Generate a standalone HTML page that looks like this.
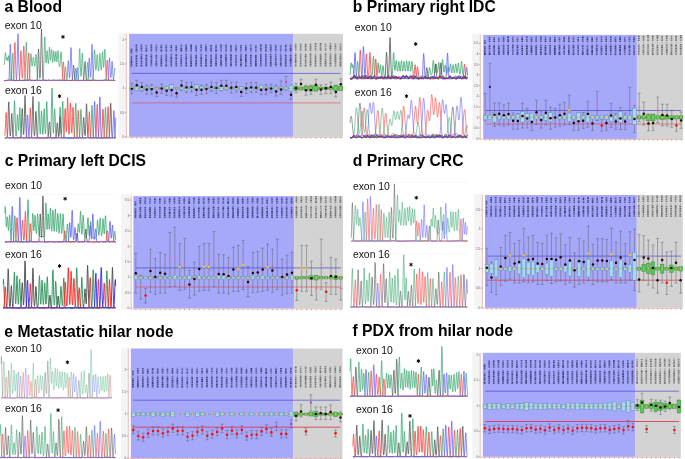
<!DOCTYPE html><html><head><meta charset="utf-8"><style>html,body{margin:0;padding:0;background:#fff;}body{width:685px;height:459px;overflow:hidden;}svg{display:block;font-family:"Liberation Sans", sans-serif;will-change:transform;}</style></head><body>
<svg width="685" height="459" viewBox="0 0 685 459">
<rect width="685" height="459" fill="#fff"/>
<rect x="118.5" y="33.3" width="8.5" height="105" fill="#f4f4f4"/>
<rect x="129.1" y="33.8" width="164" height="103" fill="#a6a8fa"/>
<rect x="293.1" y="33.8" width="49.9" height="103" fill="#d3d3d3"/>
<line x1="126.4" y1="33.8" x2="126.4" y2="137.6" stroke="#e6aaaa" stroke-width="0.7"/>
<line x1="126.4" y1="137.3" x2="343" y2="137.3" stroke="#e8a8a8" stroke-width="0.7"/>
<line x1="124.8" y1="136.7" x2="126.4" y2="136.7" stroke="#777" stroke-width="0.5"/>
<text x="124.4" y="137.8" font-size="3.2" fill="#666" text-anchor="end">0</text>
<line x1="124.8" y1="112.4" x2="126.4" y2="112.4" stroke="#777" stroke-width="0.5"/>
<text x="124.4" y="113.5" font-size="3.2" fill="#666" text-anchor="end">0.5</text>
<line x1="124.8" y1="88.1" x2="126.4" y2="88.1" stroke="#777" stroke-width="0.5"/>
<text x="124.4" y="89.2" font-size="3.2" fill="#666" text-anchor="end">1</text>
<line x1="124.8" y1="63.8" x2="126.4" y2="63.8" stroke="#777" stroke-width="0.5"/>
<text x="124.4" y="64.9" font-size="3.2" fill="#666" text-anchor="end">1.5</text>
<line x1="124.8" y1="39.5" x2="126.4" y2="39.5" stroke="#777" stroke-width="0.5"/>
<text x="124.4" y="40.6" font-size="3.2" fill="#666" text-anchor="end">2</text>
<line x1="131.8" y1="137.3" x2="131.8" y2="138.6" stroke="#666" stroke-width="0.5"/>
<line x1="136.78" y1="137.3" x2="136.78" y2="138.6" stroke="#666" stroke-width="0.5"/>
<line x1="141.75" y1="137.3" x2="141.75" y2="138.6" stroke="#666" stroke-width="0.5"/>
<line x1="146.73" y1="137.3" x2="146.73" y2="138.6" stroke="#666" stroke-width="0.5"/>
<line x1="151.7" y1="137.3" x2="151.7" y2="138.6" stroke="#666" stroke-width="0.5"/>
<line x1="156.68" y1="137.3" x2="156.68" y2="138.6" stroke="#666" stroke-width="0.5"/>
<line x1="161.66" y1="137.3" x2="161.66" y2="138.6" stroke="#666" stroke-width="0.5"/>
<line x1="166.63" y1="137.3" x2="166.63" y2="138.6" stroke="#666" stroke-width="0.5"/>
<line x1="171.61" y1="137.3" x2="171.61" y2="138.6" stroke="#666" stroke-width="0.5"/>
<line x1="176.58" y1="137.3" x2="176.58" y2="138.6" stroke="#666" stroke-width="0.5"/>
<line x1="181.56" y1="137.3" x2="181.56" y2="138.6" stroke="#666" stroke-width="0.5"/>
<line x1="186.54" y1="137.3" x2="186.54" y2="138.6" stroke="#666" stroke-width="0.5"/>
<line x1="191.51" y1="137.3" x2="191.51" y2="138.6" stroke="#666" stroke-width="0.5"/>
<line x1="196.49" y1="137.3" x2="196.49" y2="138.6" stroke="#666" stroke-width="0.5"/>
<line x1="201.46" y1="137.3" x2="201.46" y2="138.6" stroke="#666" stroke-width="0.5"/>
<line x1="206.44" y1="137.3" x2="206.44" y2="138.6" stroke="#666" stroke-width="0.5"/>
<line x1="211.42" y1="137.3" x2="211.42" y2="138.6" stroke="#666" stroke-width="0.5"/>
<line x1="216.39" y1="137.3" x2="216.39" y2="138.6" stroke="#666" stroke-width="0.5"/>
<line x1="221.37" y1="137.3" x2="221.37" y2="138.6" stroke="#666" stroke-width="0.5"/>
<line x1="226.34" y1="137.3" x2="226.34" y2="138.6" stroke="#666" stroke-width="0.5"/>
<line x1="231.32" y1="137.3" x2="231.32" y2="138.6" stroke="#666" stroke-width="0.5"/>
<line x1="236.3" y1="137.3" x2="236.3" y2="138.6" stroke="#666" stroke-width="0.5"/>
<line x1="241.27" y1="137.3" x2="241.27" y2="138.6" stroke="#666" stroke-width="0.5"/>
<line x1="246.25" y1="137.3" x2="246.25" y2="138.6" stroke="#666" stroke-width="0.5"/>
<line x1="251.22" y1="137.3" x2="251.22" y2="138.6" stroke="#666" stroke-width="0.5"/>
<line x1="256.2" y1="137.3" x2="256.2" y2="138.6" stroke="#666" stroke-width="0.5"/>
<line x1="261.18" y1="137.3" x2="261.18" y2="138.6" stroke="#666" stroke-width="0.5"/>
<line x1="266.15" y1="137.3" x2="266.15" y2="138.6" stroke="#666" stroke-width="0.5"/>
<line x1="271.13" y1="137.3" x2="271.13" y2="138.6" stroke="#666" stroke-width="0.5"/>
<line x1="276.1" y1="137.3" x2="276.1" y2="138.6" stroke="#666" stroke-width="0.5"/>
<line x1="281.08" y1="137.3" x2="281.08" y2="138.6" stroke="#666" stroke-width="0.5"/>
<line x1="286.06" y1="137.3" x2="286.06" y2="138.6" stroke="#666" stroke-width="0.5"/>
<line x1="291.03" y1="137.3" x2="291.03" y2="138.6" stroke="#666" stroke-width="0.5"/>
<line x1="296.01" y1="137.3" x2="296.01" y2="138.6" stroke="#666" stroke-width="0.5"/>
<line x1="300.98" y1="137.3" x2="300.98" y2="138.6" stroke="#666" stroke-width="0.5"/>
<line x1="305.96" y1="137.3" x2="305.96" y2="138.6" stroke="#666" stroke-width="0.5"/>
<line x1="310.94" y1="137.3" x2="310.94" y2="138.6" stroke="#666" stroke-width="0.5"/>
<line x1="315.91" y1="137.3" x2="315.91" y2="138.6" stroke="#666" stroke-width="0.5"/>
<line x1="320.89" y1="137.3" x2="320.89" y2="138.6" stroke="#666" stroke-width="0.5"/>
<line x1="325.86" y1="137.3" x2="325.86" y2="138.6" stroke="#666" stroke-width="0.5"/>
<line x1="330.84" y1="137.3" x2="330.84" y2="138.6" stroke="#666" stroke-width="0.5"/>
<line x1="335.82" y1="137.3" x2="335.82" y2="138.6" stroke="#666" stroke-width="0.5"/>
<line x1="340.79" y1="137.3" x2="340.79" y2="138.6" stroke="#666" stroke-width="0.5"/>
<path d="M130.6 65.4h1.7v1.2h-1.7zM130.6 61.6h1.7v1.6h-1.7zM130.6 60.2h1.7v1.1h-1.7zM130.6 50h1.7v1.4h-1.7zM135.6 62.9h1.7v1.7h-1.7zM135.6 60.9h1.7v1.4h-1.7zM135.6 57.4h1.7v1.3h-1.7zM135.6 50.2h1.7v1.4h-1.7zM135.6 48.6h1.7v1.2h-1.7zM140.6 65.1h1.7v1.5h-1.7zM140.6 57.3h1.7v1.7h-1.7zM140.6 54.3h1.7v0.8h-1.7zM145.5 63.6h1.7v1.1h-1.7zM145.5 54.7h1.7v1.6h-1.7zM145.5 49.9h1.7v1.6h-1.7zM150.5 55.4h1.7v1.9h-1.7zM150.5 50.6h1.7v1h-1.7zM155.5 61.3h1.7v1.3h-1.7zM155.9 54.3h0.8v0.3h-0.8zM155.9 44.6h0.8v0.4h-0.8zM160.5 62.9h1.7v1.6h-1.7zM160.5 61h1.7v1.4h-1.7zM160.5 59.1h1.7v1.5h-1.7zM160.5 50.1h1.7v1.5h-1.7zM160.5 46.4h1.7v1.5h-1.7zM165.4 65.2h1.7v1.4h-1.7zM165.4 59.5h1.7v1.6h-1.7zM165.4 50.2h1.7v1.3h-1.7zM165.4 45.4h1.7v1.1h-1.7zM165.9 44.6h0.8v0.4h-0.8zM170.4 57.3h1.7v1.8h-1.7zM170.4 46.9h1.7v1.2h-1.7zM175.4 48.9h1.7v1.1h-1.7zM175.4 46.9h1.7v1.6h-1.7zM180.4 60.9h1.7v1.7h-1.7zM180.4 58.7h1.7v1.7h-1.7zM180.4 49.8h1.7v1.8h-1.7zM180.4 47.9h1.7v1.4h-1.7zM185.3 63.3h1.7v1.2h-1.7zM185.3 57.5h1.7v1.8h-1.7zM185.3 54.3h1.7v0.7h-1.7zM185.3 48.3h1.7v1.5h-1.7zM190.3 64.9h1.7v1.7h-1.7zM190.3 62.9h1.7v1.7h-1.7zM190.3 60.7h1.7v1.8h-1.7zM190.3 55.4h1.7v1.1h-1.7zM190.3 45.7h1.7v1.7h-1.7zM190.3 44.6h1.7v0.8h-1.7zM195.3 62.5h1.7v1.9h-1.7zM195.3 56.4h1.7v1.5h-1.7zM195.3 48.3h1.7v1h-1.7zM200.3 59.5h1.7v1.2h-1.7zM200.3 57.2h1.7v1.9h-1.7zM205.2 64.9h1.7v1.7h-1.7zM205.2 63.2h1.7v1.3h-1.7zM205.2 61.3h1.7v1.5h-1.7zM205.2 58.9h1.7v1.9h-1.7zM205.2 48.2h1.7v1.6h-1.7zM210.2 64.8h1.7v1.8h-1.7zM210.2 60.7h1.7v1.7h-1.7zM210.2 59.1h1.7v1.2h-1.7zM210.2 46.4h1.7v1.2h-1.7zM210.2 45h1.7v1.1h-1.7zM215.2 63h1.7v1.7h-1.7zM215.2 61.2h1.7v1.4h-1.7zM215.2 57.5h1.7v1.6h-1.7zM215.2 54.3h1.7v0.9h-1.7zM215.2 49.8h1.7v1.7h-1.7zM220.2 63.5h1.7v1.4h-1.7zM220.2 61.5h1.7v1.7h-1.7zM220.2 56.6h1.7v1.6h-1.7zM220.2 55.1h1.7v1.1h-1.7zM225.1 58.6h1.7v1.6h-1.7zM225.1 56.4h1.7v1.8h-1.7zM230.1 63.7h1.7v1.3h-1.7zM230.1 58.4h1.7v1.6h-1.7zM230.1 56.7h1.7v1.4h-1.7zM230.1 54.4h1.7v1.9h-1.7zM230.1 46.1h1.7v1.5h-1.7zM235.1 56.4h1.7v1.2h-1.7zM235.1 48.2h1.7v1.6h-1.7zM240.1 65.4h1.7v1.2h-1.7zM240.1 63.4h1.7v1.5h-1.7zM240.1 59.1h1.7v1.9h-1.7zM245 64.8h1.7v1.8h-1.7zM245 60.6h1.7v1.6h-1.7zM245 58.5h1.7v1.7h-1.7zM245 54.4h1.7v1.5h-1.7zM245 48.5h1.7v1.5h-1.7zM250 54.8h1.7v1.4h-1.7zM255 65.2h1.7v1.4h-1.7zM255 63.1h1.7v1.9h-1.7zM255 61.1h1.7v1.5h-1.7zM255 56.7h1.7v1.6h-1.7zM255 55h1.7v1.4h-1.7zM260 59.9h1.7v1.3h-1.7zM260 57.7h1.7v1.8h-1.7zM260 54.3h1.7v1h-1.7zM260 44.6h1.7v1.2h-1.7zM265 59.2h1.7v1.4h-1.7zM265 54.3h1.7v0.9h-1.7zM269.9 63.6h1.7v1.2h-1.7zM269.9 61.9h1.7v1.4h-1.7zM269.9 50.6h1.7v1h-1.7zM269.9 48.4h1.7v1.7h-1.7zM274.9 63.4h1.7v1.6h-1.7zM274.9 45.6h1.7v1.1h-1.7zM284.9 63.2h1.7v1.4h-1.7zM284.9 59h1.7v1.6h-1.7zM289.8 61.2h1.7v1.2h-1.7zM289.8 59.1h1.7v1.8h-1.7zM289.8 47.9h1.7v1.8h-1.7z" fill="#2a2a62" fill-opacity="0.85"/>
<path d="M130.6 63.6h1.7v1.3h-1.7zM130.6 48.5h1.7v1.2h-1.7zM135.6 65.1h1.7v1.5h-1.7zM135.6 59.2h1.7v1.2h-1.7zM135.6 55h1.7v1.9h-1.7zM135.6 44.6h1.7v1.3h-1.7zM140.6 63.2h1.7v1.4h-1.7zM140.6 61.1h1.7v1.7h-1.7zM140.6 47.7h1.7v1.8h-1.7zM140.6 46.1h1.7v1.2h-1.7zM140.6 44.6h1.7v0.9h-1.7zM145.5 65.1h1.7v1.5h-1.7zM145.5 61.9h1.7v1.3h-1.7zM145.5 60.1h1.7v1.4h-1.7zM145.5 58.1h1.7v1.6h-1.7zM145.5 47.9h1.7v1.7h-1.7zM150.5 63.2h1.7v1.6h-1.7zM150.5 61.2h1.7v1.7h-1.7zM150.5 59.6h1.7v1.3h-1.7zM150.5 48.7h1.7v1.4h-1.7zM150.5 46.4h1.7v1.8h-1.7zM150.5 44.6h1.7v1.3h-1.7zM155.5 65.5h1.7v1.1h-1.7zM155.5 63.1h1.7v1.8h-1.7zM155.5 54.9h1.7v1.9h-1.7zM155.5 48.6h1.7v1.2h-1.7zM155.5 45.4h1.7v1.2h-1.7zM160.5 64.9h1.7v1.7h-1.7zM160.5 44.7h1.7v1.1h-1.7zM165.4 57.8h1.7v1.3h-1.7zM165.4 54.3h1.7v1.1h-1.7zM165.4 48.6h1.7v1.2h-1.7zM165.4 47h1.7v1.1h-1.7zM170.4 65.3h1.7v1.3h-1.7zM170.4 61.3h1.7v1.9h-1.7zM170.4 59.4h1.7v1.5h-1.7zM170.4 54.3h1.7v0.8h-1.7zM170.4 44.9h1.7v1.5h-1.7zM175.4 65.2h1.7v1.4h-1.7zM175.4 62.9h1.7v1.8h-1.7zM175.4 61h1.7v1.5h-1.7zM175.4 57.8h1.7v1.2h-1.7zM175.4 56.4h1.7v1.2h-1.7zM175.4 54.3h1.7v1.7h-1.7zM175.4 50.5h1.7v1.1h-1.7zM180.4 63.1h1.7v1.1h-1.7zM180.4 44.8h1.7v1h-1.7zM185.3 64.9h1.7v1.7h-1.7zM185.3 50.3h1.7v1.3h-1.7zM185.3 46.2h1.7v1.7h-1.7zM185.3 44.6h1.7v1.1h-1.7zM190.3 57h1.7v1.3h-1.7zM190.8 54.3h0.8v0.7h-0.8zM190.3 47.8h1.7v1.6h-1.7zM195.3 60.3h1.7v1.8h-1.7zM195.3 54.7h1.7v1.3h-1.7zM195.3 49.8h1.7v1.8h-1.7zM200.3 65.1h1.7v1.5h-1.7zM200.3 62.8h1.7v1.7h-1.7zM200.3 55.4h1.7v1.2h-1.7zM200.3 54.3h1.7v0.7h-1.7zM200.3 46.4h1.7v1.6h-1.7zM205.2 54.8h1.7v1.6h-1.7zM205.2 50.3h1.7v1.3h-1.7zM210.2 62.7h1.7v1.6h-1.7zM210.2 55.1h1.7v1.7h-1.7zM210.2 49.8h1.7v1.8h-1.7zM210.2 47.9h1.7v1.6h-1.7zM215.2 59.4h1.7v1.4h-1.7zM215.2 46.1h1.7v1.7h-1.7zM220.2 60h1.7v1.2h-1.7zM220.6 54.3h0.8v0.4h-0.8zM220.2 44.6h1.7v1.7h-1.7zM225.1 65.2h1.7v1.4h-1.7zM225.1 60.5h1.7v1.8h-1.7zM225.1 48.6h1.7v1.1h-1.7zM230.1 65.3h1.7v1.3h-1.7zM230.1 62h1.7v1.5h-1.7zM230.1 60.3h1.7v1.3h-1.7zM230.1 50.1h1.7v1.4h-1.7zM235.1 63.5h1.7v1.5h-1.7zM235.1 61.8h1.7v1.1h-1.7zM235.1 60.2h1.7v1.2h-1.7zM235.1 55h1.7v1.1h-1.7zM240.1 57.3h1.7v1.4h-1.7zM240.1 54.3h1.7v1.1h-1.7zM240.1 46.9h1.7v1.3h-1.7zM240.1 44.9h1.7v1.5h-1.7zM245 56.3h1.7v1.9h-1.7zM245 46.9h1.7v1.3h-1.7zM245 45.5h1.7v1.1h-1.7zM250 62.9h1.7v1.5h-1.7zM250 60.6h1.7v1.8h-1.7zM250 47.9h1.7v1.8h-1.7zM250 44.6h1.7v1h-1.7zM255 58.8h1.7v1.9h-1.7zM255 50.2h1.7v1.4h-1.7zM255 46.8h1.7v1.1h-1.7zM260 65.2h1.7v1.4h-1.7zM260 55.6h1.7v1.7h-1.7zM260 48h1.7v1.8h-1.7zM260 46.2h1.7v1.2h-1.7zM265 61.2h1.7v1.3h-1.7zM265 57.6h1.7v1.2h-1.7zM265 55.5h1.7v1.5h-1.7zM265 50.1h1.7v1.4h-1.7zM265 46.8h1.7v1.4h-1.7zM265 44.6h1.7v1.6h-1.7zM269.9 65.3h1.7v1.3h-1.7zM269.9 60h1.7v1.5h-1.7zM269.9 57.6h1.7v1.9h-1.7zM269.9 55.4h1.7v1.8h-1.7zM269.9 54.3h1.7v0.8h-1.7zM269.9 46.6h1.7v1.4h-1.7zM274.9 61.4h1.7v1.8h-1.7zM274.9 59.5h1.7v1.3h-1.7zM274.9 57.7h1.7v1.5h-1.7zM274.9 54.3h1.7v1.2h-1.7zM274.9 50.5h1.7v1.1h-1.7zM274.9 48.9h1.7v1.1h-1.7zM274.9 47.2h1.7v1.2h-1.7zM275.4 44.6h0.8v0.5h-0.8zM279.9 63.1h1.7v1.8h-1.7zM279.9 61.7h1.7v1.1h-1.7zM279.9 57.8h1.7v1.9h-1.7zM284.9 65h1.7v1.6h-1.7zM284.9 61.1h1.7v1.7h-1.7zM284.9 57h1.7v1.6h-1.7zM284.9 55h1.7v1.6h-1.7zM285.3 54.3h0.8v0.4h-0.8zM284.9 50.5h1.7v1h-1.7zM284.9 49.1h1.7v1.2h-1.7zM284.9 45.6h1.7v1.4h-1.7zM284.9 44.6h1.7v0.7h-1.7zM289.8 55.1h1.7v1.4h-1.7zM290.3 54.3h0.8v0.5h-0.8zM289.8 49.9h1.7v1.6h-1.7zM289.8 46.1h1.7v1.3h-1.7zM289.8 44.6h1.7v1h-1.7z" fill="#2a2a62" fill-opacity="0.71"/>
<path d="M130.6 58.1h1.7v1.7h-1.7zM130.6 56.1h1.7v1.6h-1.7zM131.1 54.6h0.8v0.6h-0.8zM130.6 51.7h1.7v1.7h-1.7zM136 52.8h0.8v0.6h-0.8zM135.6 46.5h1.7v1.8h-1.7zM140.6 59.2h1.7v1.5h-1.7zM140.6 55.5h1.7v1.4h-1.7zM141 52.8h0.8v0.6h-0.8zM140.6 49.9h1.7v1.7h-1.7zM145.5 56.6h1.7v1.1h-1.7zM146 52.8h0.8v0.6h-0.8zM145.5 46.6h1.7v1h-1.7zM145.5 44.9h1.7v1.2h-1.7zM150.5 65.4h1.7v1.2h-1.7zM150.5 57.8h1.7v1.3h-1.7zM150.5 54.3h1.7v0.8h-1.7zM151 52.8h0.8v0.6h-0.8zM155.5 59.4h1.7v1.4h-1.7zM155.5 57.3h1.7v1.8h-1.7zM155.9 52.8h0.8v0.6h-0.8zM155.5 50.2h1.7v1.4h-1.7zM155.5 47.1h1.7v1.2h-1.7zM160.5 57.1h1.7v1.7h-1.7zM160.5 54.9h1.7v1.8h-1.7zM160.9 52.8h0.8v0.6h-0.8zM160.5 48.4h1.7v1.3h-1.7zM165.4 63.7h1.7v1.2h-1.7zM165.4 61.4h1.7v1.8h-1.7zM165.4 55.7h1.7v1.8h-1.7zM165.9 52.8h0.8v0.6h-0.8zM170.4 63.4h1.7v1.6h-1.7zM170.4 55.5h1.7v1.2h-1.7zM170.9 52.8h0.8v0.6h-0.8zM170.4 50.1h1.7v1.5h-1.7zM170.4 48.4h1.7v1.2h-1.7zM175.4 59.3h1.7v1.3h-1.7zM175.8 52.8h0.8v0.6h-0.8zM175.4 45.1h1.7v1.3h-1.7zM180.4 64.8h1.7v1.8h-1.7zM180.4 56.9h1.7v1.4h-1.7zM180.4 54.8h1.7v1.6h-1.7zM180.8 52.8h0.8v0.6h-0.8zM180.4 46.2h1.7v1.3h-1.7zM185.3 61.4h1.7v1.6h-1.7zM185.3 59.7h1.7v1.5h-1.7zM185.3 55.4h1.7v1.6h-1.7zM185.8 52.8h0.8v0.6h-0.8zM190.3 58.6h1.7v1.6h-1.7zM190.8 52.8h0.8v0.6h-0.8zM190.3 50h1.7v1.6h-1.7zM195.3 64.8h1.7v1.8h-1.7zM195.3 58.3h1.7v1.5h-1.7zM195.7 52.8h0.8v0.6h-0.8zM195.3 46.8h1.7v1.2h-1.7zM195.3 45.3h1.7v1.2h-1.7zM200.3 61.1h1.7v1.3h-1.7zM200.7 52.8h0.8v0.6h-0.8zM200.3 50.2h1.7v1.4h-1.7zM200.3 48.4h1.7v1.4h-1.7zM200.3 44.6h1.7v1.4h-1.7zM205.2 56.9h1.7v1.6h-1.7zM205.7 52.8h0.8v0.6h-0.8zM205.2 46.1h1.7v1.8h-1.7zM205.2 44.6h1.7v0.9h-1.7zM210.2 57.2h1.7v1.5h-1.7zM210.7 54.3h0.8v0.5h-0.8zM210.7 52.8h0.8v0.6h-0.8zM215.2 65.1h1.7v1.5h-1.7zM215.2 55.6h1.7v1.6h-1.7zM215.6 52.8h0.8v0.6h-0.8zM215.2 48.3h1.7v1.2h-1.7zM215.2 44.6h1.7v1h-1.7zM220.2 65.4h1.7v1.2h-1.7zM220.2 58.4h1.7v1.2h-1.7zM220.6 52.8h0.8v0.6h-0.8zM220.2 49.9h1.7v1.7h-1.7zM220.2 48.3h1.7v1.1h-1.7zM220.2 46.6h1.7v1.3h-1.7zM225.1 62.8h1.7v1.9h-1.7zM225.1 54.3h1.7v1.8h-1.7zM225.6 52.8h0.8v0.6h-0.8zM225.1 50h1.7v1.5h-1.7zM225.1 46.3h1.7v1.7h-1.7zM225.1 44.6h1.7v1.4h-1.7zM230.6 52.8h0.8v0.6h-0.8zM230.1 48h1.7v1.7h-1.7zM230.1 44.7h1.7v1.1h-1.7zM235.1 65.5h1.7v1.1h-1.7zM235.1 58h1.7v1.8h-1.7zM235.5 52.8h0.8v0.6h-0.8zM235.1 50.3h1.7v1.3h-1.7zM235.1 46.5h1.7v1.3h-1.7zM235.1 44.8h1.7v1.3h-1.7zM240.1 61.5h1.7v1.5h-1.7zM240.1 55.8h1.7v1.2h-1.7zM240.5 52.8h0.8v0.6h-0.8zM240.1 50.3h1.7v1.3h-1.7zM240.1 48.4h1.7v1.4h-1.7zM245 62.6h1.7v1.7h-1.7zM245.5 52.8h0.8v0.6h-0.8zM245 50.4h1.7v1.1h-1.7zM245.5 44.6h0.8v0.6h-0.8zM250 64.9h1.7v1.7h-1.7zM250 58.8h1.7v1.3h-1.7zM250 56.6h1.7v1.8h-1.7zM250.5 52.8h0.8v0.6h-0.8zM250 50.2h1.7v1.4h-1.7zM250 46.2h1.7v1.4h-1.7zM255.5 52.8h0.8v0.6h-0.8zM255 48.4h1.7v1.4h-1.7zM255 45h1.7v1.2h-1.7zM260 63h1.7v1.7h-1.7zM260 61.6h1.7v1.2h-1.7zM260.4 52.8h0.8v0.6h-0.8zM260 50.3h1.7v1.3h-1.7zM265 64.9h1.7v1.7h-1.7zM265 62.8h1.7v1.9h-1.7zM265.4 52.8h0.8v0.6h-0.8zM265 48.6h1.7v1.1h-1.7zM270.4 52.8h0.8v0.6h-0.8zM269.9 44.6h1.7v1.5h-1.7zM274.9 65.4h1.7v1.2h-1.7zM274.9 56h1.7v1.3h-1.7zM275.4 52.8h0.8v0.6h-0.8zM279.9 65.3h1.7v1.3h-1.7zM279.9 60.1h1.7v1.2h-1.7zM279.9 55.8h1.7v1.5h-1.7zM279.9 54.3h1.7v1.2h-1.7zM280.3 52.8h0.8v0.6h-0.8zM279.9 50h1.7v1.5h-1.7zM279.9 48.2h1.7v1.6h-1.7zM279.9 46.6h1.7v1.2h-1.7zM279.9 45.2h1.7v1.1h-1.7zM285.3 52.8h0.8v0.6h-0.8zM284.9 47.4h1.7v1.2h-1.7zM289.8 65h1.7v1.6h-1.7zM289.8 63h1.7v1.6h-1.7zM289.8 57h1.7v1.8h-1.7zM290.3 52.8h0.8v0.6h-0.8z" fill="#2a2a62" fill-opacity="0.57"/>
<path d="M294.8 65.3h1.7v1.3h-1.7zM294.8 59.1h1.7v1.8h-1.7zM294.8 57h1.7v1.7h-1.7zM294.8 45.1h1.7v1.6h-1.7zM294.8 43.4h1.7v1.2h-1.7zM299.8 65h1.7v1.6h-1.7zM299.8 62.9h1.7v1.7h-1.7zM299.8 61.2h1.7v1.3h-1.7zM299.8 57.6h1.7v1.5h-1.7zM299.8 45.9h1.7v1.2h-1.7zM299.8 44.1h1.7v1.3h-1.7zM300.2 43.1h0.8v0.5h-0.8zM304.8 63.3h1.7v1.2h-1.7zM304.8 54.1h1.7v1.4h-1.7zM304.8 49h1.7v1.7h-1.7zM304.8 45.3h1.7v1.7h-1.7zM304.8 43.7h1.7v1.2h-1.7zM309.7 65.4h1.7v1.2h-1.7zM309.7 59.2h1.7v1.6h-1.7zM309.7 55.3h1.7v1.4h-1.7zM309.7 48.1h1.7v1.2h-1.7zM309.7 45.9h1.7v1.8h-1.7zM309.7 44.1h1.7v1.4h-1.7zM314.7 64.9h1.7v1.7h-1.7zM314.7 62.7h1.7v1.8h-1.7zM314.7 57.8h1.7v1.3h-1.7zM315.2 53.4h0.8v0.6h-0.8zM314.7 45.9h1.7v1.1h-1.7zM314.7 44.3h1.7v1.3h-1.7zM314.7 43.1h1.7v0.9h-1.7zM319.7 62.8h1.7v1.7h-1.7zM319.7 61.1h1.7v1.2h-1.7zM319.7 59.3h1.7v1.5h-1.7zM319.7 55.6h1.7v1.7h-1.7zM319.7 53.9h1.7v1.4h-1.7zM319.7 49.7h1.7v1h-1.7zM319.7 46.7h1.7v1.1h-1.7zM319.7 44.6h1.7v1.6h-1.7zM324.7 65h1.7v1.6h-1.7zM324.7 58.7h1.7v1.6h-1.7zM324.7 49.3h1.7v1.4h-1.7zM329.6 61.4h1.7v1.3h-1.7zM329.6 59.8h1.7v1.3h-1.7zM329.6 55.3h1.7v1.8h-1.7zM329.6 45.1h1.7v1.8h-1.7zM334.6 54.8h1.7v1.4h-1.7zM339.6 63.8h1.7v1.2h-1.7zM339.6 55.5h1.7v1.9h-1.7zM339.6 47.5h1.7v1.2h-1.7z" fill="#555555" fill-opacity="0.71"/>
<path d="M294.8 63.4h1.7v1.5h-1.7zM295.3 51.9h0.8v0.6h-0.8zM294.8 49.2h1.7v1.5h-1.7zM294.8 47h1.7v1.7h-1.7zM299.8 59.5h1.7v1.4h-1.7zM299.8 55.3h1.7v1.7h-1.7zM299.8 53.4h1.7v1.5h-1.7zM300.2 51.9h0.8v0.6h-0.8zM299.8 49h1.7v1.8h-1.7zM304.8 61.9h1.7v1.1h-1.7zM304.8 58.1h1.7v1.3h-1.7zM305.2 51.9h0.8v0.6h-0.8zM309.7 57.2h1.7v1.7h-1.7zM310.2 51.9h0.8v0.6h-0.8zM310.2 43.1h0.8v0.6h-0.8zM314.7 54.5h1.7v1.3h-1.7zM315.2 51.9h0.8v0.6h-0.8zM314.7 49.5h1.7v1.2h-1.7zM314.7 47.6h1.7v1.6h-1.7zM319.7 64.8h1.7v1.8h-1.7zM320.1 51.9h0.8v0.6h-0.8zM324.7 57.2h1.7v1.1h-1.7zM324.7 55.2h1.7v1.5h-1.7zM325.1 51.9h0.8v0.6h-0.8zM324.7 47.7h1.7v1.1h-1.7zM324.7 45.7h1.7v1.4h-1.7zM324.7 43.6h1.7v1.7h-1.7zM329.6 65h1.7v1.6h-1.7zM329.6 53.5h1.7v1.2h-1.7zM330.1 51.9h0.8v0.6h-0.8zM329.6 49.5h1.7v1.2h-1.7zM329.6 43.1h1.7v1.5h-1.7zM334.6 64.7h1.7v1.9h-1.7zM334.6 62.4h1.7v1.8h-1.7zM334.6 53.4h1.7v1.1h-1.7zM335.1 51.9h0.8v0.6h-0.8zM334.6 49.7h1.7v1.1h-1.7zM334.6 47.5h1.7v1.6h-1.7zM334.6 44.3h1.7v1.4h-1.7zM339.6 59.6h1.7v1.6h-1.7zM339.6 53.5h1.7v1.6h-1.7zM340 51.9h0.8v0.6h-0.8zM339.6 49h1.7v1.7h-1.7zM339.6 46h1.7v1.2h-1.7zM339.6 44h1.7v1.6h-1.7z" fill="#555555" fill-opacity="0.57"/>
<path d="M294.8 61.3h1.7v1.6h-1.7zM294.8 54.9h1.7v1.6h-1.7zM294.8 53.4h1.7v1.1h-1.7zM299.8 47.4h1.7v1.2h-1.7zM304.8 65h1.7v1.6h-1.7zM304.8 59.9h1.7v1.7h-1.7zM304.8 55.8h1.7v1.8h-1.7zM304.8 47.6h1.7v1h-1.7zM309.7 63.5h1.7v1.4h-1.7zM309.7 61.3h1.7v1.7h-1.7zM309.7 53.4h1.7v1.4h-1.7zM309.7 49.7h1.7v1h-1.7zM314.7 61.1h1.7v1.2h-1.7zM314.7 59.4h1.7v1.4h-1.7zM314.7 56.3h1.7v1.1h-1.7zM319.7 57.6h1.7v1.3h-1.7zM319.7 48.3h1.7v1.1h-1.7zM319.7 43.1h1.7v1.1h-1.7zM324.7 62.9h1.7v1.6h-1.7zM324.7 60.7h1.7v1.7h-1.7zM324.7 53.5h1.7v1.3h-1.7zM329.6 63.1h1.7v1.5h-1.7zM329.6 57.4h1.7v1.9h-1.7zM329.6 47.3h1.7v1.8h-1.7zM334.6 60.4h1.7v1.7h-1.7zM334.6 58.4h1.7v1.5h-1.7zM334.6 56.5h1.7v1.6h-1.7zM334.6 46h1.7v1.1h-1.7zM335.1 43.1h0.8v0.7h-0.8zM339.6 65.3h1.7v1.3h-1.7zM339.6 61.7h1.7v1.8h-1.7zM339.6 57.7h1.7v1.6h-1.7zM340 43.1h0.8v0.3h-0.8z" fill="#555555" fill-opacity="0.85"/>
<line x1="131.6" y1="73.4" x2="340.7" y2="73.4" stroke="#3c3cd0" stroke-opacity="0.62" stroke-width="1"/>
<line x1="131.6" y1="102.9" x2="340.7" y2="102.9" stroke="#e83c3c" stroke-opacity="0.55" stroke-width="1.0"/>
<line x1="131.8" y1="88.3" x2="340.79" y2="88.3" stroke="#4a5470" stroke-width="0.55" stroke-dasharray="1.1 1.3"/>
<path d="M131.8 83.4V93.6M130.3 83.4h3M130.3 93.6h3" stroke="#62626e" stroke-width="0.5" fill="none"/>
<rect x="129.8" y="86.2" width="4" height="4.1" fill="#a6d8f2" stroke="#6f8fb8" stroke-width="0.5"/>
<line x1="129.8" y1="88.3" x2="133.8" y2="88.3" stroke="#6f8fb8" stroke-width="0.45"/>
<path d="M131.1 87.75l1.4 1.1M132.5 87.75l-1.4 1.1" stroke="#e8e030" stroke-width="0.7"/>
<circle cx="131.8" cy="88.8" r="1.25" fill="#1e0000"/><circle cx="131.8" cy="88.8" r="0.45" fill="#7a1010"/>
<path d="M136.78 80.3V90.3M135.28 80.3h3M135.28 90.3h3" stroke="#62626e" stroke-width="0.5" fill="none"/>
<rect x="134.78" y="86.2" width="4" height="4.1" fill="#a6d8f2" stroke="#6f8fb8" stroke-width="0.5"/>
<line x1="134.78" y1="88.3" x2="138.78" y2="88.3" stroke="#6f8fb8" stroke-width="0.45"/>
<path d="M136.08 87.75l1.4 1.1M137.48 87.75l-1.4 1.1" stroke="#e8e030" stroke-width="0.7"/>
<circle cx="136.78" cy="85.2" r="1.25" fill="#1e0000"/><circle cx="136.78" cy="85.2" r="0.45" fill="#7a1010"/>
<path d="M141.75 82.4V91.3M140.25 82.4h3M140.25 91.3h3" stroke="#62626e" stroke-width="0.5" fill="none"/>
<rect x="139.75" y="86.5" width="4" height="3.5" fill="#a6d8f2" stroke="#6f8fb8" stroke-width="0.5"/>
<line x1="139.75" y1="88.3" x2="143.75" y2="88.3" stroke="#6f8fb8" stroke-width="0.45"/>
<path d="M141.05 87.75l1.4 1.1M142.45 87.75l-1.4 1.1" stroke="#e8e030" stroke-width="0.7"/>
<circle cx="141.75" cy="87.1" r="1.25" fill="#1e0000"/><circle cx="141.75" cy="87.1" r="0.45" fill="#7a1010"/>
<path d="M146.73 85.2V94.2M145.23 85.2h3M145.23 94.2h3" stroke="#62626e" stroke-width="0.5" fill="none"/>
<rect x="144.73" y="87.1" width="4" height="2.4" fill="#a6d8f2" stroke="#6f8fb8" stroke-width="0.5"/>
<line x1="144.73" y1="88.3" x2="148.73" y2="88.3" stroke="#6f8fb8" stroke-width="0.45"/>
<path d="M146.03 87.75l1.4 1.1M147.43 87.75l-1.4 1.1" stroke="#e8e030" stroke-width="0.7"/>
<circle cx="146.73" cy="89.5" r="1.25" fill="#1e0000"/><circle cx="146.73" cy="89.5" r="0.45" fill="#7a1010"/>
<path d="M151.7 84.4V94.4M150.2 84.4h3M150.2 94.4h3" stroke="#62626e" stroke-width="0.5" fill="none"/>
<rect x="149.7" y="86.2" width="4" height="4.1" fill="#a6d8f2" stroke="#6f8fb8" stroke-width="0.5"/>
<line x1="149.7" y1="88.3" x2="153.7" y2="88.3" stroke="#6f8fb8" stroke-width="0.45"/>
<path d="M151 87.75l1.4 1.1M152.4 87.75l-1.4 1.1" stroke="#e8e030" stroke-width="0.7"/>
<circle cx="151.7" cy="89.1" r="1.25" fill="#1e0000"/><circle cx="151.7" cy="89.1" r="0.45" fill="#7a1010"/>
<path d="M156.68 87.3V96.7M155.18 87.3h3M155.18 96.7h3" stroke="#62626e" stroke-width="0.5" fill="none"/>
<path d="M155.98 87.75l1.4 1.1M157.38 87.75l-1.4 1.1" stroke="#e8e030" stroke-width="0.7"/>
<circle cx="156.68" cy="92.4" r="1.25" fill="#1e0000"/><circle cx="156.68" cy="92.4" r="0.45" fill="#7a1010"/>
<path d="M161.66 84V93.4M160.16 84h3M160.16 93.4h3" stroke="#62626e" stroke-width="0.5" fill="none"/>
<rect x="159.66" y="87.1" width="4" height="2.4" fill="#a6d8f2" stroke="#6f8fb8" stroke-width="0.5"/>
<line x1="159.66" y1="88.3" x2="163.66" y2="88.3" stroke="#6f8fb8" stroke-width="0.45"/>
<path d="M160.96 87.75l1.4 1.1M162.36 87.75l-1.4 1.1" stroke="#e8e030" stroke-width="0.7"/>
<circle cx="161.66" cy="88.6" r="1.25" fill="#1e0000"/><circle cx="161.66" cy="88.6" r="0.45" fill="#7a1010"/>
<path d="M166.63 86.8V95.4M165.13 86.8h3M165.13 95.4h3" stroke="#62626e" stroke-width="0.5" fill="none"/>
<rect x="164.63" y="86.4" width="4" height="3.4" fill="#a6d8f2" stroke="#6f8fb8" stroke-width="0.5"/>
<line x1="164.63" y1="88.3" x2="168.63" y2="88.3" stroke="#6f8fb8" stroke-width="0.45"/>
<path d="M165.93 87.75l1.4 1.1M167.33 87.75l-1.4 1.1" stroke="#e8e030" stroke-width="0.7"/>
<circle cx="166.63" cy="90.8" r="1.25" fill="#1e0000"/><circle cx="166.63" cy="90.8" r="0.45" fill="#7a1010"/>
<path d="M171.61 84.4V95.9M170.11 84.4h3M170.11 95.9h3" stroke="#62626e" stroke-width="0.5" fill="none"/>
<rect x="169.61" y="84.7" width="4" height="5.1" fill="#a6d8f2" stroke="#6f8fb8" stroke-width="0.5"/>
<line x1="169.61" y1="88.3" x2="173.61" y2="88.3" stroke="#6f8fb8" stroke-width="0.45"/>
<path d="M170.91 87.75l1.4 1.1M172.31 87.75l-1.4 1.1" stroke="#e8e030" stroke-width="0.7"/>
<circle cx="171.61" cy="90.1" r="1.25" fill="#1e0000"/><circle cx="171.61" cy="90.1" r="0.45" fill="#7a1010"/>
<path d="M176.58 87.8V97.3M175.08 87.8h3M175.08 97.3h3" stroke="#62626e" stroke-width="0.5" fill="none"/>
<path d="M175.88 87.75l1.4 1.1M177.28 87.75l-1.4 1.1" stroke="#e8e030" stroke-width="0.7"/>
<circle cx="176.58" cy="93.2" r="1.25" fill="#1e0000"/><circle cx="176.58" cy="93.2" r="0.45" fill="#7a1010"/>
<path d="M181.56 80.6V90.3M180.06 80.6h3M180.06 90.3h3" stroke="#62626e" stroke-width="0.5" fill="none"/>
<rect x="179.56" y="87.1" width="4" height="2.4" fill="#a6d8f2" stroke="#6f8fb8" stroke-width="0.5"/>
<line x1="179.56" y1="88.3" x2="183.56" y2="88.3" stroke="#6f8fb8" stroke-width="0.45"/>
<path d="M180.86 87.75l1.4 1.1M182.26 87.75l-1.4 1.1" stroke="#e8e030" stroke-width="0.7"/>
<circle cx="181.56" cy="85.4" r="1.25" fill="#1e0000"/><circle cx="181.56" cy="85.4" r="0.45" fill="#7a1010"/>
<path d="M186.54 82.4V92.6M185.04 82.4h3M185.04 92.6h3" stroke="#62626e" stroke-width="0.5" fill="none"/>
<rect x="184.54" y="86.2" width="4" height="4.1" fill="#a6d8f2" stroke="#6f8fb8" stroke-width="0.5"/>
<line x1="184.54" y1="88.3" x2="188.54" y2="88.3" stroke="#6f8fb8" stroke-width="0.45"/>
<path d="M185.84 87.75l1.4 1.1M187.24 87.75l-1.4 1.1" stroke="#e8e030" stroke-width="0.7"/>
<circle cx="186.54" cy="87.5" r="1.25" fill="#1e0000"/><circle cx="186.54" cy="87.5" r="0.45" fill="#7a1010"/>
<path d="M191.51 82V91.9M190.01 82h3M190.01 91.9h3" stroke="#62626e" stroke-width="0.5" fill="none"/>
<rect x="189.51" y="87.1" width="4" height="2.4" fill="#a6d8f2" stroke="#6f8fb8" stroke-width="0.5"/>
<line x1="189.51" y1="88.3" x2="193.51" y2="88.3" stroke="#6f8fb8" stroke-width="0.45"/>
<path d="M190.81 87.75l1.4 1.1M192.21 87.75l-1.4 1.1" stroke="#e8e030" stroke-width="0.7"/>
<circle cx="191.51" cy="87.1" r="1.25" fill="#1e0000"/><circle cx="191.51" cy="87.1" r="0.45" fill="#7a1010"/>
<path d="M196.49 84.7V95.4M194.99 84.7h3M194.99 95.4h3" stroke="#62626e" stroke-width="0.5" fill="none"/>
<rect x="194.49" y="84.7" width="4" height="5.1" fill="#a6d8f2" stroke="#6f8fb8" stroke-width="0.5"/>
<line x1="194.49" y1="88.3" x2="198.49" y2="88.3" stroke="#6f8fb8" stroke-width="0.45"/>
<path d="M195.79 87.75l1.4 1.1M197.19 87.75l-1.4 1.1" stroke="#e8e030" stroke-width="0.7"/>
<circle cx="196.49" cy="89.8" r="1.25" fill="#1e0000"/><circle cx="196.49" cy="89.8" r="0.45" fill="#7a1010"/>
<path d="M201.46 85.2V94.4M199.96 85.2h3M199.96 94.4h3" stroke="#62626e" stroke-width="0.5" fill="none"/>
<rect x="199.46" y="86.2" width="4" height="4.1" fill="#a6d8f2" stroke="#6f8fb8" stroke-width="0.5"/>
<line x1="199.46" y1="88.3" x2="203.46" y2="88.3" stroke="#6f8fb8" stroke-width="0.45"/>
<path d="M200.76 87.75l1.4 1.1M202.16 87.75l-1.4 1.1" stroke="#e8e030" stroke-width="0.7"/>
<circle cx="201.46" cy="89.8" r="1.25" fill="#1e0000"/><circle cx="201.46" cy="89.8" r="0.45" fill="#7a1010"/>
<path d="M206.44 84.4V93.6M204.94 84.4h3M204.94 93.6h3" stroke="#62626e" stroke-width="0.5" fill="none"/>
<rect x="204.44" y="87.1" width="4" height="2.4" fill="#a6d8f2" stroke="#6f8fb8" stroke-width="0.5"/>
<line x1="204.44" y1="88.3" x2="208.44" y2="88.3" stroke="#6f8fb8" stroke-width="0.45"/>
<path d="M205.74 87.75l1.4 1.1M207.14 87.75l-1.4 1.1" stroke="#e8e030" stroke-width="0.7"/>
<circle cx="206.44" cy="89.1" r="1.25" fill="#1e0000"/><circle cx="206.44" cy="89.1" r="0.45" fill="#7a1010"/>
<path d="M211.42 82.2V91.3M209.92 82.2h3M209.92 91.3h3" stroke="#62626e" stroke-width="0.5" fill="none"/>
<rect x="209.42" y="87.1" width="4" height="2.4" fill="#a6d8f2" stroke="#6f8fb8" stroke-width="0.5"/>
<line x1="209.42" y1="88.3" x2="213.42" y2="88.3" stroke="#6f8fb8" stroke-width="0.45"/>
<path d="M210.72 87.75l1.4 1.1M212.12 87.75l-1.4 1.1" stroke="#e8e030" stroke-width="0.7"/>
<circle cx="211.42" cy="87.1" r="1.25" fill="#1e0000"/><circle cx="211.42" cy="87.1" r="0.45" fill="#7a1010"/>
<path d="M216.39 82.7V93.4M214.89 82.7h3M214.89 93.4h3" stroke="#62626e" stroke-width="0.5" fill="none"/>
<rect x="214.39" y="86.2" width="4" height="4.1" fill="#a6d8f2" stroke="#6f8fb8" stroke-width="0.5"/>
<line x1="214.39" y1="88.3" x2="218.39" y2="88.3" stroke="#6f8fb8" stroke-width="0.45"/>
<path d="M215.69 87.75l1.4 1.1M217.09 87.75l-1.4 1.1" stroke="#e8e030" stroke-width="0.7"/>
<circle cx="216.39" cy="88.1" r="1.25" fill="#1e0000"/><circle cx="216.39" cy="88.1" r="0.45" fill="#7a1010"/>
<path d="M221.37 80.3V90.8M219.87 80.3h3M219.87 90.8h3" stroke="#62626e" stroke-width="0.5" fill="none"/>
<rect x="219.37" y="86.2" width="4" height="4.1" fill="#a6d8f2" stroke="#6f8fb8" stroke-width="0.5"/>
<line x1="219.37" y1="88.3" x2="223.37" y2="88.3" stroke="#6f8fb8" stroke-width="0.45"/>
<path d="M220.67 87.75l1.4 1.1M222.07 87.75l-1.4 1.1" stroke="#e8e030" stroke-width="0.7"/>
<circle cx="221.37" cy="85.7" r="1.25" fill="#1e0000"/><circle cx="221.37" cy="85.7" r="0.45" fill="#7a1010"/>
<path d="M226.34 80.3V89.8M224.84 80.3h3M224.84 89.8h3" stroke="#62626e" stroke-width="0.5" fill="none"/>
<rect x="224.34" y="87.1" width="4" height="2.4" fill="#a6d8f2" stroke="#6f8fb8" stroke-width="0.5"/>
<line x1="224.34" y1="88.3" x2="228.34" y2="88.3" stroke="#6f8fb8" stroke-width="0.45"/>
<path d="M225.64 87.75l1.4 1.1M227.04 87.75l-1.4 1.1" stroke="#e8e030" stroke-width="0.7"/>
<circle cx="226.34" cy="85.7" r="1.25" fill="#1e0000"/><circle cx="226.34" cy="85.7" r="0.45" fill="#7a1010"/>
<path d="M231.32 82.4V93.2M229.82 82.4h3M229.82 93.2h3" stroke="#62626e" stroke-width="0.5" fill="none"/>
<rect x="229.32" y="87.1" width="4" height="2.4" fill="#a6d8f2" stroke="#6f8fb8" stroke-width="0.5"/>
<line x1="229.32" y1="88.3" x2="233.32" y2="88.3" stroke="#6f8fb8" stroke-width="0.45"/>
<path d="M230.62 87.75l1.4 1.1M232.02 87.75l-1.4 1.1" stroke="#e8e030" stroke-width="0.7"/>
<circle cx="231.32" cy="87.8" r="1.25" fill="#1e0000"/><circle cx="231.32" cy="87.8" r="0.45" fill="#7a1010"/>
<path d="M236.3 82V91.9M234.8 82h3M234.8 91.9h3" stroke="#62626e" stroke-width="0.5" fill="none"/>
<rect x="234.3" y="87.1" width="4" height="2.4" fill="#a6d8f2" stroke="#6f8fb8" stroke-width="0.5"/>
<line x1="234.3" y1="88.3" x2="238.3" y2="88.3" stroke="#6f8fb8" stroke-width="0.45"/>
<path d="M235.6 87.75l1.4 1.1M237 87.75l-1.4 1.1" stroke="#e8e030" stroke-width="0.7"/>
<circle cx="236.3" cy="87.1" r="1.25" fill="#1e0000"/><circle cx="236.3" cy="87.1" r="0.45" fill="#7a1010"/>
<path d="M241.27 86.8V96.5M239.77 86.8h3M239.77 96.5h3" stroke="#62626e" stroke-width="0.5" fill="none"/>
<rect x="239.27" y="86.8" width="4" height="3" fill="#a6d8f2" stroke="#6f8fb8" stroke-width="0.5"/>
<line x1="239.27" y1="88.3" x2="243.27" y2="88.3" stroke="#6f8fb8" stroke-width="0.45"/>
<path d="M240.57 87.75l1.4 1.1M241.97 87.75l-1.4 1.1" stroke="#e8e030" stroke-width="0.7"/>
<circle cx="241.27" cy="91.9" r="1.25" fill="#1e0000"/><circle cx="241.27" cy="91.9" r="0.45" fill="#7a1010"/>
<path d="M246.25 83.4V93.4M244.75 83.4h3M244.75 93.4h3" stroke="#62626e" stroke-width="0.5" fill="none"/>
<rect x="244.25" y="87.1" width="4" height="2.4" fill="#a6d8f2" stroke="#6f8fb8" stroke-width="0.5"/>
<line x1="244.25" y1="88.3" x2="248.25" y2="88.3" stroke="#6f8fb8" stroke-width="0.45"/>
<path d="M245.55 87.75l1.4 1.1M246.95 87.75l-1.4 1.1" stroke="#e8e030" stroke-width="0.7"/>
<circle cx="246.25" cy="88.3" r="1.25" fill="#1e0000"/><circle cx="246.25" cy="88.3" r="0.45" fill="#7a1010"/>
<path d="M251.22 82.4V92.6M249.72 82.4h3M249.72 92.6h3" stroke="#62626e" stroke-width="0.5" fill="none"/>
<rect x="249.22" y="86.2" width="4" height="4.1" fill="#a6d8f2" stroke="#6f8fb8" stroke-width="0.5"/>
<line x1="249.22" y1="88.3" x2="253.22" y2="88.3" stroke="#6f8fb8" stroke-width="0.45"/>
<path d="M250.52 87.75l1.4 1.1M251.92 87.75l-1.4 1.1" stroke="#e8e030" stroke-width="0.7"/>
<circle cx="251.22" cy="87.5" r="1.25" fill="#1e0000"/><circle cx="251.22" cy="87.5" r="0.45" fill="#7a1010"/>
<path d="M256.2 82.4V92.4M254.7 82.4h3M254.7 92.4h3" stroke="#62626e" stroke-width="0.5" fill="none"/>
<rect x="254.2" y="87.1" width="4" height="2.4" fill="#a6d8f2" stroke="#6f8fb8" stroke-width="0.5"/>
<line x1="254.2" y1="88.3" x2="258.2" y2="88.3" stroke="#6f8fb8" stroke-width="0.45"/>
<path d="M255.5 87.75l1.4 1.1M256.9 87.75l-1.4 1.1" stroke="#e8e030" stroke-width="0.7"/>
<circle cx="256.2" cy="87.8" r="1.25" fill="#1e0000"/><circle cx="256.2" cy="87.8" r="0.45" fill="#7a1010"/>
<path d="M261.18 85.2V94.6M259.68 85.2h3M259.68 94.6h3" stroke="#62626e" stroke-width="0.5" fill="none"/>
<rect x="259.18" y="85.2" width="4" height="5.1" fill="#a6d8f2" stroke="#6f8fb8" stroke-width="0.5"/>
<line x1="259.18" y1="88.3" x2="263.18" y2="88.3" stroke="#6f8fb8" stroke-width="0.45"/>
<path d="M260.48 87.75l1.4 1.1M261.88 87.75l-1.4 1.1" stroke="#e8e030" stroke-width="0.7"/>
<circle cx="261.18" cy="89.8" r="1.25" fill="#1e0000"/><circle cx="261.18" cy="89.8" r="0.45" fill="#7a1010"/>
<path d="M266.15 84.3V94.4M264.65 84.3h3M264.65 94.4h3" stroke="#62626e" stroke-width="0.5" fill="none"/>
<rect x="264.15" y="87.1" width="4" height="2.4" fill="#a6d8f2" stroke="#6f8fb8" stroke-width="0.5"/>
<line x1="264.15" y1="88.3" x2="268.15" y2="88.3" stroke="#6f8fb8" stroke-width="0.45"/>
<path d="M265.45 87.75l1.4 1.1M266.85 87.75l-1.4 1.1" stroke="#e8e030" stroke-width="0.7"/>
<circle cx="266.15" cy="89.4" r="1.25" fill="#1e0000"/><circle cx="266.15" cy="89.4" r="0.45" fill="#7a1010"/>
<path d="M271.13 84.3V92.7M269.63 84.3h3M269.63 92.7h3" stroke="#62626e" stroke-width="0.5" fill="none"/>
<rect x="269.13" y="86.2" width="4" height="4.1" fill="#a6d8f2" stroke="#6f8fb8" stroke-width="0.5"/>
<line x1="269.13" y1="88.3" x2="273.13" y2="88.3" stroke="#6f8fb8" stroke-width="0.45"/>
<path d="M270.43 87.75l1.4 1.1M271.83 87.75l-1.4 1.1" stroke="#e8e030" stroke-width="0.7"/>
<circle cx="271.13" cy="88.5" r="1.25" fill="#1e0000"/><circle cx="271.13" cy="88.5" r="0.45" fill="#7a1010"/>
<path d="M276.1 85.2V96.1M274.6 85.2h3M274.6 96.1h3" stroke="#62626e" stroke-width="0.5" fill="none"/>
<rect x="274.1" y="87.1" width="4" height="2.4" fill="#a6d8f2" stroke="#6f8fb8" stroke-width="0.5"/>
<line x1="274.1" y1="88.3" x2="278.1" y2="88.3" stroke="#6f8fb8" stroke-width="0.45"/>
<path d="M275.4 87.75l1.4 1.1M276.8 87.75l-1.4 1.1" stroke="#e8e030" stroke-width="0.7"/>
<circle cx="276.1" cy="91.6" r="1.25" fill="#1e0000"/><circle cx="276.1" cy="91.6" r="0.45" fill="#7a1010"/>
<path d="M281.08 81V94.4M279.58 81h3M279.58 94.4h3" stroke="#62626e" stroke-width="0.5" fill="none"/>
<rect x="279.08" y="87.1" width="4" height="2.4" fill="#a6d8f2" stroke="#6f8fb8" stroke-width="0.5"/>
<line x1="279.08" y1="88.3" x2="283.08" y2="88.3" stroke="#6f8fb8" stroke-width="0.45"/>
<path d="M280.38 87.75l1.4 1.1M281.78 87.75l-1.4 1.1" stroke="#e8e030" stroke-width="0.7"/>
<circle cx="281.08" cy="89.4" r="1.25" fill="#1e0000"/><circle cx="281.08" cy="89.4" r="0.45" fill="#7a1010"/>
<path d="M286.06 76.5V90.2M284.56 76.5h3M284.56 90.2h3" stroke="#62626e" stroke-width="0.5" fill="none"/>
<rect x="284.06" y="87.1" width="4" height="2.4" fill="#a6d8f2" stroke="#6f8fb8" stroke-width="0.5"/>
<line x1="284.06" y1="88.3" x2="288.06" y2="88.3" stroke="#6f8fb8" stroke-width="0.45"/>
<path d="M285.36 87.75l1.4 1.1M286.76 87.75l-1.4 1.1" stroke="#e8e030" stroke-width="0.7"/>
<circle cx="286.06" cy="81.8" r="1.1" fill="#e83a9a"/>
<path d="M291.03 85.2V99.5M289.53 85.2h3M289.53 99.5h3" stroke="#62626e" stroke-width="0.5" fill="none"/>
<rect x="289.03" y="85.2" width="4" height="5.9" fill="#a6d8f2" stroke="#6f8fb8" stroke-width="0.5"/>
<line x1="289.03" y1="88.3" x2="293.03" y2="88.3" stroke="#6f8fb8" stroke-width="0.45"/>
<path d="M290.33 87.75l1.4 1.1M291.73 87.75l-1.4 1.1" stroke="#e8e030" stroke-width="0.7"/>
<circle cx="291.03" cy="94.7" r="1.25" fill="#1e0000"/><circle cx="291.03" cy="94.7" r="0.45" fill="#7a1010"/>
<path d="M296.01 83.5V92.7M294.51 83.5h3M294.51 92.7h3" stroke="#62626e" stroke-width="0.5" fill="none"/>
<rect x="294.01" y="86.2" width="4" height="4.1" fill="#5cc65c" stroke="#3a8e3a" stroke-width="0.5"/>
<line x1="294.01" y1="88.3" x2="298.01" y2="88.3" stroke="#3a8e3a" stroke-width="0.45"/>
<path d="M295.31 87.75l1.4 1.1M296.71 87.75l-1.4 1.1" stroke="#e8e030" stroke-width="0.7"/>
<circle cx="296.01" cy="88.2" r="1.25" fill="#1e0000"/><circle cx="296.01" cy="88.2" r="0.45" fill="#7a1010"/>
<path d="M300.98 79.3V90.2M299.48 79.3h3M299.48 90.2h3" stroke="#62626e" stroke-width="0.5" fill="none"/>
<rect x="298.98" y="87.1" width="4" height="2.4" fill="#5cc65c" stroke="#3a8e3a" stroke-width="0.5"/>
<line x1="298.98" y1="88.3" x2="302.98" y2="88.3" stroke="#3a8e3a" stroke-width="0.45"/>
<path d="M300.28 87.75l1.4 1.1M301.68 87.75l-1.4 1.1" stroke="#e8e030" stroke-width="0.7"/>
<circle cx="300.98" cy="84" r="1.25" fill="#1e0000"/><circle cx="300.98" cy="84" r="0.45" fill="#7a1010"/>
<path d="M305.96 85.2V95.3M304.46 85.2h3M304.46 95.3h3" stroke="#62626e" stroke-width="0.5" fill="none"/>
<rect x="303.96" y="86.2" width="4" height="4.1" fill="#5cc65c" stroke="#3a8e3a" stroke-width="0.5"/>
<line x1="303.96" y1="88.3" x2="307.96" y2="88.3" stroke="#3a8e3a" stroke-width="0.45"/>
<path d="M305.26 87.75l1.4 1.1M306.66 87.75l-1.4 1.1" stroke="#e8e030" stroke-width="0.7"/>
<circle cx="305.96" cy="90.2" r="1.25" fill="#1e0000"/><circle cx="305.96" cy="90.2" r="0.45" fill="#7a1010"/>
<path d="M310.94 85.2V94.4M309.44 85.2h3M309.44 94.4h3" stroke="#62626e" stroke-width="0.5" fill="none"/>
<rect x="308.94" y="86" width="4" height="5" fill="#5cc65c" stroke="#3a8e3a" stroke-width="0.5"/>
<line x1="308.94" y1="88.3" x2="312.94" y2="88.3" stroke="#3a8e3a" stroke-width="0.45"/>
<path d="M310.24 87.75l1.4 1.1M311.64 87.75l-1.4 1.1" stroke="#e8e030" stroke-width="0.7"/>
<circle cx="310.94" cy="89.9" r="1.25" fill="#1e0000"/><circle cx="310.94" cy="89.9" r="0.45" fill="#7a1010"/>
<path d="M315.91 79.3V91M314.41 79.3h3M314.41 91h3" stroke="#62626e" stroke-width="0.5" fill="none"/>
<rect x="313.91" y="85.2" width="4" height="5.8" fill="#5cc65c" stroke="#3a8e3a" stroke-width="0.5"/>
<line x1="313.91" y1="88.3" x2="317.91" y2="88.3" stroke="#3a8e3a" stroke-width="0.45"/>
<path d="M315.21 87.75l1.4 1.1M316.61 87.75l-1.4 1.1" stroke="#e8e030" stroke-width="0.7"/>
<circle cx="315.91" cy="84.8" r="1.25" fill="#1e0000"/><circle cx="315.91" cy="84.8" r="0.45" fill="#7a1010"/>
<path d="M320.89 84.8V94.4M319.39 84.8h3M319.39 94.4h3" stroke="#62626e" stroke-width="0.5" fill="none"/>
<rect x="318.89" y="87.1" width="4" height="2.4" fill="#5cc65c" stroke="#3a8e3a" stroke-width="0.5"/>
<line x1="318.89" y1="88.3" x2="322.89" y2="88.3" stroke="#3a8e3a" stroke-width="0.45"/>
<path d="M320.19 87.75l1.4 1.1M321.59 87.75l-1.4 1.1" stroke="#e8e030" stroke-width="0.7"/>
<circle cx="320.89" cy="89.4" r="1.25" fill="#1e0000"/><circle cx="320.89" cy="89.4" r="0.45" fill="#7a1010"/>
<path d="M325.86 84.3V93.6M324.36 84.3h3M324.36 93.6h3" stroke="#62626e" stroke-width="0.5" fill="none"/>
<rect x="323.86" y="87.1" width="4" height="2.4" fill="#5cc65c" stroke="#3a8e3a" stroke-width="0.5"/>
<line x1="323.86" y1="88.3" x2="327.86" y2="88.3" stroke="#3a8e3a" stroke-width="0.45"/>
<path d="M325.16 87.75l1.4 1.1M326.56 87.75l-1.4 1.1" stroke="#e8e030" stroke-width="0.7"/>
<circle cx="325.86" cy="88.2" r="1.25" fill="#1e0000"/><circle cx="325.86" cy="88.2" r="0.45" fill="#7a1010"/>
<path d="M330.84 82.2V93.6M329.34 82.2h3M329.34 93.6h3" stroke="#62626e" stroke-width="0.5" fill="none"/>
<rect x="328.84" y="87.1" width="4" height="2.4" fill="#5cc65c" stroke="#3a8e3a" stroke-width="0.5"/>
<line x1="328.84" y1="88.3" x2="332.84" y2="88.3" stroke="#3a8e3a" stroke-width="0.45"/>
<path d="M330.14 87.75l1.4 1.1M331.54 87.75l-1.4 1.1" stroke="#e8e030" stroke-width="0.7"/>
<circle cx="330.84" cy="86.9" r="1.25" fill="#1e0000"/><circle cx="330.84" cy="86.9" r="0.45" fill="#7a1010"/>
<path d="M335.82 85.2V96.9M334.32 85.2h3M334.32 96.9h3" stroke="#62626e" stroke-width="0.5" fill="none"/>
<rect x="333.82" y="85.2" width="4" height="5.8" fill="#5cc65c" stroke="#3a8e3a" stroke-width="0.5"/>
<line x1="333.82" y1="88.3" x2="337.82" y2="88.3" stroke="#3a8e3a" stroke-width="0.45"/>
<path d="M335.12 87.75l1.4 1.1M336.52 87.75l-1.4 1.1" stroke="#e8e030" stroke-width="0.7"/>
<circle cx="335.82" cy="91.9" r="1.25" fill="#1e0000"/><circle cx="335.82" cy="91.9" r="0.45" fill="#7a1010"/>
<path d="M340.79 78.8V90.2M339.29 78.8h3M339.29 90.2h3" stroke="#62626e" stroke-width="0.5" fill="none"/>
<rect x="338.79" y="86.2" width="4" height="4.1" fill="#5cc65c" stroke="#3a8e3a" stroke-width="0.5"/>
<line x1="338.79" y1="88.3" x2="342.79" y2="88.3" stroke="#3a8e3a" stroke-width="0.45"/>
<path d="M340.09 87.75l1.4 1.1M341.49 87.75l-1.4 1.1" stroke="#e8e030" stroke-width="0.7"/>
<circle cx="340.79" cy="84.3" r="1.25" fill="#1e0000"/><circle cx="340.79" cy="84.3" r="0.45" fill="#7a1010"/>
<rect x="472.2" y="33.8" width="8.7" height="106.6" fill="#f4f4f4"/>
<rect x="483.2" y="34.9" width="153.7" height="104" fill="#a6a8fa"/>
<rect x="636.9" y="34.9" width="46.1" height="104" fill="#d3d3d3"/>
<line x1="480.3" y1="34.9" x2="480.3" y2="139.7" stroke="#e6aaaa" stroke-width="0.7"/>
<line x1="480.3" y1="139.4" x2="683" y2="139.4" stroke="#e8a8a8" stroke-width="0.7"/>
<line x1="478.7" y1="138.6" x2="480.3" y2="138.6" stroke="#777" stroke-width="0.5"/>
<text x="478.3" y="139.7" font-size="3.2" fill="#666" text-anchor="end">0</text>
<line x1="478.7" y1="128" x2="480.3" y2="128" stroke="#777" stroke-width="0.5"/>
<text x="478.3" y="129.1" font-size="3.2" fill="#666" text-anchor="end">0.5</text>
<line x1="478.7" y1="117.4" x2="480.3" y2="117.4" stroke="#777" stroke-width="0.5"/>
<text x="478.3" y="118.5" font-size="3.2" fill="#666" text-anchor="end">1</text>
<line x1="478.7" y1="106.8" x2="480.3" y2="106.8" stroke="#777" stroke-width="0.5"/>
<text x="478.3" y="107.9" font-size="3.2" fill="#666" text-anchor="end">1.5</text>
<line x1="478.7" y1="96.2" x2="480.3" y2="96.2" stroke="#777" stroke-width="0.5"/>
<text x="478.3" y="97.3" font-size="3.2" fill="#666" text-anchor="end">2</text>
<line x1="478.7" y1="85.6" x2="480.3" y2="85.6" stroke="#777" stroke-width="0.5"/>
<text x="478.3" y="86.7" font-size="3.2" fill="#666" text-anchor="end">2.5</text>
<line x1="478.7" y1="75" x2="480.3" y2="75" stroke="#777" stroke-width="0.5"/>
<text x="478.3" y="76.1" font-size="3.2" fill="#666" text-anchor="end">3</text>
<line x1="478.7" y1="64.4" x2="480.3" y2="64.4" stroke="#777" stroke-width="0.5"/>
<text x="478.3" y="65.5" font-size="3.2" fill="#666" text-anchor="end">3.5</text>
<line x1="478.7" y1="53.8" x2="480.3" y2="53.8" stroke="#777" stroke-width="0.5"/>
<text x="478.3" y="54.9" font-size="3.2" fill="#666" text-anchor="end">4</text>
<line x1="478.7" y1="43.2" x2="480.3" y2="43.2" stroke="#777" stroke-width="0.5"/>
<text x="478.3" y="44.3" font-size="3.2" fill="#666" text-anchor="end">4.5</text>
<line x1="485.2" y1="139.4" x2="485.2" y2="140.7" stroke="#666" stroke-width="0.5"/>
<line x1="489.86" y1="139.4" x2="489.86" y2="140.7" stroke="#666" stroke-width="0.5"/>
<line x1="494.53" y1="139.4" x2="494.53" y2="140.7" stroke="#666" stroke-width="0.5"/>
<line x1="499.19" y1="139.4" x2="499.19" y2="140.7" stroke="#666" stroke-width="0.5"/>
<line x1="503.86" y1="139.4" x2="503.86" y2="140.7" stroke="#666" stroke-width="0.5"/>
<line x1="508.52" y1="139.4" x2="508.52" y2="140.7" stroke="#666" stroke-width="0.5"/>
<line x1="513.18" y1="139.4" x2="513.18" y2="140.7" stroke="#666" stroke-width="0.5"/>
<line x1="517.85" y1="139.4" x2="517.85" y2="140.7" stroke="#666" stroke-width="0.5"/>
<line x1="522.51" y1="139.4" x2="522.51" y2="140.7" stroke="#666" stroke-width="0.5"/>
<line x1="527.18" y1="139.4" x2="527.18" y2="140.7" stroke="#666" stroke-width="0.5"/>
<line x1="531.84" y1="139.4" x2="531.84" y2="140.7" stroke="#666" stroke-width="0.5"/>
<line x1="536.5" y1="139.4" x2="536.5" y2="140.7" stroke="#666" stroke-width="0.5"/>
<line x1="541.17" y1="139.4" x2="541.17" y2="140.7" stroke="#666" stroke-width="0.5"/>
<line x1="545.83" y1="139.4" x2="545.83" y2="140.7" stroke="#666" stroke-width="0.5"/>
<line x1="550.5" y1="139.4" x2="550.5" y2="140.7" stroke="#666" stroke-width="0.5"/>
<line x1="555.16" y1="139.4" x2="555.16" y2="140.7" stroke="#666" stroke-width="0.5"/>
<line x1="559.82" y1="139.4" x2="559.82" y2="140.7" stroke="#666" stroke-width="0.5"/>
<line x1="564.49" y1="139.4" x2="564.49" y2="140.7" stroke="#666" stroke-width="0.5"/>
<line x1="569.15" y1="139.4" x2="569.15" y2="140.7" stroke="#666" stroke-width="0.5"/>
<line x1="573.82" y1="139.4" x2="573.82" y2="140.7" stroke="#666" stroke-width="0.5"/>
<line x1="578.48" y1="139.4" x2="578.48" y2="140.7" stroke="#666" stroke-width="0.5"/>
<line x1="583.14" y1="139.4" x2="583.14" y2="140.7" stroke="#666" stroke-width="0.5"/>
<line x1="587.81" y1="139.4" x2="587.81" y2="140.7" stroke="#666" stroke-width="0.5"/>
<line x1="592.47" y1="139.4" x2="592.47" y2="140.7" stroke="#666" stroke-width="0.5"/>
<line x1="597.14" y1="139.4" x2="597.14" y2="140.7" stroke="#666" stroke-width="0.5"/>
<line x1="601.8" y1="139.4" x2="601.8" y2="140.7" stroke="#666" stroke-width="0.5"/>
<line x1="606.46" y1="139.4" x2="606.46" y2="140.7" stroke="#666" stroke-width="0.5"/>
<line x1="611.13" y1="139.4" x2="611.13" y2="140.7" stroke="#666" stroke-width="0.5"/>
<line x1="615.79" y1="139.4" x2="615.79" y2="140.7" stroke="#666" stroke-width="0.5"/>
<line x1="620.46" y1="139.4" x2="620.46" y2="140.7" stroke="#666" stroke-width="0.5"/>
<line x1="625.12" y1="139.4" x2="625.12" y2="140.7" stroke="#666" stroke-width="0.5"/>
<line x1="629.78" y1="139.4" x2="629.78" y2="140.7" stroke="#666" stroke-width="0.5"/>
<line x1="634.45" y1="139.4" x2="634.45" y2="140.7" stroke="#666" stroke-width="0.5"/>
<line x1="639.11" y1="139.4" x2="639.11" y2="140.7" stroke="#666" stroke-width="0.5"/>
<line x1="643.78" y1="139.4" x2="643.78" y2="140.7" stroke="#666" stroke-width="0.5"/>
<line x1="648.44" y1="139.4" x2="648.44" y2="140.7" stroke="#666" stroke-width="0.5"/>
<line x1="653.1" y1="139.4" x2="653.1" y2="140.7" stroke="#666" stroke-width="0.5"/>
<line x1="657.77" y1="139.4" x2="657.77" y2="140.7" stroke="#666" stroke-width="0.5"/>
<line x1="662.43" y1="139.4" x2="662.43" y2="140.7" stroke="#666" stroke-width="0.5"/>
<line x1="667.1" y1="139.4" x2="667.1" y2="140.7" stroke="#666" stroke-width="0.5"/>
<line x1="671.76" y1="139.4" x2="671.76" y2="140.7" stroke="#666" stroke-width="0.5"/>
<line x1="676.42" y1="139.4" x2="676.42" y2="140.7" stroke="#666" stroke-width="0.5"/>
<line x1="681.09" y1="139.4" x2="681.09" y2="140.7" stroke="#666" stroke-width="0.5"/>
<path d="M484 53h1.7v1.9h-1.7zM484 51.6h1.7v1.2h-1.7zM484 41.7h1.7v1.8h-1.7zM488.7 53.1h1.7v1.8h-1.7zM488.7 45.5h1.7v1.5h-1.7zM493.3 51.2h1.7v1.4h-1.7zM493.3 45.3h1.7v1.4h-1.7zM493.3 40.7h1.7v1.2h-1.7zM498 51.2h1.7v1.8h-1.7zM498 47.3h1.7v1.6h-1.7zM502.7 44.7h1.7v0.8h-1.7zM507.3 51.7h1.7v1.2h-1.7zM507.3 40.2h1.7v1.7h-1.7zM507.3 36.6h1.7v1.5h-1.7zM512 44.8h1.7v1.3h-1.7zM516.6 53.8h1.7v1.1h-1.7zM516.6 52.1h1.7v1.4h-1.7zM516.6 50.2h1.7v1.3h-1.7zM516.6 46.4h1.7v1.8h-1.7zM521.3 49.6h1.7v1.6h-1.7zM521.3 48h1.7v1.1h-1.7zM521.3 44.7h1.7v0.8h-1.7zM521.3 38.3h1.7v1.6h-1.7zM526 53.2h1.7v1.7h-1.7zM526 47.5h1.7v1.8h-1.7zM526 45.3h1.7v1.6h-1.7zM530.6 51.8h1.7v1.3h-1.7zM530.6 49.8h1.7v1.7h-1.7zM530.6 47.7h1.7v1.7h-1.7zM530.6 37.2h1.7v1.1h-1.7zM540 51.9h1.7v1.3h-1.7zM540 48.4h1.7v1.6h-1.7zM540 36.6h1.7v1.1h-1.7zM544.6 53h1.7v1.9h-1.7zM544.6 50h1.7v1.1h-1.7zM544.6 48.3h1.7v1.3h-1.7zM544.6 46.7h1.7v1.2h-1.7zM544.6 40.7h1.7v1.3h-1.7zM549.3 50.2h1.7v1.2h-1.7zM549.3 44.9h1.7v1.3h-1.7zM554 53.6h1.7v1.3h-1.7zM554 51.8h1.7v1.4h-1.7zM554 49.6h1.7v1.8h-1.7zM554 47.5h1.7v1.7h-1.7zM554 45.4h1.7v1.7h-1.7zM554 40.3h1.7v1.6h-1.7zM558.6 53.7h1.7v1.2h-1.7zM558.6 52h1.7v1.4h-1.7zM558.6 46.7h1.7v1.4h-1.7zM568 52h1.7v1.2h-1.7zM568 49.9h1.7v1.8h-1.7zM568 40.9h1.7v1.1h-1.7zM568 39.4h1.7v1h-1.7zM572.6 53.3h1.7v1.6h-1.7zM572.6 46.2h1.7v1.8h-1.7zM572.6 44.7h1.7v1.1h-1.7zM572.6 40.9h1.7v1.1h-1.7zM573.1 36.6h0.8v0.5h-0.8zM581.9 53.3h1.7v1.6h-1.7zM581.9 51.6h1.7v1.4h-1.7zM581.9 36.6h1.7v1.5h-1.7zM586.6 53.1h1.7v1.8h-1.7zM586.6 49.3h1.7v1.5h-1.7zM586.6 38.4h1.7v1.7h-1.7zM591.3 51.6h1.7v1.6h-1.7zM591.3 49.9h1.7v1.5h-1.7zM591.3 46h1.7v1.7h-1.7zM591.3 38.8h1.7v1.5h-1.7zM595.9 49.5h1.7v1.7h-1.7zM595.9 44.7h1.7v1h-1.7zM600.6 47.8h1.7v1.6h-1.7zM605.3 49.8h1.7v1.1h-1.7zM605.3 47.6h1.7v1.7h-1.7zM605.3 44.7h1.7v0.8h-1.7zM609.9 49.8h1.7v1.2h-1.7zM609.9 45.9h1.7v1.5h-1.7zM609.9 44.7h1.7v0.7h-1.7zM614.6 53.4h1.7v1.5h-1.7zM614.6 46.1h1.7v1.4h-1.7zM614.6 38.7h1.7v1h-1.7zM619.3 48.9h1.7v1.9h-1.7zM619.3 47h1.7v1.5h-1.7zM619.3 44.9h1.7v1.6h-1.7zM619.3 38.3h1.7v1.8h-1.7zM623.9 48.1h1.7v1.4h-1.7zM623.9 46.1h1.7v1.7h-1.7zM628.6 46.1h1.7v1.8h-1.7z" fill="#2a2a62" fill-opacity="0.85"/>
<path d="M484 49.5h1.7v1.6h-1.7zM484 47.5h1.7v1.6h-1.7zM484 46.2h1.7v1h-1.7zM488.7 47.5h1.7v1.5h-1.7zM489.1 44.7h0.8v0.5h-0.8zM488.7 40.7h1.7v1.3h-1.7zM488.7 38.6h1.7v1.7h-1.7zM488.7 36.7h1.7v1.3h-1.7zM493.3 53.1h1.7v1.8h-1.7zM493.3 49.2h1.7v1.5h-1.7zM493.3 47h1.7v1.7h-1.7zM493.8 44.7h0.8v0.4h-0.8zM493.3 38.8h1.7v1.4h-1.7zM498 53.2h1.7v1.7h-1.7zM498 45.6h1.7v1.2h-1.7zM502.7 51.2h1.7v1.7h-1.7zM502.7 47.4h1.7v1.4h-1.7zM502.7 45.7h1.7v1.2h-1.7zM502.7 40.2h1.7v1.7h-1.7zM502.7 38.1h1.7v1.6h-1.7zM507.3 53.3h1.7v1.6h-1.7zM507.3 49.8h1.7v1.6h-1.7zM507.3 44.7h1.7v1.6h-1.7zM512 46.5h1.7v1.5h-1.7zM512 40.4h1.7v1.6h-1.7zM516.6 44.7h1.7v1.5h-1.7zM516.6 39h1.7v1.2h-1.7zM521.3 53.2h1.7v1.7h-1.7zM521.3 45.9h1.7v1.7h-1.7zM521.3 40.5h1.7v1.4h-1.7zM526 51.3h1.7v1.7h-1.7zM526 49.8h1.7v1.2h-1.7zM526.4 44.7h0.8v0.4h-0.8zM526 36.6h1.7v1.5h-1.7zM530.6 45.7h1.7v1.7h-1.7zM530.6 40.6h1.7v1.3h-1.7zM530.6 38.8h1.7v1.4h-1.7zM535.3 53.1h1.7v1.8h-1.7zM535.3 50.8h1.7v1.8h-1.7zM535.3 48.6h1.7v1.8h-1.7zM535.3 47.1h1.7v1.2h-1.7zM535.3 45.2h1.7v1.6h-1.7zM535.3 36.6h1.7v0.9h-1.7zM540 53.6h1.7v1.3h-1.7zM540 50.6h1.7v1.1h-1.7zM540 46.4h1.7v1.6h-1.7zM540 38.2h1.7v1.6h-1.7zM544.6 51.4h1.7v1.3h-1.7zM544.6 44.9h1.7v1.3h-1.7zM544.6 38.8h1.7v1.5h-1.7zM549.3 51.9h1.7v1.3h-1.7zM549.3 48.4h1.7v1.4h-1.7zM549.3 40.6h1.7v1.4h-1.7zM549.3 37.3h1.7v1.2h-1.7zM554 38.5h1.7v1.5h-1.7zM558.6 48.3h1.7v1.7h-1.7zM558.6 44.7h1.7v1.5h-1.7zM558.6 38.5h1.7v1.8h-1.7zM563.3 51.1h1.7v1.6h-1.7zM563.3 47.6h1.7v1.3h-1.7zM563.3 46h1.7v1.2h-1.7zM563.3 40.3h1.7v1.6h-1.7zM563.3 38.3h1.7v1.4h-1.7zM563.3 36.7h1.7v1.4h-1.7zM568 53.5h1.7v1.4h-1.7zM568 48.2h1.7v1.2h-1.7zM568 37.6h1.7v1.4h-1.7zM572.6 48.5h1.7v1.3h-1.7zM572.6 37.5h1.7v1.3h-1.7zM577.3 53.4h1.7v1.5h-1.7zM577.3 50h1.7v1.2h-1.7zM577.3 48.3h1.7v1.3h-1.7zM577.3 44.8h1.7v1.7h-1.7zM577.3 38.7h1.7v1.3h-1.7zM577.3 37h1.7v1.1h-1.7zM581.9 45.3h1.7v1.8h-1.7zM581.9 38.6h1.7v1.2h-1.7zM586.6 51.1h1.7v1.6h-1.7zM586.6 45.4h1.7v1.6h-1.7zM586.6 40.4h1.7v1.5h-1.7zM591.3 53.8h1.7v1.1h-1.7zM591.3 44.7h1.7v0.9h-1.7zM591.3 40.6h1.7v1.4h-1.7zM591.3 37.1h1.7v1.2h-1.7zM595.9 53.5h1.7v1.4h-1.7zM595.9 47.8h1.7v1.5h-1.7zM600.6 49.8h1.7v1.4h-1.7zM600.6 40.4h1.7v1.5h-1.7zM605.3 53.1h1.7v1.8h-1.7zM605.3 51.4h1.7v1.1h-1.7zM605.3 45.8h1.7v1.5h-1.7zM605.3 40.9h1.7v1h-1.7zM605.3 38.7h1.7v1.7h-1.7zM609.9 53.7h1.7v1.2h-1.7zM609.9 47.7h1.7v1.8h-1.7zM609.9 40.8h1.7v1.1h-1.7zM609.9 36.6h1.7v1.7h-1.7zM614.6 50.2h1.7v1.2h-1.7zM614.6 47.8h1.7v1.9h-1.7zM614.6 40.3h1.7v1.7h-1.7zM619.3 53.1h1.7v1.8h-1.7zM619.3 51.1h1.7v1.5h-1.7zM619.3 40.5h1.7v1.5h-1.7zM619.3 36.6h1.7v1.3h-1.7zM623.9 51.9h1.7v1.2h-1.7zM623.9 37.2h1.7v1.3h-1.7zM628.6 53.3h1.7v1.6h-1.7zM628.6 50h1.7v1.1h-1.7zM628.6 48.4h1.7v1.1h-1.7zM628.6 44.7h1.7v1h-1.7zM628.6 38.4h1.7v1.7h-1.7zM633.2 53.5h1.7v1.4h-1.7zM633.2 51.2h1.7v1.8h-1.7zM633.2 47.4h1.7v1.4h-1.7zM633.2 40.4h1.7v1.6h-1.7zM633.2 38.3h1.7v1.6h-1.7z" fill="#2a2a62" fill-opacity="0.71"/>
<path d="M484.4 44.7h0.8v0.6h-0.8zM484 39.9h1.7v1.4h-1.7zM488.7 50.9h1.7v1.8h-1.7zM488.7 49.3h1.7v1.3h-1.7zM489.1 43.2h0.8v0.6h-0.8zM493.8 43.2h0.8v0.6h-0.8zM493.3 36.9h1.7v1.5h-1.7zM498 49.3h1.7v1.6h-1.7zM498.4 44.7h0.8v0.4h-0.8zM498.4 43.2h0.8v0.6h-0.8zM498 40.3h1.7v1.6h-1.7zM498 38.8h1.7v1.2h-1.7zM498 37.4h1.7v1.1h-1.7zM502.7 53.1h1.7v1.8h-1.7zM502.7 49h1.7v1.9h-1.7zM503.1 43.2h0.8v0.6h-0.8zM502.7 36.6h1.7v1.2h-1.7zM507.3 48h1.7v1.5h-1.7zM507.3 46.6h1.7v1.1h-1.7zM507.8 43.2h0.8v0.6h-0.8zM507.3 38.5h1.7v1.4h-1.7zM512 53.4h1.7v1.5h-1.7zM512 51.7h1.7v1.4h-1.7zM512 49.9h1.7v1.3h-1.7zM512 48.3h1.7v1.3h-1.7zM512.4 43.2h0.8v0.6h-0.8zM512 38.5h1.7v1.5h-1.7zM512 36.7h1.7v1.4h-1.7zM516.6 48.7h1.7v1.2h-1.7zM517.1 43.2h0.8v0.6h-0.8zM516.6 40.5h1.7v1.5h-1.7zM516.6 37.2h1.7v1.4h-1.7zM521.3 51.7h1.7v1.2h-1.7zM521.8 43.2h0.8v0.6h-0.8zM521.3 36.6h1.7v1.2h-1.7zM526.4 43.2h0.8v0.6h-0.8zM526 40.2h1.7v1.7h-1.7zM526 38.7h1.7v1.2h-1.7zM530.6 53.7h1.7v1.2h-1.7zM530.6 44.7h1.7v0.7h-1.7zM531.1 43.2h0.8v0.6h-0.8zM535.8 43.2h0.8v0.6h-0.8zM535.3 40.2h1.7v1.8h-1.7zM535.3 38.1h1.7v1.6h-1.7zM540 44.7h1.7v1.4h-1.7zM540.4 43.2h0.8v0.6h-0.8zM540 40.3h1.7v1.6h-1.7zM545.1 43.2h0.8v0.6h-0.8zM544.6 36.8h1.7v1.4h-1.7zM549.3 53.6h1.7v1.3h-1.7zM549.3 46.7h1.7v1.5h-1.7zM549.7 43.2h0.8v0.6h-0.8zM549.3 38.8h1.7v1.3h-1.7zM554.4 43.2h0.8v0.6h-0.8zM554 36.8h1.7v1.3h-1.7zM558.6 50.5h1.7v1.2h-1.7zM559.1 43.2h0.8v0.6h-0.8zM558.6 40.7h1.7v1.3h-1.7zM558.6 37h1.7v1.1h-1.7zM563.3 53.2h1.7v1.7h-1.7zM563.3 49.3h1.7v1.2h-1.7zM563.3 44.7h1.7v0.9h-1.7zM563.7 43.2h0.8v0.6h-0.8zM568 46.6h1.7v1.1h-1.7zM568 45h1.7v1.2h-1.7zM568.4 43.2h0.8v0.6h-0.8zM568 36.6h1.7v0.7h-1.7zM572.6 51.5h1.7v1.5h-1.7zM572.6 50h1.7v1.2h-1.7zM573.1 43.2h0.8v0.6h-0.8zM572.6 39.2h1.7v1.2h-1.7zM577.3 51.6h1.7v1.4h-1.7zM577.3 46.8h1.7v1.2h-1.7zM577.7 43.2h0.8v0.6h-0.8zM577.3 40.3h1.7v1.7h-1.7zM581.9 49.6h1.7v1.5h-1.7zM581.9 47.5h1.7v1.6h-1.7zM582.4 43.2h0.8v0.6h-0.8zM581.9 40.2h1.7v1.8h-1.7zM586.6 47.4h1.7v1.4h-1.7zM587.1 43.2h0.8v0.6h-0.8zM586.6 36.6h1.7v1.3h-1.7zM591.3 48h1.7v1.6h-1.7zM591.7 43.2h0.8v0.6h-0.8zM595.9 51.7h1.7v1.3h-1.7zM595.9 45.9h1.7v1.3h-1.7zM596.4 43.2h0.8v0.6h-0.8zM595.9 40.5h1.7v1.4h-1.7zM595.9 38.8h1.7v1.3h-1.7zM595.9 37.2h1.7v1.3h-1.7zM600.6 53.2h1.7v1.7h-1.7zM600.6 51.5h1.7v1.5h-1.7zM600.6 45.9h1.7v1.5h-1.7zM600.6 44.7h1.7v0.8h-1.7zM601 43.2h0.8v0.6h-0.8zM600.6 38.6h1.7v1.3h-1.7zM600.6 36.6h1.7v1.4h-1.7zM605.7 43.2h0.8v0.6h-0.8zM605.3 36.6h1.7v1.7h-1.7zM609.9 51.4h1.7v1.8h-1.7zM610.4 43.2h0.8v0.6h-0.8zM609.9 38.8h1.7v1.8h-1.7zM614.6 51.7h1.7v1.2h-1.7zM614.6 44.7h1.7v1.1h-1.7zM615 43.2h0.8v0.6h-0.8zM614.6 37.1h1.7v1.2h-1.7zM619.7 43.2h0.8v0.6h-0.8zM623.9 53.7h1.7v1.2h-1.7zM623.9 49.8h1.7v1.7h-1.7zM623.9 44.7h1.7v1.1h-1.7zM624.4 43.2h0.8v0.6h-0.8zM623.9 40.8h1.7v1.2h-1.7zM623.9 38.9h1.7v1.7h-1.7zM628.6 51.3h1.7v1.5h-1.7zM629 43.2h0.8v0.6h-0.8zM628.6 40.5h1.7v1.5h-1.7zM628.6 36.6h1.7v1.3h-1.7zM633.2 49.2h1.7v1.6h-1.7zM633.2 45.2h1.7v1.8h-1.7zM633.7 43.2h0.8v0.6h-0.8zM633.2 36.6h1.7v1.4h-1.7z" fill="#2a2a62" fill-opacity="0.57"/>
<path d="M637.9 53h1.7v1.9h-1.7zM637.9 47.7h1.7v1.4h-1.7zM637.9 44.3h1.7v1.5h-1.7zM638.4 42.3h0.8v0.6h-0.8zM642.6 53.6h1.7v1.3h-1.7zM642.6 46.8h1.7v1.2h-1.7zM643 43.8h0.8v0.5h-0.8zM643 42.3h0.8v0.6h-0.8zM642.6 40.1h1.7v1h-1.7zM647.2 50h1.7v1.4h-1.7zM647.2 48.2h1.7v1.5h-1.7zM647.7 42.3h0.8v0.6h-0.8zM647.2 38.7h1.7v1.1h-1.7zM651.9 51.7h1.7v1.4h-1.7zM652.4 42.3h0.8v0.6h-0.8zM651.9 39.6h1.7v1.5h-1.7zM651.9 37.6h1.7v1.6h-1.7zM656.6 50.1h1.7v1.2h-1.7zM656.6 44.9h1.7v1.3h-1.7zM657 42.3h0.8v0.6h-0.8zM656.6 40h1.7v1.1h-1.7zM656.6 38.3h1.7v1.3h-1.7zM661.2 53.1h1.7v1.8h-1.7zM661.7 42.3h0.8v0.6h-0.8zM661.2 37.9h1.7v1.5h-1.7zM665.9 53.7h1.7v1.2h-1.7zM665.9 47h1.7v1.8h-1.7zM665.9 45h1.7v1.8h-1.7zM666.3 42.3h0.8v0.6h-0.8zM665.9 39.5h1.7v1.6h-1.7zM670.6 48h1.7v1.8h-1.7zM671 42.3h0.8v0.6h-0.8zM670.6 40h1.7v1.1h-1.7zM670.6 35.6h1.7v1.7h-1.7zM675.2 53.3h1.7v1.6h-1.7zM675.2 46.2h1.7v1.5h-1.7zM675.7 42.3h0.8v0.6h-0.8zM675.2 37.5h1.7v1.7h-1.7zM679.9 53.8h1.7v1.1h-1.7zM679.9 50h1.7v1.8h-1.7zM680.3 42.3h0.8v0.6h-0.8zM679.9 39.9h1.7v1.2h-1.7z" fill="#555555" fill-opacity="0.57"/>
<path d="M637.9 51.1h1.7v1.5h-1.7zM637.9 49.3h1.7v1.3h-1.7zM637.9 46h1.7v1.4h-1.7zM642.6 51.8h1.7v1.3h-1.7zM642.6 49.9h1.7v1.6h-1.7zM642.6 48.5h1.7v1.1h-1.7zM642.6 38.2h1.7v1.6h-1.7zM647.2 53.7h1.7v1.2h-1.7zM647.2 46.2h1.7v1.5h-1.7zM647.2 44.2h1.7v1.6h-1.7zM647.2 40h1.7v1.1h-1.7zM651.9 49.9h1.7v1.4h-1.7zM651.9 47.7h1.7v1.8h-1.7zM651.9 45.5h1.7v1.6h-1.7zM651.9 43.8h1.7v1.4h-1.7zM652.4 35.1h0.8v0.4h-0.8zM656.6 53.4h1.7v1.5h-1.7zM656.6 51.7h1.7v1.3h-1.7zM656.6 48.4h1.7v1.4h-1.7zM656.6 46.6h1.7v1.3h-1.7zM656.6 35.1h1.7v0.9h-1.7zM661.2 50.9h1.7v1.7h-1.7zM661.2 48.5h1.7v1.9h-1.7zM661.2 44.9h1.7v1.3h-1.7zM661.2 39.8h1.7v1.3h-1.7zM661.2 36h1.7v1.5h-1.7zM661.7 35.1h0.8v0.4h-0.8zM665.9 37.3h1.7v1.7h-1.7zM665.9 35.2h1.7v1.8h-1.7zM670.6 51.6h1.7v1.3h-1.7zM670.6 50.2h1.7v1.1h-1.7zM670.6 46.2h1.7v1.3h-1.7zM670.6 44h1.7v1.9h-1.7zM670.6 37.8h1.7v1.8h-1.7zM675.2 51.3h1.7v1.5h-1.7zM675.7 43.8h0.8v0.4h-0.8zM675.2 39.5h1.7v1.6h-1.7zM679.9 52.3h1.7v1.1h-1.7zM679.9 44h1.7v1.7h-1.7zM679.9 38.4h1.7v1.2h-1.7zM679.9 35.1h1.7v1.4h-1.7z" fill="#555555" fill-opacity="0.71"/>
<path d="M637.9 39.5h1.7v1.6h-1.7zM637.9 37.8h1.7v1.2h-1.7zM637.9 35.6h1.7v1.7h-1.7zM642.6 44.7h1.7v1.6h-1.7zM642.6 35.8h1.7v1.8h-1.7zM647.2 51.9h1.7v1.3h-1.7zM647.2 36.5h1.7v1.6h-1.7zM647.2 35.1h1.7v0.9h-1.7zM651.9 53.3h1.7v1.6h-1.7zM651.9 35.8h1.7v1.4h-1.7zM657 43.8h0.8v0.6h-0.8zM656.6 36.3h1.7v1.6h-1.7zM661.2 46.6h1.7v1.5h-1.7zM661.7 43.8h0.8v0.6h-0.8zM665.9 51.5h1.7v1.7h-1.7zM665.9 49.2h1.7v1.9h-1.7zM665.9 43.8h1.7v0.8h-1.7zM670.6 53.3h1.7v1.6h-1.7zM675.2 49.6h1.7v1.2h-1.7zM675.2 48h1.7v1.1h-1.7zM675.2 44.7h1.7v1.3h-1.7zM675.2 35.8h1.7v1.4h-1.7zM679.9 47.9h1.7v1.6h-1.7zM679.9 46.2h1.7v1.3h-1.7zM679.9 36.8h1.7v1.1h-1.7z" fill="#555555" fill-opacity="0.85"/>
<line x1="485.7" y1="110.5" x2="681" y2="110.5" stroke="#3c3cd0" stroke-opacity="0.62" stroke-width="1"/>
<line x1="485.7" y1="124" x2="681" y2="124" stroke="#e83c3c" stroke-opacity="0.55" stroke-width="1.0"/>
<line x1="485.2" y1="117.4" x2="681.09" y2="117.4" stroke="#4a5470" stroke-width="0.55" stroke-dasharray="1.1 1.3"/>
<path d="M485.2 93.4V121M483.7 93.4h3M483.7 121h3" stroke="#62626e" stroke-width="0.5" fill="none"/>
<rect x="483.35" y="115.3" width="3.7" height="4.4" fill="#a6d8f2" stroke="#6f8fb8" stroke-width="0.5"/>
<line x1="483.35" y1="117.4" x2="487.05" y2="117.4" stroke="#6f8fb8" stroke-width="0.45"/>
<path d="M484.5 116.85l1.4 1.1M485.9 116.85l-1.4 1.1" stroke="#e8e030" stroke-width="0.7"/>
<circle cx="485.2" cy="107.5" r="1.05" fill="none" stroke="#e07ad0" stroke-width="0.6"/>
<path d="M489.86 63.3V119M488.36 63.3h3M488.36 119h3" stroke="#62626e" stroke-width="0.5" fill="none"/>
<rect x="488.01" y="115.3" width="3.7" height="4.4" fill="#a6d8f2" stroke="#6f8fb8" stroke-width="0.5"/>
<line x1="488.01" y1="117.4" x2="491.71" y2="117.4" stroke="#6f8fb8" stroke-width="0.45"/>
<path d="M489.16 116.85l1.4 1.1M490.56 116.85l-1.4 1.1" stroke="#e8e030" stroke-width="0.7"/>
<rect x="488.86" y="85.9" width="2" height="2" fill="#1a1aa8"/>
<path d="M494.53 103V126.3M493.03 103h3M493.03 126.3h3" stroke="#62626e" stroke-width="0.5" fill="none"/>
<rect x="492.68" y="112.3" width="3.7" height="9.8" fill="#a6d8f2" stroke="#6f8fb8" stroke-width="0.5"/>
<line x1="492.68" y1="117.4" x2="496.38" y2="117.4" stroke="#6f8fb8" stroke-width="0.45"/>
<path d="M493.83 116.85l1.4 1.1M495.23 116.85l-1.4 1.1" stroke="#e8e030" stroke-width="0.7"/>
<circle cx="494.53" cy="114.7" r="1.25" fill="#1e0000"/><circle cx="494.53" cy="114.7" r="0.45" fill="#7a1010"/>
<path d="M499.19 103V125.1M497.69 103h3M497.69 125.1h3" stroke="#62626e" stroke-width="0.5" fill="none"/>
<rect x="497.34" y="115.8" width="3.7" height="3.2" fill="#a6d8f2" stroke="#6f8fb8" stroke-width="0.5"/>
<line x1="497.34" y1="117.4" x2="501.04" y2="117.4" stroke="#6f8fb8" stroke-width="0.45"/>
<path d="M498.49 116.85l1.4 1.1M499.89 116.85l-1.4 1.1" stroke="#e8e030" stroke-width="0.7"/>
<circle cx="499.19" cy="113.7" r="1.25" fill="#1e0000"/><circle cx="499.19" cy="113.7" r="0.45" fill="#7a1010"/>
<path d="M503.86 104.8V126.3M502.36 104.8h3M502.36 126.3h3" stroke="#62626e" stroke-width="0.5" fill="none"/>
<rect x="502.01" y="115.8" width="3.7" height="3.2" fill="#a6d8f2" stroke="#6f8fb8" stroke-width="0.5"/>
<line x1="502.01" y1="117.4" x2="505.71" y2="117.4" stroke="#6f8fb8" stroke-width="0.45"/>
<path d="M503.16 116.85l1.4 1.1M504.56 116.85l-1.4 1.1" stroke="#e8e030" stroke-width="0.7"/>
<circle cx="503.86" cy="115.3" r="1.25" fill="#1e0000"/><circle cx="503.86" cy="115.3" r="0.45" fill="#7a1010"/>
<path d="M508.52 103.2V125.1M507.02 103.2h3M507.02 125.1h3" stroke="#62626e" stroke-width="0.5" fill="none"/>
<rect x="506.67" y="115.8" width="3.7" height="3.2" fill="#a6d8f2" stroke="#6f8fb8" stroke-width="0.5"/>
<line x1="506.67" y1="117.4" x2="510.37" y2="117.4" stroke="#6f8fb8" stroke-width="0.45"/>
<path d="M507.82 116.85l1.4 1.1M509.22 116.85l-1.4 1.1" stroke="#e8e030" stroke-width="0.7"/>
<circle cx="508.52" cy="114.1" r="1.25" fill="#1e0000"/><circle cx="508.52" cy="114.1" r="0.45" fill="#7a1010"/>
<path d="M513.18 113.1V129.3M511.68 113.1h3M511.68 129.3h3" stroke="#62626e" stroke-width="0.5" fill="none"/>
<rect x="511.33" y="115.8" width="3.7" height="3.2" fill="#a6d8f2" stroke="#6f8fb8" stroke-width="0.5"/>
<line x1="511.33" y1="117.4" x2="515.03" y2="117.4" stroke="#6f8fb8" stroke-width="0.45"/>
<path d="M512.48 116.85l1.4 1.1M513.88 116.85l-1.4 1.1" stroke="#e8e030" stroke-width="0.7"/>
<circle cx="513.18" cy="120.7" r="1.25" fill="#1e0000"/><circle cx="513.18" cy="120.7" r="0.45" fill="#7a1010"/>
<path d="M517.85 113.7V129.3M516.35 113.7h3M516.35 129.3h3" stroke="#62626e" stroke-width="0.5" fill="none"/>
<rect x="516" y="114.3" width="3.7" height="5.4" fill="#a6d8f2" stroke="#6f8fb8" stroke-width="0.5"/>
<line x1="516" y1="117.4" x2="519.7" y2="117.4" stroke="#6f8fb8" stroke-width="0.45"/>
<path d="M517.15 116.85l1.4 1.1M518.55 116.85l-1.4 1.1" stroke="#e8e030" stroke-width="0.7"/>
<circle cx="517.85" cy="120.9" r="1.25" fill="#1e0000"/><circle cx="517.85" cy="120.9" r="0.45" fill="#7a1010"/>
<path d="M522.51 103.2V128.1M521.01 103.2h3M521.01 128.1h3" stroke="#62626e" stroke-width="0.5" fill="none"/>
<rect x="520.66" y="111.6" width="3.7" height="10.5" fill="#a6d8f2" stroke="#6f8fb8" stroke-width="0.5"/>
<line x1="520.66" y1="117.4" x2="524.36" y2="117.4" stroke="#6f8fb8" stroke-width="0.45"/>
<path d="M521.81 116.85l1.4 1.1M523.21 116.85l-1.4 1.1" stroke="#e8e030" stroke-width="0.7"/>
<circle cx="522.51" cy="115.9" r="1.25" fill="#1e0000"/><circle cx="522.51" cy="115.9" r="0.45" fill="#7a1010"/>
<path d="M527.18 108.4V128.1M525.68 108.4h3M525.68 128.1h3" stroke="#62626e" stroke-width="0.5" fill="none"/>
<rect x="525.33" y="113.7" width="3.7" height="7.2" fill="#a6d8f2" stroke="#6f8fb8" stroke-width="0.5"/>
<line x1="525.33" y1="117.4" x2="529.03" y2="117.4" stroke="#6f8fb8" stroke-width="0.45"/>
<path d="M526.48 116.85l1.4 1.1M527.88 116.85l-1.4 1.1" stroke="#e8e030" stroke-width="0.7"/>
<circle cx="527.18" cy="118.5" r="1.25" fill="#1e0000"/><circle cx="527.18" cy="118.5" r="0.45" fill="#7a1010"/>
<path d="M531.84 113.7V130.5M530.34 113.7h3M530.34 130.5h3" stroke="#62626e" stroke-width="0.5" fill="none"/>
<rect x="529.99" y="113.1" width="3.7" height="7.8" fill="#a6d8f2" stroke="#6f8fb8" stroke-width="0.5"/>
<line x1="529.99" y1="117.4" x2="533.69" y2="117.4" stroke="#6f8fb8" stroke-width="0.45"/>
<path d="M531.14 116.85l1.4 1.1M532.54 116.85l-1.4 1.1" stroke="#e8e030" stroke-width="0.7"/>
<circle cx="531.84" cy="121.9" r="1.25" fill="#1e0000"/><circle cx="531.84" cy="121.9" r="0.45" fill="#7a1010"/>
<path d="M536.5 100.3V124.5M535 100.3h3M535 124.5h3" stroke="#62626e" stroke-width="0.5" fill="none"/>
<rect x="534.65" y="115.8" width="3.7" height="3.2" fill="#a6d8f2" stroke="#6f8fb8" stroke-width="0.5"/>
<line x1="534.65" y1="117.4" x2="538.35" y2="117.4" stroke="#6f8fb8" stroke-width="0.45"/>
<path d="M535.8 116.85l1.4 1.1M537.2 116.85l-1.4 1.1" stroke="#e8e030" stroke-width="0.7"/>
<circle cx="536.5" cy="112.3" r="1.25" fill="#1e0000"/><circle cx="536.5" cy="112.3" r="0.45" fill="#7a1010"/>
<path d="M541.17 110.7V128.1M539.67 110.7h3M539.67 128.1h3" stroke="#62626e" stroke-width="0.5" fill="none"/>
<rect x="539.32" y="115.8" width="3.7" height="3.2" fill="#a6d8f2" stroke="#6f8fb8" stroke-width="0.5"/>
<line x1="539.32" y1="117.4" x2="543.02" y2="117.4" stroke="#6f8fb8" stroke-width="0.45"/>
<path d="M540.47 116.85l1.4 1.1M541.87 116.85l-1.4 1.1" stroke="#e8e030" stroke-width="0.7"/>
<circle cx="541.17" cy="120" r="1.25" fill="#1e0000"/><circle cx="541.17" cy="120" r="0.45" fill="#7a1010"/>
<path d="M545.83 100.3V125.1M544.33 100.3h3M544.33 125.1h3" stroke="#62626e" stroke-width="0.5" fill="none"/>
<rect x="543.98" y="114.3" width="3.7" height="6" fill="#a6d8f2" stroke="#6f8fb8" stroke-width="0.5"/>
<line x1="543.98" y1="117.4" x2="547.68" y2="117.4" stroke="#6f8fb8" stroke-width="0.45"/>
<path d="M545.13 116.85l1.4 1.1M546.53 116.85l-1.4 1.1" stroke="#e8e030" stroke-width="0.7"/>
<circle cx="545.83" cy="112.8" r="1.25" fill="#1e0000"/><circle cx="545.83" cy="112.8" r="0.45" fill="#7a1010"/>
<path d="M550.5 107.2V129.3M549 107.2h3M549 129.3h3" stroke="#62626e" stroke-width="0.5" fill="none"/>
<rect x="548.65" y="112.5" width="3.7" height="9" fill="#a6d8f2" stroke="#6f8fb8" stroke-width="0.5"/>
<line x1="548.65" y1="117.4" x2="552.35" y2="117.4" stroke="#6f8fb8" stroke-width="0.45"/>
<path d="M549.8 116.85l1.4 1.1M551.2 116.85l-1.4 1.1" stroke="#e8e030" stroke-width="0.7"/>
<circle cx="550.5" cy="118.3" r="1.25" fill="#1e0000"/><circle cx="550.5" cy="118.3" r="0.45" fill="#7a1010"/>
<path d="M555.16 108.4V127.2M553.66 108.4h3M553.66 127.2h3" stroke="#62626e" stroke-width="0.5" fill="none"/>
<path d="M554.46 116.85l1.4 1.1M555.86 116.85l-1.4 1.1" stroke="#e8e030" stroke-width="0.7"/>
<circle cx="555.16" cy="117.6" r="1.25" fill="#1e0000"/><circle cx="555.16" cy="117.6" r="0.45" fill="#7a1010"/>
<path d="M559.82 104.2V126.3M558.32 104.2h3M558.32 126.3h3" stroke="#62626e" stroke-width="0.5" fill="none"/>
<rect x="557.97" y="115.8" width="3.7" height="3.2" fill="#a6d8f2" stroke="#6f8fb8" stroke-width="0.5"/>
<line x1="557.97" y1="117.4" x2="561.67" y2="117.4" stroke="#6f8fb8" stroke-width="0.45"/>
<path d="M559.12 116.85l1.4 1.1M560.52 116.85l-1.4 1.1" stroke="#e8e030" stroke-width="0.7"/>
<circle cx="559.82" cy="115.2" r="1.25" fill="#1e0000"/><circle cx="559.82" cy="115.2" r="0.45" fill="#7a1010"/>
<path d="M564.49 102.4V125.1M562.99 102.4h3M562.99 125.1h3" stroke="#62626e" stroke-width="0.5" fill="none"/>
<rect x="562.64" y="115.8" width="3.7" height="3.2" fill="#a6d8f2" stroke="#6f8fb8" stroke-width="0.5"/>
<line x1="562.64" y1="117.4" x2="566.34" y2="117.4" stroke="#6f8fb8" stroke-width="0.45"/>
<path d="M563.79 116.85l1.4 1.1M565.19 116.85l-1.4 1.1" stroke="#e8e030" stroke-width="0.7"/>
<circle cx="564.49" cy="113.7" r="1.25" fill="#1e0000"/><circle cx="564.49" cy="113.7" r="0.45" fill="#7a1010"/>
<path d="M569.15 95.2V124.5M567.65 95.2h3M567.65 124.5h3" stroke="#62626e" stroke-width="0.5" fill="none"/>
<rect x="567.3" y="113.1" width="3.7" height="8.4" fill="#a6d8f2" stroke="#6f8fb8" stroke-width="0.5"/>
<line x1="567.3" y1="117.4" x2="571" y2="117.4" stroke="#6f8fb8" stroke-width="0.45"/>
<path d="M568.45 116.85l1.4 1.1M569.85 116.85l-1.4 1.1" stroke="#e8e030" stroke-width="0.7"/>
<circle cx="569.15" cy="109.9" r="1.2" fill="#f8c414"/>
<path d="M573.82 117.3V130.3M572.32 117.3h3M572.32 130.3h3" stroke="#62626e" stroke-width="0.5" fill="none"/>
<rect x="571.97" y="115.8" width="3.7" height="3.2" fill="#a6d8f2" stroke="#6f8fb8" stroke-width="0.5"/>
<line x1="571.97" y1="117.4" x2="575.67" y2="117.4" stroke="#6f8fb8" stroke-width="0.45"/>
<path d="M573.12 116.85l1.4 1.1M574.52 116.85l-1.4 1.1" stroke="#e8e030" stroke-width="0.7"/>
<circle cx="573.82" cy="123.1" r="1.25" fill="#1e0000"/><circle cx="573.82" cy="123.1" r="0.45" fill="#7a1010"/>
<path d="M578.48 112.5V130.3M576.98 112.5h3M576.98 130.3h3" stroke="#62626e" stroke-width="0.5" fill="none"/>
<rect x="576.63" y="112.5" width="3.7" height="9" fill="#a6d8f2" stroke="#6f8fb8" stroke-width="0.5"/>
<line x1="576.63" y1="117.4" x2="580.33" y2="117.4" stroke="#6f8fb8" stroke-width="0.45"/>
<path d="M577.78 116.85l1.4 1.1M579.18 116.85l-1.4 1.1" stroke="#e8e030" stroke-width="0.7"/>
<circle cx="578.48" cy="121.2" r="1.25" fill="#1e0000"/><circle cx="578.48" cy="121.2" r="0.45" fill="#7a1010"/>
<path d="M583.14 112.5V128.4M581.64 112.5h3M581.64 128.4h3" stroke="#62626e" stroke-width="0.5" fill="none"/>
<rect x="581.29" y="115.8" width="3.7" height="3.2" fill="#a6d8f2" stroke="#6f8fb8" stroke-width="0.5"/>
<line x1="581.29" y1="117.4" x2="584.99" y2="117.4" stroke="#6f8fb8" stroke-width="0.45"/>
<path d="M582.44 116.85l1.4 1.1M583.84 116.85l-1.4 1.1" stroke="#e8e030" stroke-width="0.7"/>
<circle cx="583.14" cy="120.7" r="1.25" fill="#1e0000"/><circle cx="583.14" cy="120.7" r="0.45" fill="#7a1010"/>
<path d="M587.81 101.2V127.2M586.31 101.2h3M586.31 127.2h3" stroke="#62626e" stroke-width="0.5" fill="none"/>
<rect x="585.96" y="112.5" width="3.7" height="9.6" fill="#a6d8f2" stroke="#6f8fb8" stroke-width="0.5"/>
<line x1="585.96" y1="117.4" x2="589.66" y2="117.4" stroke="#6f8fb8" stroke-width="0.45"/>
<path d="M587.11 116.85l1.4 1.1M588.51 116.85l-1.4 1.1" stroke="#e8e030" stroke-width="0.7"/>
<circle cx="587.81" cy="114" r="1.25" fill="#1e0000"/><circle cx="587.81" cy="114" r="0.45" fill="#7a1010"/>
<path d="M592.47 117.3V130.3M590.97 117.3h3M590.97 130.3h3" stroke="#62626e" stroke-width="0.5" fill="none"/>
<rect x="590.62" y="115.8" width="3.7" height="3.2" fill="#a6d8f2" stroke="#6f8fb8" stroke-width="0.5"/>
<line x1="590.62" y1="117.4" x2="594.32" y2="117.4" stroke="#6f8fb8" stroke-width="0.45"/>
<path d="M591.77 116.85l1.4 1.1M593.17 116.85l-1.4 1.1" stroke="#e8e030" stroke-width="0.7"/>
<circle cx="592.47" cy="123.6" r="1.25" fill="#1e0000"/><circle cx="592.47" cy="123.6" r="0.45" fill="#7a1010"/>
<path d="M597.14 91.5V120.5M595.64 91.5h3M595.64 120.5h3" stroke="#62626e" stroke-width="0.5" fill="none"/>
<rect x="595.29" y="115.8" width="3.7" height="3.2" fill="#a6d8f2" stroke="#6f8fb8" stroke-width="0.5"/>
<line x1="595.29" y1="117.4" x2="598.99" y2="117.4" stroke="#6f8fb8" stroke-width="0.45"/>
<path d="M596.44 116.85l1.4 1.1M597.84 116.85l-1.4 1.1" stroke="#e8e030" stroke-width="0.7"/>
<circle cx="597.14" cy="105.8" r="1.05" fill="none" stroke="#e07ad0" stroke-width="0.6"/>
<path d="M601.8 119.2V131.2M600.3 119.2h3M600.3 131.2h3" stroke="#62626e" stroke-width="0.5" fill="none"/>
<rect x="599.95" y="115.8" width="3.7" height="3.2" fill="#a6d8f2" stroke="#6f8fb8" stroke-width="0.5"/>
<line x1="599.95" y1="117.4" x2="603.65" y2="117.4" stroke="#6f8fb8" stroke-width="0.45"/>
<path d="M601.1 116.85l1.4 1.1M602.5 116.85l-1.4 1.1" stroke="#e8e030" stroke-width="0.7"/>
<circle cx="601.8" cy="125.5" r="1.3" fill="#ff0c0c"/>
<path d="M606.46 115.3V130.3M604.96 115.3h3M604.96 130.3h3" stroke="#62626e" stroke-width="0.5" fill="none"/>
<rect x="604.61" y="115.3" width="3.7" height="3.9" fill="#a6d8f2" stroke="#6f8fb8" stroke-width="0.5"/>
<line x1="604.61" y1="117.4" x2="608.31" y2="117.4" stroke="#6f8fb8" stroke-width="0.45"/>
<path d="M605.76 116.85l1.4 1.1M607.16 116.85l-1.4 1.1" stroke="#e8e030" stroke-width="0.7"/>
<circle cx="606.46" cy="122.9" r="1.25" fill="#1e0000"/><circle cx="606.46" cy="122.9" r="0.45" fill="#7a1010"/>
<path d="M611.13 103.3V127.3M609.63 103.3h3M609.63 127.3h3" stroke="#62626e" stroke-width="0.5" fill="none"/>
<rect x="609.28" y="113.3" width="3.7" height="8.3" fill="#a6d8f2" stroke="#6f8fb8" stroke-width="0.5"/>
<line x1="609.28" y1="117.4" x2="612.98" y2="117.4" stroke="#6f8fb8" stroke-width="0.45"/>
<path d="M610.43 116.85l1.4 1.1M611.83 116.85l-1.4 1.1" stroke="#e8e030" stroke-width="0.7"/>
<circle cx="611.13" cy="115.6" r="1.25" fill="#1e0000"/><circle cx="611.13" cy="115.6" r="0.45" fill="#7a1010"/>
<path d="M615.79 113.3V129.4M614.29 113.3h3M614.29 129.4h3" stroke="#62626e" stroke-width="0.5" fill="none"/>
<rect x="613.94" y="115.8" width="3.7" height="3.2" fill="#a6d8f2" stroke="#6f8fb8" stroke-width="0.5"/>
<line x1="613.94" y1="117.4" x2="617.64" y2="117.4" stroke="#6f8fb8" stroke-width="0.45"/>
<path d="M615.09 116.85l1.4 1.1M616.49 116.85l-1.4 1.1" stroke="#e8e030" stroke-width="0.7"/>
<circle cx="615.79" cy="121.6" r="1.25" fill="#1e0000"/><circle cx="615.79" cy="121.6" r="0.45" fill="#7a1010"/>
<path d="M620.46 107.5V129.4M618.96 107.5h3M618.96 129.4h3" stroke="#62626e" stroke-width="0.5" fill="none"/>
<rect x="618.61" y="111.4" width="3.7" height="11.1" fill="#a6d8f2" stroke="#6f8fb8" stroke-width="0.5"/>
<line x1="618.61" y1="117.4" x2="622.31" y2="117.4" stroke="#6f8fb8" stroke-width="0.45"/>
<path d="M619.76 116.85l1.4 1.1M621.16 116.85l-1.4 1.1" stroke="#e8e030" stroke-width="0.7"/>
<circle cx="620.46" cy="118.6" r="1.25" fill="#1e0000"/><circle cx="620.46" cy="118.6" r="0.45" fill="#7a1010"/>
<path d="M625.12 113.3V129.4M623.62 113.3h3M623.62 129.4h3" stroke="#62626e" stroke-width="0.5" fill="none"/>
<rect x="623.27" y="115.8" width="3.7" height="3.2" fill="#a6d8f2" stroke="#6f8fb8" stroke-width="0.5"/>
<line x1="623.27" y1="117.4" x2="626.97" y2="117.4" stroke="#6f8fb8" stroke-width="0.45"/>
<path d="M624.42 116.85l1.4 1.1M625.82 116.85l-1.4 1.1" stroke="#e8e030" stroke-width="0.7"/>
<circle cx="625.12" cy="121.6" r="1.25" fill="#1e0000"/><circle cx="625.12" cy="121.6" r="0.45" fill="#7a1010"/>
<path d="M629.78 87.2V119.2M628.28 87.2h3M628.28 119.2h3" stroke="#62626e" stroke-width="0.5" fill="none"/>
<rect x="627.93" y="115.3" width="3.7" height="4.6" fill="#a6d8f2" stroke="#6f8fb8" stroke-width="0.5"/>
<line x1="627.93" y1="117.4" x2="631.63" y2="117.4" stroke="#6f8fb8" stroke-width="0.45"/>
<path d="M629.08 116.85l1.4 1.1M630.48 116.85l-1.4 1.1" stroke="#e8e030" stroke-width="0.7"/>
<circle cx="629.78" cy="103.5" r="1.05" fill="none" stroke="#e07ad0" stroke-width="0.6"/>
<path d="M634.45 105.5V132.5M632.95 105.5h3M632.95 132.5h3" stroke="#62626e" stroke-width="0.5" fill="none"/>
<rect x="632.6" y="108.1" width="3.7" height="16.3" fill="#a6d8f2" stroke="#6f8fb8" stroke-width="0.5"/>
<line x1="632.6" y1="117.4" x2="636.3" y2="117.4" stroke="#6f8fb8" stroke-width="0.45"/>
<path d="M633.75 116.85l1.4 1.1M635.15 116.85l-1.4 1.1" stroke="#e8e030" stroke-width="0.7"/>
<circle cx="634.45" cy="119" r="1.25" fill="#1e0000"/><circle cx="634.45" cy="119" r="0.45" fill="#7a1010"/>
<path d="M639.11 93.1V121.5M637.61 93.1h3M637.61 121.5h3" stroke="#62626e" stroke-width="0.5" fill="none"/>
<rect x="637.26" y="115.8" width="3.7" height="3.2" fill="#5cc65c" stroke="#3a8e3a" stroke-width="0.5"/>
<line x1="637.26" y1="117.4" x2="640.96" y2="117.4" stroke="#3a8e3a" stroke-width="0.45"/>
<path d="M638.41 116.85l1.4 1.1M639.81 116.85l-1.4 1.1" stroke="#e8e030" stroke-width="0.7"/>
<circle cx="639.11" cy="107.4" r="1.05" fill="none" stroke="#e07ad0" stroke-width="0.6"/>
<path d="M643.78 102.2V125.1M642.28 102.2h3M642.28 125.1h3" stroke="#62626e" stroke-width="0.5" fill="none"/>
<rect x="641.93" y="115.8" width="3.7" height="3.2" fill="#5cc65c" stroke="#3a8e3a" stroke-width="0.5"/>
<line x1="641.93" y1="117.4" x2="645.63" y2="117.4" stroke="#3a8e3a" stroke-width="0.45"/>
<path d="M643.08 116.85l1.4 1.1M644.48 116.85l-1.4 1.1" stroke="#e8e030" stroke-width="0.7"/>
<circle cx="643.78" cy="113.7" r="1.25" fill="#1e0000"/><circle cx="643.78" cy="113.7" r="0.45" fill="#7a1010"/>
<path d="M648.44 114.2V130.7M646.94 114.2h3M646.94 130.7h3" stroke="#62626e" stroke-width="0.5" fill="none"/>
<rect x="646.59" y="114.2" width="3.7" height="6.6" fill="#5cc65c" stroke="#3a8e3a" stroke-width="0.5"/>
<line x1="646.59" y1="117.4" x2="650.29" y2="117.4" stroke="#3a8e3a" stroke-width="0.45"/>
<path d="M647.74 116.85l1.4 1.1M649.14 116.85l-1.4 1.1" stroke="#e8e030" stroke-width="0.7"/>
<circle cx="648.44" cy="123.4" r="1.25" fill="#1e0000"/><circle cx="648.44" cy="123.4" r="0.45" fill="#7a1010"/>
<path d="M653.1 114.2V130.7M651.6 114.2h3M651.6 130.7h3" stroke="#62626e" stroke-width="0.5" fill="none"/>
<rect x="651.25" y="114.2" width="3.7" height="6.6" fill="#5cc65c" stroke="#3a8e3a" stroke-width="0.5"/>
<line x1="651.25" y1="117.4" x2="654.95" y2="117.4" stroke="#3a8e3a" stroke-width="0.45"/>
<path d="M652.4 116.85l1.4 1.1M653.8 116.85l-1.4 1.1" stroke="#e8e030" stroke-width="0.7"/>
<circle cx="653.1" cy="123.1" r="1.25" fill="#1e0000"/><circle cx="653.1" cy="123.1" r="0.45" fill="#7a1010"/>
<path d="M657.77 97.2V122.5M656.27 97.2h3M656.27 122.5h3" stroke="#62626e" stroke-width="0.5" fill="none"/>
<rect x="655.92" y="115.8" width="3.7" height="3.2" fill="#5cc65c" stroke="#3a8e3a" stroke-width="0.5"/>
<line x1="655.92" y1="117.4" x2="659.62" y2="117.4" stroke="#3a8e3a" stroke-width="0.45"/>
<path d="M657.07 116.85l1.4 1.1M658.47 116.85l-1.4 1.1" stroke="#e8e030" stroke-width="0.7"/>
<circle cx="657.77" cy="110" r="1.05" fill="none" stroke="#e07ad0" stroke-width="0.6"/>
<path d="M662.43 104.2V126M660.93 104.2h3M660.93 126h3" stroke="#62626e" stroke-width="0.5" fill="none"/>
<rect x="660.58" y="115" width="3.7" height="4.8" fill="#5cc65c" stroke="#3a8e3a" stroke-width="0.5"/>
<line x1="660.58" y1="117.4" x2="664.28" y2="117.4" stroke="#3a8e3a" stroke-width="0.45"/>
<path d="M661.73 116.85l1.4 1.1M663.13 116.85l-1.4 1.1" stroke="#e8e030" stroke-width="0.7"/>
<circle cx="662.43" cy="115" r="1.25" fill="#1e0000"/><circle cx="662.43" cy="115" r="0.45" fill="#7a1010"/>
<path d="M667.1 104.2V126M665.6 104.2h3M665.6 126h3" stroke="#62626e" stroke-width="0.5" fill="none"/>
<rect x="665.25" y="115.8" width="3.7" height="3.2" fill="#5cc65c" stroke="#3a8e3a" stroke-width="0.5"/>
<line x1="665.25" y1="117.4" x2="668.95" y2="117.4" stroke="#3a8e3a" stroke-width="0.45"/>
<path d="M666.4 116.85l1.4 1.1M667.8 116.85l-1.4 1.1" stroke="#e8e030" stroke-width="0.7"/>
<circle cx="667.1" cy="115.5" r="1.25" fill="#1e0000"/><circle cx="667.1" cy="115.5" r="0.45" fill="#7a1010"/>
<path d="M671.76 110.3V127.3M670.26 110.3h3M670.26 127.3h3" stroke="#62626e" stroke-width="0.5" fill="none"/>
<rect x="669.91" y="115.8" width="3.7" height="3.2" fill="#5cc65c" stroke="#3a8e3a" stroke-width="0.5"/>
<line x1="669.91" y1="117.4" x2="673.61" y2="117.4" stroke="#3a8e3a" stroke-width="0.45"/>
<path d="M671.06 116.85l1.4 1.1M672.46 116.85l-1.4 1.1" stroke="#e8e030" stroke-width="0.7"/>
<circle cx="671.76" cy="118.9" r="1.25" fill="#1e0000"/><circle cx="671.76" cy="118.9" r="0.45" fill="#7a1010"/>
<path d="M676.42 116.6V131.2M674.92 116.6h3M674.92 131.2h3" stroke="#62626e" stroke-width="0.5" fill="none"/>
<rect x="674.57" y="115.8" width="3.7" height="3.2" fill="#5cc65c" stroke="#3a8e3a" stroke-width="0.5"/>
<line x1="674.57" y1="117.4" x2="678.27" y2="117.4" stroke="#3a8e3a" stroke-width="0.45"/>
<path d="M675.72 116.85l1.4 1.1M677.12 116.85l-1.4 1.1" stroke="#e8e030" stroke-width="0.7"/>
<circle cx="676.42" cy="125.5" r="1.3" fill="#ff0c0c"/>
<path d="M681.09 112V128.3M679.59 112h3M679.59 128.3h3" stroke="#62626e" stroke-width="0.5" fill="none"/>
<rect x="679.24" y="115.8" width="3.7" height="3.2" fill="#5cc65c" stroke="#3a8e3a" stroke-width="0.5"/>
<line x1="679.24" y1="117.4" x2="682.94" y2="117.4" stroke="#3a8e3a" stroke-width="0.45"/>
<path d="M680.39 116.85l1.4 1.1M681.79 116.85l-1.4 1.1" stroke="#e8e030" stroke-width="0.7"/>
<circle cx="681.09" cy="120.5" r="1.25" fill="#1e0000"/><circle cx="681.09" cy="120.5" r="0.45" fill="#7a1010"/>
<rect x="121.3" y="194.1" width="10.5" height="115.8" fill="#f4f4f4"/>
<rect x="133.4" y="196.1" width="160.8" height="112.3" fill="#a6a8fa"/>
<rect x="294.2" y="196.1" width="48.8" height="112.3" fill="#d3d3d3"/>
<line x1="131.2" y1="196.1" x2="131.2" y2="309.2" stroke="#e6aaaa" stroke-width="0.7"/>
<line x1="131.2" y1="308.9" x2="343" y2="308.9" stroke="#e8a8a8" stroke-width="0.7"/>
<line x1="129.6" y1="308.2" x2="131.2" y2="308.2" stroke="#777" stroke-width="0.5"/>
<text x="129.2" y="309.3" font-size="3.2" fill="#666" text-anchor="end">0</text>
<line x1="129.6" y1="292.75" x2="131.2" y2="292.75" stroke="#777" stroke-width="0.5"/>
<text x="129.2" y="293.85" font-size="3.2" fill="#666" text-anchor="end">0.5</text>
<line x1="129.6" y1="277.3" x2="131.2" y2="277.3" stroke="#777" stroke-width="0.5"/>
<text x="129.2" y="278.4" font-size="3.2" fill="#666" text-anchor="end">1</text>
<line x1="129.6" y1="261.85" x2="131.2" y2="261.85" stroke="#777" stroke-width="0.5"/>
<text x="129.2" y="262.95" font-size="3.2" fill="#666" text-anchor="end">1.5</text>
<line x1="129.6" y1="246.4" x2="131.2" y2="246.4" stroke="#777" stroke-width="0.5"/>
<text x="129.2" y="247.5" font-size="3.2" fill="#666" text-anchor="end">2</text>
<line x1="129.6" y1="230.95" x2="131.2" y2="230.95" stroke="#777" stroke-width="0.5"/>
<text x="129.2" y="232.05" font-size="3.2" fill="#666" text-anchor="end">2.5</text>
<line x1="129.6" y1="215.5" x2="131.2" y2="215.5" stroke="#777" stroke-width="0.5"/>
<text x="129.2" y="216.6" font-size="3.2" fill="#666" text-anchor="end">3</text>
<line x1="129.6" y1="200.05" x2="131.2" y2="200.05" stroke="#777" stroke-width="0.5"/>
<text x="129.2" y="201.15" font-size="3.2" fill="#666" text-anchor="end">3.5</text>
<line x1="135.8" y1="308.9" x2="135.8" y2="310.2" stroke="#666" stroke-width="0.5"/>
<line x1="140.68" y1="308.9" x2="140.68" y2="310.2" stroke="#666" stroke-width="0.5"/>
<line x1="145.56" y1="308.9" x2="145.56" y2="310.2" stroke="#666" stroke-width="0.5"/>
<line x1="150.44" y1="308.9" x2="150.44" y2="310.2" stroke="#666" stroke-width="0.5"/>
<line x1="155.32" y1="308.9" x2="155.32" y2="310.2" stroke="#666" stroke-width="0.5"/>
<line x1="160.19" y1="308.9" x2="160.19" y2="310.2" stroke="#666" stroke-width="0.5"/>
<line x1="165.07" y1="308.9" x2="165.07" y2="310.2" stroke="#666" stroke-width="0.5"/>
<line x1="169.95" y1="308.9" x2="169.95" y2="310.2" stroke="#666" stroke-width="0.5"/>
<line x1="174.83" y1="308.9" x2="174.83" y2="310.2" stroke="#666" stroke-width="0.5"/>
<line x1="179.71" y1="308.9" x2="179.71" y2="310.2" stroke="#666" stroke-width="0.5"/>
<line x1="184.59" y1="308.9" x2="184.59" y2="310.2" stroke="#666" stroke-width="0.5"/>
<line x1="189.47" y1="308.9" x2="189.47" y2="310.2" stroke="#666" stroke-width="0.5"/>
<line x1="194.35" y1="308.9" x2="194.35" y2="310.2" stroke="#666" stroke-width="0.5"/>
<line x1="199.23" y1="308.9" x2="199.23" y2="310.2" stroke="#666" stroke-width="0.5"/>
<line x1="204.11" y1="308.9" x2="204.11" y2="310.2" stroke="#666" stroke-width="0.5"/>
<line x1="208.99" y1="308.9" x2="208.99" y2="310.2" stroke="#666" stroke-width="0.5"/>
<line x1="213.86" y1="308.9" x2="213.86" y2="310.2" stroke="#666" stroke-width="0.5"/>
<line x1="218.74" y1="308.9" x2="218.74" y2="310.2" stroke="#666" stroke-width="0.5"/>
<line x1="223.62" y1="308.9" x2="223.62" y2="310.2" stroke="#666" stroke-width="0.5"/>
<line x1="228.5" y1="308.9" x2="228.5" y2="310.2" stroke="#666" stroke-width="0.5"/>
<line x1="233.38" y1="308.9" x2="233.38" y2="310.2" stroke="#666" stroke-width="0.5"/>
<line x1="238.26" y1="308.9" x2="238.26" y2="310.2" stroke="#666" stroke-width="0.5"/>
<line x1="243.14" y1="308.9" x2="243.14" y2="310.2" stroke="#666" stroke-width="0.5"/>
<line x1="248.02" y1="308.9" x2="248.02" y2="310.2" stroke="#666" stroke-width="0.5"/>
<line x1="252.9" y1="308.9" x2="252.9" y2="310.2" stroke="#666" stroke-width="0.5"/>
<line x1="257.77" y1="308.9" x2="257.77" y2="310.2" stroke="#666" stroke-width="0.5"/>
<line x1="262.65" y1="308.9" x2="262.65" y2="310.2" stroke="#666" stroke-width="0.5"/>
<line x1="267.53" y1="308.9" x2="267.53" y2="310.2" stroke="#666" stroke-width="0.5"/>
<line x1="272.41" y1="308.9" x2="272.41" y2="310.2" stroke="#666" stroke-width="0.5"/>
<line x1="277.29" y1="308.9" x2="277.29" y2="310.2" stroke="#666" stroke-width="0.5"/>
<line x1="282.17" y1="308.9" x2="282.17" y2="310.2" stroke="#666" stroke-width="0.5"/>
<line x1="287.05" y1="308.9" x2="287.05" y2="310.2" stroke="#666" stroke-width="0.5"/>
<line x1="291.93" y1="308.9" x2="291.93" y2="310.2" stroke="#666" stroke-width="0.5"/>
<line x1="296.81" y1="308.9" x2="296.81" y2="310.2" stroke="#666" stroke-width="0.5"/>
<line x1="301.69" y1="308.9" x2="301.69" y2="310.2" stroke="#666" stroke-width="0.5"/>
<line x1="306.56" y1="308.9" x2="306.56" y2="310.2" stroke="#666" stroke-width="0.5"/>
<line x1="311.44" y1="308.9" x2="311.44" y2="310.2" stroke="#666" stroke-width="0.5"/>
<line x1="316.32" y1="308.9" x2="316.32" y2="310.2" stroke="#666" stroke-width="0.5"/>
<line x1="321.2" y1="308.9" x2="321.2" y2="310.2" stroke="#666" stroke-width="0.5"/>
<line x1="326.08" y1="308.9" x2="326.08" y2="310.2" stroke="#666" stroke-width="0.5"/>
<line x1="330.96" y1="308.9" x2="330.96" y2="310.2" stroke="#666" stroke-width="0.5"/>
<line x1="335.84" y1="308.9" x2="335.84" y2="310.2" stroke="#666" stroke-width="0.5"/>
<line x1="340.72" y1="308.9" x2="340.72" y2="310.2" stroke="#666" stroke-width="0.5"/>
<path d="M134.6 216.7h1.7v1.3h-1.7zM134.6 214.8h1.7v1.6h-1.7zM134.6 209.6h1.7v1.8h-1.7zM134.6 208.2h1.7v0.9h-1.7zM134.6 204.1h1.7v1.4h-1.7zM134.6 202.6h1.7v1.1h-1.7zM139.5 210.9h1.7v1.4h-1.7zM139.5 209h1.7v1.5h-1.7zM139.5 207.1h1.7v1.6h-1.7zM139.5 199.9h1.7v1.8h-1.7zM144.4 214.9h1.7v1.2h-1.7zM144.4 212.9h1.7v1.5h-1.7zM144.4 206.9h1.7v1.7h-1.7zM144.4 199.5h1.7v1.1h-1.7zM149.2 214.7h1.7v1.4h-1.7zM149.2 212.7h1.7v1.6h-1.7zM149.7 197.5h0.8v0.6h-0.8zM154.1 212.6h1.7v1.6h-1.7zM154.1 210.9h1.7v1.4h-1.7zM154.1 209.1h1.7v1.3h-1.7zM154.1 207.5h1.7v1.1h-1.7zM159 210.4h1.7v1.7h-1.7zM159 206.5h1.7v1.7h-1.7zM159 202.5h1.7v1.3h-1.7zM163.9 216.9h1.7v1.1h-1.7zM163.9 202.8h1.7v1h-1.7zM168.8 210.5h1.7v1.1h-1.7zM168.8 208.9h1.7v1.1h-1.7zM168.8 207h1.7v1.5h-1.7zM173.6 216.4h1.7v1.6h-1.7zM173.6 212.7h1.7v1.7h-1.7zM173.6 211.2h1.7v1.2h-1.7zM173.6 209h1.7v1.7h-1.7zM173.6 206.9h1.7v1.6h-1.7zM173.6 202.4h1.7v1.4h-1.7zM173.6 200.5h1.7v1.6h-1.7zM173.6 198.7h1.7v1.4h-1.7zM173.6 197.5h1.7v0.9h-1.7zM178.5 216.3h1.7v1.7h-1.7zM178.5 210.3h1.7v1.7h-1.7zM178.5 199.4h1.7v1.7h-1.7zM178.5 197.5h1.7v1.4h-1.7zM183.4 208.4h1.7v1.7h-1.7zM183.4 206.6h1.7v1.4h-1.7zM183.4 202.8h1.7v1.1h-1.7zM183.4 200.8h1.7v1.3h-1.7zM183.4 199h1.7v1.6h-1.7zM183.4 197.5h1.7v1h-1.7zM188.3 216.5h1.7v1.5h-1.7zM188.3 214.2h1.7v1.9h-1.7zM188.3 206.5h1.7v1.7h-1.7zM188.3 197.5h1.7v0.8h-1.7zM193.1 199.2h1.7v1.1h-1.7zM198 216.9h1.7v1.1h-1.7zM198 215.4h1.7v1.2h-1.7zM198 209.4h1.7v1.5h-1.7zM198.5 206.5h0.8v0.6h-0.8zM198 198.8h1.7v1.5h-1.7zM202.9 211.5h1.7v1.5h-1.7zM202.9 206.5h1.7v0.9h-1.7zM202.9 197.5h1.7v1.2h-1.7zM207.8 200.6h1.7v1.4h-1.7zM207.8 197.5h1.7v1h-1.7zM212.7 212.5h1.7v1.5h-1.7zM212.7 208.7h1.7v1.6h-1.7zM212.7 202.2h1.7v1.6h-1.7zM212.7 197.5h1.7v1.1h-1.7zM217.5 216.3h1.7v1.7h-1.7zM217.5 211.9h1.7v1.7h-1.7zM217.5 208.9h1.7v1.2h-1.7zM217.5 206.9h1.7v1.5h-1.7zM217.5 202.6h1.7v1.2h-1.7zM217.5 197.5h1.7v0.7h-1.7zM222.4 206.5h1.7v1.3h-1.7zM227.3 216.7h1.7v1.3h-1.7zM227.3 214.6h1.7v1.6h-1.7zM227.3 206.5h1.7v0.9h-1.7zM227.3 200.6h1.7v1.2h-1.7zM232.2 214h1.7v1.9h-1.7zM232.2 212h1.7v1.7h-1.7zM232.2 209.9h1.7v1.7h-1.7zM232.2 202.7h1.7v1.1h-1.7zM232.2 201.1h1.7v1.1h-1.7zM232.2 199.3h1.7v1.3h-1.7zM232.2 197.8h1.7v1h-1.7zM237.1 214.6h1.7v1.8h-1.7zM237.5 206.5h0.8v0.4h-0.8zM237.1 200.7h1.7v1.4h-1.7zM237.1 198.8h1.7v1.6h-1.7zM241.9 212.8h1.7v1.4h-1.7zM242.4 206.5h0.8v0.4h-0.8zM241.9 202.4h1.7v1.4h-1.7zM241.9 200.5h1.7v1.5h-1.7zM246.8 213.9h1.7v1.8h-1.7zM246.8 198.6h1.7v1.2h-1.7zM247.3 197.5h0.8v0.7h-0.8zM251.7 216.2h1.7v1.8h-1.7zM251.7 210.3h1.7v1.9h-1.7zM251.7 206.5h1.7v1.5h-1.7zM251.7 198.9h1.7v1h-1.7zM256.6 212.7h1.7v1.4h-1.7zM256.6 200.3h1.7v1.6h-1.7zM256.6 198.2h1.7v1.7h-1.7zM261.5 214.1h1.7v1.9h-1.7zM261.5 212.1h1.7v1.6h-1.7zM261.5 208.6h1.7v1.7h-1.7zM261.5 207h1.7v1.3h-1.7zM266.3 212.8h1.7v1.5h-1.7zM266.3 207.7h1.7v1.4h-1.7zM266.3 206.5h1.7v0.8h-1.7zM266.3 202.1h1.7v1.7h-1.7zM266.3 199.9h1.7v1.6h-1.7zM271.2 214.8h1.7v1.3h-1.7zM271.2 207.7h1.7v1.2h-1.7zM271.2 200.5h1.7v1.6h-1.7zM276.1 216.9h1.7v1.1h-1.7zM276.1 208.7h1.7v1.8h-1.7zM276.1 206.8h1.7v1.5h-1.7zM276.1 200.7h1.7v1.2h-1.7zM281 212.8h1.7v1.6h-1.7zM281 211.1h1.7v1.3h-1.7zM281 209.3h1.7v1.4h-1.7zM281 207.5h1.7v1.5h-1.7zM281 199h1.7v1.1h-1.7zM281 197.5h1.7v1.1h-1.7zM285.8 216.8h1.7v1.2h-1.7zM285.8 215.1h1.7v1.2h-1.7zM285.8 210.9h1.7v1.5h-1.7zM285.8 209.2h1.7v1.3h-1.7zM285.8 207.8h1.7v1.2h-1.7zM285.8 202.5h1.7v1.3h-1.7zM285.8 198.8h1.7v1.7h-1.7zM290.7 212.7h1.7v1.4h-1.7zM290.7 209h1.7v1.4h-1.7zM290.7 202.6h1.7v1.2h-1.7zM290.7 197.5h1.7v1.2h-1.7z" fill="#2a2a62" fill-opacity="0.71"/>
<path d="M134.6 213.4h1.7v1.1h-1.7zM134.6 211.8h1.7v1.3h-1.7zM139.5 216.6h1.7v1.4h-1.7zM139.5 214.4h1.7v1.8h-1.7zM139.5 202.3h1.7v1.5h-1.7zM139.5 197.9h1.7v1.7h-1.7zM144.4 216.4h1.7v1.6h-1.7zM144.4 202.4h1.7v1.4h-1.7zM149.2 216.6h1.7v1.4h-1.7zM149.2 210.7h1.7v1.6h-1.7zM149.2 208.8h1.7v1.4h-1.7zM149.2 207.2h1.7v1.3h-1.7zM154.1 199h1.7v1.3h-1.7zM159 198.4h1.7v1.8h-1.7zM163.9 214.7h1.7v1.7h-1.7zM163.9 212.5h1.7v1.8h-1.7zM163.9 208.6h1.7v1.1h-1.7zM163.9 207h1.7v1.3h-1.7zM168.8 212.1h1.7v1.8h-1.7zM168.8 198.8h1.7v1.8h-1.7zM178.5 214.7h1.7v1.2h-1.7zM178.5 212.4h1.7v1.8h-1.7zM178.5 202.7h1.7v1.1h-1.7zM178.5 201.4h1.7v1h-1.7zM183.4 212.1h1.7v1.6h-1.7zM188.3 212.5h1.7v1.2h-1.7zM188.3 210.7h1.7v1.5h-1.7zM188.3 208.6h1.7v1.5h-1.7zM188.3 202h1.7v1.8h-1.7zM188.3 200.5h1.7v1.2h-1.7zM193.1 216.4h1.7v1.6h-1.7zM193.1 214.9h1.7v1.1h-1.7zM193.1 212.7h1.7v1.9h-1.7zM193.1 211.1h1.7v1.1h-1.7zM193.1 209h1.7v1.6h-1.7zM193.1 197.7h1.7v1.2h-1.7zM198 207.6h1.7v1.5h-1.7zM198 202.3h1.7v1.5h-1.7zM198 200.7h1.7v1.1h-1.7zM202.9 216.8h1.7v1.2h-1.7zM202.9 215.1h1.7v1.2h-1.7zM202.9 213.5h1.7v1.4h-1.7zM202.9 207.8h1.7v1.7h-1.7zM202.9 202.5h1.7v1.3h-1.7zM207.8 216.4h1.7v1.6h-1.7zM207.8 212.2h1.7v1.6h-1.7zM207.8 207.7h1.7v1.8h-1.7zM207.8 198.8h1.7v1.3h-1.7zM212.7 216.4h1.7v1.6h-1.7zM212.7 214.5h1.7v1.7h-1.7zM212.7 206.5h1.7v1.7h-1.7zM212.7 198.9h1.7v1.4h-1.7zM217.5 214h1.7v1.8h-1.7zM222.4 208.1h1.7v1.4h-1.7zM227.3 212.7h1.7v1.6h-1.7zM227.3 207.7h1.7v1.6h-1.7zM227.3 202.1h1.7v1.7h-1.7zM232.2 216.2h1.7v1.8h-1.7zM232.2 207.9h1.7v1.5h-1.7zM232.2 206.5h1.7v0.9h-1.7zM237.1 212.8h1.7v1.5h-1.7zM237.1 210.8h1.7v1.7h-1.7zM237.1 209.1h1.7v1.2h-1.7zM237.1 202.6h1.7v1.3h-1.7zM237.1 197.5h1.7v0.7h-1.7zM241.9 216.7h1.7v1.3h-1.7zM241.9 214.7h1.7v1.6h-1.7zM241.9 211.2h1.7v1.2h-1.7zM241.9 207.1h1.7v1.5h-1.7zM241.9 198.9h1.7v1.3h-1.7zM246.8 216.2h1.7v1.8h-1.7zM246.8 211.7h1.7v1.9h-1.7zM246.8 209.7h1.7v1.5h-1.7zM246.8 207.4h1.7v1.9h-1.7zM251.7 214.4h1.7v1.5h-1.7zM251.7 212.6h1.7v1.4h-1.7zM251.7 208.3h1.7v1.5h-1.7zM251.7 200.4h1.7v1.6h-1.7zM251.7 197.6h1.7v1h-1.7zM256.6 216.1h1.7v1.9h-1.7zM256.6 209.3h1.7v1.3h-1.7zM256.6 206.5h1.7v0.7h-1.7zM261.5 216.5h1.7v1.5h-1.7zM261.5 210.6h1.7v1.2h-1.7zM266.3 214.8h1.7v1.5h-1.7zM266.3 210.9h1.7v1.6h-1.7zM271.2 216.6h1.7v1.4h-1.7zM271.2 211.1h1.7v1.7h-1.7zM276.1 210.9h1.7v1.5h-1.7zM276.1 199h1.7v1.2h-1.7zM276.1 197.5h1.7v0.9h-1.7zM281.4 206.5h0.8v0.5h-0.8zM281 200.5h1.7v1.3h-1.7zM290.7 210.7h1.7v1.7h-1.7zM290.7 201.1h1.7v1.1h-1.7z" fill="#2a2a62" fill-opacity="0.85"/>
<path d="M135.1 206.7h0.8v0.6h-0.8zM134.6 200.9h1.7v1.2h-1.7zM139.5 212.9h1.7v1.2h-1.7zM139.9 205h0.8v0.6h-0.8zM144.4 210.8h1.7v1.8h-1.7zM144.4 209h1.7v1.4h-1.7zM144.8 205h0.8v0.6h-0.8zM144.4 200.8h1.7v1.2h-1.7zM144.4 197.5h1.7v1.4h-1.7zM149.7 205h0.8v0.6h-0.8zM149.2 202.4h1.7v1.4h-1.7zM149.2 200.5h1.7v1.5h-1.7zM149.2 198.6h1.7v1.5h-1.7zM154.1 216.9h1.7v1.1h-1.7zM154.1 214.6h1.7v1.9h-1.7zM154.6 206.5h0.8v0.5h-0.8zM154.6 205h0.8v0.6h-0.8zM154.1 202.6h1.7v1.2h-1.7zM154.1 200.7h1.7v1.6h-1.7zM154.1 197.5h1.7v1.1h-1.7zM159 216.5h1.7v1.5h-1.7zM159 214.7h1.7v1.5h-1.7zM159 212.5h1.7v1.8h-1.7zM159 208.5h1.7v1.4h-1.7zM159.4 205h0.8v0.6h-0.8zM159 200.4h1.7v1.7h-1.7zM163.9 210.1h1.7v1.9h-1.7zM164.3 205h0.8v0.6h-0.8zM163.9 201.1h1.7v1.4h-1.7zM163.9 199.4h1.7v1.4h-1.7zM163.9 197.7h1.7v1.1h-1.7zM168.8 216.6h1.7v1.4h-1.7zM168.8 214.5h1.7v1.8h-1.7zM169.2 205h0.8v0.6h-0.8zM168.8 202.2h1.7v1.6h-1.7zM168.8 200.8h1.7v1.1h-1.7zM168.8 197.5h1.7v1h-1.7zM173.6 214.8h1.7v1.4h-1.7zM174.1 205h0.8v0.6h-0.8zM178.5 208.4h1.7v1.6h-1.7zM178.5 206.5h1.7v1.6h-1.7zM179 205h0.8v0.6h-0.8zM183.4 216.3h1.7v1.7h-1.7zM183.4 214h1.7v1.8h-1.7zM183.4 210.5h1.7v1.2h-1.7zM183.8 205h0.8v0.6h-0.8zM188.7 205h0.8v0.6h-0.8zM188.3 198.7h1.7v1.5h-1.7zM193.1 207.4h1.7v1.3h-1.7zM193.6 206.5h0.8v0.4h-0.8zM193.6 205h0.8v0.6h-0.8zM193.1 202.3h1.7v1.5h-1.7zM193.1 200.6h1.7v1.1h-1.7zM198 213.4h1.7v1.5h-1.7zM198 211.2h1.7v1.8h-1.7zM198.5 205h0.8v0.6h-0.8zM198 197.5h1.7v0.9h-1.7zM202.9 209.7h1.7v1.3h-1.7zM203.4 205h0.8v0.6h-0.8zM202.9 200.8h1.7v1.4h-1.7zM202.9 199h1.7v1.3h-1.7zM207.8 214.2h1.7v1.8h-1.7zM207.8 209.9h1.7v1.9h-1.7zM207.8 206.5h1.7v0.8h-1.7zM208.2 205h0.8v0.6h-0.8zM207.8 202.5h1.7v1.3h-1.7zM212.7 210.7h1.7v1.5h-1.7zM213.1 205h0.8v0.6h-0.8zM212.7 200.6h1.7v1.3h-1.7zM217.5 210.5h1.7v1.1h-1.7zM218 205h0.8v0.6h-0.8zM217.5 200.7h1.7v1.3h-1.7zM217.5 198.6h1.7v1.6h-1.7zM222.4 216.3h1.7v1.7h-1.7zM222.4 214.6h1.7v1.3h-1.7zM222.4 212.9h1.7v1.4h-1.7zM222.4 211.5h1.7v1.2h-1.7zM222.4 209.9h1.7v1.1h-1.7zM222.9 205h0.8v0.6h-0.8zM222.4 202h1.7v1.8h-1.7zM222.4 200.4h1.7v1.4h-1.7zM222.4 198.6h1.7v1.3h-1.7zM222.4 197.5h1.7v0.9h-1.7zM227.3 211.1h1.7v1.1h-1.7zM227.3 209.6h1.7v1.2h-1.7zM227.8 205h0.8v0.6h-0.8zM227.3 198.9h1.7v1.1h-1.7zM227.3 197.5h1.7v0.9h-1.7zM232.6 205h0.8v0.6h-0.8zM237.1 216.9h1.7v1.1h-1.7zM237.1 207.5h1.7v1.3h-1.7zM237.5 205h0.8v0.6h-0.8zM241.9 209h1.7v1.8h-1.7zM242.4 205h0.8v0.6h-0.8zM241.9 197.5h1.7v1h-1.7zM247.3 206.5h0.8v0.5h-0.8zM247.3 205h0.8v0.6h-0.8zM246.8 202.2h1.7v1.6h-1.7zM246.8 200.3h1.7v1.5h-1.7zM252.1 205h0.8v0.6h-0.8zM251.7 202.5h1.7v1.3h-1.7zM256.6 214.4h1.7v1.1h-1.7zM256.6 210.9h1.7v1.5h-1.7zM256.6 207.6h1.7v1.3h-1.7zM257 205h0.8v0.6h-0.8zM256.6 202.2h1.7v1.6h-1.7zM257 197.5h0.8v0.3h-0.8zM261.9 205h0.8v0.6h-0.8zM261.5 202.4h1.7v1.5h-1.7zM261.5 200.7h1.7v1.4h-1.7zM261.5 198.8h1.7v1.5h-1.7zM261.5 197.5h1.7v1h-1.7zM266.3 216.6h1.7v1.4h-1.7zM266.3 209.4h1.7v1.1h-1.7zM266.8 205h0.8v0.6h-0.8zM266.3 198.1h1.7v1.5h-1.7zM271.2 213h1.7v1.5h-1.7zM271.2 209.3h1.7v1.4h-1.7zM271.2 206.5h1.7v0.8h-1.7zM271.7 205h0.8v0.6h-0.8zM271.2 202.4h1.7v1.4h-1.7zM271.2 199.1h1.7v1h-1.7zM271.2 197.6h1.7v1.2h-1.7zM276.1 215.1h1.7v1.5h-1.7zM276.1 212.9h1.7v1.8h-1.7zM276.5 205h0.8v0.6h-0.8zM276.1 202.5h1.7v1.4h-1.7zM281 216.4h1.7v1.6h-1.7zM281 214.8h1.7v1.2h-1.7zM281.4 205h0.8v0.6h-0.8zM281 202.2h1.7v1.6h-1.7zM285.8 212.8h1.7v1.9h-1.7zM285.8 206.5h1.7v1h-1.7zM286.3 205h0.8v0.6h-0.8zM285.8 201h1.7v1.3h-1.7zM285.8 197.5h1.7v1h-1.7zM290.7 216.2h1.7v1.8h-1.7zM290.7 214.6h1.7v1.3h-1.7zM290.7 206.8h1.7v1.8h-1.7zM291.2 205h0.8v0.6h-0.8zM290.7 199.1h1.7v1.6h-1.7z" fill="#2a2a62" fill-opacity="0.57"/>
<path d="M295.6 216.5h1.7v1.5h-1.7zM295.6 214.4h1.7v1.6h-1.7zM295.6 205.7h1.7v0.8h-1.7zM295.6 199.8h1.7v1.1h-1.7zM295.6 197.8h1.7v1.7h-1.7zM300.5 216.6h1.7v1.4h-1.7zM300.5 212.5h1.7v1.4h-1.7zM300.5 210.7h1.7v1.4h-1.7zM300.5 208.6h1.7v1.8h-1.7zM300.5 206.6h1.7v1.5h-1.7zM300.9 205.7h0.8v0.4h-0.8zM305.4 216.7h1.7v1.3h-1.7zM305.4 215.1h1.7v1.3h-1.7zM305.4 205.7h1.7v1.5h-1.7zM305.4 200.4h1.7v1.1h-1.7zM305.4 197.2h1.7v1.3h-1.7zM305.4 196h1.7v0.8h-1.7zM310.2 206.6h1.7v1.6h-1.7zM310.7 205.7h0.8v0.4h-0.8zM310.2 197.5h1.7v1.7h-1.7zM310.2 196h1.7v1.1h-1.7zM315.1 196h1.7v1.6h-1.7zM320 212.8h1.7v1.3h-1.7zM320 199.3h1.7v1.4h-1.7zM324.9 201.5h1.7v1.4h-1.7zM324.9 196.5h1.7v1.1h-1.7zM329.8 212.9h1.7v1.6h-1.7zM329.8 208h1.7v1.1h-1.7zM329.8 205.8h1.7v1.7h-1.7zM334.6 211h1.7v1.4h-1.7zM334.6 209h1.7v1.7h-1.7zM334.6 206.9h1.7v1.8h-1.7zM334.6 200.1h1.7v1.1h-1.7zM334.6 197.1h1.7v1h-1.7zM339.5 216.6h1.7v1.4h-1.7zM339.5 212.8h1.7v1.3h-1.7zM339.5 201.3h1.7v1.7h-1.7zM339.5 199.6h1.7v1.3h-1.7z" fill="#555555" fill-opacity="0.71"/>
<path d="M295.6 212.3h1.7v1.9h-1.7zM295.6 210.5h1.7v1.5h-1.7zM295.6 207h1.7v1.4h-1.7zM300.5 199.6h1.7v1.4h-1.7zM305.4 212.9h1.7v1.9h-1.7zM310.2 199.7h1.7v1.3h-1.7zM315.1 216.7h1.7v1.3h-1.7zM315.1 213.1h1.7v1.4h-1.7zM315.1 201.2h1.7v1.7h-1.7zM315.1 197.9h1.7v1.3h-1.7zM320 216.6h1.7v1.4h-1.7zM320 214.6h1.7v1.7h-1.7zM320 197.4h1.7v1.5h-1.7zM324.9 215.2h1.7v1.3h-1.7zM324.9 212.9h1.7v1.9h-1.7zM324.9 208.9h1.7v1.7h-1.7zM324.9 207.4h1.7v1.2h-1.7zM324.9 205.7h1.7v1.2h-1.7zM329.8 216.5h1.7v1.5h-1.7zM329.8 214.8h1.7v1.2h-1.7zM329.8 211.3h1.7v1.4h-1.7zM334.6 214.9h1.7v1.3h-1.7zM334.6 212.8h1.7v1.6h-1.7zM334.6 198.5h1.7v1.2h-1.7zM334.6 196h1.7v0.9h-1.7zM339.5 214.6h1.7v1.5h-1.7zM339.5 207h1.7v1.7h-1.7zM339.5 205.7h1.7v1h-1.7z" fill="#555555" fill-opacity="0.85"/>
<path d="M295.6 208.8h1.7v1.2h-1.7zM296.1 204.2h0.8v0.6h-0.8zM295.6 201.3h1.7v1.7h-1.7zM295.6 196.3h1.7v1.1h-1.7zM300.5 214.3h1.7v1.9h-1.7zM300.9 204.2h0.8v0.6h-0.8zM300.5 201.3h1.7v1.7h-1.7zM300.5 197.5h1.7v1.7h-1.7zM300.5 196h1.7v1h-1.7zM305.4 211.3h1.7v1.3h-1.7zM305.4 209.5h1.7v1.5h-1.7zM305.4 207.6h1.7v1.4h-1.7zM305.8 204.2h0.8v0.6h-0.8zM305.4 201.8h1.7v1.1h-1.7zM305.4 199h1.7v1h-1.7zM310.2 216.3h1.7v1.7h-1.7zM310.2 214.1h1.7v1.8h-1.7zM310.2 212.4h1.7v1.4h-1.7zM310.2 210.5h1.7v1.6h-1.7zM310.2 208.5h1.7v1.4h-1.7zM310.7 204.2h0.8v0.6h-0.8zM310.2 201.4h1.7v1.5h-1.7zM315.1 214.9h1.7v1.4h-1.7zM315.1 211.4h1.7v1.4h-1.7zM315.1 209.5h1.7v1.6h-1.7zM315.1 207.7h1.7v1.5h-1.7zM315.1 206.1h1.7v1.2h-1.7zM315.6 204.2h0.8v0.6h-0.8zM315.1 199.5h1.7v1.3h-1.7zM320 211.1h1.7v1.4h-1.7zM320 209.4h1.7v1.2h-1.7zM320 207.4h1.7v1.4h-1.7zM320 205.7h1.7v1.2h-1.7zM320.5 204.2h0.8v0.6h-0.8zM320 201.2h1.7v1.8h-1.7zM320 196h1.7v1h-1.7zM324.9 216.9h1.7v1.1h-1.7zM324.9 211h1.7v1.4h-1.7zM325.3 204.2h0.8v0.6h-0.8zM324.9 200h1.7v1.1h-1.7zM324.9 197.8h1.7v1.7h-1.7zM329.8 209.4h1.7v1.4h-1.7zM330.2 204.2h0.8v0.6h-0.8zM329.8 201.8h1.7v1.2h-1.7zM329.8 200.3h1.7v1.1h-1.7zM329.8 198.2h1.7v1.8h-1.7zM329.8 196.5h1.7v1.2h-1.7zM334.6 216.6h1.7v1.4h-1.7zM334.6 205.7h1.7v0.7h-1.7zM335.1 204.2h0.8v0.6h-0.8zM334.6 201.8h1.7v1.1h-1.7zM339.5 210.8h1.7v1.6h-1.7zM339.5 209.1h1.7v1.3h-1.7zM340 204.2h0.8v0.6h-0.8zM339.5 197.8h1.7v1.5h-1.7zM339.5 196h1.7v1.2h-1.7z" fill="#555555" fill-opacity="0.57"/>
<line x1="135.9" y1="267.9" x2="341" y2="267.9" stroke="#3c3cd0" stroke-opacity="0.62" stroke-width="1"/>
<line x1="135.9" y1="287" x2="341" y2="287" stroke="#e83c3c" stroke-opacity="0.55" stroke-width="1.0"/>
<line x1="135.8" y1="277.8" x2="340.72" y2="277.8" stroke="#4a5470" stroke-width="0.55" stroke-dasharray="1.1 1.3"/>
<path d="M135.8 253.3V293.1M134.3 253.3h3M134.3 293.1h3" stroke="#62626e" stroke-width="0.5" fill="none"/>
<rect x="134.05" y="275.5" width="3.5" height="4.1" fill="#a6d8f2" stroke="#6f8fb8" stroke-width="0.5"/>
<line x1="134.05" y1="277.8" x2="137.55" y2="277.8" stroke="#6f8fb8" stroke-width="0.45"/>
<path d="M135.1 277.25l1.4 1.1M136.5 277.25l-1.4 1.1" stroke="#e8e030" stroke-width="0.7"/>
<circle cx="135.8" cy="273.3" r="1.25" fill="#1e0000"/><circle cx="135.8" cy="273.3" r="0.45" fill="#7a1010"/>
<path d="M140.68 275.2V299.3M139.18 275.2h3M139.18 299.3h3" stroke="#62626e" stroke-width="0.5" fill="none"/>
<rect x="138.93" y="276.7" width="3.5" height="2.2" fill="#a6d8f2" stroke="#6f8fb8" stroke-width="0.5"/>
<line x1="138.93" y1="277.8" x2="142.43" y2="277.8" stroke="#6f8fb8" stroke-width="0.45"/>
<path d="M139.98 277.25l1.4 1.1M141.38 277.25l-1.4 1.1" stroke="#e8e030" stroke-width="0.7"/>
<circle cx="140.68" cy="287.6" r="1.15" fill="#f07070"/>
<path d="M145.56 288.5V303M144.06 288.5h3M144.06 303h3" stroke="#62626e" stroke-width="0.5" fill="none"/>
<rect x="143.81" y="276.7" width="3.5" height="2.2" fill="#a6d8f2" stroke="#6f8fb8" stroke-width="0.5"/>
<line x1="143.81" y1="277.8" x2="147.31" y2="277.8" stroke="#6f8fb8" stroke-width="0.45"/>
<path d="M144.86 277.25l1.4 1.1M146.26 277.25l-1.4 1.1" stroke="#e8e030" stroke-width="0.7"/>
<circle cx="145.56" cy="295.6" r="1.3" fill="#ff0c0c"/>
<path d="M150.44 249.3V292.2M148.94 249.3h3M148.94 292.2h3" stroke="#62626e" stroke-width="0.5" fill="none"/>
<rect x="148.69" y="276.7" width="3.5" height="2.2" fill="#a6d8f2" stroke="#6f8fb8" stroke-width="0.5"/>
<line x1="148.69" y1="277.8" x2="152.19" y2="277.8" stroke="#6f8fb8" stroke-width="0.45"/>
<path d="M149.74 277.25l1.4 1.1M151.14 277.25l-1.4 1.1" stroke="#e8e030" stroke-width="0.7"/>
<circle cx="150.44" cy="270.9" r="1.25" fill="#1e0000"/><circle cx="150.44" cy="270.9" r="0.45" fill="#7a1010"/>
<path d="M155.32 258.5V294.4M153.82 258.5h3M153.82 294.4h3" stroke="#62626e" stroke-width="0.5" fill="none"/>
<rect x="153.57" y="276.7" width="3.5" height="2.2" fill="#a6d8f2" stroke="#6f8fb8" stroke-width="0.5"/>
<line x1="153.57" y1="277.8" x2="157.07" y2="277.8" stroke="#6f8fb8" stroke-width="0.45"/>
<path d="M154.62 277.25l1.4 1.1M156.02 277.25l-1.4 1.1" stroke="#e8e030" stroke-width="0.7"/>
<circle cx="155.32" cy="277" r="1.25" fill="#1e0000"/><circle cx="155.32" cy="277" r="0.45" fill="#7a1010"/>
<path d="M160.19 252.4V293.1M158.69 252.4h3M158.69 293.1h3" stroke="#62626e" stroke-width="0.5" fill="none"/>
<rect x="158.44" y="276.7" width="3.5" height="2.2" fill="#a6d8f2" stroke="#6f8fb8" stroke-width="0.5"/>
<line x1="158.44" y1="277.8" x2="161.94" y2="277.8" stroke="#6f8fb8" stroke-width="0.45"/>
<path d="M159.5 277.25l1.4 1.1M160.89 277.25l-1.4 1.1" stroke="#e8e030" stroke-width="0.7"/>
<circle cx="160.19" cy="272.8" r="1.25" fill="#1e0000"/><circle cx="160.19" cy="272.8" r="0.45" fill="#7a1010"/>
<path d="M165.07 254.3V293.1M163.57 254.3h3M163.57 293.1h3" stroke="#62626e" stroke-width="0.5" fill="none"/>
<rect x="163.32" y="276.7" width="3.5" height="2.2" fill="#a6d8f2" stroke="#6f8fb8" stroke-width="0.5"/>
<line x1="163.32" y1="277.8" x2="166.82" y2="277.8" stroke="#6f8fb8" stroke-width="0.45"/>
<path d="M164.37 277.25l1.4 1.1M165.77 277.25l-1.4 1.1" stroke="#e8e030" stroke-width="0.7"/>
<circle cx="165.07" cy="273.7" r="1.25" fill="#1e0000"/><circle cx="165.07" cy="273.7" r="0.45" fill="#7a1010"/>
<path d="M169.95 232.6V287M168.45 232.6h3M168.45 287h3" stroke="#62626e" stroke-width="0.5" fill="none"/>
<rect x="168.2" y="276.7" width="3.5" height="2.2" fill="#a6d8f2" stroke="#6f8fb8" stroke-width="0.5"/>
<line x1="168.2" y1="277.8" x2="171.7" y2="277.8" stroke="#6f8fb8" stroke-width="0.45"/>
<path d="M169.25 277.25l1.4 1.1M170.65 277.25l-1.4 1.1" stroke="#e8e030" stroke-width="0.7"/>
<circle cx="169.95" cy="259.8" r="1.05" fill="none" stroke="#e07ad0" stroke-width="0.6"/>
<path d="M174.83 227.4V286.3M173.33 227.4h3M173.33 286.3h3" stroke="#62626e" stroke-width="0.5" fill="none"/>
<rect x="173.08" y="275.2" width="3.5" height="4.4" fill="#a6d8f2" stroke="#6f8fb8" stroke-width="0.5"/>
<line x1="173.08" y1="277.8" x2="176.58" y2="277.8" stroke="#6f8fb8" stroke-width="0.45"/>
<path d="M174.13 277.25l1.4 1.1M175.53 277.25l-1.4 1.1" stroke="#e8e030" stroke-width="0.7"/>
<circle cx="174.83" cy="256.7" r="1.05" fill="none" stroke="#e07ad0" stroke-width="0.6"/>
<path d="M179.71 243.7V290.4M178.21 243.7h3M178.21 290.4h3" stroke="#62626e" stroke-width="0.5" fill="none"/>
<rect x="177.96" y="276.7" width="3.5" height="2.2" fill="#a6d8f2" stroke="#6f8fb8" stroke-width="0.5"/>
<line x1="177.96" y1="277.8" x2="181.46" y2="277.8" stroke="#6f8fb8" stroke-width="0.45"/>
<path d="M179.01 277.25l1.4 1.1M180.41 277.25l-1.4 1.1" stroke="#e8e030" stroke-width="0.7"/>
<circle cx="179.71" cy="267.2" r="1.2" fill="#f8c414"/>
<path d="M184.59 238.5V289.4M183.09 238.5h3M183.09 289.4h3" stroke="#62626e" stroke-width="0.5" fill="none"/>
<rect x="182.84" y="276.7" width="3.5" height="2.2" fill="#a6d8f2" stroke="#6f8fb8" stroke-width="0.5"/>
<line x1="182.84" y1="277.8" x2="186.34" y2="277.8" stroke="#6f8fb8" stroke-width="0.45"/>
<path d="M183.89 277.25l1.4 1.1M185.29 277.25l-1.4 1.1" stroke="#e8e030" stroke-width="0.7"/>
<circle cx="184.59" cy="263.9" r="1.05" fill="none" stroke="#e07ad0" stroke-width="0.6"/>
<path d="M189.47 270.4V298.1M187.97 270.4h3M187.97 298.1h3" stroke="#62626e" stroke-width="0.5" fill="none"/>
<rect x="187.72" y="275.8" width="3.5" height="3.6" fill="#a6d8f2" stroke="#6f8fb8" stroke-width="0.5"/>
<line x1="187.72" y1="277.8" x2="191.22" y2="277.8" stroke="#6f8fb8" stroke-width="0.45"/>
<path d="M188.77 277.25l1.4 1.1M190.17 277.25l-1.4 1.1" stroke="#e8e030" stroke-width="0.7"/>
<circle cx="189.47" cy="284.4" r="1.25" fill="#1e0000"/><circle cx="189.47" cy="284.4" r="0.45" fill="#7a1010"/>
<path d="M194.35 262.2V295M192.85 262.2h3M192.85 295h3" stroke="#62626e" stroke-width="0.5" fill="none"/>
<rect x="192.6" y="276.7" width="3.5" height="2.2" fill="#a6d8f2" stroke="#6f8fb8" stroke-width="0.5"/>
<line x1="192.6" y1="277.8" x2="196.1" y2="277.8" stroke="#6f8fb8" stroke-width="0.45"/>
<path d="M193.65 277.25l1.4 1.1M195.05 277.25l-1.4 1.1" stroke="#e8e030" stroke-width="0.7"/>
<circle cx="194.35" cy="278.9" r="1.25" fill="#1e0000"/><circle cx="194.35" cy="278.9" r="0.45" fill="#7a1010"/>
<path d="M199.23 246.3V291.3M197.73 246.3h3M197.73 291.3h3" stroke="#62626e" stroke-width="0.5" fill="none"/>
<rect x="197.48" y="275.8" width="3.5" height="3.6" fill="#a6d8f2" stroke="#6f8fb8" stroke-width="0.5"/>
<line x1="197.48" y1="277.8" x2="200.98" y2="277.8" stroke="#6f8fb8" stroke-width="0.45"/>
<path d="M198.53 277.25l1.4 1.1M199.93 277.25l-1.4 1.1" stroke="#e8e030" stroke-width="0.7"/>
<circle cx="199.23" cy="269.1" r="1.25" fill="#1e0000"/><circle cx="199.23" cy="269.1" r="0.45" fill="#7a1010"/>
<path d="M204.11 243.5V290.4M202.61 243.5h3M202.61 290.4h3" stroke="#62626e" stroke-width="0.5" fill="none"/>
<rect x="202.36" y="276.7" width="3.5" height="2.2" fill="#a6d8f2" stroke="#6f8fb8" stroke-width="0.5"/>
<line x1="202.36" y1="277.8" x2="205.86" y2="277.8" stroke="#6f8fb8" stroke-width="0.45"/>
<path d="M203.41 277.25l1.4 1.1M204.81 277.25l-1.4 1.1" stroke="#e8e030" stroke-width="0.7"/>
<circle cx="204.11" cy="266.9" r="1.2" fill="#f8c414"/>
<path d="M208.99 243.5V290.4M207.49 243.5h3M207.49 290.4h3" stroke="#62626e" stroke-width="0.5" fill="none"/>
<rect x="207.24" y="276.7" width="3.5" height="2.2" fill="#a6d8f2" stroke="#6f8fb8" stroke-width="0.5"/>
<line x1="207.24" y1="277.8" x2="210.74" y2="277.8" stroke="#6f8fb8" stroke-width="0.45"/>
<path d="M208.29 277.25l1.4 1.1M209.69 277.25l-1.4 1.1" stroke="#e8e030" stroke-width="0.7"/>
<circle cx="208.99" cy="266.9" r="1.2" fill="#f8c414"/>
<path d="M213.86 231.5V286.7M212.36 231.5h3M212.36 286.7h3" stroke="#62626e" stroke-width="0.5" fill="none"/>
<rect x="212.11" y="276.7" width="3.5" height="2.2" fill="#a6d8f2" stroke="#6f8fb8" stroke-width="0.5"/>
<line x1="212.11" y1="277.8" x2="215.61" y2="277.8" stroke="#6f8fb8" stroke-width="0.45"/>
<path d="M213.16 277.25l1.4 1.1M214.56 277.25l-1.4 1.1" stroke="#e8e030" stroke-width="0.7"/>
<circle cx="213.86" cy="259.3" r="1.05" fill="none" stroke="#e07ad0" stroke-width="0.6"/>
<path d="M218.74 254.3V293.1M217.24 254.3h3M217.24 293.1h3" stroke="#62626e" stroke-width="0.5" fill="none"/>
<rect x="216.99" y="275.8" width="3.5" height="3.6" fill="#a6d8f2" stroke="#6f8fb8" stroke-width="0.5"/>
<line x1="216.99" y1="277.8" x2="220.49" y2="277.8" stroke="#6f8fb8" stroke-width="0.45"/>
<path d="M218.04 277.25l1.4 1.1M219.44 277.25l-1.4 1.1" stroke="#e8e030" stroke-width="0.7"/>
<circle cx="218.74" cy="274.1" r="1.25" fill="#1e0000"/><circle cx="218.74" cy="274.1" r="0.45" fill="#7a1010"/>
<path d="M223.62 254.8V293.1M222.12 254.8h3M222.12 293.1h3" stroke="#62626e" stroke-width="0.5" fill="none"/>
<rect x="221.87" y="275.8" width="3.5" height="3.6" fill="#a6d8f2" stroke="#6f8fb8" stroke-width="0.5"/>
<line x1="221.87" y1="277.8" x2="225.37" y2="277.8" stroke="#6f8fb8" stroke-width="0.45"/>
<path d="M222.92 277.25l1.4 1.1M224.32 277.25l-1.4 1.1" stroke="#e8e030" stroke-width="0.7"/>
<circle cx="223.62" cy="274.3" r="1.25" fill="#1e0000"/><circle cx="223.62" cy="274.3" r="0.45" fill="#7a1010"/>
<path d="M228.5 257.6V294.1M227 257.6h3M227 294.1h3" stroke="#62626e" stroke-width="0.5" fill="none"/>
<rect x="226.75" y="276.7" width="3.5" height="2.2" fill="#a6d8f2" stroke="#6f8fb8" stroke-width="0.5"/>
<line x1="226.75" y1="277.8" x2="230.25" y2="277.8" stroke="#6f8fb8" stroke-width="0.45"/>
<path d="M227.8 277.25l1.4 1.1M229.2 277.25l-1.4 1.1" stroke="#e8e030" stroke-width="0.7"/>
<circle cx="228.5" cy="275.9" r="1.25" fill="#1e0000"/><circle cx="228.5" cy="275.9" r="0.45" fill="#7a1010"/>
<path d="M233.38 247.2V291.3M231.88 247.2h3M231.88 291.3h3" stroke="#62626e" stroke-width="0.5" fill="none"/>
<rect x="231.63" y="276.7" width="3.5" height="2.2" fill="#a6d8f2" stroke="#6f8fb8" stroke-width="0.5"/>
<line x1="231.63" y1="277.8" x2="235.13" y2="277.8" stroke="#6f8fb8" stroke-width="0.45"/>
<path d="M232.68 277.25l1.4 1.1M234.08 277.25l-1.4 1.1" stroke="#e8e030" stroke-width="0.7"/>
<circle cx="233.38" cy="269.4" r="1.25" fill="#1e0000"/><circle cx="233.38" cy="269.4" r="0.45" fill="#7a1010"/>
<path d="M238.26 245.4V291.3M236.76 245.4h3M236.76 291.3h3" stroke="#62626e" stroke-width="0.5" fill="none"/>
<rect x="236.51" y="276.7" width="3.5" height="2.2" fill="#a6d8f2" stroke="#6f8fb8" stroke-width="0.5"/>
<line x1="236.51" y1="277.8" x2="240.01" y2="277.8" stroke="#6f8fb8" stroke-width="0.45"/>
<path d="M237.56 277.25l1.4 1.1M238.96 277.25l-1.4 1.1" stroke="#e8e030" stroke-width="0.7"/>
<circle cx="238.26" cy="268.5" r="1.2" fill="#f8c414"/>
<path d="M243.14 240.4V289.4M241.64 240.4h3M241.64 289.4h3" stroke="#62626e" stroke-width="0.5" fill="none"/>
<rect x="241.39" y="276.7" width="3.5" height="2.2" fill="#a6d8f2" stroke="#6f8fb8" stroke-width="0.5"/>
<line x1="241.39" y1="277.8" x2="244.89" y2="277.8" stroke="#6f8fb8" stroke-width="0.45"/>
<path d="M242.44 277.25l1.4 1.1M243.84 277.25l-1.4 1.1" stroke="#e8e030" stroke-width="0.7"/>
<circle cx="243.14" cy="264.8" r="1.2" fill="#f8c414"/>
<path d="M248.02 266.7V296.9M246.52 266.7h3M246.52 296.9h3" stroke="#62626e" stroke-width="0.5" fill="none"/>
<rect x="246.27" y="276.7" width="3.5" height="2.2" fill="#a6d8f2" stroke="#6f8fb8" stroke-width="0.5"/>
<line x1="246.27" y1="277.8" x2="249.77" y2="277.8" stroke="#6f8fb8" stroke-width="0.45"/>
<path d="M247.32 277.25l1.4 1.1M248.72 277.25l-1.4 1.1" stroke="#e8e030" stroke-width="0.7"/>
<circle cx="248.02" cy="282" r="1.25" fill="#1e0000"/><circle cx="248.02" cy="282" r="0.45" fill="#7a1010"/>
<path d="M252.9 252.4V292.6M251.4 252.4h3M251.4 292.6h3" stroke="#62626e" stroke-width="0.5" fill="none"/>
<rect x="251.15" y="275.8" width="3.5" height="3.6" fill="#a6d8f2" stroke="#6f8fb8" stroke-width="0.5"/>
<line x1="251.15" y1="277.8" x2="254.65" y2="277.8" stroke="#6f8fb8" stroke-width="0.45"/>
<path d="M252.2 277.25l1.4 1.1M253.6 277.25l-1.4 1.1" stroke="#e8e030" stroke-width="0.7"/>
<circle cx="252.9" cy="273.1" r="1.25" fill="#1e0000"/><circle cx="252.9" cy="273.1" r="0.45" fill="#7a1010"/>
<path d="M257.77 251.5V292.2M256.27 251.5h3M256.27 292.2h3" stroke="#62626e" stroke-width="0.5" fill="none"/>
<rect x="256.02" y="276.7" width="3.5" height="2.2" fill="#a6d8f2" stroke="#6f8fb8" stroke-width="0.5"/>
<line x1="256.02" y1="277.8" x2="259.52" y2="277.8" stroke="#6f8fb8" stroke-width="0.45"/>
<path d="M257.07 277.25l1.4 1.1M258.47 277.25l-1.4 1.1" stroke="#e8e030" stroke-width="0.7"/>
<circle cx="257.77" cy="272.4" r="1.25" fill="#1e0000"/><circle cx="257.77" cy="272.4" r="0.45" fill="#7a1010"/>
<path d="M262.65 248.1V291.3M261.15 248.1h3M261.15 291.3h3" stroke="#62626e" stroke-width="0.5" fill="none"/>
<rect x="260.9" y="275.8" width="3.5" height="3.6" fill="#a6d8f2" stroke="#6f8fb8" stroke-width="0.5"/>
<line x1="260.9" y1="277.8" x2="264.4" y2="277.8" stroke="#6f8fb8" stroke-width="0.45"/>
<path d="M261.95 277.25l1.4 1.1M263.35 277.25l-1.4 1.1" stroke="#e8e030" stroke-width="0.7"/>
<circle cx="262.65" cy="269.6" r="1.25" fill="#1e0000"/><circle cx="262.65" cy="269.6" r="0.45" fill="#7a1010"/>
<path d="M267.53 244.1V290.3M266.03 244.1h3M266.03 290.3h3" stroke="#62626e" stroke-width="0.5" fill="none"/>
<rect x="265.78" y="276.7" width="3.5" height="2.2" fill="#a6d8f2" stroke="#6f8fb8" stroke-width="0.5"/>
<line x1="265.78" y1="277.8" x2="269.28" y2="277.8" stroke="#6f8fb8" stroke-width="0.45"/>
<path d="M266.83 277.25l1.4 1.1M268.23 277.25l-1.4 1.1" stroke="#e8e030" stroke-width="0.7"/>
<circle cx="267.53" cy="267.2" r="1.2" fill="#f8c414"/>
<path d="M272.41 249.2V292.2M270.91 249.2h3M270.91 292.2h3" stroke="#62626e" stroke-width="0.5" fill="none"/>
<rect x="270.66" y="276.7" width="3.5" height="2.2" fill="#a6d8f2" stroke="#6f8fb8" stroke-width="0.5"/>
<line x1="270.66" y1="277.8" x2="274.16" y2="277.8" stroke="#6f8fb8" stroke-width="0.45"/>
<path d="M271.71 277.25l1.4 1.1M273.11 277.25l-1.4 1.1" stroke="#e8e030" stroke-width="0.7"/>
<circle cx="272.41" cy="270.4" r="1.25" fill="#1e0000"/><circle cx="272.41" cy="270.4" r="0.45" fill="#7a1010"/>
<path d="M277.29 239.1V289.4M275.79 239.1h3M275.79 289.4h3" stroke="#62626e" stroke-width="0.5" fill="none"/>
<rect x="275.54" y="276.7" width="3.5" height="2.2" fill="#a6d8f2" stroke="#6f8fb8" stroke-width="0.5"/>
<line x1="275.54" y1="277.8" x2="279.04" y2="277.8" stroke="#6f8fb8" stroke-width="0.45"/>
<path d="M276.59 277.25l1.4 1.1M277.99 277.25l-1.4 1.1" stroke="#e8e030" stroke-width="0.7"/>
<circle cx="277.29" cy="264.4" r="1.05" fill="none" stroke="#e07ad0" stroke-width="0.6"/>
<path d="M282.17 259.2V295M280.67 259.2h3M280.67 295h3" stroke="#62626e" stroke-width="0.5" fill="none"/>
<rect x="280.42" y="276.7" width="3.5" height="2.2" fill="#a6d8f2" stroke="#6f8fb8" stroke-width="0.5"/>
<line x1="280.42" y1="277.8" x2="283.92" y2="277.8" stroke="#6f8fb8" stroke-width="0.45"/>
<path d="M281.47 277.25l1.4 1.1M282.87 277.25l-1.4 1.1" stroke="#e8e030" stroke-width="0.7"/>
<circle cx="282.17" cy="277" r="1.25" fill="#1e0000"/><circle cx="282.17" cy="277" r="0.45" fill="#7a1010"/>
<path d="M287.05 255.2V293.7M285.55 255.2h3M285.55 293.7h3" stroke="#62626e" stroke-width="0.5" fill="none"/>
<rect x="285.3" y="276.7" width="3.5" height="2.2" fill="#a6d8f2" stroke="#6f8fb8" stroke-width="0.5"/>
<line x1="285.3" y1="277.8" x2="288.8" y2="277.8" stroke="#6f8fb8" stroke-width="0.45"/>
<path d="M286.35 277.25l1.4 1.1M287.75 277.25l-1.4 1.1" stroke="#e8e030" stroke-width="0.7"/>
<circle cx="287.05" cy="274.6" r="1.25" fill="#1e0000"/><circle cx="287.05" cy="274.6" r="0.45" fill="#7a1010"/>
<path d="M291.93 252.4V293.1M290.43 252.4h3M290.43 293.1h3" stroke="#62626e" stroke-width="0.5" fill="none"/>
<rect x="290.18" y="275.5" width="3.5" height="4.5" fill="#a6d8f2" stroke="#6f8fb8" stroke-width="0.5"/>
<line x1="290.18" y1="277.8" x2="293.68" y2="277.8" stroke="#6f8fb8" stroke-width="0.45"/>
<path d="M291.23 277.25l1.4 1.1M292.63 277.25l-1.4 1.1" stroke="#e8e030" stroke-width="0.7"/>
<circle cx="291.93" cy="272.8" r="1.25" fill="#1e0000"/><circle cx="291.93" cy="272.8" r="0.45" fill="#7a1010"/>
<path d="M296.81 279.6V300.5M295.31 279.6h3M295.31 300.5h3" stroke="#62626e" stroke-width="0.5" fill="none"/>
<rect x="295.06" y="276.7" width="3.5" height="2.2" fill="#5cc65c" stroke="#3a8e3a" stroke-width="0.5"/>
<line x1="295.06" y1="277.8" x2="298.56" y2="277.8" stroke="#3a8e3a" stroke-width="0.45"/>
<path d="M296.11 277.25l1.4 1.1M297.51 277.25l-1.4 1.1" stroke="#e8e030" stroke-width="0.7"/>
<circle cx="296.81" cy="290.3" r="1.3" fill="#ff0c0c"/>
<path d="M301.69 245.4V291.3M300.19 245.4h3M300.19 291.3h3" stroke="#62626e" stroke-width="0.5" fill="none"/>
<rect x="299.94" y="276.7" width="3.5" height="2.2" fill="#5cc65c" stroke="#3a8e3a" stroke-width="0.5"/>
<line x1="299.94" y1="277.8" x2="303.44" y2="277.8" stroke="#3a8e3a" stroke-width="0.45"/>
<path d="M300.99 277.25l1.4 1.1M302.39 277.25l-1.4 1.1" stroke="#e8e030" stroke-width="0.7"/>
<circle cx="301.69" cy="267.8" r="1.2" fill="#f8c414"/>
<path d="M306.56 245.4V291.3M305.06 245.4h3M305.06 291.3h3" stroke="#62626e" stroke-width="0.5" fill="none"/>
<rect x="304.81" y="276.7" width="3.5" height="2.2" fill="#5cc65c" stroke="#3a8e3a" stroke-width="0.5"/>
<line x1="304.81" y1="277.8" x2="308.31" y2="277.8" stroke="#3a8e3a" stroke-width="0.45"/>
<path d="M305.87 277.25l1.4 1.1M307.26 277.25l-1.4 1.1" stroke="#e8e030" stroke-width="0.7"/>
<circle cx="306.56" cy="268.5" r="1.2" fill="#f8c414"/>
<path d="M311.44 261.1V295.5M309.94 261.1h3M309.94 295.5h3" stroke="#62626e" stroke-width="0.5" fill="none"/>
<rect x="309.69" y="275.8" width="3.5" height="3.8" fill="#5cc65c" stroke="#3a8e3a" stroke-width="0.5"/>
<line x1="309.69" y1="277.8" x2="313.19" y2="277.8" stroke="#3a8e3a" stroke-width="0.45"/>
<path d="M310.74 277.25l1.4 1.1M312.14 277.25l-1.4 1.1" stroke="#e8e030" stroke-width="0.7"/>
<circle cx="311.44" cy="278.3" r="1.25" fill="#1e0000"/><circle cx="311.44" cy="278.3" r="0.45" fill="#7a1010"/>
<path d="M316.32 279.2V300M314.82 279.2h3M314.82 300h3" stroke="#62626e" stroke-width="0.5" fill="none"/>
<rect x="314.57" y="275.3" width="3.5" height="4.7" fill="#5cc65c" stroke="#3a8e3a" stroke-width="0.5"/>
<line x1="314.57" y1="277.8" x2="318.07" y2="277.8" stroke="#3a8e3a" stroke-width="0.45"/>
<path d="M315.62 277.25l1.4 1.1M317.02 277.25l-1.4 1.1" stroke="#e8e030" stroke-width="0.7"/>
<circle cx="316.32" cy="288.1" r="1.15" fill="#f07070"/>
<path d="M321.2 239.1V289.4M319.7 239.1h3M319.7 289.4h3" stroke="#62626e" stroke-width="0.5" fill="none"/>
<rect x="319.45" y="276.7" width="3.5" height="2.2" fill="#5cc65c" stroke="#3a8e3a" stroke-width="0.5"/>
<line x1="319.45" y1="277.8" x2="322.95" y2="277.8" stroke="#3a8e3a" stroke-width="0.45"/>
<path d="M320.5 277.25l1.4 1.1M321.9 277.25l-1.4 1.1" stroke="#e8e030" stroke-width="0.7"/>
<circle cx="321.2" cy="264.4" r="1.05" fill="none" stroke="#e07ad0" stroke-width="0.6"/>
<path d="M326.08 282.6V301.5M324.58 282.6h3M324.58 301.5h3" stroke="#62626e" stroke-width="0.5" fill="none"/>
<rect x="324.33" y="276.7" width="3.5" height="2.2" fill="#5cc65c" stroke="#3a8e3a" stroke-width="0.5"/>
<line x1="324.33" y1="277.8" x2="327.83" y2="277.8" stroke="#3a8e3a" stroke-width="0.45"/>
<path d="M325.38 277.25l1.4 1.1M326.78 277.25l-1.4 1.1" stroke="#e8e030" stroke-width="0.7"/>
<circle cx="326.08" cy="291.8" r="1.3" fill="#ff0c0c"/>
<path d="M330.96 257.4V294.4M329.46 257.4h3M329.46 294.4h3" stroke="#62626e" stroke-width="0.5" fill="none"/>
<rect x="329.21" y="276.7" width="3.5" height="2.2" fill="#5cc65c" stroke="#3a8e3a" stroke-width="0.5"/>
<line x1="329.21" y1="277.8" x2="332.71" y2="277.8" stroke="#3a8e3a" stroke-width="0.45"/>
<path d="M330.26 277.25l1.4 1.1M331.66 277.25l-1.4 1.1" stroke="#e8e030" stroke-width="0.7"/>
<circle cx="330.96" cy="275.9" r="1.25" fill="#1e0000"/><circle cx="330.96" cy="275.9" r="0.45" fill="#7a1010"/>
<path d="M335.84 259.2V294.4M334.34 259.2h3M334.34 294.4h3" stroke="#62626e" stroke-width="0.5" fill="none"/>
<rect x="334.09" y="275.5" width="3.5" height="4.3" fill="#5cc65c" stroke="#3a8e3a" stroke-width="0.5"/>
<line x1="334.09" y1="277.8" x2="337.59" y2="277.8" stroke="#3a8e3a" stroke-width="0.45"/>
<path d="M335.14 277.25l1.4 1.1M336.54 277.25l-1.4 1.1" stroke="#e8e030" stroke-width="0.7"/>
<circle cx="335.84" cy="277" r="1.25" fill="#1e0000"/><circle cx="335.84" cy="277" r="0.45" fill="#7a1010"/>
<path d="M340.72 279.2V300M339.22 279.2h3M339.22 300h3" stroke="#62626e" stroke-width="0.5" fill="none"/>
<rect x="338.97" y="276.7" width="3.5" height="2.2" fill="#5cc65c" stroke="#3a8e3a" stroke-width="0.5"/>
<line x1="338.97" y1="277.8" x2="342.47" y2="277.8" stroke="#3a8e3a" stroke-width="0.45"/>
<path d="M340.02 277.25l1.4 1.1M341.42 277.25l-1.4 1.1" stroke="#e8e030" stroke-width="0.7"/>
<circle cx="340.72" cy="288.5" r="1.15" fill="#f07070"/>
<rect x="474.1" y="194" width="8.9" height="115.3" fill="#f4f4f4"/>
<rect x="485" y="195" width="151.8" height="112.8" fill="#a6a8fa"/>
<rect x="636.8" y="195" width="46" height="112.8" fill="#d3d3d3"/>
<line x1="482.4" y1="195" x2="482.4" y2="308.6" stroke="#e6aaaa" stroke-width="0.7"/>
<line x1="482.4" y1="308.3" x2="682.8" y2="308.3" stroke="#e8a8a8" stroke-width="0.7"/>
<line x1="480.8" y1="307.6" x2="482.4" y2="307.6" stroke="#777" stroke-width="0.5"/>
<text x="480.4" y="308.7" font-size="3.2" fill="#666" text-anchor="end">0</text>
<line x1="480.8" y1="288" x2="482.4" y2="288" stroke="#777" stroke-width="0.5"/>
<text x="480.4" y="289.1" font-size="3.2" fill="#666" text-anchor="end">0.5</text>
<line x1="480.8" y1="268.4" x2="482.4" y2="268.4" stroke="#777" stroke-width="0.5"/>
<text x="480.4" y="269.5" font-size="3.2" fill="#666" text-anchor="end">1</text>
<line x1="480.8" y1="248.8" x2="482.4" y2="248.8" stroke="#777" stroke-width="0.5"/>
<text x="480.4" y="249.9" font-size="3.2" fill="#666" text-anchor="end">1.5</text>
<line x1="480.8" y1="229.2" x2="482.4" y2="229.2" stroke="#777" stroke-width="0.5"/>
<text x="480.4" y="230.3" font-size="3.2" fill="#666" text-anchor="end">2</text>
<line x1="480.8" y1="209.6" x2="482.4" y2="209.6" stroke="#777" stroke-width="0.5"/>
<text x="480.4" y="210.7" font-size="3.2" fill="#666" text-anchor="end">2.5</text>
<line x1="486.9" y1="308.3" x2="486.9" y2="309.6" stroke="#666" stroke-width="0.5"/>
<line x1="491.51" y1="308.3" x2="491.51" y2="309.6" stroke="#666" stroke-width="0.5"/>
<line x1="496.12" y1="308.3" x2="496.12" y2="309.6" stroke="#666" stroke-width="0.5"/>
<line x1="500.74" y1="308.3" x2="500.74" y2="309.6" stroke="#666" stroke-width="0.5"/>
<line x1="505.35" y1="308.3" x2="505.35" y2="309.6" stroke="#666" stroke-width="0.5"/>
<line x1="509.96" y1="308.3" x2="509.96" y2="309.6" stroke="#666" stroke-width="0.5"/>
<line x1="514.57" y1="308.3" x2="514.57" y2="309.6" stroke="#666" stroke-width="0.5"/>
<line x1="519.18" y1="308.3" x2="519.18" y2="309.6" stroke="#666" stroke-width="0.5"/>
<line x1="523.8" y1="308.3" x2="523.8" y2="309.6" stroke="#666" stroke-width="0.5"/>
<line x1="528.41" y1="308.3" x2="528.41" y2="309.6" stroke="#666" stroke-width="0.5"/>
<line x1="533.02" y1="308.3" x2="533.02" y2="309.6" stroke="#666" stroke-width="0.5"/>
<line x1="537.63" y1="308.3" x2="537.63" y2="309.6" stroke="#666" stroke-width="0.5"/>
<line x1="542.24" y1="308.3" x2="542.24" y2="309.6" stroke="#666" stroke-width="0.5"/>
<line x1="546.86" y1="308.3" x2="546.86" y2="309.6" stroke="#666" stroke-width="0.5"/>
<line x1="551.47" y1="308.3" x2="551.47" y2="309.6" stroke="#666" stroke-width="0.5"/>
<line x1="556.08" y1="308.3" x2="556.08" y2="309.6" stroke="#666" stroke-width="0.5"/>
<line x1="560.69" y1="308.3" x2="560.69" y2="309.6" stroke="#666" stroke-width="0.5"/>
<line x1="565.3" y1="308.3" x2="565.3" y2="309.6" stroke="#666" stroke-width="0.5"/>
<line x1="569.92" y1="308.3" x2="569.92" y2="309.6" stroke="#666" stroke-width="0.5"/>
<line x1="574.53" y1="308.3" x2="574.53" y2="309.6" stroke="#666" stroke-width="0.5"/>
<line x1="579.14" y1="308.3" x2="579.14" y2="309.6" stroke="#666" stroke-width="0.5"/>
<line x1="583.75" y1="308.3" x2="583.75" y2="309.6" stroke="#666" stroke-width="0.5"/>
<line x1="588.36" y1="308.3" x2="588.36" y2="309.6" stroke="#666" stroke-width="0.5"/>
<line x1="592.98" y1="308.3" x2="592.98" y2="309.6" stroke="#666" stroke-width="0.5"/>
<line x1="597.59" y1="308.3" x2="597.59" y2="309.6" stroke="#666" stroke-width="0.5"/>
<line x1="602.2" y1="308.3" x2="602.2" y2="309.6" stroke="#666" stroke-width="0.5"/>
<line x1="606.81" y1="308.3" x2="606.81" y2="309.6" stroke="#666" stroke-width="0.5"/>
<line x1="611.42" y1="308.3" x2="611.42" y2="309.6" stroke="#666" stroke-width="0.5"/>
<line x1="616.04" y1="308.3" x2="616.04" y2="309.6" stroke="#666" stroke-width="0.5"/>
<line x1="620.65" y1="308.3" x2="620.65" y2="309.6" stroke="#666" stroke-width="0.5"/>
<line x1="625.26" y1="308.3" x2="625.26" y2="309.6" stroke="#666" stroke-width="0.5"/>
<line x1="629.87" y1="308.3" x2="629.87" y2="309.6" stroke="#666" stroke-width="0.5"/>
<line x1="634.48" y1="308.3" x2="634.48" y2="309.6" stroke="#666" stroke-width="0.5"/>
<line x1="639.1" y1="308.3" x2="639.1" y2="309.6" stroke="#666" stroke-width="0.5"/>
<line x1="643.71" y1="308.3" x2="643.71" y2="309.6" stroke="#666" stroke-width="0.5"/>
<line x1="648.32" y1="308.3" x2="648.32" y2="309.6" stroke="#666" stroke-width="0.5"/>
<line x1="652.93" y1="308.3" x2="652.93" y2="309.6" stroke="#666" stroke-width="0.5"/>
<line x1="657.54" y1="308.3" x2="657.54" y2="309.6" stroke="#666" stroke-width="0.5"/>
<line x1="662.16" y1="308.3" x2="662.16" y2="309.6" stroke="#666" stroke-width="0.5"/>
<line x1="666.77" y1="308.3" x2="666.77" y2="309.6" stroke="#666" stroke-width="0.5"/>
<line x1="671.38" y1="308.3" x2="671.38" y2="309.6" stroke="#666" stroke-width="0.5"/>
<line x1="675.99" y1="308.3" x2="675.99" y2="309.6" stroke="#666" stroke-width="0.5"/>
<line x1="680.6" y1="308.3" x2="680.6" y2="309.6" stroke="#666" stroke-width="0.5"/>
<path d="M485.7 215.5h1.7v1.3h-1.7zM485.7 213.9h1.7v1.2h-1.7zM485.7 208.4h1.7v1.2h-1.7zM486.1 205.8h0.8v0.6h-0.8zM485.7 203h1.7v1.6h-1.7zM486.1 199.9h0.8v0.7h-0.8zM490.3 215.5h1.7v1.3h-1.7zM490.3 211h1.7v1.8h-1.7zM490.3 205.7h1.7v1.3h-1.7zM490.8 204.2h0.8v0.6h-0.8zM490.3 201.3h1.7v1.6h-1.7zM490.3 197.1h1.7v1.6h-1.7zM494.9 207.4h1.7v1.8h-1.7zM494.9 205.7h1.7v1.2h-1.7zM495.4 204.2h0.8v0.6h-0.8zM494.9 200h1.7v1.5h-1.7zM494.9 198.4h1.7v1.3h-1.7zM499.5 213.1h1.7v1.6h-1.7zM499.5 207.3h1.7v1.5h-1.7zM499.5 205.7h1.7v1.1h-1.7zM500 204.2h0.8v0.6h-0.8zM504.1 215.4h1.7v1.4h-1.7zM504.1 211.7h1.7v1.5h-1.7zM504.1 210.1h1.7v1.3h-1.7zM504.1 208h1.7v1.8h-1.7zM504.6 204.2h0.8v0.6h-0.8zM504.1 198h1.7v1.1h-1.7zM508.8 210.6h1.7v1.9h-1.7zM508.8 206.1h1.7v1.8h-1.7zM509.2 204.2h0.8v0.6h-0.8zM508.8 201.4h1.7v1.5h-1.7zM508.8 197.4h1.7v1.7h-1.7zM513.4 207.5h1.7v1.5h-1.7zM513.8 204.2h0.8v0.6h-0.8zM513.4 201.5h1.7v1.5h-1.7zM513.8 196.9h0.8v0.4h-0.8zM518 205.7h1.7v1.2h-1.7zM518.4 204.2h0.8v0.6h-0.8zM518 201.7h1.7v1.3h-1.7zM518 197.8h1.7v1.8h-1.7zM518.4 196.9h0.8v0.6h-0.8zM522.6 215.6h1.7v1.2h-1.7zM523 204.2h0.8v0.6h-0.8zM522.6 199.9h1.7v1.5h-1.7zM522.6 196.9h1.7v1.3h-1.7zM527.2 212h1.7v1.1h-1.7zM527.2 207.3h1.7v1.9h-1.7zM527.7 204.2h0.8v0.6h-0.8zM532.3 204.2h0.8v0.6h-0.8zM536.4 207.8h1.7v1.5h-1.7zM536.9 204.2h0.8v0.6h-0.8zM541 215.3h1.7v1.5h-1.7zM541 213.3h1.7v1.5h-1.7zM541 211.2h1.7v1.8h-1.7zM541 205.7h1.7v1.5h-1.7zM541.5 204.2h0.8v0.6h-0.8zM541 201.8h1.7v1.1h-1.7zM541 199.6h1.7v1.7h-1.7zM545.7 209.4h1.7v1.6h-1.7zM546.1 204.2h0.8v0.6h-0.8zM550.3 213.1h1.7v1.6h-1.7zM550.3 209.5h1.7v1.7h-1.7zM550.7 204.2h0.8v0.6h-0.8zM550.3 200.3h1.7v1.4h-1.7zM550.3 196.9h1.7v0.8h-1.7zM554.9 215.3h1.7v1.5h-1.7zM555.3 204.2h0.8v0.6h-0.8zM554.9 201.4h1.7v1.6h-1.7zM559.5 215h1.7v1.8h-1.7zM559.5 205.9h1.7v1.6h-1.7zM559.9 204.2h0.8v0.6h-0.8zM559.5 197.2h1.7v1.5h-1.7zM564.1 214.9h1.7v1.9h-1.7zM564.1 213.3h1.7v1.1h-1.7zM564.6 204.2h0.8v0.6h-0.8zM564.1 198.7h1.7v1.3h-1.7zM568.7 212h1.7v1.1h-1.7zM568.7 206.4h1.7v1.4h-1.7zM569.2 204.2h0.8v0.6h-0.8zM568.7 201.8h1.7v1.1h-1.7zM573.3 215.4h1.7v1.4h-1.7zM573.3 213.6h1.7v1.4h-1.7zM573.3 211.6h1.7v1.6h-1.7zM573.8 204.2h0.8v0.6h-0.8zM573.3 200.1h1.7v1h-1.7zM578.4 204.2h0.8v0.6h-0.8zM577.9 199.5h1.7v1.3h-1.7zM582.6 215.1h1.7v1.7h-1.7zM582.6 213.1h1.7v1.6h-1.7zM583 204.2h0.8v0.6h-0.8zM582.6 200.5h1.7v1h-1.7zM587.2 215.2h1.7v1.6h-1.7zM587.6 204.2h0.8v0.6h-0.8zM591.8 210.8h1.7v1.8h-1.7zM592.2 204.2h0.8v0.6h-0.8zM591.8 197.7h1.7v1.5h-1.7zM596.4 210.2h1.7v1.8h-1.7zM596.4 205.7h1.7v0.9h-1.7zM596.8 204.2h0.8v0.6h-0.8zM596.4 200.2h1.7v1.1h-1.7zM596.4 196.9h1.7v1.2h-1.7zM601 205.7h1.7v0.7h-1.7zM601.4 204.2h0.8v0.6h-0.8zM606.1 204.2h0.8v0.6h-0.8zM605.6 201.4h1.7v1.5h-1.7zM605.6 196.9h1.7v1h-1.7zM610.2 212.2h1.7v1.1h-1.7zM610.2 208.5h1.7v1.5h-1.7zM610.7 204.2h0.8v0.6h-0.8zM614.8 215.5h1.7v1.3h-1.7zM614.8 213.7h1.7v1.4h-1.7zM614.8 205.8h1.7v1.2h-1.7zM615.3 204.2h0.8v0.6h-0.8zM614.8 199.5h1.7v1.7h-1.7zM615.3 196.9h0.8v0.6h-0.8zM619.4 206.3h1.7v1.5h-1.7zM619.9 204.2h0.8v0.6h-0.8zM624.1 212.8h1.7v1.9h-1.7zM624.1 210.5h1.7v1.8h-1.7zM624.5 204.2h0.8v0.6h-0.8zM624.1 201.4h1.7v1.6h-1.7zM624.1 197.3h1.7v1.4h-1.7zM628.7 209.4h1.7v1.6h-1.7zM629.1 204.2h0.8v0.6h-0.8zM628.7 200.1h1.7v1.2h-1.7zM628.7 198.1h1.7v1.6h-1.7zM633.3 215.3h1.7v1.5h-1.7zM633.3 213.1h1.7v1.7h-1.7zM633.3 207.6h1.7v1.4h-1.7zM633.7 204.2h0.8v0.6h-0.8zM633.3 199.2h1.7v1.6h-1.7z" fill="#2a2a62" fill-opacity="0.57"/>
<path d="M485.7 211.7h1.7v1.8h-1.7zM485.7 207.3h1.7v0.7h-1.7zM490.3 213.3h1.7v1.9h-1.7zM494.9 201.9h1.7v1.1h-1.7zM494.9 196.9h1.7v1h-1.7zM499.5 209.2h1.7v1.7h-1.7zM499.5 201.5h1.7v1.5h-1.7zM499.5 198.2h1.7v1h-1.7zM504.1 213.7h1.7v1.3h-1.7zM504.1 201.6h1.7v1.3h-1.7zM504.6 196.9h0.8v0.6h-0.8zM508.8 208.2h1.7v1.9h-1.7zM513.4 215.6h1.7v1.2h-1.7zM513.4 211.5h1.7v1.3h-1.7zM513.4 209.4h1.7v1.8h-1.7zM513.4 197.6h1.7v1.7h-1.7zM518 215.1h1.7v1.7h-1.7zM518 213.6h1.7v1.2h-1.7zM518 211.7h1.7v1.4h-1.7zM518 199.9h1.7v1.3h-1.7zM522.6 213.7h1.7v1.4h-1.7zM522.6 211.6h1.7v1.6h-1.7zM522.6 209.8h1.7v1.4h-1.7zM522.6 198.5h1.7v1.1h-1.7zM527.2 215.4h1.7v1.4h-1.7zM527.2 209.7h1.7v1.8h-1.7zM527.2 201.3h1.7v1.6h-1.7zM527.2 197.5h1.7v1.5h-1.7zM531.8 213.8h1.7v1.4h-1.7zM531.8 209.9h1.7v1.5h-1.7zM532.3 196.9h0.8v0.4h-0.8zM536.4 215h1.7v1.8h-1.7zM536.4 211.6h1.7v1.2h-1.7zM536.4 209.6h1.7v1.5h-1.7zM536.9 205.7h0.8v0.4h-0.8zM536.4 199.2h1.7v1.5h-1.7zM541 209.2h1.7v1.6h-1.7zM541.5 196.9h0.8v0.6h-0.8zM545.7 215h1.7v1.8h-1.7zM545.7 207.7h1.7v1.3h-1.7zM545.7 205.9h1.7v1.3h-1.7zM545.7 201.7h1.7v1.3h-1.7zM545.7 199.4h1.7v1.7h-1.7zM550.3 211.7h1.7v1.2h-1.7zM554.9 211.8h1.7v1.3h-1.7zM554.9 205.7h1.7v1.7h-1.7zM555.3 196.9h0.8v0.6h-0.8zM559.5 213h1.7v1.6h-1.7zM559.5 201.4h1.7v1.5h-1.7zM564.1 211.1h1.7v1.9h-1.7zM564.1 209.4h1.7v1.3h-1.7zM564.1 207.4h1.7v1.5h-1.7zM564.1 200.3h1.7v1h-1.7zM564.1 196.9h1.7v1.4h-1.7zM568.7 215.1h1.7v1.7h-1.7zM568.7 213.4h1.7v1.4h-1.7zM568.7 209.8h1.7v1.7h-1.7zM568.7 196.9h1.7v0.7h-1.7zM573.3 209.8h1.7v1.3h-1.7zM573.3 208h1.7v1.4h-1.7zM573.3 205.7h1.7v1.8h-1.7zM577.9 213.1h1.7v1.8h-1.7zM577.9 211h1.7v1.9h-1.7zM577.9 207.3h1.7v1.5h-1.7zM577.9 201.2h1.7v1.8h-1.7zM577.9 197.4h1.7v1.7h-1.7zM582.6 211.1h1.7v1.7h-1.7zM582.6 209.7h1.7v1.2h-1.7zM582.6 198.2h1.7v1.7h-1.7zM587.2 213.4h1.7v1.2h-1.7zM591.8 214.9h1.7v1.9h-1.7zM591.8 209.3h1.7v1.3h-1.7zM591.8 201.2h1.7v1.8h-1.7zM591.8 199.6h1.7v1.1h-1.7zM596.4 214h1.7v1.2h-1.7zM596.4 198.5h1.7v1.3h-1.7zM601 215h1.7v1.8h-1.7zM601 206.8h1.7v1.1h-1.7zM601 201.6h1.7v1.4h-1.7zM601 198.2h1.7v1.1h-1.7zM605.6 211.3h1.7v1.9h-1.7zM605.6 208.9h1.7v1.9h-1.7zM605.6 205.7h1.7v0.9h-1.7zM605.6 198.5h1.7v1h-1.7zM610.2 213.8h1.7v1.3h-1.7zM610.2 199.8h1.7v1.6h-1.7zM610.7 196.9h0.8v0.6h-0.8zM614.8 211.6h1.7v1.6h-1.7zM614.8 209.4h1.7v1.7h-1.7zM614.8 207.5h1.7v1.4h-1.7zM614.8 201.6h1.7v1.4h-1.7zM619.4 215.6h1.7v1.2h-1.7zM619.4 213.2h1.7v1.9h-1.7zM619.4 209.6h1.7v1.3h-1.7zM619.4 201.7h1.7v1.2h-1.7zM619.4 200.1h1.7v1.2h-1.7zM619.4 198.4h1.7v1.2h-1.7zM628.7 215h1.7v1.8h-1.7zM628.7 213.1h1.7v1.5h-1.7zM628.7 196.9h1.7v0.8h-1.7zM633.3 205.7h1.7v1.5h-1.7z" fill="#2a2a62" fill-opacity="0.85"/>
<path d="M485.7 210h1.7v1.3h-1.7zM485.7 201.1h1.7v1.5h-1.7zM490.3 209h1.7v1.7h-1.7zM490.3 207.3h1.7v1.3h-1.7zM490.3 199.1h1.7v1.8h-1.7zM494.9 215.2h1.7v1.6h-1.7zM494.9 213.4h1.7v1.4h-1.7zM494.9 211.7h1.7v1.3h-1.7zM494.9 209.6h1.7v1.7h-1.7zM499.5 215h1.7v1.8h-1.7zM499.5 211.3h1.7v1.4h-1.7zM499.5 199.6h1.7v1.4h-1.7zM499.5 196.9h1.7v0.9h-1.7zM504.1 205.9h1.7v1.8h-1.7zM504.1 199.5h1.7v1.6h-1.7zM508.8 215h1.7v1.8h-1.7zM508.8 213h1.7v1.6h-1.7zM508.8 199.6h1.7v1.5h-1.7zM513.4 213.3h1.7v1.8h-1.7zM513.4 205.7h1.7v1.6h-1.7zM513.4 199.5h1.7v1.6h-1.7zM518 209.6h1.7v1.7h-1.7zM518 207.3h1.7v1.9h-1.7zM522.6 207.6h1.7v1.8h-1.7zM522.6 205.7h1.7v1.4h-1.7zM522.6 201.8h1.7v1.1h-1.7zM527.2 213.5h1.7v1.6h-1.7zM527.2 205.7h1.7v1.3h-1.7zM527.2 199.5h1.7v1.5h-1.7zM531.8 215.5h1.7v1.3h-1.7zM531.8 211.9h1.7v1.5h-1.7zM531.8 208.1h1.7v1.5h-1.7zM531.8 205.9h1.7v1.8h-1.7zM531.8 201.3h1.7v1.7h-1.7zM531.8 199.9h1.7v1h-1.7zM531.8 197.7h1.7v1.8h-1.7zM536.4 213.4h1.7v1.3h-1.7zM536.4 206.4h1.7v1.1h-1.7zM536.4 201.2h1.7v1.7h-1.7zM536.4 197.1h1.7v1.6h-1.7zM541 207.4h1.7v1.4h-1.7zM541 197.8h1.7v1.4h-1.7zM545.7 213.4h1.7v1.2h-1.7zM545.7 211.5h1.7v1.3h-1.7zM545.7 197.4h1.7v1.6h-1.7zM550.3 215.1h1.7v1.7h-1.7zM550.3 207.2h1.7v1.8h-1.7zM550.3 205.7h1.7v1.3h-1.7zM550.3 201.9h1.7v1h-1.7zM550.3 198.2h1.7v1.7h-1.7zM554.9 213.4h1.7v1.5h-1.7zM554.9 210.2h1.7v1.3h-1.7zM554.9 207.9h1.7v1.9h-1.7zM554.9 199.9h1.7v1.1h-1.7zM554.9 197.9h1.7v1.5h-1.7zM559.5 211.5h1.7v1.1h-1.7zM559.5 210h1.7v1.2h-1.7zM559.5 208h1.7v1.7h-1.7zM559.5 199.3h1.7v1.6h-1.7zM564.1 205.7h1.7v1.3h-1.7zM564.1 201.7h1.7v1.3h-1.7zM568.7 208.3h1.7v1.1h-1.7zM569.2 205.7h0.8v0.4h-0.8zM568.7 199.7h1.7v1.6h-1.7zM568.7 198.2h1.7v1.2h-1.7zM573.3 201.7h1.7v1.3h-1.7zM573.3 197.9h1.7v1.7h-1.7zM573.8 196.9h0.8v0.5h-0.8zM577.9 215.1h1.7v1.7h-1.7zM577.9 209h1.7v1.5h-1.7zM577.9 205.7h1.7v1.3h-1.7zM582.6 207.6h1.7v1.5h-1.7zM582.6 205.9h1.7v1.5h-1.7zM582.6 201.8h1.7v1.2h-1.7zM582.6 196.9h1.7v0.8h-1.7zM587.2 211.6h1.7v1.4h-1.7zM587.2 209.5h1.7v1.7h-1.7zM587.2 207.8h1.7v1.3h-1.7zM587.2 206h1.7v1.5h-1.7zM587.2 201.5h1.7v1.5h-1.7zM587.2 199.4h1.7v1.8h-1.7zM587.2 197.1h1.7v1.8h-1.7zM591.8 212.9h1.7v1.5h-1.7zM591.8 207.6h1.7v1.3h-1.7zM591.8 205.7h1.7v1.3h-1.7zM592.2 196.9h0.8v0.3h-0.8zM596.4 215.6h1.7v1.2h-1.7zM596.4 212.4h1.7v1.3h-1.7zM596.4 208.7h1.7v1.2h-1.7zM596.4 207h1.7v1.4h-1.7zM596.4 201.5h1.7v1.4h-1.7zM601 212.8h1.7v1.7h-1.7zM601 210.6h1.7v1.8h-1.7zM601 208.3h1.7v1.8h-1.7zM601 199.9h1.7v1.3h-1.7zM601 196.9h1.7v1.1h-1.7zM605.6 215.6h1.7v1.2h-1.7zM605.6 213.6h1.7v1.7h-1.7zM605.6 207h1.7v1.4h-1.7zM605.6 199.8h1.7v1.1h-1.7zM610.2 215.4h1.7v1.4h-1.7zM610.2 210.4h1.7v1.3h-1.7zM610.2 206.4h1.7v1.8h-1.7zM610.7 205.7h0.8v0.4h-0.8zM610.2 201.7h1.7v1.2h-1.7zM610.2 197.8h1.7v1.6h-1.7zM614.8 197.8h1.7v1.2h-1.7zM619.4 211.3h1.7v1.5h-1.7zM619.4 208h1.7v1.2h-1.7zM619.4 196.9h1.7v1.2h-1.7zM624.1 215h1.7v1.8h-1.7zM624.1 208.3h1.7v1.9h-1.7zM624.1 206.1h1.7v1.8h-1.7zM624.1 199h1.7v1.8h-1.7zM628.7 211.4h1.7v1.4h-1.7zM628.7 207.7h1.7v1.2h-1.7zM628.7 206.1h1.7v1.4h-1.7zM628.7 201.8h1.7v1.1h-1.7zM633.3 211.2h1.7v1.7h-1.7zM633.3 209.4h1.7v1.4h-1.7zM633.3 201.2h1.7v1.7h-1.7zM633.3 197.6h1.7v1.1h-1.7z" fill="#2a2a62" fill-opacity="0.71"/>
<path d="M637.9 215.6h1.7v1.2h-1.7zM637.9 214h1.7v1.1h-1.7zM637.9 212h1.7v1.7h-1.7zM637.9 206.2h1.7v1.4h-1.7zM637.9 204.8h1.7v0.9h-1.7zM642.5 211.7h1.7v1.3h-1.7zM642.5 210h1.7v1.4h-1.7zM642.5 208.1h1.7v1.5h-1.7zM647.1 215.7h1.7v1.1h-1.7zM647.1 213.7h1.7v1.5h-1.7zM647.1 210.6h1.7v1.3h-1.7zM647.1 197.2h1.7v1.1h-1.7zM651.7 206.6h1.7v1.4h-1.7zM656.3 211.5h1.7v1.7h-1.7zM656.3 209.8h1.7v1.4h-1.7zM656.3 197.1h1.7v1h-1.7zM661 215.3h1.7v1.5h-1.7zM661 211.6h1.7v1.1h-1.7zM661 209.4h1.7v1.7h-1.7zM661 205.6h1.7v1.5h-1.7zM661 195.4h1.7v1h-1.7zM665.6 215.5h1.7v1.3h-1.7zM665.6 208h1.7v1.2h-1.7zM670.2 215.4h1.7v1.4h-1.7zM670.2 213.3h1.7v1.5h-1.7zM670.2 207.7h1.7v1.3h-1.7zM670.2 205.8h1.7v1.3h-1.7zM670.6 204.8h0.8v0.7h-0.8zM670.2 199.5h1.7v1.2h-1.7zM674.8 210.8h1.7v1.8h-1.7zM674.8 207.3h1.7v1.5h-1.7zM674.8 205.3h1.7v1.7h-1.7zM674.8 196.8h1.7v1.3h-1.7zM679.4 215.5h1.7v1.3h-1.7zM679.4 207.9h1.7v1.5h-1.7zM679.9 204.8h0.8v0.4h-0.8zM679.4 200.8h1.7v1.3h-1.7zM679.4 195.4h1.7v1.4h-1.7z" fill="#555555" fill-opacity="0.85"/>
<path d="M637.9 210.3h1.7v1.4h-1.7zM637.9 200.4h1.7v1.7h-1.7zM637.9 198.5h1.7v1.6h-1.7zM642.5 215.4h1.7v1.4h-1.7zM642.5 206h1.7v1.8h-1.7zM642.5 204.8h1.7v0.9h-1.7zM642.5 200.8h1.7v1.4h-1.7zM642.5 198.6h1.7v1.7h-1.7zM642.5 196.7h1.7v1.5h-1.7zM642.5 195.4h1.7v0.7h-1.7zM647.1 212.1h1.7v1.3h-1.7zM647.1 208.7h1.7v1.3h-1.7zM647.1 205.1h1.7v1.3h-1.7zM647.1 200.4h1.7v1.7h-1.7zM647.1 198.7h1.7v1.4h-1.7zM651.7 215.6h1.7v1.2h-1.7zM651.7 214h1.7v1.2h-1.7zM651.7 212.3h1.7v1.4h-1.7zM651.7 210.4h1.7v1.5h-1.7zM651.7 204.8h1.7v1.5h-1.7zM651.7 200.5h1.7v1.7h-1.7zM651.7 196.3h1.7v1.4h-1.7zM656.3 215.2h1.7v1.6h-1.7zM656.3 213.5h1.7v1.3h-1.7zM656.3 208.3h1.7v1.2h-1.7zM656.3 206.2h1.7v1.6h-1.7zM656.3 204.8h1.7v1h-1.7zM656.3 200.4h1.7v1.7h-1.7zM656.3 195.5h1.7v1.2h-1.7zM661 213h1.7v1.9h-1.7zM661 207.4h1.7v1.7h-1.7zM661 200.7h1.7v1.4h-1.7zM661 198.8h1.7v1.4h-1.7zM661 196.8h1.7v1.5h-1.7zM665.6 213.7h1.7v1.4h-1.7zM665.6 211.5h1.7v1.7h-1.7zM665.6 209.5h1.7v1.7h-1.7zM666 204.8h0.8v0.6h-0.8zM665.6 200.9h1.7v1.2h-1.7zM665.6 195.4h1.7v1.3h-1.7zM670.2 211.5h1.7v1.3h-1.7zM670.2 209.4h1.7v1.7h-1.7zM670.2 197.6h1.7v1.4h-1.7zM674.8 215.2h1.7v1.6h-1.7zM674.8 213.1h1.7v1.7h-1.7zM679.4 214h1.7v1.2h-1.7zM679.4 210h1.7v1.8h-1.7zM679.4 205.6h1.7v1.8h-1.7zM679.4 198.9h1.7v1.5h-1.7zM679.4 197.3h1.7v1.3h-1.7z" fill="#555555" fill-opacity="0.71"/>
<path d="M637.9 207.9h1.7v1.8h-1.7zM638.3 203.3h0.8v0.6h-0.8zM637.9 196.8h1.7v1.1h-1.7zM637.9 195.4h1.7v1h-1.7zM642.5 213.5h1.7v1.6h-1.7zM643 203.3h0.8v0.6h-0.8zM647.1 206.8h1.7v1.7h-1.7zM647.6 203.3h0.8v0.6h-0.8zM647.1 195.7h1.7v1.3h-1.7zM651.7 208.5h1.7v1.5h-1.7zM652.2 203.3h0.8v0.6h-0.8zM651.7 198.3h1.7v1.7h-1.7zM652.2 195.4h0.8v0.6h-0.8zM656.8 203.3h0.8v0.6h-0.8zM656.3 198.7h1.7v1.1h-1.7zM661.4 204.8h0.8v0.4h-0.8zM661.4 203.3h0.8v0.6h-0.8zM665.6 205.8h1.7v1.7h-1.7zM666 203.3h0.8v0.6h-0.8zM665.6 199h1.7v1.6h-1.7zM665.6 197h1.7v1.6h-1.7zM670.6 203.3h0.8v0.6h-0.8zM670.2 201h1.7v1.1h-1.7zM670.2 195.5h1.7v1.8h-1.7zM674.8 209.1h1.7v1.4h-1.7zM675.2 203.3h0.8v0.6h-0.8zM674.8 200.5h1.7v1.6h-1.7zM674.8 198.6h1.7v1.5h-1.7zM674.8 195.4h1.7v0.8h-1.7zM679.4 212.2h1.7v1.3h-1.7zM679.9 203.3h0.8v0.6h-0.8z" fill="#555555" fill-opacity="0.57"/>
<line x1="487.5" y1="256.1" x2="681" y2="256.1" stroke="#3c3cd0" stroke-opacity="0.62" stroke-width="1"/>
<line x1="487.5" y1="280.2" x2="681" y2="280.2" stroke="#e42020" stroke-opacity="0.85" stroke-width="0.7"/>
<line x1="486.9" y1="268.7" x2="680.6" y2="268.7" stroke="#4a5470" stroke-width="0.55" stroke-dasharray="1.1 1.3"/>
<path d="M486.9 248.3V285.7M485.4 248.3h3M485.4 285.7h3" stroke="#62626e" stroke-width="0.5" fill="none"/>
<rect x="485.1" y="264.6" width="3.6" height="7.8" fill="#a6d8f2" stroke="#6f8fb8" stroke-width="0.5"/>
<line x1="485.1" y1="268.7" x2="488.7" y2="268.7" stroke="#6f8fb8" stroke-width="0.45"/>
<path d="M486.2 268.15l1.4 1.1M487.6 268.15l-1.4 1.1" stroke="#e8e030" stroke-width="0.7"/>
<circle cx="486.9" cy="267.8" r="1.25" fill="#1e0000"/><circle cx="486.9" cy="267.8" r="0.45" fill="#7a1010"/>
<path d="M491.51 262V292.4M490.01 262h3M490.01 292.4h3" stroke="#62626e" stroke-width="0.5" fill="none"/>
<rect x="489.71" y="264.1" width="3.6" height="9.2" fill="#a6d8f2" stroke="#6f8fb8" stroke-width="0.5"/>
<line x1="489.71" y1="268.7" x2="493.31" y2="268.7" stroke="#6f8fb8" stroke-width="0.45"/>
<path d="M490.81 268.15l1.4 1.1M492.21 268.15l-1.4 1.1" stroke="#e8e030" stroke-width="0.7"/>
<circle cx="491.51" cy="277.6" r="1.25" fill="#1e0000"/><circle cx="491.51" cy="277.6" r="0.45" fill="#7a1010"/>
<path d="M496.12 259.4V294.6M494.62 259.4h3M494.62 294.6h3" stroke="#62626e" stroke-width="0.5" fill="none"/>
<rect x="494.32" y="259.4" width="3.6" height="17.6" fill="#a6d8f2" stroke="#6f8fb8" stroke-width="0.5"/>
<line x1="494.32" y1="268.7" x2="497.92" y2="268.7" stroke="#6f8fb8" stroke-width="0.45"/>
<path d="M495.42 268.15l1.4 1.1M496.82 268.15l-1.4 1.1" stroke="#e8e030" stroke-width="0.7"/>
<circle cx="496.12" cy="280.7" r="1.15" fill="#f07070"/>
<path d="M500.74 247.4V285.4M499.24 247.4h3M499.24 285.4h3" stroke="#62626e" stroke-width="0.5" fill="none"/>
<rect x="498.94" y="267.3" width="3.6" height="2.8" fill="#a6d8f2" stroke="#6f8fb8" stroke-width="0.5"/>
<line x1="498.94" y1="268.7" x2="502.54" y2="268.7" stroke="#6f8fb8" stroke-width="0.45"/>
<path d="M500.04 268.15l1.4 1.1M501.44 268.15l-1.4 1.1" stroke="#e8e030" stroke-width="0.7"/>
<circle cx="500.74" cy="266.5" r="1.25" fill="#1e0000"/><circle cx="500.74" cy="266.5" r="0.45" fill="#7a1010"/>
<path d="M505.35 235.4V281.3M503.85 235.4h3M503.85 281.3h3" stroke="#62626e" stroke-width="0.5" fill="none"/>
<rect x="503.55" y="267.3" width="3.6" height="2.8" fill="#a6d8f2" stroke="#6f8fb8" stroke-width="0.5"/>
<line x1="503.55" y1="268.7" x2="507.15" y2="268.7" stroke="#6f8fb8" stroke-width="0.45"/>
<path d="M504.65 268.15l1.4 1.1M506.05 268.15l-1.4 1.1" stroke="#e8e030" stroke-width="0.7"/>
<circle cx="505.35" cy="258" r="1.25" fill="#1e0000"/><circle cx="505.35" cy="258" r="0.45" fill="#7a1010"/>
<path d="M509.96 232.6V278.9M508.46 232.6h3M508.46 278.9h3" stroke="#62626e" stroke-width="0.5" fill="none"/>
<rect x="508.16" y="266.5" width="3.6" height="5" fill="#a6d8f2" stroke="#6f8fb8" stroke-width="0.5"/>
<line x1="508.16" y1="268.7" x2="511.76" y2="268.7" stroke="#6f8fb8" stroke-width="0.45"/>
<path d="M509.26 268.15l1.4 1.1M510.66 268.15l-1.4 1.1" stroke="#e8e030" stroke-width="0.7"/>
<circle cx="509.96" cy="255.7" r="1.2" fill="#f8c414"/>
<path d="M514.57 243.3V283.1M513.07 243.3h3M513.07 283.1h3" stroke="#62626e" stroke-width="0.5" fill="none"/>
<rect x="512.77" y="267.3" width="3.6" height="2.8" fill="#a6d8f2" stroke="#6f8fb8" stroke-width="0.5"/>
<line x1="512.77" y1="268.7" x2="516.37" y2="268.7" stroke="#6f8fb8" stroke-width="0.45"/>
<path d="M513.87 268.15l1.4 1.1M515.27 268.15l-1.4 1.1" stroke="#e8e030" stroke-width="0.7"/>
<circle cx="514.57" cy="263.5" r="1.25" fill="#1e0000"/><circle cx="514.57" cy="263.5" r="0.45" fill="#7a1010"/>
<path d="M519.18 240.4V283.1M517.68 240.4h3M517.68 283.1h3" stroke="#62626e" stroke-width="0.5" fill="none"/>
<rect x="517.38" y="263.5" width="3.6" height="10.4" fill="#a6d8f2" stroke="#6f8fb8" stroke-width="0.5"/>
<line x1="517.38" y1="268.7" x2="520.98" y2="268.7" stroke="#6f8fb8" stroke-width="0.45"/>
<path d="M518.48 268.15l1.4 1.1M519.88 268.15l-1.4 1.1" stroke="#e8e030" stroke-width="0.7"/>
<circle cx="519.18" cy="261.9" r="1.25" fill="#1e0000"/><circle cx="519.18" cy="261.9" r="0.45" fill="#7a1010"/>
<path d="M523.8 228.3V282M522.3 228.3h3M522.3 282h3" stroke="#62626e" stroke-width="0.5" fill="none"/>
<rect x="522" y="258.5" width="3.6" height="19.1" fill="#a6d8f2" stroke="#6f8fb8" stroke-width="0.5"/>
<line x1="522" y1="268.7" x2="525.6" y2="268.7" stroke="#6f8fb8" stroke-width="0.45"/>
<path d="M523.1 268.15l1.4 1.1M524.5 268.15l-1.4 1.1" stroke="#e8e030" stroke-width="0.7"/>
<circle cx="523.8" cy="255.4" r="1.2" fill="#f8c414"/>
<path d="M528.41 237.2V282.6M526.91 237.2h3M526.91 282.6h3" stroke="#62626e" stroke-width="0.5" fill="none"/>
<rect x="526.61" y="262.2" width="3.6" height="12.4" fill="#a6d8f2" stroke="#6f8fb8" stroke-width="0.5"/>
<line x1="526.61" y1="268.7" x2="530.21" y2="268.7" stroke="#6f8fb8" stroke-width="0.45"/>
<path d="M527.71 268.15l1.4 1.1M529.11 268.15l-1.4 1.1" stroke="#e8e030" stroke-width="0.7"/>
<circle cx="528.41" cy="259.8" r="1.25" fill="#1e0000"/><circle cx="528.41" cy="259.8" r="0.45" fill="#7a1010"/>
<path d="M533.02 235.4V282M531.52 235.4h3M531.52 282h3" stroke="#62626e" stroke-width="0.5" fill="none"/>
<rect x="531.22" y="261.3" width="3.6" height="14.4" fill="#a6d8f2" stroke="#6f8fb8" stroke-width="0.5"/>
<line x1="531.22" y1="268.7" x2="534.82" y2="268.7" stroke="#6f8fb8" stroke-width="0.45"/>
<path d="M532.32 268.15l1.4 1.1M533.72 268.15l-1.4 1.1" stroke="#e8e030" stroke-width="0.7"/>
<circle cx="533.02" cy="258.9" r="1.25" fill="#1e0000"/><circle cx="533.02" cy="258.9" r="0.45" fill="#7a1010"/>
<path d="M537.63 242.4V284.4M536.13 242.4h3M536.13 284.4h3" stroke="#62626e" stroke-width="0.5" fill="none"/>
<rect x="535.83" y="264.6" width="3.6" height="8.2" fill="#a6d8f2" stroke="#6f8fb8" stroke-width="0.5"/>
<line x1="535.83" y1="268.7" x2="539.43" y2="268.7" stroke="#6f8fb8" stroke-width="0.45"/>
<path d="M536.93 268.15l1.4 1.1M538.33 268.15l-1.4 1.1" stroke="#e8e030" stroke-width="0.7"/>
<circle cx="537.63" cy="263.5" r="1.25" fill="#1e0000"/><circle cx="537.63" cy="263.5" r="0.45" fill="#7a1010"/>
<path d="M542.24 243.3V284.4M540.74 243.3h3M540.74 284.4h3" stroke="#62626e" stroke-width="0.5" fill="none"/>
<rect x="540.44" y="267.3" width="3.6" height="2.8" fill="#a6d8f2" stroke="#6f8fb8" stroke-width="0.5"/>
<line x1="540.44" y1="268.7" x2="544.04" y2="268.7" stroke="#6f8fb8" stroke-width="0.45"/>
<path d="M541.54 268.15l1.4 1.1M542.94 268.15l-1.4 1.1" stroke="#e8e030" stroke-width="0.7"/>
<circle cx="542.24" cy="264.1" r="1.25" fill="#1e0000"/><circle cx="542.24" cy="264.1" r="0.45" fill="#7a1010"/>
<path d="M546.86 235.4V280.7M545.36 235.4h3M545.36 280.7h3" stroke="#62626e" stroke-width="0.5" fill="none"/>
<rect x="545.06" y="263.1" width="3.6" height="11.2" fill="#a6d8f2" stroke="#6f8fb8" stroke-width="0.5"/>
<line x1="545.06" y1="268.7" x2="548.66" y2="268.7" stroke="#6f8fb8" stroke-width="0.45"/>
<path d="M546.16 268.15l1.4 1.1M547.56 268.15l-1.4 1.1" stroke="#e8e030" stroke-width="0.7"/>
<circle cx="546.86" cy="258.9" r="1.25" fill="#1e0000"/><circle cx="546.86" cy="258.9" r="0.45" fill="#7a1010"/>
<path d="M551.47 233.3V283.5M549.97 233.3h3M549.97 283.5h3" stroke="#62626e" stroke-width="0.5" fill="none"/>
<rect x="549.67" y="259.8" width="3.6" height="16.5" fill="#a6d8f2" stroke="#6f8fb8" stroke-width="0.5"/>
<line x1="549.67" y1="268.7" x2="553.27" y2="268.7" stroke="#6f8fb8" stroke-width="0.45"/>
<path d="M550.77 268.15l1.4 1.1M552.17 268.15l-1.4 1.1" stroke="#e8e030" stroke-width="0.7"/>
<circle cx="551.47" cy="258.9" r="1.25" fill="#1e0000"/><circle cx="551.47" cy="258.9" r="0.45" fill="#7a1010"/>
<path d="M556.08 237.6V282M554.58 237.6h3M554.58 282h3" stroke="#62626e" stroke-width="0.5" fill="none"/>
<rect x="554.28" y="267.3" width="3.6" height="2.8" fill="#a6d8f2" stroke="#6f8fb8" stroke-width="0.5"/>
<line x1="554.28" y1="268.7" x2="557.88" y2="268.7" stroke="#6f8fb8" stroke-width="0.45"/>
<path d="M555.38 268.15l1.4 1.1M556.78 268.15l-1.4 1.1" stroke="#e8e030" stroke-width="0.7"/>
<circle cx="556.08" cy="259.8" r="1.25" fill="#1e0000"/><circle cx="556.08" cy="259.8" r="0.45" fill="#7a1010"/>
<path d="M560.69 233.9V281M559.19 233.9h3M559.19 281h3" stroke="#62626e" stroke-width="0.5" fill="none"/>
<rect x="558.89" y="267.3" width="3.6" height="2.8" fill="#a6d8f2" stroke="#6f8fb8" stroke-width="0.5"/>
<line x1="558.89" y1="268.7" x2="562.49" y2="268.7" stroke="#6f8fb8" stroke-width="0.45"/>
<path d="M559.99 268.15l1.4 1.1M561.39 268.15l-1.4 1.1" stroke="#e8e030" stroke-width="0.7"/>
<circle cx="560.69" cy="257.2" r="1.25" fill="#1e0000"/><circle cx="560.69" cy="257.2" r="0.45" fill="#7a1010"/>
<path d="M565.3 245V284.4M563.8 245h3M563.8 284.4h3" stroke="#62626e" stroke-width="0.5" fill="none"/>
<rect x="563.5" y="265.9" width="3.6" height="6.1" fill="#a6d8f2" stroke="#6f8fb8" stroke-width="0.5"/>
<line x1="563.5" y1="268.7" x2="567.1" y2="268.7" stroke="#6f8fb8" stroke-width="0.45"/>
<path d="M564.6 268.15l1.4 1.1M566 268.15l-1.4 1.1" stroke="#e8e030" stroke-width="0.7"/>
<circle cx="565.3" cy="264.6" r="1.25" fill="#1e0000"/><circle cx="565.3" cy="264.6" r="0.45" fill="#7a1010"/>
<path d="M569.92 237.6V282.6M568.42 237.6h3M568.42 282.6h3" stroke="#62626e" stroke-width="0.5" fill="none"/>
<rect x="568.12" y="261.3" width="3.6" height="14.8" fill="#a6d8f2" stroke="#6f8fb8" stroke-width="0.5"/>
<line x1="568.12" y1="268.7" x2="571.72" y2="268.7" stroke="#6f8fb8" stroke-width="0.45"/>
<path d="M569.22 268.15l1.4 1.1M570.62 268.15l-1.4 1.1" stroke="#e8e030" stroke-width="0.7"/>
<circle cx="569.92" cy="260.4" r="1.25" fill="#1e0000"/><circle cx="569.92" cy="260.4" r="0.45" fill="#7a1010"/>
<path d="M574.53 253V287.2M573.03 253h3M573.03 287.2h3" stroke="#62626e" stroke-width="0.5" fill="none"/>
<rect x="572.73" y="267.3" width="3.6" height="2.8" fill="#a6d8f2" stroke="#6f8fb8" stroke-width="0.5"/>
<line x1="572.73" y1="268.7" x2="576.33" y2="268.7" stroke="#6f8fb8" stroke-width="0.45"/>
<path d="M573.83 268.15l1.4 1.1M575.23 268.15l-1.4 1.1" stroke="#e8e030" stroke-width="0.7"/>
<circle cx="574.53" cy="270.2" r="1.25" fill="#1e0000"/><circle cx="574.53" cy="270.2" r="0.45" fill="#7a1010"/>
<path d="M579.14 238.5V284.4M577.64 238.5h3M577.64 284.4h3" stroke="#62626e" stroke-width="0.5" fill="none"/>
<rect x="577.34" y="260.4" width="3.6" height="16.1" fill="#a6d8f2" stroke="#6f8fb8" stroke-width="0.5"/>
<line x1="577.34" y1="268.7" x2="580.94" y2="268.7" stroke="#6f8fb8" stroke-width="0.45"/>
<path d="M578.44 268.15l1.4 1.1M579.84 268.15l-1.4 1.1" stroke="#e8e030" stroke-width="0.7"/>
<circle cx="579.14" cy="261.3" r="1.25" fill="#1e0000"/><circle cx="579.14" cy="261.3" r="0.45" fill="#7a1010"/>
<path d="M583.75 240.9V283.1M582.25 240.9h3M582.25 283.1h3" stroke="#62626e" stroke-width="0.5" fill="none"/>
<rect x="581.95" y="267.3" width="3.6" height="2.8" fill="#a6d8f2" stroke="#6f8fb8" stroke-width="0.5"/>
<line x1="581.95" y1="268.7" x2="585.55" y2="268.7" stroke="#6f8fb8" stroke-width="0.45"/>
<path d="M583.05 268.15l1.4 1.1M584.45 268.15l-1.4 1.1" stroke="#e8e030" stroke-width="0.7"/>
<circle cx="583.75" cy="261.9" r="1.25" fill="#1e0000"/><circle cx="583.75" cy="261.9" r="0.45" fill="#7a1010"/>
<path d="M588.36 226.1V280.7M586.86 226.1h3M586.86 280.7h3" stroke="#62626e" stroke-width="0.5" fill="none"/>
<rect x="586.56" y="259.1" width="3.6" height="17.9" fill="#a6d8f2" stroke="#6f8fb8" stroke-width="0.5"/>
<line x1="586.56" y1="268.7" x2="590.16" y2="268.7" stroke="#6f8fb8" stroke-width="0.45"/>
<path d="M587.66 268.15l1.4 1.1M589.06 268.15l-1.4 1.1" stroke="#e8e030" stroke-width="0.7"/>
<circle cx="588.36" cy="253.5" r="1.2" fill="#f8c414"/>
<path d="M592.98 244.3V284.4M591.48 244.3h3M591.48 284.4h3" stroke="#62626e" stroke-width="0.5" fill="none"/>
<rect x="591.18" y="267.3" width="3.6" height="2.8" fill="#a6d8f2" stroke="#6f8fb8" stroke-width="0.5"/>
<line x1="591.18" y1="268.7" x2="594.78" y2="268.7" stroke="#6f8fb8" stroke-width="0.45"/>
<path d="M592.28 268.15l1.4 1.1M593.68 268.15l-1.4 1.1" stroke="#e8e030" stroke-width="0.7"/>
<circle cx="592.98" cy="264.6" r="1.25" fill="#1e0000"/><circle cx="592.98" cy="264.6" r="0.45" fill="#7a1010"/>
<path d="M597.59 238.7V282M596.09 238.7h3M596.09 282h3" stroke="#62626e" stroke-width="0.5" fill="none"/>
<rect x="595.79" y="267.3" width="3.6" height="2.8" fill="#a6d8f2" stroke="#6f8fb8" stroke-width="0.5"/>
<line x1="595.79" y1="268.7" x2="599.39" y2="268.7" stroke="#6f8fb8" stroke-width="0.45"/>
<path d="M596.89 268.15l1.4 1.1M598.29 268.15l-1.4 1.1" stroke="#e8e030" stroke-width="0.7"/>
<circle cx="597.59" cy="260.4" r="1.25" fill="#1e0000"/><circle cx="597.59" cy="260.4" r="0.45" fill="#7a1010"/>
<path d="M602.2 238.7V282M600.7 238.7h3M600.7 282h3" stroke="#62626e" stroke-width="0.5" fill="none"/>
<rect x="600.4" y="267.3" width="3.6" height="2.8" fill="#a6d8f2" stroke="#6f8fb8" stroke-width="0.5"/>
<line x1="600.4" y1="268.7" x2="604" y2="268.7" stroke="#6f8fb8" stroke-width="0.45"/>
<path d="M601.5 268.15l1.4 1.1M602.9 268.15l-1.4 1.1" stroke="#e8e030" stroke-width="0.7"/>
<circle cx="602.2" cy="260.4" r="1.25" fill="#1e0000"/><circle cx="602.2" cy="260.4" r="0.45" fill="#7a1010"/>
<path d="M606.81 239.4V282M605.31 239.4h3M605.31 282h3" stroke="#62626e" stroke-width="0.5" fill="none"/>
<rect x="605.01" y="267.3" width="3.6" height="2.8" fill="#a6d8f2" stroke="#6f8fb8" stroke-width="0.5"/>
<line x1="605.01" y1="268.7" x2="608.61" y2="268.7" stroke="#6f8fb8" stroke-width="0.45"/>
<path d="M606.11 268.15l1.4 1.1M607.51 268.15l-1.4 1.1" stroke="#e8e030" stroke-width="0.7"/>
<circle cx="606.81" cy="260.9" r="1.25" fill="#1e0000"/><circle cx="606.81" cy="260.9" r="0.45" fill="#7a1010"/>
<path d="M611.42 228.3V279.8M609.92 228.3h3M609.92 279.8h3" stroke="#62626e" stroke-width="0.5" fill="none"/>
<rect x="609.62" y="260.4" width="3.6" height="16.1" fill="#a6d8f2" stroke="#6f8fb8" stroke-width="0.5"/>
<line x1="609.62" y1="268.7" x2="613.22" y2="268.7" stroke="#6f8fb8" stroke-width="0.45"/>
<path d="M610.72 268.15l1.4 1.1M612.12 268.15l-1.4 1.1" stroke="#e8e030" stroke-width="0.7"/>
<circle cx="611.42" cy="254.3" r="1.2" fill="#f8c414"/>
<path d="M616.04 242.4V283.1M614.54 242.4h3M614.54 283.1h3" stroke="#62626e" stroke-width="0.5" fill="none"/>
<rect x="614.24" y="267.3" width="3.6" height="2.8" fill="#a6d8f2" stroke="#6f8fb8" stroke-width="0.5"/>
<line x1="614.24" y1="268.7" x2="617.84" y2="268.7" stroke="#6f8fb8" stroke-width="0.45"/>
<path d="M615.34 268.15l1.4 1.1M616.74 268.15l-1.4 1.1" stroke="#e8e030" stroke-width="0.7"/>
<circle cx="616.04" cy="262.8" r="1.25" fill="#1e0000"/><circle cx="616.04" cy="262.8" r="0.45" fill="#7a1010"/>
<path d="M620.65 231.3V282.8M619.15 231.3h3M619.15 282.8h3" stroke="#62626e" stroke-width="0.5" fill="none"/>
<rect x="618.85" y="260" width="3.6" height="17.6" fill="#a6d8f2" stroke="#6f8fb8" stroke-width="0.5"/>
<line x1="618.85" y1="268.7" x2="622.45" y2="268.7" stroke="#6f8fb8" stroke-width="0.45"/>
<path d="M619.95 268.15l1.4 1.1M621.35 268.15l-1.4 1.1" stroke="#e8e030" stroke-width="0.7"/>
<circle cx="620.65" cy="257.4" r="1.25" fill="#1e0000"/><circle cx="620.65" cy="257.4" r="0.45" fill="#7a1010"/>
<path d="M625.26 243.6V282.8M623.76 243.6h3M623.76 282.8h3" stroke="#62626e" stroke-width="0.5" fill="none"/>
<rect x="623.46" y="267.3" width="3.6" height="2.8" fill="#a6d8f2" stroke="#6f8fb8" stroke-width="0.5"/>
<line x1="623.46" y1="268.7" x2="627.06" y2="268.7" stroke="#6f8fb8" stroke-width="0.45"/>
<path d="M624.56 268.15l1.4 1.1M625.96 268.15l-1.4 1.1" stroke="#e8e030" stroke-width="0.7"/>
<circle cx="625.26" cy="263.7" r="1.25" fill="#1e0000"/><circle cx="625.26" cy="263.7" r="0.45" fill="#7a1010"/>
<path d="M629.87 231.8V280.2M628.37 231.8h3M628.37 280.2h3" stroke="#62626e" stroke-width="0.5" fill="none"/>
<rect x="628.07" y="264.5" width="3.6" height="7.8" fill="#a6d8f2" stroke="#6f8fb8" stroke-width="0.5"/>
<line x1="628.07" y1="268.7" x2="631.67" y2="268.7" stroke="#6f8fb8" stroke-width="0.45"/>
<path d="M629.17 268.15l1.4 1.1M630.57 268.15l-1.4 1.1" stroke="#e8e030" stroke-width="0.7"/>
<circle cx="629.87" cy="255.3" r="1.2" fill="#f8c414"/>
<path d="M634.48 229.2V290.6M632.98 229.2h3M632.98 290.6h3" stroke="#62626e" stroke-width="0.5" fill="none"/>
<rect x="632.68" y="252.2" width="3.6" height="28" fill="#a6d8f2" stroke="#6f8fb8" stroke-width="0.5"/>
<line x1="632.68" y1="268.7" x2="636.28" y2="268.7" stroke="#6f8fb8" stroke-width="0.45"/>
<path d="M633.78 268.15l1.4 1.1M635.18 268.15l-1.4 1.1" stroke="#e8e030" stroke-width="0.7"/>
<circle cx="634.48" cy="260" r="1.25" fill="#1e0000"/><circle cx="634.48" cy="260" r="0.45" fill="#7a1010"/>
<path d="M639.1 234.4V291.9M637.6 234.4h3M637.6 291.9h3" stroke="#62626e" stroke-width="0.5" fill="none"/>
<rect x="637.3" y="267.3" width="3.6" height="2.8" fill="#5cc65c" stroke="#3a8e3a" stroke-width="0.5"/>
<line x1="637.3" y1="268.7" x2="640.9" y2="268.7" stroke="#3a8e3a" stroke-width="0.45"/>
<path d="M638.4 268.15l1.4 1.1M639.8 268.15l-1.4 1.1" stroke="#e8e030" stroke-width="0.7"/>
<circle cx="639.1" cy="279.6" r="1.25" fill="#1e0000"/><circle cx="639.1" cy="279.6" r="0.45" fill="#7a1010"/>
<path d="M643.71 235.7V280.2M642.21 235.7h3M642.21 280.2h3" stroke="#62626e" stroke-width="0.5" fill="none"/>
<rect x="641.91" y="264.5" width="3.6" height="7" fill="#5cc65c" stroke="#3a8e3a" stroke-width="0.5"/>
<line x1="641.91" y1="268.7" x2="645.51" y2="268.7" stroke="#3a8e3a" stroke-width="0.45"/>
<path d="M643.01 268.15l1.4 1.1M644.41 268.15l-1.4 1.1" stroke="#e8e030" stroke-width="0.7"/>
<circle cx="643.71" cy="257.4" r="1.25" fill="#1e0000"/><circle cx="643.71" cy="257.4" r="0.45" fill="#7a1010"/>
<path d="M648.32 240V285M646.82 240h3M646.82 285h3" stroke="#62626e" stroke-width="0.5" fill="none"/>
<rect x="646.52" y="263.2" width="3.6" height="10.4" fill="#5cc65c" stroke="#3a8e3a" stroke-width="0.5"/>
<line x1="646.52" y1="268.7" x2="650.12" y2="268.7" stroke="#3a8e3a" stroke-width="0.45"/>
<path d="M647.62 268.15l1.4 1.1M649.02 268.15l-1.4 1.1" stroke="#e8e030" stroke-width="0.7"/>
<circle cx="648.32" cy="258.5" r="1.25" fill="#1e0000"/><circle cx="648.32" cy="258.5" r="0.45" fill="#7a1010"/>
<path d="M652.93 245V288M651.43 245h3M651.43 288h3" stroke="#62626e" stroke-width="0.5" fill="none"/>
<rect x="651.13" y="261.9" width="3.6" height="13" fill="#5cc65c" stroke="#3a8e3a" stroke-width="0.5"/>
<line x1="651.13" y1="268.7" x2="654.73" y2="268.7" stroke="#3a8e3a" stroke-width="0.45"/>
<path d="M652.23 268.15l1.4 1.1M653.63 268.15l-1.4 1.1" stroke="#e8e030" stroke-width="0.7"/>
<circle cx="652.93" cy="268" r="1.25" fill="#1e0000"/><circle cx="652.93" cy="268" r="0.45" fill="#7a1010"/>
<path d="M657.54 238.4V293.2M656.04 238.4h3M656.04 293.2h3" stroke="#62626e" stroke-width="0.5" fill="none"/>
<rect x="655.74" y="267.3" width="3.6" height="2.8" fill="#5cc65c" stroke="#3a8e3a" stroke-width="0.5"/>
<line x1="655.74" y1="268.7" x2="659.34" y2="268.7" stroke="#3a8e3a" stroke-width="0.45"/>
<path d="M656.84 268.15l1.4 1.1M658.24 268.15l-1.4 1.1" stroke="#e8e030" stroke-width="0.7"/>
<circle cx="657.54" cy="280.2" r="1.25" fill="#1e0000"/><circle cx="657.54" cy="280.2" r="0.45" fill="#7a1010"/>
<path d="M662.16 242.3V282.8M660.66 242.3h3M660.66 282.8h3" stroke="#62626e" stroke-width="0.5" fill="none"/>
<rect x="660.36" y="264.5" width="3.6" height="8.6" fill="#5cc65c" stroke="#3a8e3a" stroke-width="0.5"/>
<line x1="660.36" y1="268.7" x2="663.96" y2="268.7" stroke="#3a8e3a" stroke-width="0.45"/>
<path d="M661.46 268.15l1.4 1.1M662.86 268.15l-1.4 1.1" stroke="#e8e030" stroke-width="0.7"/>
<circle cx="662.16" cy="260" r="1.25" fill="#1e0000"/><circle cx="662.16" cy="260" r="0.45" fill="#7a1010"/>
<path d="M666.77 252V294.5M665.27 252h3M665.27 294.5h3" stroke="#62626e" stroke-width="0.5" fill="none"/>
<rect x="664.97" y="267.3" width="3.6" height="2.8" fill="#5cc65c" stroke="#3a8e3a" stroke-width="0.5"/>
<line x1="664.97" y1="268.7" x2="668.57" y2="268.7" stroke="#3a8e3a" stroke-width="0.45"/>
<path d="M666.07 268.15l1.4 1.1M667.47 268.15l-1.4 1.1" stroke="#e8e030" stroke-width="0.7"/>
<circle cx="666.77" cy="282.8" r="1.3" fill="#ff0c0c"/>
<path d="M671.38 251.4V286.2M669.88 251.4h3M669.88 286.2h3" stroke="#62626e" stroke-width="0.5" fill="none"/>
<rect x="669.58" y="265" width="3.6" height="7.5" fill="#5cc65c" stroke="#3a8e3a" stroke-width="0.5"/>
<line x1="669.58" y1="268.7" x2="673.18" y2="268.7" stroke="#3a8e3a" stroke-width="0.45"/>
<path d="M670.68 268.15l1.4 1.1M672.08 268.15l-1.4 1.1" stroke="#e8e030" stroke-width="0.7"/>
<circle cx="671.38" cy="267.9" r="1.25" fill="#1e0000"/><circle cx="671.38" cy="267.9" r="0.45" fill="#7a1010"/>
<path d="M675.99 242.3V282.8M674.49 242.3h3M674.49 282.8h3" stroke="#62626e" stroke-width="0.5" fill="none"/>
<rect x="674.19" y="267.3" width="3.6" height="2.8" fill="#5cc65c" stroke="#3a8e3a" stroke-width="0.5"/>
<line x1="674.19" y1="268.7" x2="677.79" y2="268.7" stroke="#3a8e3a" stroke-width="0.45"/>
<path d="M675.29 268.15l1.4 1.1M676.69 268.15l-1.4 1.1" stroke="#e8e030" stroke-width="0.7"/>
<circle cx="675.99" cy="262.7" r="1.25" fill="#1e0000"/><circle cx="675.99" cy="262.7" r="0.45" fill="#7a1010"/>
<path d="M680.6 267.9V293.2M679.1 267.9h3M679.1 293.2h3" stroke="#62626e" stroke-width="0.5" fill="none"/>
<rect x="678.8" y="266.5" width="3.6" height="4.5" fill="#5cc65c" stroke="#3a8e3a" stroke-width="0.5"/>
<line x1="678.8" y1="268.7" x2="682.4" y2="268.7" stroke="#3a8e3a" stroke-width="0.45"/>
<path d="M679.9 268.15l1.4 1.1M681.3 268.15l-1.4 1.1" stroke="#e8e030" stroke-width="0.7"/>
<circle cx="680.6" cy="280.2" r="1.25" fill="#1e0000"/><circle cx="680.6" cy="280.2" r="0.45" fill="#7a1010"/>
<rect x="121.1" y="348.1" width="7.8" height="111.4" fill="#f4f4f4"/>
<rect x="130.8" y="348.5" width="162.6" height="109.5" fill="#a6a8fa"/>
<rect x="293.4" y="348.5" width="49.1" height="109.5" fill="#d3d3d3"/>
<line x1="128.3" y1="348.5" x2="128.3" y2="458.8" stroke="#e6aaaa" stroke-width="0.7"/>
<line x1="128.3" y1="458.5" x2="342.5" y2="458.5" stroke="#e8a8a8" stroke-width="0.7"/>
<line x1="126.7" y1="458" x2="128.3" y2="458" stroke="#777" stroke-width="0.5"/>
<text x="126.3" y="459.1" font-size="3.2" fill="#666" text-anchor="end">0</text>
<line x1="126.7" y1="435.9" x2="128.3" y2="435.9" stroke="#777" stroke-width="0.5"/>
<text x="126.3" y="437" font-size="3.2" fill="#666" text-anchor="end">0.5</text>
<line x1="126.7" y1="413.8" x2="128.3" y2="413.8" stroke="#777" stroke-width="0.5"/>
<text x="126.3" y="414.9" font-size="3.2" fill="#666" text-anchor="end">1</text>
<line x1="126.7" y1="391.7" x2="128.3" y2="391.7" stroke="#777" stroke-width="0.5"/>
<text x="126.3" y="392.8" font-size="3.2" fill="#666" text-anchor="end">1.5</text>
<line x1="126.7" y1="369.6" x2="128.3" y2="369.6" stroke="#777" stroke-width="0.5"/>
<text x="126.3" y="370.7" font-size="3.2" fill="#666" text-anchor="end">2</text>
<line x1="133.3" y1="458.5" x2="133.3" y2="459.8" stroke="#666" stroke-width="0.5"/>
<line x1="138.23" y1="458.5" x2="138.23" y2="459.8" stroke="#666" stroke-width="0.5"/>
<line x1="143.17" y1="458.5" x2="143.17" y2="459.8" stroke="#666" stroke-width="0.5"/>
<line x1="148.1" y1="458.5" x2="148.1" y2="459.8" stroke="#666" stroke-width="0.5"/>
<line x1="153.03" y1="458.5" x2="153.03" y2="459.8" stroke="#666" stroke-width="0.5"/>
<line x1="157.97" y1="458.5" x2="157.97" y2="459.8" stroke="#666" stroke-width="0.5"/>
<line x1="162.9" y1="458.5" x2="162.9" y2="459.8" stroke="#666" stroke-width="0.5"/>
<line x1="167.83" y1="458.5" x2="167.83" y2="459.8" stroke="#666" stroke-width="0.5"/>
<line x1="172.76" y1="458.5" x2="172.76" y2="459.8" stroke="#666" stroke-width="0.5"/>
<line x1="177.7" y1="458.5" x2="177.7" y2="459.8" stroke="#666" stroke-width="0.5"/>
<line x1="182.63" y1="458.5" x2="182.63" y2="459.8" stroke="#666" stroke-width="0.5"/>
<line x1="187.56" y1="458.5" x2="187.56" y2="459.8" stroke="#666" stroke-width="0.5"/>
<line x1="192.5" y1="458.5" x2="192.5" y2="459.8" stroke="#666" stroke-width="0.5"/>
<line x1="197.43" y1="458.5" x2="197.43" y2="459.8" stroke="#666" stroke-width="0.5"/>
<line x1="202.36" y1="458.5" x2="202.36" y2="459.8" stroke="#666" stroke-width="0.5"/>
<line x1="207.3" y1="458.5" x2="207.3" y2="459.8" stroke="#666" stroke-width="0.5"/>
<line x1="212.23" y1="458.5" x2="212.23" y2="459.8" stroke="#666" stroke-width="0.5"/>
<line x1="217.16" y1="458.5" x2="217.16" y2="459.8" stroke="#666" stroke-width="0.5"/>
<line x1="222.09" y1="458.5" x2="222.09" y2="459.8" stroke="#666" stroke-width="0.5"/>
<line x1="227.03" y1="458.5" x2="227.03" y2="459.8" stroke="#666" stroke-width="0.5"/>
<line x1="231.96" y1="458.5" x2="231.96" y2="459.8" stroke="#666" stroke-width="0.5"/>
<line x1="236.89" y1="458.5" x2="236.89" y2="459.8" stroke="#666" stroke-width="0.5"/>
<line x1="241.83" y1="458.5" x2="241.83" y2="459.8" stroke="#666" stroke-width="0.5"/>
<line x1="246.76" y1="458.5" x2="246.76" y2="459.8" stroke="#666" stroke-width="0.5"/>
<line x1="251.69" y1="458.5" x2="251.69" y2="459.8" stroke="#666" stroke-width="0.5"/>
<line x1="256.62" y1="458.5" x2="256.62" y2="459.8" stroke="#666" stroke-width="0.5"/>
<line x1="261.56" y1="458.5" x2="261.56" y2="459.8" stroke="#666" stroke-width="0.5"/>
<line x1="266.49" y1="458.5" x2="266.49" y2="459.8" stroke="#666" stroke-width="0.5"/>
<line x1="271.42" y1="458.5" x2="271.42" y2="459.8" stroke="#666" stroke-width="0.5"/>
<line x1="276.36" y1="458.5" x2="276.36" y2="459.8" stroke="#666" stroke-width="0.5"/>
<line x1="281.29" y1="458.5" x2="281.29" y2="459.8" stroke="#666" stroke-width="0.5"/>
<line x1="286.22" y1="458.5" x2="286.22" y2="459.8" stroke="#666" stroke-width="0.5"/>
<line x1="291.16" y1="458.5" x2="291.16" y2="459.8" stroke="#666" stroke-width="0.5"/>
<line x1="296.09" y1="458.5" x2="296.09" y2="459.8" stroke="#666" stroke-width="0.5"/>
<line x1="301.02" y1="458.5" x2="301.02" y2="459.8" stroke="#666" stroke-width="0.5"/>
<line x1="305.96" y1="458.5" x2="305.96" y2="459.8" stroke="#666" stroke-width="0.5"/>
<line x1="310.89" y1="458.5" x2="310.89" y2="459.8" stroke="#666" stroke-width="0.5"/>
<line x1="315.82" y1="458.5" x2="315.82" y2="459.8" stroke="#666" stroke-width="0.5"/>
<line x1="320.75" y1="458.5" x2="320.75" y2="459.8" stroke="#666" stroke-width="0.5"/>
<line x1="325.69" y1="458.5" x2="325.69" y2="459.8" stroke="#666" stroke-width="0.5"/>
<line x1="330.62" y1="458.5" x2="330.62" y2="459.8" stroke="#666" stroke-width="0.5"/>
<line x1="335.55" y1="458.5" x2="335.55" y2="459.8" stroke="#666" stroke-width="0.5"/>
<line x1="340.49" y1="458.5" x2="340.49" y2="459.8" stroke="#666" stroke-width="0.5"/>
<path d="M132.1 385.9h1.7v1.6h-1.7zM132.1 383.6h1.7v1.9h-1.7zM132.1 379.8h1.7v1.6h-1.7zM132.1 372.4h1.7v1.2h-1.7zM137 386.3h1.7v1.2h-1.7zM137 384.3h1.7v1.7h-1.7zM142 384.6h1.7v1.3h-1.7zM142 378.9h1.7v1.5h-1.7zM146.9 383.7h1.7v1.6h-1.7zM146.9 378.3h1.7v1.2h-1.7zM146.9 370.5h1.7v1.5h-1.7zM151.8 382h1.7v1.9h-1.7zM151.8 368.3h1.7v1.6h-1.7zM156.8 385.9h1.7v1.6h-1.7zM156.8 381.7h1.7v1.7h-1.7zM156.8 368.5h1.7v1.3h-1.7zM161.7 384h1.7v1.2h-1.7zM161.7 382h1.7v1.5h-1.7zM161.7 377.8h1.7v1.6h-1.7zM161.7 376.5h1.7v0.9h-1.7zM166.6 378h1.7v1.8h-1.7zM166.6 376.5h1.7v1.1h-1.7zM171.6 379.7h1.7v1.6h-1.7zM171.6 368.3h1.7v1.3h-1.7zM176.5 386.4h1.7v1.1h-1.7zM176.5 379.4h1.7v1.5h-1.7zM176.9 376.5h0.8v0.6h-0.8zM176.9 367.8h0.8v0.3h-0.8zM181.4 386h1.7v1.5h-1.7zM181.4 372.7h1.7v1.1h-1.7zM191.3 377.8h1.7v1.5h-1.7zM196.2 382.3h1.7v1.1h-1.7zM196.2 380.8h1.7v1.2h-1.7zM196.2 376.9h1.7v1.6h-1.7zM196.7 367.8h0.8v0.6h-0.8zM201.2 380.5h1.7v1.5h-1.7zM201.2 378.8h1.7v1.5h-1.7zM201.2 371h1.7v1.3h-1.7zM206.1 384.4h1.7v1.5h-1.7zM206.1 380.7h1.7v1.3h-1.7zM206.1 376.7h1.7v1.6h-1.7zM206.1 370.8h1.7v1.1h-1.7zM211 386.4h1.7v1.1h-1.7zM211 381.3h1.7v1.2h-1.7zM216 384.1h1.7v1.4h-1.7zM216 380.4h1.7v1.7h-1.7zM220.9 384h1.7v1.5h-1.7zM220.9 377.5h1.7v1.7h-1.7zM225.8 382.6h1.7v1.2h-1.7zM230.8 386.2h1.7v1.3h-1.7zM230.8 378.1h1.7v1.8h-1.7zM230.8 369.5h1.7v1.2h-1.7zM235.7 378.8h1.7v1.4h-1.7zM235.7 376.5h1.7v1.8h-1.7zM240.6 379.6h1.7v1.7h-1.7zM240.6 372.4h1.7v1.3h-1.7zM240.6 367.8h1.7v0.9h-1.7zM245.6 378.3h1.7v1.8h-1.7zM245.6 370.2h1.7v1.5h-1.7zM250.5 383.7h1.7v1.8h-1.7zM250.5 379.7h1.7v1.3h-1.7zM250.5 370.2h1.7v1.6h-1.7zM250.5 368.1h1.7v1.6h-1.7zM255.4 376.7h1.7v1.5h-1.7zM260.4 380.7h1.7v1.2h-1.7zM260.4 371h1.7v1.1h-1.7zM260.4 369.3h1.7v1.4h-1.7zM260.4 367.8h1.7v1h-1.7zM265.3 383.8h1.7v1.9h-1.7zM265.3 376.8h1.7v1.1h-1.7zM265.3 372.1h1.7v1.7h-1.7zM265.3 370.2h1.7v1.3h-1.7zM270.2 376.9h1.7v1.8h-1.7zM275.2 384.5h1.7v1.3h-1.7zM275.2 382.6h1.7v1.5h-1.7zM275.2 376.5h1.7v0.8h-1.7zM275.2 372.5h1.7v1.2h-1.7zM275.2 370.6h1.7v1.6h-1.7zM275.6 367.8h0.8v0.6h-0.8zM280.1 371.2h1.7v1.1h-1.7zM280.1 368h1.7v1.2h-1.7zM285 383.5h1.7v1.8h-1.7zM285 381.5h1.7v1.6h-1.7zM285 377.9h1.7v1.6h-1.7zM290 386.3h1.7v1.2h-1.7zM290 382.6h1.7v1.5h-1.7zM290 367.8h1.7v0.9h-1.7z" fill="#2a2a62" fill-opacity="0.85"/>
<path d="M132.1 381.9h1.7v1.1h-1.7zM132.1 370.8h1.7v1.1h-1.7zM137 382.8h1.7v1.2h-1.7zM137 380.7h1.7v1.8h-1.7zM137 370h1.7v1.7h-1.7zM142 386.3h1.7v1.2h-1.7zM142 382.7h1.7v1.4h-1.7zM142 380.9h1.7v1.4h-1.7zM142 372.1h1.7v1.7h-1.7zM142 368.1h1.7v1.5h-1.7zM146.9 381.5h1.7v1.8h-1.7zM146.9 372.3h1.7v1.4h-1.7zM147.3 367.8h0.8v0.4h-0.8zM151.8 386.3h1.7v1.2h-1.7zM151.8 384.2h1.7v1.8h-1.7zM151.8 380h1.7v1.5h-1.7zM151.8 378h1.7v1.5h-1.7zM151.8 376.5h1.7v1.2h-1.7zM151.8 372h1.7v1.8h-1.7zM156.8 383.8h1.7v1.7h-1.7zM156.8 379.5h1.7v1.9h-1.7zM156.8 378h1.7v1.1h-1.7zM156.8 376.5h1.7v1.2h-1.7zM156.8 372.3h1.7v1.5h-1.7zM156.8 370.4h1.7v1.5h-1.7zM161.7 385.6h1.7v1.9h-1.7zM161.7 370.5h1.7v1.4h-1.7zM161.7 368.7h1.7v1.5h-1.7zM166.6 385.6h1.7v1.9h-1.7zM166.6 383.8h1.7v1.4h-1.7zM166.6 380.3h1.7v1.4h-1.7zM166.6 368.9h1.7v1.1h-1.7zM167.1 367.8h0.8v0.6h-0.8zM171.6 385.6h1.7v1.9h-1.7zM171.6 381.6h1.7v1.6h-1.7zM171.6 376.5h1.7v1.1h-1.7zM171.6 372h1.7v1.7h-1.7zM171.6 369.9h1.7v1.8h-1.7zM176.5 382.8h1.7v1.4h-1.7zM176.5 381.1h1.7v1.3h-1.7zM176.5 377.6h1.7v1.3h-1.7zM176.5 370.5h1.7v1.2h-1.7zM181.4 382.1h1.7v1.4h-1.7zM181.4 380h1.7v1.6h-1.7zM181.4 378.1h1.7v1.4h-1.7zM181.4 376.5h1.7v1.1h-1.7zM181.9 367.8h0.8v0.4h-0.8zM186.4 382.1h1.7v1.9h-1.7zM186.4 380.5h1.7v1.2h-1.7zM186.4 372h1.7v1.8h-1.7zM186.8 367.8h0.8v0.6h-0.8zM191.3 384h1.7v1.4h-1.7zM191.3 381.7h1.7v1.9h-1.7zM191.3 376.5h1.7v1h-1.7zM191.3 372.6h1.7v1.2h-1.7zM196.2 383.9h1.7v1.5h-1.7zM196.2 370.7h1.7v1.3h-1.7zM201.2 385.9h1.7v1.6h-1.7zM201.2 376.9h1.7v1.4h-1.7zM206.1 382.4h1.7v1.7h-1.7zM206.1 378.8h1.7v1.7h-1.7zM206.5 367.8h0.8v0.6h-0.8zM211 384.8h1.7v1.1h-1.7zM211 382.8h1.7v1.5h-1.7zM211 377.6h1.7v1.1h-1.7zM211 376.5h1.7v0.9h-1.7zM211 371h1.7v1.1h-1.7zM211 367.8h1.7v1h-1.7zM216 385.9h1.7v1.6h-1.7zM216 376.5h1.7v1.4h-1.7zM216 372.7h1.7v1.1h-1.7zM216 370.7h1.7v1.6h-1.7zM216.4 367.8h0.8v0.3h-0.8zM220.9 386.1h1.7v1.4h-1.7zM220.9 381.9h1.7v1.7h-1.7zM220.9 379.8h1.7v1.8h-1.7zM220.9 376.5h1.7v0.7h-1.7zM220.9 368.9h1.7v1.6h-1.7zM225.8 380.7h1.7v1.6h-1.7zM225.8 378.7h1.7v1.7h-1.7zM225.8 376.9h1.7v1.4h-1.7zM226.3 367.8h0.8v0.6h-0.8zM230.8 382.5h1.7v1.3h-1.7zM230.8 380.3h1.7v1.7h-1.7zM230.8 376.5h1.7v1.1h-1.7zM230.8 367.8h1.7v1.1h-1.7zM235.7 380.7h1.7v1.4h-1.7zM235.7 372.3h1.7v1.4h-1.7zM235.7 370.5h1.7v1.5h-1.7zM235.7 367.8h1.7v0.7h-1.7zM240.6 381.7h1.7v1.9h-1.7zM240.6 377.6h1.7v1.5h-1.7zM240.6 376.5h1.7v0.8h-1.7zM240.6 370.6h1.7v1.3h-1.7zM240.6 369h1.7v1.2h-1.7zM245.6 384h1.7v1.3h-1.7zM245.6 382.3h1.7v1.2h-1.7zM245.6 376.5h1.7v1.4h-1.7zM250.5 381.5h1.7v1.8h-1.7zM255.4 384.6h1.7v1.4h-1.7zM255.4 380.6h1.7v1.5h-1.7zM255.4 378.7h1.7v1.6h-1.7zM255.4 372.7h1.7v1.1h-1.7zM255.4 369.3h1.7v1.3h-1.7zM260.4 386.3h1.7v1.2h-1.7zM260.4 384.6h1.7v1.2h-1.7zM260.4 382.4h1.7v1.9h-1.7zM265.3 382.3h1.7v1.1h-1.7zM265.3 380.3h1.7v1.4h-1.7zM265.3 378.2h1.7v1.6h-1.7zM270.2 386.2h1.7v1.3h-1.7zM270.2 384.4h1.7v1.5h-1.7zM270.2 381.2h1.7v1.2h-1.7zM270.7 367.8h0.8v0.4h-0.8zM275.2 368.7h1.7v1.4h-1.7zM280.1 384.5h1.7v1.2h-1.7zM280.1 382.5h1.7v1.5h-1.7zM280.1 380.6h1.7v1.3h-1.7zM280.1 378.9h1.7v1.2h-1.7zM280.1 369.7h1.7v1.2h-1.7zM285 385.8h1.7v1.7h-1.7zM285 380h1.7v1.2h-1.7zM285 376.5h1.7v1h-1.7zM285 372.3h1.7v1.4h-1.7zM285 370.5h1.7v1.4h-1.7zM285 368.4h1.7v1.6h-1.7zM290.4 376.5h0.8v0.3h-0.8zM290 372.7h1.7v1.1h-1.7zM290 370.8h1.7v1.4h-1.7z" fill="#2a2a62" fill-opacity="0.71"/>
<path d="M132.1 378.1h1.7v1.4h-1.7zM132.6 376.6h0.8v0.6h-0.8zM132.1 374h1.7v1.5h-1.7zM137 378.5h1.7v1.9h-1.7zM137 376.6h1.7v1.4h-1.7zM137.5 375h0.8v0.6h-0.8zM137 372h1.7v1.7h-1.7zM137 368h1.7v1.6h-1.7zM142 376.6h1.7v1.9h-1.7zM142.4 375h0.8v0.6h-0.8zM142 370h1.7v1.7h-1.7zM146.9 385.6h1.7v1.9h-1.7zM146.9 379.8h1.7v1.4h-1.7zM146.9 376.5h1.7v1.2h-1.7zM147.3 375h0.8v0.6h-0.8zM146.9 368.8h1.7v1.3h-1.7zM152.3 375h0.8v0.6h-0.8zM151.8 370.3h1.7v1.3h-1.7zM157.2 375h0.8v0.6h-0.8zM161.7 379.8h1.7v1.7h-1.7zM162.1 375h0.8v0.6h-0.8zM161.7 372.2h1.7v1.6h-1.7zM162.1 367.8h0.8v0.6h-0.8zM166.6 382.2h1.7v1.2h-1.7zM167.1 375h0.8v0.6h-0.8zM166.6 372.5h1.7v1.2h-1.7zM166.6 370.3h1.7v1.8h-1.7zM171.6 383.5h1.7v1.8h-1.7zM171.6 377.9h1.7v1.4h-1.7zM172 375h0.8v0.6h-0.8zM176.5 384.5h1.7v1.3h-1.7zM176.9 375h0.8v0.6h-0.8zM176.5 372.1h1.7v1.7h-1.7zM176.5 368.5h1.7v1.6h-1.7zM181.4 384h1.7v1.5h-1.7zM181.9 375h0.8v0.6h-0.8zM181.4 370.9h1.7v1.3h-1.7zM181.4 368.6h1.7v1.7h-1.7zM186.4 386h1.7v1.5h-1.7zM186.4 384.2h1.7v1.3h-1.7zM186.4 378.9h1.7v1.2h-1.7zM186.4 376.7h1.7v1.8h-1.7zM186.8 375h0.8v0.6h-0.8zM186.4 370.4h1.7v1.1h-1.7zM186.4 368.8h1.7v1.1h-1.7zM191.3 385.7h1.7v1.8h-1.7zM191.3 379.8h1.7v1.7h-1.7zM191.7 375h0.8v0.6h-0.8zM191.3 371h1.7v1.1h-1.7zM191.3 369.1h1.7v1.6h-1.7zM191.3 367.8h1.7v0.8h-1.7zM196.2 385.9h1.7v1.6h-1.7zM196.2 379.1h1.7v1.3h-1.7zM196.7 375h0.8v0.6h-0.8zM196.2 372.3h1.7v1.5h-1.7zM196.2 369h1.7v1.3h-1.7zM201.2 384h1.7v1.4h-1.7zM201.2 382.5h1.7v1.3h-1.7zM201.6 375h0.8v0.6h-0.8zM201.2 372.6h1.7v1.1h-1.7zM201.2 369.4h1.7v1.2h-1.7zM201.2 367.9h1.7v1.2h-1.7zM206.1 386.1h1.7v1.4h-1.7zM206.5 375h0.8v0.6h-0.8zM206.1 372.2h1.7v1.5h-1.7zM206.1 368.8h1.7v1.6h-1.7zM211 379.1h1.7v1.8h-1.7zM211.5 375h0.8v0.6h-0.8zM211 372.7h1.7v1h-1.7zM211 369.2h1.7v1.4h-1.7zM216 382.5h1.7v1.2h-1.7zM216 378.3h1.7v1.5h-1.7zM216.4 375h0.8v0.6h-0.8zM216 368.6h1.7v1.5h-1.7zM221.3 375h0.8v0.6h-0.8zM220.9 372.7h1.7v1.1h-1.7zM220.9 370.8h1.7v1.5h-1.7zM220.9 367.8h1.7v0.9h-1.7zM225.8 386h1.7v1.5h-1.7zM225.8 384.3h1.7v1.4h-1.7zM226.3 375h0.8v0.6h-0.8zM225.8 372.3h1.7v1.5h-1.7zM225.8 370.5h1.7v1.5h-1.7zM225.8 368.7h1.7v1.4h-1.7zM230.8 384.4h1.7v1.5h-1.7zM231.2 375h0.8v0.6h-0.8zM230.8 372.7h1.7v1.1h-1.7zM230.8 371.2h1.7v1.1h-1.7zM235.7 386.1h1.7v1.4h-1.7zM235.7 384.1h1.7v1.6h-1.7zM235.7 382.4h1.7v1.4h-1.7zM236.1 375h0.8v0.6h-0.8zM235.7 368.8h1.7v1.2h-1.7zM240.6 385.6h1.7v1.9h-1.7zM240.6 383.8h1.7v1.3h-1.7zM241.1 375h0.8v0.6h-0.8zM245.6 385.7h1.7v1.8h-1.7zM245.6 380.5h1.7v1.3h-1.7zM246 375h0.8v0.6h-0.8zM245.6 372h1.7v1.7h-1.7zM245.6 368.9h1.7v1h-1.7zM246 367.8h0.8v0.6h-0.8zM250.5 385.8h1.7v1.7h-1.7zM250.5 377.7h1.7v1.5h-1.7zM250.5 376.5h1.7v1h-1.7zM250.9 375h0.8v0.6h-0.8zM250.5 372.3h1.7v1.5h-1.7zM255.4 386.3h1.7v1.2h-1.7zM255.4 382.5h1.7v1.7h-1.7zM255.9 375h0.8v0.6h-0.8zM255.4 371h1.7v1.2h-1.7zM255.4 367.8h1.7v0.9h-1.7zM260.4 378.9h1.7v1.4h-1.7zM260.4 376.6h1.7v1.8h-1.7zM260.8 375h0.8v0.6h-0.8zM260.4 372.7h1.7v1.1h-1.7zM265.3 386h1.7v1.5h-1.7zM265.7 375h0.8v0.6h-0.8zM265.3 368h1.7v1.7h-1.7zM270.2 382.8h1.7v1.2h-1.7zM270.2 378.9h1.7v1.8h-1.7zM270.7 375h0.8v0.6h-0.8zM270.2 372.7h1.7v1.1h-1.7zM270.2 370.3h1.7v1.8h-1.7zM270.2 368.7h1.7v1.3h-1.7zM275.2 386.2h1.7v1.3h-1.7zM275.2 380.8h1.7v1.2h-1.7zM275.2 379.2h1.7v1.4h-1.7zM275.2 377.6h1.7v1.1h-1.7zM275.6 375h0.8v0.6h-0.8zM280.1 386.2h1.7v1.3h-1.7zM280.1 376.9h1.7v1.6h-1.7zM280.5 375h0.8v0.6h-0.8zM280.1 372.7h1.7v1h-1.7zM285.5 375h0.8v0.6h-0.8zM285.5 367.8h0.8v0.3h-0.8zM290 384.6h1.7v1.3h-1.7zM290 381h1.7v1.2h-1.7zM290 378.8h1.7v1.9h-1.7zM290 377.2h1.7v1.4h-1.7zM290.4 375h0.8v0.6h-0.8zM290 369.1h1.7v1.1h-1.7z" fill="#2a2a62" fill-opacity="0.57"/>
<path d="M294.9 386.1h1.7v1.4h-1.7zM294.9 382.5h1.7v1.4h-1.7zM294.9 378.9h1.7v1.2h-1.7zM294.9 366.6h1.7v1.3h-1.7zM299.8 384.4h1.7v1.7h-1.7zM304.8 377.6h1.7v1.3h-1.7zM304.8 375.8h1.7v1.5h-1.7zM309.7 378h1.7v1.8h-1.7zM309.7 368.5h1.7v1.2h-1.7zM314.6 381.8h1.7v1.5h-1.7zM314.6 378.1h1.7v1.1h-1.7zM314.6 369.4h1.7v1.8h-1.7zM319.6 380.5h1.7v1.5h-1.7zM319.6 378.3h1.7v1.7h-1.7zM319.6 371.2h1.7v1.7h-1.7zM324.5 386.4h1.7v1.1h-1.7zM324.5 379.8h1.7v1.3h-1.7zM324.5 378.2h1.7v1.2h-1.7zM324.5 366.3h1.7v0.9h-1.7zM329.4 385.7h1.7v1.8h-1.7zM329.4 383.6h1.7v1.8h-1.7zM329.4 369.4h1.7v1.6h-1.7zM334.4 384.4h1.7v1.6h-1.7zM339.3 385.8h1.7v1.7h-1.7zM339.3 378.4h1.7v1.5h-1.7zM339.3 369.8h1.7v1.3h-1.7z" fill="#555555" fill-opacity="0.85"/>
<path d="M294.9 384.2h1.7v1.3h-1.7zM294.9 375.6h1.7v1.2h-1.7zM295.3 374.1h0.8v0.6h-0.8zM294.9 368.5h1.7v1.1h-1.7zM299.8 386.3h1.7v1.2h-1.7zM299.8 382.5h1.7v1.5h-1.7zM300.3 374.1h0.8v0.6h-0.8zM299.8 369.9h1.7v1.1h-1.7zM299.8 367.9h1.7v1.7h-1.7zM299.8 366.3h1.7v1h-1.7zM304.8 383.6h1.7v1.5h-1.7zM305.2 374.1h0.8v0.6h-0.8zM304.8 371.8h1.7v1.1h-1.7zM304.8 369.7h1.7v1.6h-1.7zM304.8 368h1.7v1.1h-1.7zM310.1 374.1h0.8v0.6h-0.8zM309.7 366.9h1.7v1.4h-1.7zM314.6 379.6h1.7v1.7h-1.7zM314.6 375.8h1.7v1.8h-1.7zM315.1 374.1h0.8v0.6h-0.8zM314.6 371.5h1.7v1.4h-1.7zM314.6 366.3h1.7v0.8h-1.7zM319.6 386.2h1.7v1.3h-1.7zM319.6 382.4h1.7v1.3h-1.7zM319.6 375.6h1.7v0.8h-1.7zM320 374.1h0.8v0.6h-0.8zM319.6 369.6h1.7v1.2h-1.7zM324.5 384.6h1.7v1.3h-1.7zM324.5 381.5h1.7v1.3h-1.7zM324.5 376h1.7v1.7h-1.7zM324.9 374.1h0.8v0.6h-0.8zM329.4 379.6h1.7v1.8h-1.7zM329.4 377.2h1.7v1.9h-1.7zM329.9 374.1h0.8v0.6h-0.8zM329.4 371.4h1.7v1.5h-1.7zM334.4 386.3h1.7v1.2h-1.7zM334.8 374.1h0.8v0.6h-0.8zM334.4 366.3h1.7v0.8h-1.7zM339.3 376.3h1.7v1.6h-1.7zM339.7 374.1h0.8v0.6h-0.8zM339.3 371.6h1.7v1.3h-1.7zM339.3 367.9h1.7v1.3h-1.7z" fill="#555555" fill-opacity="0.57"/>
<path d="M294.9 380.6h1.7v1.6h-1.7zM294.9 377.3h1.7v1.2h-1.7zM294.9 371.6h1.7v1.3h-1.7zM294.9 369.9h1.7v1.2h-1.7zM299.8 380.3h1.7v1.9h-1.7zM299.8 378.2h1.7v1.6h-1.7zM299.8 376.7h1.7v1.2h-1.7zM299.8 375.6h1.7v0.8h-1.7zM299.8 371.4h1.7v1.5h-1.7zM304.8 385.7h1.7v1.8h-1.7zM304.8 381.5h1.7v1.9h-1.7zM304.8 379.3h1.7v1.8h-1.7zM304.8 366.4h1.7v1.4h-1.7zM309.7 385.8h1.7v1.7h-1.7zM309.7 383.6h1.7v1.8h-1.7zM309.7 381.6h1.7v1.5h-1.7zM309.7 380.2h1.7v1.1h-1.7zM309.7 376h1.7v1.6h-1.7zM309.7 371.7h1.7v1.2h-1.7zM309.7 370h1.7v1.3h-1.7zM314.6 385.9h1.7v1.6h-1.7zM314.6 383.7h1.7v1.6h-1.7zM314.6 367.4h1.7v1.7h-1.7zM319.6 384.1h1.7v1.8h-1.7zM319.6 376.8h1.7v1.1h-1.7zM319.6 367.5h1.7v1.6h-1.7zM319.6 366.3h1.7v0.8h-1.7zM324.5 383h1.7v1.2h-1.7zM324.5 371.6h1.7v1.4h-1.7zM324.5 369.9h1.7v1.4h-1.7zM324.5 367.8h1.7v1.7h-1.7zM329.4 381.8h1.7v1.3h-1.7zM329.4 375.6h1.7v1.1h-1.7zM329.4 367.4h1.7v1.6h-1.7zM329.9 366.3h0.8v0.5h-0.8zM334.4 382.3h1.7v1.7h-1.7zM334.4 380.2h1.7v1.6h-1.7zM334.4 378.4h1.7v1.4h-1.7zM334.4 376.7h1.7v1.3h-1.7zM334.8 375.6h0.8v0.5h-0.8zM334.4 371.4h1.7v1.5h-1.7zM334.4 369.5h1.7v1.6h-1.7zM334.4 367.5h1.7v1.7h-1.7zM339.3 384.2h1.7v1.2h-1.7zM339.3 382.4h1.7v1.3h-1.7zM339.3 380.4h1.7v1.6h-1.7zM339.3 366.3h1.7v1.3h-1.7z" fill="#555555" fill-opacity="0.71"/>
<line x1="133.3" y1="400.2" x2="340.5" y2="400.2" stroke="#3c3cd0" stroke-opacity="0.62" stroke-width="1"/>
<line x1="133.3" y1="427.2" x2="340.5" y2="427.2" stroke="#e02a40" stroke-opacity="0.78" stroke-width="1.0"/>
<line x1="133.3" y1="414.1" x2="340.49" y2="414.1" stroke="#4a5470" stroke-width="0.55" stroke-dasharray="1.1 1.3"/>
<path d="M133.3 425.7V433.9M131.8 425.7h3M131.8 433.9h3" stroke="#62626e" stroke-width="0.5" fill="none"/>
<rect x="131.3" y="412.1" width="4" height="4.2" fill="#a6d8f2" stroke="#6f8fb8" stroke-width="0.5"/>
<line x1="131.3" y1="414.1" x2="135.3" y2="414.1" stroke="#6f8fb8" stroke-width="0.45"/>
<path d="M132.6 413.55l1.4 1.1M134 413.55l-1.4 1.1" stroke="#e8e030" stroke-width="0.7"/>
<circle cx="133.3" cy="429.9" r="1.3" fill="#ff0c0c"/>
<path d="M138.23 431.8V440M136.73 431.8h3M136.73 440h3" stroke="#62626e" stroke-width="0.5" fill="none"/>
<rect x="136.23" y="413.1" width="4" height="2" fill="#a6d8f2" stroke="#6f8fb8" stroke-width="0.5"/>
<line x1="136.23" y1="414.1" x2="140.23" y2="414.1" stroke="#6f8fb8" stroke-width="0.45"/>
<path d="M137.53 413.55l1.4 1.1M138.93 413.55l-1.4 1.1" stroke="#e8e030" stroke-width="0.7"/>
<circle cx="138.23" cy="436" r="1.3" fill="#ff0c0c"/>
<path d="M143.17 433.1V441.3M141.67 433.1h3M141.67 441.3h3" stroke="#62626e" stroke-width="0.5" fill="none"/>
<rect x="141.17" y="412.6" width="4" height="3.2" fill="#a6d8f2" stroke="#6f8fb8" stroke-width="0.5"/>
<line x1="141.17" y1="414.1" x2="145.17" y2="414.1" stroke="#6f8fb8" stroke-width="0.45"/>
<path d="M142.47 413.55l1.4 1.1M143.87 413.55l-1.4 1.1" stroke="#e8e030" stroke-width="0.7"/>
<circle cx="143.17" cy="437.3" r="1.3" fill="#ff0c0c"/>
<path d="M148.1 429.3V437.5M146.6 429.3h3M146.6 437.5h3" stroke="#62626e" stroke-width="0.5" fill="none"/>
<rect x="146.1" y="413.1" width="4" height="2" fill="#a6d8f2" stroke="#6f8fb8" stroke-width="0.5"/>
<line x1="146.1" y1="414.1" x2="150.1" y2="414.1" stroke="#6f8fb8" stroke-width="0.45"/>
<path d="M147.4 413.55l1.4 1.1M148.8 413.55l-1.4 1.1" stroke="#e8e030" stroke-width="0.7"/>
<circle cx="148.1" cy="433.5" r="1.3" fill="#ff0c0c"/>
<path d="M153.03 426.8V435M151.53 426.8h3M151.53 435h3" stroke="#62626e" stroke-width="0.5" fill="none"/>
<rect x="151.03" y="412.1" width="4" height="4.2" fill="#a6d8f2" stroke="#6f8fb8" stroke-width="0.5"/>
<line x1="151.03" y1="414.1" x2="155.03" y2="414.1" stroke="#6f8fb8" stroke-width="0.45"/>
<path d="M152.33 413.55l1.4 1.1M153.73 413.55l-1.4 1.1" stroke="#e8e030" stroke-width="0.7"/>
<circle cx="153.03" cy="431" r="1.3" fill="#ff0c0c"/>
<path d="M157.97 426.8V435M156.47 426.8h3M156.47 435h3" stroke="#62626e" stroke-width="0.5" fill="none"/>
<rect x="155.97" y="413.1" width="4" height="2" fill="#a6d8f2" stroke="#6f8fb8" stroke-width="0.5"/>
<line x1="155.97" y1="414.1" x2="159.97" y2="414.1" stroke="#6f8fb8" stroke-width="0.45"/>
<path d="M157.27 413.55l1.4 1.1M158.66 413.55l-1.4 1.1" stroke="#e8e030" stroke-width="0.7"/>
<circle cx="157.97" cy="431" r="1.3" fill="#ff0c0c"/>
<path d="M162.9 429V437.2M161.4 429h3M161.4 437.2h3" stroke="#62626e" stroke-width="0.5" fill="none"/>
<rect x="160.9" y="412.1" width="4" height="4.2" fill="#a6d8f2" stroke="#6f8fb8" stroke-width="0.5"/>
<line x1="160.9" y1="414.1" x2="164.9" y2="414.1" stroke="#6f8fb8" stroke-width="0.45"/>
<path d="M162.2 413.55l1.4 1.1M163.6 413.55l-1.4 1.1" stroke="#e8e030" stroke-width="0.7"/>
<circle cx="162.9" cy="433.2" r="1.3" fill="#ff0c0c"/>
<path d="M167.83 427.5V435.7M166.33 427.5h3M166.33 435.7h3" stroke="#62626e" stroke-width="0.5" fill="none"/>
<rect x="165.83" y="412.6" width="4" height="3.2" fill="#a6d8f2" stroke="#6f8fb8" stroke-width="0.5"/>
<line x1="165.83" y1="414.1" x2="169.83" y2="414.1" stroke="#6f8fb8" stroke-width="0.45"/>
<path d="M167.13 413.55l1.4 1.1M168.53 413.55l-1.4 1.1" stroke="#e8e030" stroke-width="0.7"/>
<circle cx="167.83" cy="431.7" r="1.3" fill="#ff0c0c"/>
<path d="M172.76 424.2V432.4M171.26 424.2h3M171.26 432.4h3" stroke="#62626e" stroke-width="0.5" fill="none"/>
<rect x="170.76" y="411.2" width="4" height="5.7" fill="#a6d8f2" stroke="#6f8fb8" stroke-width="0.5"/>
<line x1="170.76" y1="414.1" x2="174.76" y2="414.1" stroke="#6f8fb8" stroke-width="0.45"/>
<path d="M172.06 413.55l1.4 1.1M173.46 413.55l-1.4 1.1" stroke="#e8e030" stroke-width="0.7"/>
<circle cx="172.76" cy="428.4" r="1.3" fill="#ff0c0c"/>
<path d="M177.7 426.8V435M176.2 426.8h3M176.2 435h3" stroke="#62626e" stroke-width="0.5" fill="none"/>
<path d="M177 413.55l1.4 1.1M178.4 413.55l-1.4 1.1" stroke="#e8e030" stroke-width="0.7"/>
<circle cx="177.7" cy="431" r="1.3" fill="#ff0c0c"/>
<path d="M182.63 426.5V434.7M181.13 426.5h3M181.13 434.7h3" stroke="#62626e" stroke-width="0.5" fill="none"/>
<path d="M181.93 413.55l1.4 1.1M183.33 413.55l-1.4 1.1" stroke="#e8e030" stroke-width="0.7"/>
<circle cx="182.63" cy="430.7" r="1.3" fill="#ff0c0c"/>
<path d="M187.56 432.6V440.8M186.06 432.6h3M186.06 440.8h3" stroke="#62626e" stroke-width="0.5" fill="none"/>
<rect x="185.56" y="412.1" width="4" height="4.2" fill="#a6d8f2" stroke="#6f8fb8" stroke-width="0.5"/>
<line x1="185.56" y1="414.1" x2="189.56" y2="414.1" stroke="#6f8fb8" stroke-width="0.45"/>
<path d="M186.86 413.55l1.4 1.1M188.26 413.55l-1.4 1.1" stroke="#e8e030" stroke-width="0.7"/>
<circle cx="187.56" cy="436.8" r="1.3" fill="#ff0c0c"/>
<path d="M192.5 431.6V439.8M191 431.6h3M191 439.8h3" stroke="#62626e" stroke-width="0.5" fill="none"/>
<path d="M191.8 413.55l1.4 1.1M193.2 413.55l-1.4 1.1" stroke="#e8e030" stroke-width="0.7"/>
<circle cx="192.5" cy="435.8" r="1.3" fill="#ff0c0c"/>
<path d="M197.43 427.7V435.9M195.93 427.7h3M195.93 435.9h3" stroke="#62626e" stroke-width="0.5" fill="none"/>
<rect x="195.43" y="412.1" width="4" height="4.2" fill="#a6d8f2" stroke="#6f8fb8" stroke-width="0.5"/>
<line x1="195.43" y1="414.1" x2="199.43" y2="414.1" stroke="#6f8fb8" stroke-width="0.45"/>
<path d="M196.73 413.55l1.4 1.1M198.13 413.55l-1.4 1.1" stroke="#e8e030" stroke-width="0.7"/>
<circle cx="197.43" cy="431.9" r="1.3" fill="#ff0c0c"/>
<path d="M202.36 425.9V434.1M200.86 425.9h3M200.86 434.1h3" stroke="#62626e" stroke-width="0.5" fill="none"/>
<rect x="200.36" y="412.6" width="4" height="3.2" fill="#a6d8f2" stroke="#6f8fb8" stroke-width="0.5"/>
<line x1="200.36" y1="414.1" x2="204.36" y2="414.1" stroke="#6f8fb8" stroke-width="0.45"/>
<path d="M201.66 413.55l1.4 1.1M203.06 413.55l-1.4 1.1" stroke="#e8e030" stroke-width="0.7"/>
<circle cx="202.36" cy="430.1" r="1.3" fill="#ff0c0c"/>
<path d="M207.3 431.6V439.8M205.8 431.6h3M205.8 439.8h3" stroke="#62626e" stroke-width="0.5" fill="none"/>
<path d="M206.6 413.55l1.4 1.1M208 413.55l-1.4 1.1" stroke="#e8e030" stroke-width="0.7"/>
<circle cx="207.3" cy="435.8" r="1.3" fill="#ff0c0c"/>
<path d="M212.23 430V438.2M210.73 430h3M210.73 438.2h3" stroke="#62626e" stroke-width="0.5" fill="none"/>
<path d="M211.53 413.55l1.4 1.1M212.93 413.55l-1.4 1.1" stroke="#e8e030" stroke-width="0.7"/>
<circle cx="212.23" cy="434.2" r="1.3" fill="#ff0c0c"/>
<path d="M217.16 427.7V435.9M215.66 427.7h3M215.66 435.9h3" stroke="#62626e" stroke-width="0.5" fill="none"/>
<rect x="215.16" y="412.1" width="4" height="4.2" fill="#a6d8f2" stroke="#6f8fb8" stroke-width="0.5"/>
<line x1="215.16" y1="414.1" x2="219.16" y2="414.1" stroke="#6f8fb8" stroke-width="0.45"/>
<path d="M216.46 413.55l1.4 1.1M217.86 413.55l-1.4 1.1" stroke="#e8e030" stroke-width="0.7"/>
<circle cx="217.16" cy="431.9" r="1.3" fill="#ff0c0c"/>
<path d="M222.09 424.2V432.4M220.59 424.2h3M220.59 432.4h3" stroke="#62626e" stroke-width="0.5" fill="none"/>
<rect x="220.09" y="412.6" width="4" height="3.2" fill="#a6d8f2" stroke="#6f8fb8" stroke-width="0.5"/>
<line x1="220.09" y1="414.1" x2="224.09" y2="414.1" stroke="#6f8fb8" stroke-width="0.45"/>
<path d="M221.39 413.55l1.4 1.1M222.79 413.55l-1.4 1.1" stroke="#e8e030" stroke-width="0.7"/>
<circle cx="222.09" cy="428.4" r="1.3" fill="#ff0c0c"/>
<path d="M227.03 430.5V438.7M225.53 430.5h3M225.53 438.7h3" stroke="#62626e" stroke-width="0.5" fill="none"/>
<path d="M226.33 413.55l1.4 1.1M227.73 413.55l-1.4 1.1" stroke="#e8e030" stroke-width="0.7"/>
<circle cx="227.03" cy="434.7" r="1.3" fill="#ff0c0c"/>
<path d="M231.96 426.4V434.6M230.46 426.4h3M230.46 434.6h3" stroke="#62626e" stroke-width="0.5" fill="none"/>
<rect x="229.96" y="412.6" width="4" height="3.2" fill="#a6d8f2" stroke="#6f8fb8" stroke-width="0.5"/>
<line x1="229.96" y1="414.1" x2="233.96" y2="414.1" stroke="#6f8fb8" stroke-width="0.45"/>
<path d="M231.26 413.55l1.4 1.1M232.66 413.55l-1.4 1.1" stroke="#e8e030" stroke-width="0.7"/>
<circle cx="231.96" cy="430.6" r="1.3" fill="#ff0c0c"/>
<path d="M236.89 429.7V437.9M235.39 429.7h3M235.39 437.9h3" stroke="#62626e" stroke-width="0.5" fill="none"/>
<path d="M236.19 413.55l1.4 1.1M237.59 413.55l-1.4 1.1" stroke="#e8e030" stroke-width="0.7"/>
<circle cx="236.89" cy="433.9" r="1.3" fill="#ff0c0c"/>
<path d="M241.83 425.7V433.9M240.33 425.7h3M240.33 433.9h3" stroke="#62626e" stroke-width="0.5" fill="none"/>
<rect x="239.83" y="412.6" width="4" height="3.2" fill="#a6d8f2" stroke="#6f8fb8" stroke-width="0.5"/>
<line x1="239.83" y1="414.1" x2="243.83" y2="414.1" stroke="#6f8fb8" stroke-width="0.45"/>
<path d="M241.13 413.55l1.4 1.1M242.53 413.55l-1.4 1.1" stroke="#e8e030" stroke-width="0.7"/>
<circle cx="241.83" cy="429.9" r="1.3" fill="#ff0c0c"/>
<path d="M246.76 432V440.2M245.26 432h3M245.26 440.2h3" stroke="#62626e" stroke-width="0.5" fill="none"/>
<path d="M246.06 413.55l1.4 1.1M247.46 413.55l-1.4 1.1" stroke="#e8e030" stroke-width="0.7"/>
<circle cx="246.76" cy="436.2" r="1.3" fill="#ff0c0c"/>
<path d="M251.69 430.6V438.8M250.19 430.6h3M250.19 438.8h3" stroke="#62626e" stroke-width="0.5" fill="none"/>
<rect x="249.69" y="412.6" width="4" height="3.2" fill="#a6d8f2" stroke="#6f8fb8" stroke-width="0.5"/>
<line x1="249.69" y1="414.1" x2="253.69" y2="414.1" stroke="#6f8fb8" stroke-width="0.45"/>
<path d="M250.99 413.55l1.4 1.1M252.39 413.55l-1.4 1.1" stroke="#e8e030" stroke-width="0.7"/>
<circle cx="251.69" cy="434.8" r="1.3" fill="#ff0c0c"/>
<path d="M256.62 430.6V438.8M255.12 430.6h3M255.12 438.8h3" stroke="#62626e" stroke-width="0.5" fill="none"/>
<path d="M255.93 413.55l1.4 1.1M257.32 413.55l-1.4 1.1" stroke="#e8e030" stroke-width="0.7"/>
<circle cx="256.62" cy="434.8" r="1.3" fill="#ff0c0c"/>
<path d="M261.56 427.2V435.4M260.06 427.2h3M260.06 435.4h3" stroke="#62626e" stroke-width="0.5" fill="none"/>
<rect x="259.56" y="412.6" width="4" height="3.2" fill="#a6d8f2" stroke="#6f8fb8" stroke-width="0.5"/>
<line x1="259.56" y1="414.1" x2="263.56" y2="414.1" stroke="#6f8fb8" stroke-width="0.45"/>
<path d="M260.86 413.55l1.4 1.1M262.26 413.55l-1.4 1.1" stroke="#e8e030" stroke-width="0.7"/>
<circle cx="261.56" cy="431.4" r="1.3" fill="#ff0c0c"/>
<path d="M266.49 424.8V433M264.99 424.8h3M264.99 433h3" stroke="#62626e" stroke-width="0.5" fill="none"/>
<rect x="264.49" y="413.1" width="4" height="2" fill="#a6d8f2" stroke="#6f8fb8" stroke-width="0.5"/>
<line x1="264.49" y1="414.1" x2="268.49" y2="414.1" stroke="#6f8fb8" stroke-width="0.45"/>
<path d="M265.79 413.55l1.4 1.1M267.19 413.55l-1.4 1.1" stroke="#e8e030" stroke-width="0.7"/>
<circle cx="266.49" cy="429" r="1.3" fill="#ff0c0c"/>
<path d="M271.42 428.2V436.4M269.92 428.2h3M269.92 436.4h3" stroke="#62626e" stroke-width="0.5" fill="none"/>
<rect x="269.42" y="412.6" width="4" height="3.2" fill="#a6d8f2" stroke="#6f8fb8" stroke-width="0.5"/>
<line x1="269.42" y1="414.1" x2="273.42" y2="414.1" stroke="#6f8fb8" stroke-width="0.45"/>
<path d="M270.72 413.55l1.4 1.1M272.12 413.55l-1.4 1.1" stroke="#e8e030" stroke-width="0.7"/>
<circle cx="271.42" cy="432.4" r="1.3" fill="#ff0c0c"/>
<path d="M276.36 422.3V430.5M274.86 422.3h3M274.86 430.5h3" stroke="#62626e" stroke-width="0.5" fill="none"/>
<rect x="274.36" y="413.1" width="4" height="2" fill="#a6d8f2" stroke="#6f8fb8" stroke-width="0.5"/>
<line x1="274.36" y1="414.1" x2="278.36" y2="414.1" stroke="#6f8fb8" stroke-width="0.45"/>
<path d="M275.66 413.55l1.4 1.1M277.06 413.55l-1.4 1.1" stroke="#e8e030" stroke-width="0.7"/>
<circle cx="276.36" cy="426.5" r="1.1" fill="#a83cc8"/>
<path d="M281.29 429.7V437.9M279.79 429.7h3M279.79 437.9h3" stroke="#62626e" stroke-width="0.5" fill="none"/>
<rect x="279.29" y="412.6" width="4" height="3.2" fill="#a6d8f2" stroke="#6f8fb8" stroke-width="0.5"/>
<line x1="279.29" y1="414.1" x2="283.29" y2="414.1" stroke="#6f8fb8" stroke-width="0.45"/>
<path d="M280.59 413.55l1.4 1.1M281.99 413.55l-1.4 1.1" stroke="#e8e030" stroke-width="0.7"/>
<circle cx="281.29" cy="433.9" r="1.3" fill="#ff0c0c"/>
<path d="M286.22 429.7V437.9M284.72 429.7h3M284.72 437.9h3" stroke="#62626e" stroke-width="0.5" fill="none"/>
<rect x="284.22" y="413.1" width="4" height="2" fill="#a6d8f2" stroke="#6f8fb8" stroke-width="0.5"/>
<line x1="284.22" y1="414.1" x2="288.22" y2="414.1" stroke="#6f8fb8" stroke-width="0.45"/>
<path d="M285.52 413.55l1.4 1.1M286.92 413.55l-1.4 1.1" stroke="#e8e030" stroke-width="0.7"/>
<circle cx="286.22" cy="433.9" r="1.3" fill="#ff0c0c"/>
<path d="M291.16 419.8V428M289.66 419.8h3M289.66 428h3" stroke="#62626e" stroke-width="0.5" fill="none"/>
<rect x="289.16" y="411.2" width="4" height="5.7" fill="#a6d8f2" stroke="#6f8fb8" stroke-width="0.5"/>
<line x1="289.16" y1="414.1" x2="293.16" y2="414.1" stroke="#6f8fb8" stroke-width="0.45"/>
<path d="M290.46 413.55l1.4 1.1M291.86 413.55l-1.4 1.1" stroke="#e8e030" stroke-width="0.7"/>
<circle cx="291.16" cy="424" r="1.1" fill="#a83cc8"/>
<path d="M296.09 412V420.8M294.59 412h3M294.59 420.8h3" stroke="#62626e" stroke-width="0.5" fill="none"/>
<rect x="294.09" y="412.5" width="4" height="4" fill="#5cc65c" stroke="#3a8e3a" stroke-width="0.5"/>
<line x1="294.09" y1="414.1" x2="298.09" y2="414.1" stroke="#3a8e3a" stroke-width="0.45"/>
<path d="M295.39 413.55l1.4 1.1M296.79 413.55l-1.4 1.1" stroke="#e8e030" stroke-width="0.7"/>
<circle cx="296.09" cy="415.8" r="1.25" fill="#1e0000"/><circle cx="296.09" cy="415.8" r="0.45" fill="#7a1010"/>
<path d="M301.02 404.6V417M299.52 404.6h3M299.52 417h3" stroke="#62626e" stroke-width="0.5" fill="none"/>
<rect x="299.02" y="413.1" width="4" height="2" fill="#5cc65c" stroke="#3a8e3a" stroke-width="0.5"/>
<line x1="299.02" y1="414.1" x2="303.02" y2="414.1" stroke="#3a8e3a" stroke-width="0.45"/>
<path d="M300.32 413.55l1.4 1.1M301.72 413.55l-1.4 1.1" stroke="#e8e030" stroke-width="0.7"/>
<circle cx="301.02" cy="411.6" r="1.25" fill="#1e0000"/><circle cx="301.02" cy="411.6" r="0.45" fill="#7a1010"/>
<path d="M305.96 428V435M304.46 428h3M304.46 435h3" stroke="#62626e" stroke-width="0.5" fill="none"/>
<rect x="303.96" y="413.1" width="4" height="2" fill="#5cc65c" stroke="#3a8e3a" stroke-width="0.5"/>
<line x1="303.96" y1="414.1" x2="307.96" y2="414.1" stroke="#3a8e3a" stroke-width="0.45"/>
<path d="M305.26 413.55l1.4 1.1M306.66 413.55l-1.4 1.1" stroke="#e8e030" stroke-width="0.7"/>
<circle cx="305.96" cy="431.4" r="1.3" fill="#ff0c0c"/>
<path d="M310.89 394.7V410.8M309.39 394.7h3M309.39 410.8h3" stroke="#62626e" stroke-width="0.5" fill="none"/>
<rect x="308.89" y="412.1" width="4" height="3.9" fill="#5cc65c" stroke="#3a8e3a" stroke-width="0.5"/>
<line x1="308.89" y1="414.1" x2="312.89" y2="414.1" stroke="#3a8e3a" stroke-width="0.45"/>
<path d="M310.19 413.55l1.4 1.1M311.59 413.55l-1.4 1.1" stroke="#e8e030" stroke-width="0.7"/>
<circle cx="310.89" cy="402.6" r="1.1" fill="#a83cc8"/>
<path d="M315.82 407V419.5M314.32 407h3M314.32 419.5h3" stroke="#62626e" stroke-width="0.5" fill="none"/>
<rect x="313.82" y="411.6" width="4" height="5" fill="#5cc65c" stroke="#3a8e3a" stroke-width="0.5"/>
<line x1="313.82" y1="414.1" x2="317.82" y2="414.1" stroke="#3a8e3a" stroke-width="0.45"/>
<path d="M315.12 413.55l1.4 1.1M316.52 413.55l-1.4 1.1" stroke="#e8e030" stroke-width="0.7"/>
<circle cx="315.82" cy="414" r="1.25" fill="#1e0000"/><circle cx="315.82" cy="414" r="0.45" fill="#7a1010"/>
<path d="M320.75 407V419.5M319.25 407h3M319.25 419.5h3" stroke="#62626e" stroke-width="0.5" fill="none"/>
<rect x="318.75" y="413.1" width="4" height="2" fill="#5cc65c" stroke="#3a8e3a" stroke-width="0.5"/>
<line x1="318.75" y1="414.1" x2="322.75" y2="414.1" stroke="#3a8e3a" stroke-width="0.45"/>
<path d="M320.05 413.55l1.4 1.1M321.45 413.55l-1.4 1.1" stroke="#e8e030" stroke-width="0.7"/>
<circle cx="320.75" cy="413.3" r="1.25" fill="#1e0000"/><circle cx="320.75" cy="413.3" r="0.45" fill="#7a1010"/>
<path d="M325.69 407V419.5M324.19 407h3M324.19 419.5h3" stroke="#62626e" stroke-width="0.5" fill="none"/>
<rect x="323.69" y="413.1" width="4" height="2" fill="#5cc65c" stroke="#3a8e3a" stroke-width="0.5"/>
<line x1="323.69" y1="414.1" x2="327.69" y2="414.1" stroke="#3a8e3a" stroke-width="0.45"/>
<path d="M324.99 413.55l1.4 1.1M326.39 413.55l-1.4 1.1" stroke="#e8e030" stroke-width="0.7"/>
<circle cx="325.69" cy="414" r="1.25" fill="#1e0000"/><circle cx="325.69" cy="414" r="0.45" fill="#7a1010"/>
<path d="M330.62 405V419.5M329.12 405h3M329.12 419.5h3" stroke="#62626e" stroke-width="0.5" fill="none"/>
<rect x="328.62" y="413.1" width="4" height="2" fill="#5cc65c" stroke="#3a8e3a" stroke-width="0.5"/>
<line x1="328.62" y1="414.1" x2="332.62" y2="414.1" stroke="#3a8e3a" stroke-width="0.45"/>
<path d="M329.92 413.55l1.4 1.1M331.32 413.55l-1.4 1.1" stroke="#e8e030" stroke-width="0.7"/>
<circle cx="330.62" cy="412.1" r="1.25" fill="#1e0000"/><circle cx="330.62" cy="412.1" r="0.45" fill="#7a1010"/>
<path d="M335.55 430V437M334.05 430h3M334.05 437h3" stroke="#62626e" stroke-width="0.5" fill="none"/>
<rect x="333.55" y="412.1" width="4" height="4.5" fill="#5cc65c" stroke="#3a8e3a" stroke-width="0.5"/>
<line x1="333.55" y1="414.1" x2="337.55" y2="414.1" stroke="#3a8e3a" stroke-width="0.45"/>
<path d="M334.85 413.55l1.4 1.1M336.25 413.55l-1.4 1.1" stroke="#e8e030" stroke-width="0.7"/>
<circle cx="335.55" cy="433.2" r="1.3" fill="#ff0c0c"/>
<path d="M340.49 412V422M338.99 412h3M338.99 422h3" stroke="#62626e" stroke-width="0.5" fill="none"/>
<rect x="338.49" y="413.1" width="4" height="2" fill="#5cc65c" stroke="#3a8e3a" stroke-width="0.5"/>
<line x1="338.49" y1="414.1" x2="342.49" y2="414.1" stroke="#3a8e3a" stroke-width="0.45"/>
<path d="M339.79 413.55l1.4 1.1M341.19 413.55l-1.4 1.1" stroke="#e8e030" stroke-width="0.7"/>
<circle cx="340.49" cy="417.5" r="1.25" fill="#1e0000"/><circle cx="340.49" cy="417.5" r="0.45" fill="#7a1010"/>
<rect x="472.2" y="352.2" width="8.6" height="106.1" fill="#f4f4f4"/>
<rect x="482.8" y="352.8" width="152.3" height="104" fill="#a6a8fa"/>
<rect x="635.1" y="352.8" width="45.7" height="104" fill="#d3d3d3"/>
<line x1="480.2" y1="352.8" x2="480.2" y2="457.6" stroke="#e6aaaa" stroke-width="0.7"/>
<line x1="480.2" y1="457.3" x2="680.8" y2="457.3" stroke="#e8a8a8" stroke-width="0.7"/>
<line x1="478.6" y1="456.8" x2="480.2" y2="456.8" stroke="#777" stroke-width="0.5"/>
<text x="478.2" y="457.9" font-size="3.2" fill="#666" text-anchor="end">0</text>
<line x1="478.6" y1="431.3" x2="480.2" y2="431.3" stroke="#777" stroke-width="0.5"/>
<text x="478.2" y="432.4" font-size="3.2" fill="#666" text-anchor="end">0.5</text>
<line x1="478.6" y1="405.8" x2="480.2" y2="405.8" stroke="#777" stroke-width="0.5"/>
<text x="478.2" y="406.9" font-size="3.2" fill="#666" text-anchor="end">1</text>
<line x1="478.6" y1="380.3" x2="480.2" y2="380.3" stroke="#777" stroke-width="0.5"/>
<text x="478.2" y="381.4" font-size="3.2" fill="#666" text-anchor="end">1.5</text>
<line x1="478.6" y1="354.8" x2="480.2" y2="354.8" stroke="#777" stroke-width="0.5"/>
<text x="478.2" y="355.9" font-size="3.2" fill="#666" text-anchor="end">2</text>
<line x1="484.9" y1="457.3" x2="484.9" y2="458.6" stroke="#666" stroke-width="0.5"/>
<line x1="489.52" y1="457.3" x2="489.52" y2="458.6" stroke="#666" stroke-width="0.5"/>
<line x1="494.14" y1="457.3" x2="494.14" y2="458.6" stroke="#666" stroke-width="0.5"/>
<line x1="498.76" y1="457.3" x2="498.76" y2="458.6" stroke="#666" stroke-width="0.5"/>
<line x1="503.38" y1="457.3" x2="503.38" y2="458.6" stroke="#666" stroke-width="0.5"/>
<line x1="508" y1="457.3" x2="508" y2="458.6" stroke="#666" stroke-width="0.5"/>
<line x1="512.63" y1="457.3" x2="512.63" y2="458.6" stroke="#666" stroke-width="0.5"/>
<line x1="517.25" y1="457.3" x2="517.25" y2="458.6" stroke="#666" stroke-width="0.5"/>
<line x1="521.87" y1="457.3" x2="521.87" y2="458.6" stroke="#666" stroke-width="0.5"/>
<line x1="526.49" y1="457.3" x2="526.49" y2="458.6" stroke="#666" stroke-width="0.5"/>
<line x1="531.11" y1="457.3" x2="531.11" y2="458.6" stroke="#666" stroke-width="0.5"/>
<line x1="535.73" y1="457.3" x2="535.73" y2="458.6" stroke="#666" stroke-width="0.5"/>
<line x1="540.35" y1="457.3" x2="540.35" y2="458.6" stroke="#666" stroke-width="0.5"/>
<line x1="544.97" y1="457.3" x2="544.97" y2="458.6" stroke="#666" stroke-width="0.5"/>
<line x1="549.59" y1="457.3" x2="549.59" y2="458.6" stroke="#666" stroke-width="0.5"/>
<line x1="554.22" y1="457.3" x2="554.22" y2="458.6" stroke="#666" stroke-width="0.5"/>
<line x1="558.84" y1="457.3" x2="558.84" y2="458.6" stroke="#666" stroke-width="0.5"/>
<line x1="563.46" y1="457.3" x2="563.46" y2="458.6" stroke="#666" stroke-width="0.5"/>
<line x1="568.08" y1="457.3" x2="568.08" y2="458.6" stroke="#666" stroke-width="0.5"/>
<line x1="572.7" y1="457.3" x2="572.7" y2="458.6" stroke="#666" stroke-width="0.5"/>
<line x1="577.32" y1="457.3" x2="577.32" y2="458.6" stroke="#666" stroke-width="0.5"/>
<line x1="581.94" y1="457.3" x2="581.94" y2="458.6" stroke="#666" stroke-width="0.5"/>
<line x1="586.56" y1="457.3" x2="586.56" y2="458.6" stroke="#666" stroke-width="0.5"/>
<line x1="591.18" y1="457.3" x2="591.18" y2="458.6" stroke="#666" stroke-width="0.5"/>
<line x1="595.8" y1="457.3" x2="595.8" y2="458.6" stroke="#666" stroke-width="0.5"/>
<line x1="600.42" y1="457.3" x2="600.42" y2="458.6" stroke="#666" stroke-width="0.5"/>
<line x1="605.05" y1="457.3" x2="605.05" y2="458.6" stroke="#666" stroke-width="0.5"/>
<line x1="609.67" y1="457.3" x2="609.67" y2="458.6" stroke="#666" stroke-width="0.5"/>
<line x1="614.29" y1="457.3" x2="614.29" y2="458.6" stroke="#666" stroke-width="0.5"/>
<line x1="618.91" y1="457.3" x2="618.91" y2="458.6" stroke="#666" stroke-width="0.5"/>
<line x1="623.53" y1="457.3" x2="623.53" y2="458.6" stroke="#666" stroke-width="0.5"/>
<line x1="628.15" y1="457.3" x2="628.15" y2="458.6" stroke="#666" stroke-width="0.5"/>
<line x1="632.77" y1="457.3" x2="632.77" y2="458.6" stroke="#666" stroke-width="0.5"/>
<line x1="637.39" y1="457.3" x2="637.39" y2="458.6" stroke="#666" stroke-width="0.5"/>
<line x1="642.01" y1="457.3" x2="642.01" y2="458.6" stroke="#666" stroke-width="0.5"/>
<line x1="646.63" y1="457.3" x2="646.63" y2="458.6" stroke="#666" stroke-width="0.5"/>
<line x1="651.26" y1="457.3" x2="651.26" y2="458.6" stroke="#666" stroke-width="0.5"/>
<line x1="655.88" y1="457.3" x2="655.88" y2="458.6" stroke="#666" stroke-width="0.5"/>
<line x1="660.5" y1="457.3" x2="660.5" y2="458.6" stroke="#666" stroke-width="0.5"/>
<line x1="665.12" y1="457.3" x2="665.12" y2="458.6" stroke="#666" stroke-width="0.5"/>
<line x1="669.74" y1="457.3" x2="669.74" y2="458.6" stroke="#666" stroke-width="0.5"/>
<line x1="674.36" y1="457.3" x2="674.36" y2="458.6" stroke="#666" stroke-width="0.5"/>
<line x1="678.98" y1="457.3" x2="678.98" y2="458.6" stroke="#666" stroke-width="0.5"/>
<path d="M483.7 382.1h1.7v1.7h-1.7zM483.7 378.4h1.7v1.5h-1.7zM483.7 366h1.7v1.5h-1.7zM483.7 364.6h1.7v1.1h-1.7zM488.3 375.5h1.7v1.7h-1.7zM492.9 382.5h1.7v1.3h-1.7zM492.9 375.5h1.7v1.5h-1.7zM492.9 371.8h1.7v1.8h-1.7zM492.9 364.3h1.7v1.2h-1.7zM492.9 360.4h1.7v1.8h-1.7zM497.6 378.8h1.7v1.4h-1.7zM497.6 372.5h1.7v1.7h-1.7zM498 370.4h0.8v0.4h-0.8zM497.6 359.9h1.7v1.5h-1.7zM502.2 382.4h1.7v1.4h-1.7zM502.2 378.8h1.7v1.6h-1.7zM502.2 377h1.7v1.5h-1.7zM502.2 371.6h1.7v1.3h-1.7zM506.8 380h1.7v1.4h-1.7zM506.8 378.6h1.7v1.2h-1.7zM506.8 372.7h1.7v1.7h-1.7zM511.4 382.1h1.7v1.7h-1.7zM511.4 378.1h1.7v1.4h-1.7zM511.4 374.1h1.7v1.5h-1.7zM516 376.8h1.7v1.1h-1.7zM516 374.8h1.7v1.4h-1.7zM516 373.2h1.7v1.3h-1.7zM516 365.9h1.7v1.8h-1.7zM520.7 382.2h1.7v1.6h-1.7zM520.7 370.4h1.7v1.8h-1.7zM525.3 382h1.7v1.8h-1.7zM525.3 379.9h1.7v1.8h-1.7zM525.3 376.3h1.7v1.4h-1.7zM525.3 373h1.7v1.6h-1.7zM525.7 370.4h0.8v0.6h-0.8zM529.9 377.7h1.7v1.7h-1.7zM529.9 375.7h1.7v1.8h-1.7zM529.9 374h1.7v1.4h-1.7zM529.9 372.2h1.7v1.3h-1.7zM534.5 382.5h1.7v1.3h-1.7zM534.5 378.6h1.7v1.4h-1.7zM534.5 371.4h1.7v1.9h-1.7zM539.2 382.1h1.7v1.7h-1.7zM539.2 380.6h1.7v1.1h-1.7zM539.2 373.6h1.7v1.7h-1.7zM539.2 366.6h1.7v1.1h-1.7zM543.8 374.8h1.7v1.4h-1.7zM544.2 359.9h0.8v0.6h-0.8zM548.4 382.6h1.7v1.2h-1.7zM553 382.2h1.7v1.6h-1.7zM553 366.3h1.7v1.4h-1.7zM553 361.7h1.7v1.4h-1.7zM557.6 380.5h1.7v1.5h-1.7zM557.6 378.2h1.7v1.9h-1.7zM557.6 364.9h1.7v1.4h-1.7zM557.6 363.3h1.7v1.2h-1.7zM562.3 382.1h1.7v1.7h-1.7zM562.3 376h1.7v1.9h-1.7zM562.3 373.8h1.7v1.6h-1.7zM562.3 371.9h1.7v1.6h-1.7zM562.3 365.9h1.7v1.8h-1.7zM562.3 364.5h1.7v1.2h-1.7zM562.3 359.9h1.7v0.9h-1.7zM566.9 378h1.7v1.8h-1.7zM571.5 376.7h1.7v1.4h-1.7zM571.5 365.1h1.7v1.2h-1.7zM571.5 363.5h1.7v1.3h-1.7zM571.5 361.4h1.7v1.6h-1.7zM576.1 380.7h1.7v1.3h-1.7zM576.1 364h1.7v1.4h-1.7zM576.1 362.2h1.7v1.6h-1.7zM580.7 382.2h1.7v1.6h-1.7zM580.7 380.8h1.7v1.2h-1.7zM580.7 378.8h1.7v1.6h-1.7zM580.7 373.4h1.7v1.7h-1.7zM581.2 370.4h0.8v0.6h-0.8zM580.7 364.3h1.7v1.3h-1.7zM580.7 360.7h1.7v1.1h-1.7zM585.4 380.1h1.7v1.7h-1.7zM585.4 370.4h1.7v1.5h-1.7zM585.4 364.7h1.7v1.7h-1.7zM590 375.7h1.7v1.8h-1.7zM590 370.4h1.7v1.1h-1.7zM590 366.2h1.7v1.5h-1.7zM594.6 378.9h1.7v1.4h-1.7zM594.6 376.8h1.7v1.8h-1.7zM594.6 374h1.7v1.2h-1.7zM594.6 365.9h1.7v1.8h-1.7zM599.2 376.2h1.7v1.4h-1.7zM599.2 370.9h1.7v1.1h-1.7zM599.2 366.2h1.7v1.5h-1.7zM603.8 380.7h1.7v1.2h-1.7zM603.8 377.7h1.7v1.2h-1.7zM603.8 371.7h1.7v1.5h-1.7zM603.8 364.3h1.7v1.6h-1.7zM608.5 370.9h1.7v1.5h-1.7zM608.5 360.7h1.7v1.7h-1.7zM608.9 359.9h0.8v0.5h-0.8zM613.1 379.1h1.7v1.3h-1.7zM613.1 366.5h1.7v1.2h-1.7zM613.1 361.3h1.7v1.1h-1.7zM613.1 359.9h1.7v1.1h-1.7zM617.7 378.2h1.7v1.5h-1.7zM617.7 366.1h1.7v1.6h-1.7zM618.2 359.9h0.8v0.4h-0.8zM622.3 377.4h1.7v1.2h-1.7zM622.3 375.4h1.7v1.7h-1.7zM622.3 373.2h1.7v1.7h-1.7zM622.3 370.4h1.7v1.1h-1.7zM627 371.2h1.7v1.2h-1.7zM627.4 370.4h0.8v0.4h-0.8zM627 364.5h1.7v1.2h-1.7zM627 363h1.7v1.1h-1.7zM631.6 380.4h1.7v1.4h-1.7zM631.6 374.7h1.7v1.1h-1.7zM631.6 370.7h1.7v1.7h-1.7z" fill="#2a2a62" fill-opacity="0.85"/>
<path d="M483.7 380.4h1.7v1.3h-1.7zM483.7 372.4h1.7v1.3h-1.7zM484.1 370.9h0.8v0.6h-0.8zM483.7 368.1h1.7v1.6h-1.7zM484.1 363.5h0.8v0.5h-0.8zM488.8 368.9h0.8v0.6h-0.8zM488.3 366.2h1.7v1.5h-1.7zM488.3 364.5h1.7v1.4h-1.7zM488.3 360.6h1.7v1.6h-1.7zM493.4 368.9h0.8v0.6h-0.8zM492.9 365.9h1.7v1.8h-1.7zM492.9 362.6h1.7v1.4h-1.7zM498 368.9h0.8v0.6h-0.8zM497.6 366.1h1.7v1.6h-1.7zM497.6 363.9h1.7v1.7h-1.7zM502.2 373.3h1.7v1.8h-1.7zM502.2 370.4h1.7v0.7h-1.7zM502.6 368.9h0.8v0.6h-0.8zM502.2 366.1h1.7v1.7h-1.7zM502.2 360.5h1.7v1.2h-1.7zM506.8 376.6h1.7v1.5h-1.7zM506.8 374.9h1.7v1.4h-1.7zM506.8 370.8h1.7v1.4h-1.7zM507.3 368.9h0.8v0.6h-0.8zM506.8 364.8h1.7v1.4h-1.7zM506.8 363.1h1.7v1.4h-1.7zM506.8 361.6h1.7v1.1h-1.7zM506.8 359.9h1.7v1.4h-1.7zM511.4 380.1h1.7v1.5h-1.7zM511.4 376.1h1.7v1.5h-1.7zM511.4 370.7h1.7v1.3h-1.7zM511.9 368.9h0.8v0.6h-0.8zM511.4 366.2h1.7v1.6h-1.7zM511.4 361.1h1.7v1.5h-1.7zM516 378.4h1.7v1.7h-1.7zM516.5 368.9h0.8v0.6h-0.8zM516 362.1h1.7v1.5h-1.7zM520.7 376.8h1.7v1.6h-1.7zM520.7 374.9h1.7v1.5h-1.7zM521.1 368.9h0.8v0.6h-0.8zM520.7 366.5h1.7v1.2h-1.7zM520.7 364.9h1.7v1.1h-1.7zM520.7 362.8h1.7v1.7h-1.7zM520.7 361.4h1.7v1.1h-1.7zM525.3 378h1.7v1.4h-1.7zM525.7 368.9h0.8v0.6h-0.8zM525.3 364h1.7v1.4h-1.7zM530.4 368.9h0.8v0.6h-0.8zM529.9 364.1h1.7v1.8h-1.7zM529.9 362.6h1.7v1.1h-1.7zM534.5 380.5h1.7v1.6h-1.7zM535 370.4h0.8v0.5h-0.8zM535 368.9h0.8v0.6h-0.8zM534.5 362.1h1.7v1.4h-1.7zM539.2 378.6h1.7v1.5h-1.7zM539.2 377.3h1.7v1.1h-1.7zM539.2 375.7h1.7v1.2h-1.7zM539.6 368.9h0.8v0.6h-0.8zM539.2 363h1.7v1.5h-1.7zM543.8 373.2h1.7v1.2h-1.7zM543.8 371.3h1.7v1.5h-1.7zM544.2 368.9h0.8v0.6h-0.8zM543.8 360.8h1.7v1.2h-1.7zM548.4 378.1h1.7v1.2h-1.7zM548.4 371.2h1.7v1.2h-1.7zM548.8 370.4h0.8v0.3h-0.8zM548.8 368.9h0.8v0.6h-0.8zM548.4 364.3h1.7v1.5h-1.7zM548.4 360.3h1.7v1.5h-1.7zM553 378.5h1.7v1.6h-1.7zM553 370.9h1.7v1.7h-1.7zM553.5 368.9h0.8v0.6h-0.8zM557.6 370.4h1.7v1.2h-1.7zM558.1 368.9h0.8v0.6h-0.8zM557.6 362h1.7v1h-1.7zM557.6 360h1.7v1.3h-1.7zM562.3 378.2h1.7v1.8h-1.7zM562.7 368.9h0.8v0.6h-0.8zM562.3 362.7h1.7v1.2h-1.7zM562.3 361.1h1.7v1.1h-1.7zM566.9 375.8h1.7v1.6h-1.7zM567.3 368.9h0.8v0.6h-0.8zM566.9 366.2h1.7v1.5h-1.7zM566.9 364.4h1.7v1.3h-1.7zM566.9 362.7h1.7v1.2h-1.7zM571.5 380.4h1.7v1.5h-1.7zM571.9 368.9h0.8v0.6h-0.8zM576.1 377.2h1.7v1.6h-1.7zM576.6 368.9h0.8v0.6h-0.8zM576.1 360.1h1.7v1.5h-1.7zM580.7 375.6h1.7v1.1h-1.7zM580.7 371.4h1.7v1.6h-1.7zM581.2 368.9h0.8v0.6h-0.8zM580.7 365.9h1.7v1.8h-1.7zM581.2 359.9h0.8v0.4h-0.8zM585.8 368.9h0.8v0.6h-0.8zM585.4 363h1.7v1.3h-1.7zM585.4 361.7h1.7v1.1h-1.7zM590.4 368.9h0.8v0.6h-0.8zM590 364.1h1.7v1.5h-1.7zM590 362.7h1.7v1.2h-1.7zM594.6 382.1h1.7v1.7h-1.7zM594.6 375.4h1.7v1.1h-1.7zM595.1 368.9h0.8v0.6h-0.8zM594.6 363.7h1.7v1.8h-1.7zM594.6 361.5h1.7v1.8h-1.7zM594.6 359.9h1.7v1.2h-1.7zM599.2 382.5h1.7v1.3h-1.7zM599.2 374.7h1.7v1.2h-1.7zM599.2 372.5h1.7v1.9h-1.7zM599.7 368.9h0.8v0.6h-0.8zM599.2 364.3h1.7v1.6h-1.7zM599.2 362.7h1.7v1h-1.7zM599.2 359.9h1.7v0.7h-1.7zM603.8 382.3h1.7v1.5h-1.7zM603.8 373.5h1.7v1.6h-1.7zM603.8 370.4h1.7v0.9h-1.7zM604.3 368.9h0.8v0.6h-0.8zM603.8 360.3h1.7v1.3h-1.7zM608.5 382h1.7v1.8h-1.7zM608.5 378.6h1.7v1.4h-1.7zM608.5 374.9h1.7v1.3h-1.7zM608.9 368.9h0.8v0.6h-0.8zM608.5 366.4h1.7v1.3h-1.7zM613.1 382.4h1.7v1.4h-1.7zM613.1 377.4h1.7v1.3h-1.7zM613.1 375.5h1.7v1.7h-1.7zM613.5 368.9h0.8v0.6h-0.8zM613.1 364.8h1.7v1.3h-1.7zM617.7 373h1.7v1.3h-1.7zM618.2 368.9h0.8v0.6h-0.8zM617.7 364.2h1.7v1.5h-1.7zM617.7 362.4h1.7v1.4h-1.7zM622.3 380.8h1.7v1.2h-1.7zM622.3 378.8h1.7v1.5h-1.7zM622.3 371.7h1.7v1.1h-1.7zM622.8 368.9h0.8v0.6h-0.8zM622.8 359.9h0.8v0.6h-0.8zM627 382.6h1.7v1.2h-1.7zM627 378.5h1.7v1.5h-1.7zM627 374.6h1.7v1.2h-1.7zM627 373h1.7v1.3h-1.7zM627.4 368.9h0.8v0.6h-0.8zM627 361.2h1.7v1.3h-1.7zM631.6 382.2h1.7v1.6h-1.7zM632 368.9h0.8v0.6h-0.8zM631.6 360.6h1.7v1.7h-1.7z" fill="#2a2a62" fill-opacity="0.57"/>
<path d="M483.7 376.4h1.7v1.7h-1.7zM483.7 374.2h1.7v1.7h-1.7zM488.3 381.9h1.7v1.9h-1.7zM488.3 380h1.7v1.6h-1.7zM488.3 377.6h1.7v1.8h-1.7zM488.3 373.9h1.7v1.1h-1.7zM488.3 372.1h1.7v1.3h-1.7zM488.3 370.4h1.7v1.4h-1.7zM488.3 362.5h1.7v1.7h-1.7zM488.8 359.9h0.8v0.3h-0.8zM492.9 380.8h1.7v1.2h-1.7zM492.9 379.1h1.7v1.2h-1.7zM492.9 377.4h1.7v1.2h-1.7zM492.9 373.9h1.7v1.2h-1.7zM492.9 370.4h1.7v1.1h-1.7zM497.6 382.3h1.7v1.5h-1.7zM497.6 380.6h1.7v1.4h-1.7zM497.6 376.4h1.7v1.8h-1.7zM497.6 374.6h1.7v1.4h-1.7zM497.6 371h1.7v1.1h-1.7zM497.6 361.8h1.7v1.8h-1.7zM502.2 380.7h1.7v1.3h-1.7zM502.2 375.6h1.7v1.1h-1.7zM502.2 364.1h1.7v1.4h-1.7zM502.2 362.3h1.7v1.4h-1.7zM506.8 382h1.7v1.8h-1.7zM506.8 366.6h1.7v1.1h-1.7zM511.4 372.5h1.7v1.3h-1.7zM511.4 364.9h1.7v1h-1.7zM511.4 363.1h1.7v1.5h-1.7zM511.4 359.9h1.7v0.9h-1.7zM516 382.6h1.7v1.2h-1.7zM516 380.6h1.7v1.8h-1.7zM516 371.2h1.7v1.5h-1.7zM516.5 370.4h0.8v0.5h-0.8zM516 364.1h1.7v1.3h-1.7zM516 360.5h1.7v1.2h-1.7zM520.7 380.7h1.7v1.1h-1.7zM520.7 378.8h1.7v1.5h-1.7zM520.7 372.6h1.7v1.9h-1.7zM520.7 359.9h1.7v1.1h-1.7zM525.3 374.9h1.7v1.1h-1.7zM525.3 371.3h1.7v1.2h-1.7zM525.3 366h1.7v1.8h-1.7zM525.3 361.8h1.7v1.7h-1.7zM525.3 359.9h1.7v1.3h-1.7zM529.9 382.2h1.7v1.6h-1.7zM529.9 379.9h1.7v1.8h-1.7zM529.9 370.7h1.7v1.2h-1.7zM529.9 366.2h1.7v1.5h-1.7zM529.9 361.3h1.7v1.1h-1.7zM529.9 359.9h1.7v1.1h-1.7zM534.5 376.7h1.7v1.6h-1.7zM534.5 375.2h1.7v1.1h-1.7zM534.5 373.5h1.7v1.2h-1.7zM534.5 366.2h1.7v1.6h-1.7zM534.5 363.9h1.7v1.7h-1.7zM534.5 359.9h1.7v1.7h-1.7zM539.2 371.6h1.7v1.7h-1.7zM539.2 370.4h1.7v0.9h-1.7zM539.2 364.9h1.7v1.3h-1.7zM539.2 361.2h1.7v1.5h-1.7zM539.2 359.9h1.7v0.8h-1.7zM543.8 382.5h1.7v1.3h-1.7zM543.8 380.6h1.7v1.3h-1.7zM543.8 378.4h1.7v1.9h-1.7zM543.8 376.6h1.7v1.2h-1.7zM544.2 370.4h0.8v0.6h-0.8zM543.8 366.4h1.7v1.3h-1.7zM543.8 364.3h1.7v1.6h-1.7zM543.8 362.5h1.7v1.4h-1.7zM548.4 381.1h1.7v1.2h-1.7zM548.4 379.6h1.7v1.2h-1.7zM548.4 376.5h1.7v1.3h-1.7zM548.4 374.5h1.7v1.7h-1.7zM548.4 372.7h1.7v1.4h-1.7zM548.4 366.3h1.7v1.5h-1.7zM548.4 362.2h1.7v1.6h-1.7zM553 380.5h1.7v1.3h-1.7zM553 376.8h1.7v1.2h-1.7zM553 375h1.7v1.3h-1.7zM553 373.2h1.7v1.4h-1.7zM553 365h1.7v1.1h-1.7zM553 363.7h1.7v1h-1.7zM553 360.3h1.7v1.1h-1.7zM557.6 382.4h1.7v1.4h-1.7zM557.6 376.1h1.7v1.7h-1.7zM557.6 374h1.7v1.6h-1.7zM557.6 371.9h1.7v1.8h-1.7zM557.6 366.7h1.7v1h-1.7zM562.3 380.6h1.7v1.3h-1.7zM562.3 370.4h1.7v1.1h-1.7zM566.9 382.2h1.7v1.6h-1.7zM566.9 380.3h1.7v1.5h-1.7zM566.9 374h1.7v1.3h-1.7zM566.9 372.5h1.7v1.1h-1.7zM566.9 370.9h1.7v1.3h-1.7zM566.9 360.7h1.7v1.5h-1.7zM567.3 359.9h0.8v0.3h-0.8zM571.5 382.5h1.7v1.3h-1.7zM571.5 378.4h1.7v1.5h-1.7zM571.5 375.2h1.7v1.1h-1.7zM571.5 372.9h1.7v1.8h-1.7zM571.5 370.9h1.7v1.7h-1.7zM571.5 366.6h1.7v1.1h-1.7zM571.5 359.9h1.7v0.9h-1.7zM576.1 382.6h1.7v1.2h-1.7zM576.1 379.1h1.7v1.3h-1.7zM576.1 375.3h1.7v1.6h-1.7zM576.1 373.9h1.7v1.2h-1.7zM576.1 372.1h1.7v1.5h-1.7zM576.1 370.4h1.7v1.2h-1.7zM576.1 366h1.7v1.7h-1.7zM580.7 377.2h1.7v1.1h-1.7zM580.7 362.3h1.7v1.7h-1.7zM585.4 382.1h1.7v1.7h-1.7zM585.4 377.9h1.7v1.8h-1.7zM585.4 375.6h1.7v1.8h-1.7zM585.4 374.1h1.7v1.2h-1.7zM585.4 372.4h1.7v1.2h-1.7zM585.4 366.7h1.7v1h-1.7zM585.4 359.9h1.7v1.2h-1.7zM590 382.2h1.7v1.6h-1.7zM590 380h1.7v1.7h-1.7zM590 377.8h1.7v1.8h-1.7zM590 373.9h1.7v1.6h-1.7zM590 371.9h1.7v1.6h-1.7zM590 360.7h1.7v1.5h-1.7zM590.4 359.9h0.8v0.5h-0.8zM594.6 380.6h1.7v1.2h-1.7zM594.6 372.2h1.7v1.2h-1.7zM594.6 370.6h1.7v1.3h-1.7zM599.2 380.1h1.7v1.9h-1.7zM599.2 378h1.7v1.7h-1.7zM599.2 360.9h1.7v1.4h-1.7zM603.8 379.1h1.7v1.3h-1.7zM603.8 375.6h1.7v1.6h-1.7zM603.8 366.3h1.7v1.4h-1.7zM603.8 362.1h1.7v1.6h-1.7zM608.5 380.5h1.7v1.2h-1.7zM608.5 376.5h1.7v1.6h-1.7zM608.5 372.8h1.7v1.8h-1.7zM608.5 364.8h1.7v1.2h-1.7zM608.5 362.9h1.7v1.6h-1.7zM613.1 380.7h1.7v1.3h-1.7zM613.1 373.6h1.7v1.5h-1.7zM613.1 371.5h1.7v1.8h-1.7zM613.1 370.4h1.7v0.8h-1.7zM613.1 362.7h1.7v1.6h-1.7zM617.7 382.3h1.7v1.5h-1.7zM617.7 380.3h1.7v1.6h-1.7zM617.7 376.7h1.7v1.2h-1.7zM617.7 374.7h1.7v1.4h-1.7zM617.7 371.4h1.7v1.2h-1.7zM618.2 370.4h0.8v0.6h-0.8zM617.7 360.6h1.7v1.5h-1.7zM622.3 382.3h1.7v1.5h-1.7zM622.3 366.7h1.7v1h-1.7zM622.3 364.9h1.7v1.2h-1.7zM622.3 363.1h1.7v1.3h-1.7zM622.3 360.8h1.7v1.8h-1.7zM627 380.4h1.7v1.8h-1.7zM627 376.4h1.7v1.8h-1.7zM627 366h1.7v1.7h-1.7zM627 359.9h1.7v0.8h-1.7zM631.6 378.2h1.7v1.8h-1.7zM631.6 376.1h1.7v1.6h-1.7zM631.6 372.8h1.7v1.6h-1.7zM631.6 366h1.7v1.7h-1.7zM631.6 364.4h1.7v1.2h-1.7zM631.6 362.6h1.7v1.4h-1.7z" fill="#2a2a62" fill-opacity="0.71"/>
<path d="M636.2 382.1h1.7v1.7h-1.7zM636.6 369.6h0.8v0.5h-0.8zM640.8 380.3h1.7v1.2h-1.7zM640.8 370.2h1.7v1.8h-1.7zM640.8 365.7h1.7v1.2h-1.7zM640.8 364.1h1.7v1.4h-1.7zM640.8 362.4h1.7v1.3h-1.7zM645.4 371.1h1.7v1.4h-1.7zM650.1 372.9h1.7v1.8h-1.7zM650.1 369.6h1.7v0.7h-1.7zM650.1 365.7h1.7v1.2h-1.7zM650.1 360.9h1.7v1.2h-1.7zM654.7 380.5h1.7v1.1h-1.7zM654.7 376.4h1.7v1.7h-1.7zM654.7 374.4h1.7v1.5h-1.7zM654.7 372.8h1.7v1.3h-1.7zM654.7 360.5h1.7v1.1h-1.7zM654.7 358.8h1.7v1.1h-1.7zM659.3 382.4h1.7v1.4h-1.7zM659.3 376.9h1.7v1.4h-1.7zM659.3 374.7h1.7v1.7h-1.7zM659.3 363.7h1.7v1.7h-1.7zM663.9 381.9h1.7v1.9h-1.7zM663.9 372.4h1.7v1.5h-1.7zM664.4 358.4h0.8v0.7h-0.8zM668.5 375.2h1.7v1.5h-1.7zM668.5 369.6h1.7v1.1h-1.7zM668.5 364.1h1.7v1.1h-1.7zM668.5 359.4h1.7v1h-1.7zM673.2 372.7h1.7v1.5h-1.7zM673.2 369.6h1.7v1h-1.7zM673.2 361.8h1.7v1.2h-1.7zM677.8 378.8h1.7v1.5h-1.7zM677.8 377.2h1.7v1.2h-1.7zM677.8 370h1.7v1.6h-1.7z" fill="#555555" fill-opacity="0.85"/>
<path d="M636.2 380.5h1.7v1.2h-1.7zM636.2 378.5h1.7v1.7h-1.7zM636.2 374.7h1.7v1.7h-1.7zM636.2 370.4h1.7v1.8h-1.7zM636.6 368.1h0.8v0.6h-0.8zM636.2 361h1.7v1.2h-1.7zM636.2 359.3h1.7v1.1h-1.7zM636.6 358.4h0.8v0.5h-0.8zM640.8 374.6h1.7v1.5h-1.7zM640.8 372.3h1.7v1.8h-1.7zM641.3 368.1h0.8v0.6h-0.8zM640.8 360.9h1.7v1.1h-1.7zM645.4 382.2h1.7v1.6h-1.7zM645.4 380.3h1.7v1.5h-1.7zM645.4 378.2h1.7v1.7h-1.7zM645.4 374.9h1.7v1.3h-1.7zM645.4 372.9h1.7v1.6h-1.7zM645.4 369.7h1.7v1.2h-1.7zM645.9 368.1h0.8v0.6h-0.8zM645.4 363.1h1.7v1.8h-1.7zM645.4 361.3h1.7v1.5h-1.7zM645.4 358.4h1.7v1h-1.7zM650.1 381.9h1.7v1.9h-1.7zM650.1 376.6h1.7v1.8h-1.7zM650.1 370.8h1.7v1.6h-1.7zM650.5 368.1h0.8v0.6h-0.8zM650.1 363.8h1.7v1.4h-1.7zM650.1 362.4h1.7v1.1h-1.7zM654.7 370.7h1.7v1.7h-1.7zM655.1 368.1h0.8v0.6h-0.8zM654.7 365.1h1.7v1.8h-1.7zM654.7 361.9h1.7v1.3h-1.7zM659.3 370.5h1.7v1.3h-1.7zM659.7 368.1h0.8v0.6h-0.8zM659.3 358.5h1.7v1.7h-1.7zM663.9 370.5h1.7v1.4h-1.7zM664.4 368.1h0.8v0.6h-0.8zM668.5 382.5h1.7v1.3h-1.7zM668.5 379.2h1.7v1.2h-1.7zM668.5 377.1h1.7v1.7h-1.7zM669 368.1h0.8v0.6h-0.8zM668.5 365.5h1.7v1.3h-1.7zM668.5 360.8h1.7v1.3h-1.7zM673.2 382.3h1.7v1.5h-1.7zM673.2 376.8h1.7v1.5h-1.7zM673.2 371.1h1.7v1.3h-1.7zM673.6 368.1h0.8v0.6h-0.8zM673.2 360.1h1.7v1.1h-1.7zM673.2 358.5h1.7v1.1h-1.7zM677.8 382h1.7v1.8h-1.7zM677.8 375.4h1.7v1.3h-1.7zM677.8 373.6h1.7v1.5h-1.7zM678.2 368.1h0.8v0.6h-0.8zM677.8 360.4h1.7v1.7h-1.7zM677.8 358.8h1.7v1.3h-1.7z" fill="#555555" fill-opacity="0.57"/>
<path d="M636.2 376.9h1.7v1.3h-1.7zM636.2 372.7h1.7v1.6h-1.7zM636.2 365.7h1.7v1.2h-1.7zM636.2 364.1h1.7v1.2h-1.7zM636.2 362.6h1.7v1h-1.7zM640.8 382h1.7v1.8h-1.7zM640.8 378.7h1.7v1.3h-1.7zM640.8 376.4h1.7v1.9h-1.7zM640.8 359.1h1.7v1.2h-1.7zM645.4 376.6h1.7v1.2h-1.7zM645.4 365.4h1.7v1.5h-1.7zM645.4 360h1.7v1.1h-1.7zM650.1 380.4h1.7v1.1h-1.7zM650.1 378.7h1.7v1.3h-1.7zM650.1 375h1.7v1.3h-1.7zM650.1 358.8h1.7v1.8h-1.7zM654.7 382.1h1.7v1.7h-1.7zM654.7 378.6h1.7v1.5h-1.7zM655.1 369.6h0.8v0.6h-0.8zM654.7 363.4h1.7v1.2h-1.7zM659.3 381h1.7v1.1h-1.7zM659.3 378.8h1.7v1.8h-1.7zM659.3 372.4h1.7v1.8h-1.7zM659.7 369.6h0.8v0.5h-0.8zM659.3 365.7h1.7v1.2h-1.7zM659.3 362.1h1.7v1.1h-1.7zM659.3 360.5h1.7v1h-1.7zM663.9 379.9h1.7v1.7h-1.7zM663.9 378h1.7v1.4h-1.7zM663.9 376.2h1.7v1.4h-1.7zM663.9 374.4h1.7v1.4h-1.7zM664.4 369.6h0.8v0.5h-0.8zM663.9 365.5h1.7v1.3h-1.7zM663.9 363.4h1.7v1.7h-1.7zM663.9 361.2h1.7v1.6h-1.7zM663.9 359.3h1.7v1.6h-1.7zM668.5 380.7h1.7v1.3h-1.7zM668.5 373.3h1.7v1.6h-1.7zM668.5 371.1h1.7v1.9h-1.7zM668.5 362.4h1.7v1.1h-1.7zM669 358.4h0.8v0.7h-0.8zM673.2 380.5h1.7v1.3h-1.7zM673.2 378.6h1.7v1.6h-1.7zM673.2 374.6h1.7v1.8h-1.7zM673.2 365.2h1.7v1.7h-1.7zM673.2 363.5h1.7v1.2h-1.7zM677.8 380.6h1.7v1.1h-1.7zM677.8 372.1h1.7v1.2h-1.7zM677.8 365.8h1.7v1.1h-1.7zM677.8 364.1h1.7v1.3h-1.7zM677.8 362.6h1.7v1.1h-1.7z" fill="#555555" fill-opacity="0.71"/>
<line x1="485.3" y1="391.2" x2="679" y2="391.2" stroke="#3c3cd0" stroke-opacity="0.62" stroke-width="1"/>
<line x1="485.3" y1="421.5" x2="679" y2="421.5" stroke="#e02a40" stroke-opacity="0.78" stroke-width="1.0"/>
<line x1="484.9" y1="406.4" x2="678.98" y2="406.4" stroke="#4a5470" stroke-width="0.55" stroke-dasharray="1.1 1.3"/>
<path d="M484.9 424.6V432M483.4 424.6h3M483.4 432h3" stroke="#62626e" stroke-width="0.5" fill="none"/>
<rect x="483.05" y="404.7" width="3.7" height="3.6" fill="#a6d8f2" stroke="#6f8fb8" stroke-width="0.5"/>
<line x1="483.05" y1="406.4" x2="486.75" y2="406.4" stroke="#6f8fb8" stroke-width="0.45"/>
<path d="M484.2 405.85l1.4 1.1M485.6 405.85l-1.4 1.1" stroke="#e8e030" stroke-width="0.7"/>
<circle cx="484.9" cy="428.2" r="1.3" fill="#ff0c0c"/>
<path d="M489.52 426.1V433.5M488.02 426.1h3M488.02 433.5h3" stroke="#62626e" stroke-width="0.5" fill="none"/>
<rect x="487.67" y="403.2" width="3.7" height="6.3" fill="#a6d8f2" stroke="#6f8fb8" stroke-width="0.5"/>
<line x1="487.67" y1="406.4" x2="491.37" y2="406.4" stroke="#6f8fb8" stroke-width="0.45"/>
<path d="M488.82 405.85l1.4 1.1M490.22 405.85l-1.4 1.1" stroke="#e8e030" stroke-width="0.7"/>
<circle cx="489.52" cy="429.7" r="1.3" fill="#ff0c0c"/>
<path d="M494.14 425.3V432.7M492.64 425.3h3M492.64 432.7h3" stroke="#62626e" stroke-width="0.5" fill="none"/>
<rect x="492.29" y="403.7" width="3.7" height="5.4" fill="#a6d8f2" stroke="#6f8fb8" stroke-width="0.5"/>
<line x1="492.29" y1="406.4" x2="495.99" y2="406.4" stroke="#6f8fb8" stroke-width="0.45"/>
<path d="M493.44 405.85l1.4 1.1M494.84 405.85l-1.4 1.1" stroke="#e8e030" stroke-width="0.7"/>
<circle cx="494.14" cy="428.9" r="1.3" fill="#ff0c0c"/>
<path d="M498.76 424.9V432.3M497.26 424.9h3M497.26 432.3h3" stroke="#62626e" stroke-width="0.5" fill="none"/>
<rect x="496.91" y="403.7" width="3.7" height="5.4" fill="#a6d8f2" stroke="#6f8fb8" stroke-width="0.5"/>
<line x1="496.91" y1="406.4" x2="500.61" y2="406.4" stroke="#6f8fb8" stroke-width="0.45"/>
<path d="M498.06 405.85l1.4 1.1M499.46 405.85l-1.4 1.1" stroke="#e8e030" stroke-width="0.7"/>
<circle cx="498.76" cy="428.5" r="1.3" fill="#ff0c0c"/>
<path d="M503.38 425.3V432.7M501.88 425.3h3M501.88 432.7h3" stroke="#62626e" stroke-width="0.5" fill="none"/>
<rect x="501.53" y="404.7" width="3.7" height="3.6" fill="#a6d8f2" stroke="#6f8fb8" stroke-width="0.5"/>
<line x1="501.53" y1="406.4" x2="505.23" y2="406.4" stroke="#6f8fb8" stroke-width="0.45"/>
<path d="M502.68 405.85l1.4 1.1M504.08 405.85l-1.4 1.1" stroke="#e8e030" stroke-width="0.7"/>
<circle cx="503.38" cy="428.9" r="1.3" fill="#ff0c0c"/>
<path d="M508 425.6V433M506.5 425.6h3M506.5 433h3" stroke="#62626e" stroke-width="0.5" fill="none"/>
<rect x="506.15" y="403.7" width="3.7" height="5.6" fill="#a6d8f2" stroke="#6f8fb8" stroke-width="0.5"/>
<line x1="506.15" y1="406.4" x2="509.86" y2="406.4" stroke="#6f8fb8" stroke-width="0.45"/>
<path d="M507.31 405.85l1.4 1.1M508.7 405.85l-1.4 1.1" stroke="#e8e030" stroke-width="0.7"/>
<circle cx="508" cy="429.2" r="1.3" fill="#ff0c0c"/>
<path d="M512.63 425.3V432.7M511.13 425.3h3M511.13 432.7h3" stroke="#62626e" stroke-width="0.5" fill="none"/>
<rect x="510.78" y="404.7" width="3.7" height="3.6" fill="#a6d8f2" stroke="#6f8fb8" stroke-width="0.5"/>
<line x1="510.78" y1="406.4" x2="514.48" y2="406.4" stroke="#6f8fb8" stroke-width="0.45"/>
<path d="M511.93 405.85l1.4 1.1M513.33 405.85l-1.4 1.1" stroke="#e8e030" stroke-width="0.7"/>
<circle cx="512.63" cy="428.9" r="1.3" fill="#ff0c0c"/>
<path d="M517.25 425.9V433.3M515.75 425.9h3M515.75 433.3h3" stroke="#62626e" stroke-width="0.5" fill="none"/>
<rect x="515.4" y="403.7" width="3.7" height="5.6" fill="#a6d8f2" stroke="#6f8fb8" stroke-width="0.5"/>
<line x1="515.4" y1="406.4" x2="519.1" y2="406.4" stroke="#6f8fb8" stroke-width="0.45"/>
<path d="M516.55 405.85l1.4 1.1M517.95 405.85l-1.4 1.1" stroke="#e8e030" stroke-width="0.7"/>
<circle cx="517.25" cy="429.5" r="1.3" fill="#ff0c0c"/>
<path d="M521.87 426.4V433.8M520.37 426.4h3M520.37 433.8h3" stroke="#62626e" stroke-width="0.5" fill="none"/>
<rect x="520.02" y="403.7" width="3.7" height="5.6" fill="#a6d8f2" stroke="#6f8fb8" stroke-width="0.5"/>
<line x1="520.02" y1="406.4" x2="523.72" y2="406.4" stroke="#6f8fb8" stroke-width="0.45"/>
<path d="M521.17 405.85l1.4 1.1M522.57 405.85l-1.4 1.1" stroke="#e8e030" stroke-width="0.7"/>
<circle cx="521.87" cy="430" r="1.3" fill="#ff0c0c"/>
<path d="M526.49 424.6V432M524.99 424.6h3M524.99 432h3" stroke="#62626e" stroke-width="0.5" fill="none"/>
<rect x="524.64" y="402.4" width="3.7" height="7.9" fill="#a6d8f2" stroke="#6f8fb8" stroke-width="0.5"/>
<line x1="524.64" y1="406.4" x2="528.34" y2="406.4" stroke="#6f8fb8" stroke-width="0.45"/>
<path d="M525.79 405.85l1.4 1.1M527.19 405.85l-1.4 1.1" stroke="#e8e030" stroke-width="0.7"/>
<circle cx="526.49" cy="428.2" r="1.3" fill="#ff0c0c"/>
<path d="M531.11 424.3V431.7M529.61 424.3h3M529.61 431.7h3" stroke="#62626e" stroke-width="0.5" fill="none"/>
<rect x="529.26" y="402.7" width="3.7" height="7.1" fill="#a6d8f2" stroke="#6f8fb8" stroke-width="0.5"/>
<line x1="529.26" y1="406.4" x2="532.96" y2="406.4" stroke="#6f8fb8" stroke-width="0.45"/>
<path d="M530.41 405.85l1.4 1.1M531.81 405.85l-1.4 1.1" stroke="#e8e030" stroke-width="0.7"/>
<circle cx="531.11" cy="427.9" r="1.3" fill="#ff0c0c"/>
<path d="M535.73 425.9V433.3M534.23 425.9h3M534.23 433.3h3" stroke="#62626e" stroke-width="0.5" fill="none"/>
<rect x="533.88" y="404" width="3.7" height="5.1" fill="#a6d8f2" stroke="#6f8fb8" stroke-width="0.5"/>
<line x1="533.88" y1="406.4" x2="537.58" y2="406.4" stroke="#6f8fb8" stroke-width="0.45"/>
<path d="M535.03 405.85l1.4 1.1M536.43 405.85l-1.4 1.1" stroke="#e8e030" stroke-width="0.7"/>
<circle cx="535.73" cy="429.5" r="1.3" fill="#ff0c0c"/>
<path d="M540.35 425.2V432.6M538.85 425.2h3M538.85 432.6h3" stroke="#62626e" stroke-width="0.5" fill="none"/>
<rect x="538.5" y="403.7" width="3.7" height="5.6" fill="#a6d8f2" stroke="#6f8fb8" stroke-width="0.5"/>
<line x1="538.5" y1="406.4" x2="542.2" y2="406.4" stroke="#6f8fb8" stroke-width="0.45"/>
<path d="M539.65 405.85l1.4 1.1M541.05 405.85l-1.4 1.1" stroke="#e8e030" stroke-width="0.7"/>
<circle cx="540.35" cy="428.8" r="1.3" fill="#ff0c0c"/>
<path d="M544.97 426.7V434.1M543.47 426.7h3M543.47 434.1h3" stroke="#62626e" stroke-width="0.5" fill="none"/>
<rect x="543.12" y="403.7" width="3.7" height="5.6" fill="#a6d8f2" stroke="#6f8fb8" stroke-width="0.5"/>
<line x1="543.12" y1="406.4" x2="546.82" y2="406.4" stroke="#6f8fb8" stroke-width="0.45"/>
<path d="M544.27 405.85l1.4 1.1M545.67 405.85l-1.4 1.1" stroke="#e8e030" stroke-width="0.7"/>
<circle cx="544.97" cy="430.3" r="1.3" fill="#ff0c0c"/>
<path d="M549.59 423.9V431.3M548.09 423.9h3M548.09 431.3h3" stroke="#62626e" stroke-width="0.5" fill="none"/>
<rect x="547.74" y="404" width="3.7" height="4.8" fill="#a6d8f2" stroke="#6f8fb8" stroke-width="0.5"/>
<line x1="547.74" y1="406.4" x2="551.44" y2="406.4" stroke="#6f8fb8" stroke-width="0.45"/>
<path d="M548.89 405.85l1.4 1.1M550.29 405.85l-1.4 1.1" stroke="#e8e030" stroke-width="0.7"/>
<circle cx="549.59" cy="427.5" r="1.3" fill="#ff0c0c"/>
<path d="M554.22 426.36V433.76M552.72 426.36h3M552.72 433.76h3" stroke="#62626e" stroke-width="0.5" fill="none"/>
<rect x="552.37" y="403.8" width="3.7" height="5.2" fill="#a6d8f2" stroke="#6f8fb8" stroke-width="0.5"/>
<line x1="552.37" y1="406.4" x2="556.07" y2="406.4" stroke="#6f8fb8" stroke-width="0.45"/>
<path d="M553.51 405.85l1.4 1.1M554.92 405.85l-1.4 1.1" stroke="#e8e030" stroke-width="0.7"/>
<circle cx="554.22" cy="429.96" r="1.3" fill="#ff0c0c"/>
<path d="M558.84 424.73V432.13M557.34 424.73h3M557.34 432.13h3" stroke="#62626e" stroke-width="0.5" fill="none"/>
<rect x="556.99" y="403.8" width="3.7" height="5.2" fill="#a6d8f2" stroke="#6f8fb8" stroke-width="0.5"/>
<line x1="556.99" y1="406.4" x2="560.69" y2="406.4" stroke="#6f8fb8" stroke-width="0.45"/>
<path d="M558.14 405.85l1.4 1.1M559.54 405.85l-1.4 1.1" stroke="#e8e030" stroke-width="0.7"/>
<circle cx="558.84" cy="428.33" r="1.3" fill="#ff0c0c"/>
<path d="M563.46 426.42V433.82M561.96 426.42h3M561.96 433.82h3" stroke="#62626e" stroke-width="0.5" fill="none"/>
<rect x="561.61" y="404.4" width="3.7" height="4" fill="#a6d8f2" stroke="#6f8fb8" stroke-width="0.5"/>
<line x1="561.61" y1="406.4" x2="565.31" y2="406.4" stroke="#6f8fb8" stroke-width="0.45"/>
<path d="M562.76 405.85l1.4 1.1M564.16 405.85l-1.4 1.1" stroke="#e8e030" stroke-width="0.7"/>
<circle cx="563.46" cy="430.02" r="1.3" fill="#ff0c0c"/>
<path d="M568.08 424.99V432.39M566.58 424.99h3M566.58 432.39h3" stroke="#62626e" stroke-width="0.5" fill="none"/>
<rect x="566.23" y="403" width="3.7" height="6.8" fill="#a6d8f2" stroke="#6f8fb8" stroke-width="0.5"/>
<line x1="566.23" y1="406.4" x2="569.93" y2="406.4" stroke="#6f8fb8" stroke-width="0.45"/>
<path d="M567.38 405.85l1.4 1.1M568.78 405.85l-1.4 1.1" stroke="#e8e030" stroke-width="0.7"/>
<circle cx="568.08" cy="428.59" r="1.3" fill="#ff0c0c"/>
<path d="M572.7 426.9V434.3M571.2 426.9h3M571.2 434.3h3" stroke="#62626e" stroke-width="0.5" fill="none"/>
<rect x="570.85" y="403.8" width="3.7" height="5.2" fill="#a6d8f2" stroke="#6f8fb8" stroke-width="0.5"/>
<line x1="570.85" y1="406.4" x2="574.55" y2="406.4" stroke="#6f8fb8" stroke-width="0.45"/>
<path d="M572 405.85l1.4 1.1M573.4 405.85l-1.4 1.1" stroke="#e8e030" stroke-width="0.7"/>
<circle cx="572.7" cy="430.5" r="1.3" fill="#ff0c0c"/>
<path d="M577.32 424.59V431.99M575.82 424.59h3M575.82 431.99h3" stroke="#62626e" stroke-width="0.5" fill="none"/>
<rect x="575.47" y="403" width="3.7" height="6.8" fill="#a6d8f2" stroke="#6f8fb8" stroke-width="0.5"/>
<line x1="575.47" y1="406.4" x2="579.17" y2="406.4" stroke="#6f8fb8" stroke-width="0.45"/>
<path d="M576.62 405.85l1.4 1.1M578.02 405.85l-1.4 1.1" stroke="#e8e030" stroke-width="0.7"/>
<circle cx="577.32" cy="428.19" r="1.3" fill="#ff0c0c"/>
<path d="M581.94 424.21V431.61M580.44 424.21h3M580.44 431.61h3" stroke="#62626e" stroke-width="0.5" fill="none"/>
<rect x="580.09" y="403.8" width="3.7" height="5.2" fill="#a6d8f2" stroke="#6f8fb8" stroke-width="0.5"/>
<line x1="580.09" y1="406.4" x2="583.79" y2="406.4" stroke="#6f8fb8" stroke-width="0.45"/>
<path d="M581.24 405.85l1.4 1.1M582.64 405.85l-1.4 1.1" stroke="#e8e030" stroke-width="0.7"/>
<circle cx="581.94" cy="427.81" r="1.3" fill="#ff0c0c"/>
<path d="M586.56 424.28V431.68M585.06 424.28h3M585.06 431.68h3" stroke="#62626e" stroke-width="0.5" fill="none"/>
<rect x="584.71" y="403.4" width="3.7" height="6" fill="#a6d8f2" stroke="#6f8fb8" stroke-width="0.5"/>
<line x1="584.71" y1="406.4" x2="588.41" y2="406.4" stroke="#6f8fb8" stroke-width="0.45"/>
<path d="M585.86 405.85l1.4 1.1M587.26 405.85l-1.4 1.1" stroke="#e8e030" stroke-width="0.7"/>
<circle cx="586.56" cy="427.88" r="1.3" fill="#ff0c0c"/>
<path d="M591.18 424.67V432.07M589.68 424.67h3M589.68 432.07h3" stroke="#62626e" stroke-width="0.5" fill="none"/>
<rect x="589.33" y="403.8" width="3.7" height="5.2" fill="#a6d8f2" stroke="#6f8fb8" stroke-width="0.5"/>
<line x1="589.33" y1="406.4" x2="593.03" y2="406.4" stroke="#6f8fb8" stroke-width="0.45"/>
<path d="M590.48 405.85l1.4 1.1M591.88 405.85l-1.4 1.1" stroke="#e8e030" stroke-width="0.7"/>
<circle cx="591.18" cy="428.27" r="1.3" fill="#ff0c0c"/>
<path d="M595.8 425.57V432.97M594.3 425.57h3M594.3 432.97h3" stroke="#62626e" stroke-width="0.5" fill="none"/>
<rect x="593.95" y="403.4" width="3.7" height="6" fill="#a6d8f2" stroke="#6f8fb8" stroke-width="0.5"/>
<line x1="593.95" y1="406.4" x2="597.65" y2="406.4" stroke="#6f8fb8" stroke-width="0.45"/>
<path d="M595.1 405.85l1.4 1.1M596.5 405.85l-1.4 1.1" stroke="#e8e030" stroke-width="0.7"/>
<circle cx="595.8" cy="429.17" r="1.3" fill="#ff0c0c"/>
<path d="M600.42 424.69V432.09M598.92 424.69h3M598.92 432.09h3" stroke="#62626e" stroke-width="0.5" fill="none"/>
<rect x="598.57" y="403.8" width="3.7" height="5.2" fill="#a6d8f2" stroke="#6f8fb8" stroke-width="0.5"/>
<line x1="598.57" y1="406.4" x2="602.27" y2="406.4" stroke="#6f8fb8" stroke-width="0.45"/>
<path d="M599.72 405.85l1.4 1.1M601.12 405.85l-1.4 1.1" stroke="#e8e030" stroke-width="0.7"/>
<circle cx="600.42" cy="428.29" r="1.3" fill="#ff0c0c"/>
<path d="M605.05 424.52V431.92M603.55 424.52h3M603.55 431.92h3" stroke="#62626e" stroke-width="0.5" fill="none"/>
<rect x="603.2" y="403" width="3.7" height="6.8" fill="#a6d8f2" stroke="#6f8fb8" stroke-width="0.5"/>
<line x1="603.2" y1="406.4" x2="606.9" y2="406.4" stroke="#6f8fb8" stroke-width="0.45"/>
<path d="M604.35 405.85l1.4 1.1M605.75 405.85l-1.4 1.1" stroke="#e8e030" stroke-width="0.7"/>
<circle cx="605.05" cy="428.12" r="1.3" fill="#ff0c0c"/>
<path d="M609.67 426.3V433.7M608.17 426.3h3M608.17 433.7h3" stroke="#62626e" stroke-width="0.5" fill="none"/>
<rect x="607.82" y="403" width="3.7" height="6.8" fill="#a6d8f2" stroke="#6f8fb8" stroke-width="0.5"/>
<line x1="607.82" y1="406.4" x2="611.52" y2="406.4" stroke="#6f8fb8" stroke-width="0.45"/>
<path d="M608.97 405.85l1.4 1.1M610.37 405.85l-1.4 1.1" stroke="#e8e030" stroke-width="0.7"/>
<circle cx="609.67" cy="429.9" r="1.3" fill="#ff0c0c"/>
<path d="M614.29 425.47V432.87M612.79 425.47h3M612.79 432.87h3" stroke="#62626e" stroke-width="0.5" fill="none"/>
<rect x="612.44" y="401.9" width="3.7" height="9" fill="#a6d8f2" stroke="#6f8fb8" stroke-width="0.5"/>
<line x1="612.44" y1="406.4" x2="616.14" y2="406.4" stroke="#6f8fb8" stroke-width="0.45"/>
<path d="M613.59 405.85l1.4 1.1M614.99 405.85l-1.4 1.1" stroke="#e8e030" stroke-width="0.7"/>
<circle cx="614.29" cy="429.07" r="1.3" fill="#ff0c0c"/>
<path d="M618.91 424.72V432.12M617.41 424.72h3M617.41 432.12h3" stroke="#62626e" stroke-width="0.5" fill="none"/>
<rect x="617.06" y="404.4" width="3.7" height="4" fill="#a6d8f2" stroke="#6f8fb8" stroke-width="0.5"/>
<line x1="617.06" y1="406.4" x2="620.76" y2="406.4" stroke="#6f8fb8" stroke-width="0.45"/>
<path d="M618.21 405.85l1.4 1.1M619.61 405.85l-1.4 1.1" stroke="#e8e030" stroke-width="0.7"/>
<circle cx="618.91" cy="428.32" r="1.3" fill="#ff0c0c"/>
<path d="M623.53 426.48V433.88M622.03 426.48h3M622.03 433.88h3" stroke="#62626e" stroke-width="0.5" fill="none"/>
<rect x="621.68" y="401.9" width="3.7" height="9" fill="#a6d8f2" stroke="#6f8fb8" stroke-width="0.5"/>
<line x1="621.68" y1="406.4" x2="625.38" y2="406.4" stroke="#6f8fb8" stroke-width="0.45"/>
<path d="M622.83 405.85l1.4 1.1M624.23 405.85l-1.4 1.1" stroke="#e8e030" stroke-width="0.7"/>
<circle cx="623.53" cy="430.08" r="1.3" fill="#ff0c0c"/>
<path d="M628.15 420.3V430.1M626.65 420.3h3M626.65 430.1h3" stroke="#62626e" stroke-width="0.5" fill="none"/>
<rect x="626.3" y="400.6" width="3.7" height="11.6" fill="#a6d8f2" stroke="#6f8fb8" stroke-width="0.5"/>
<line x1="626.3" y1="406.4" x2="630" y2="406.4" stroke="#6f8fb8" stroke-width="0.45"/>
<path d="M627.45 405.85l1.4 1.1M628.85 405.85l-1.4 1.1" stroke="#e8e030" stroke-width="0.7"/>
<circle cx="628.15" cy="426.3" r="1.3" fill="#ff0c0c"/>
<path d="M632.77 423.4V430.8M631.27 423.4h3M631.27 430.8h3" stroke="#62626e" stroke-width="0.5" fill="none"/>
<rect x="630.92" y="402.4" width="3.7" height="8" fill="#a6d8f2" stroke="#6f8fb8" stroke-width="0.5"/>
<line x1="630.92" y1="406.4" x2="634.62" y2="406.4" stroke="#6f8fb8" stroke-width="0.45"/>
<path d="M632.07 405.85l1.4 1.1M633.47 405.85l-1.4 1.1" stroke="#e8e030" stroke-width="0.7"/>
<circle cx="632.77" cy="427" r="1.3" fill="#ff0c0c"/>
<path d="M637.39 399.7V410.5M635.89 399.7h3M635.89 410.5h3" stroke="#62626e" stroke-width="0.5" fill="none"/>
<rect x="635.54" y="404.5" width="3.7" height="3.8" fill="#5cc65c" stroke="#3a8e3a" stroke-width="0.5"/>
<line x1="635.54" y1="406.4" x2="639.24" y2="406.4" stroke="#3a8e3a" stroke-width="0.45"/>
<path d="M636.69 405.85l1.4 1.1M638.09 405.85l-1.4 1.1" stroke="#e8e030" stroke-width="0.7"/>
<circle cx="637.39" cy="405.4" r="1.25" fill="#1e0000"/><circle cx="637.39" cy="405.4" r="0.45" fill="#7a1010"/>
<path d="M642.01 393.3V413M640.51 393.3h3M640.51 413h3" stroke="#62626e" stroke-width="0.5" fill="none"/>
<rect x="640.16" y="400.2" width="3.7" height="12.3" fill="#5cc65c" stroke="#3a8e3a" stroke-width="0.5"/>
<line x1="640.16" y1="406.4" x2="643.86" y2="406.4" stroke="#3a8e3a" stroke-width="0.45"/>
<path d="M641.31 405.85l1.4 1.1M642.71 405.85l-1.4 1.1" stroke="#e8e030" stroke-width="0.7"/>
<circle cx="642.01" cy="402.6" r="1.25" fill="#1e0000"/><circle cx="642.01" cy="402.6" r="0.45" fill="#7a1010"/>
<path d="M646.63 425.5V432.5M645.13 425.5h3M645.13 432.5h3" stroke="#62626e" stroke-width="0.5" fill="none"/>
<rect x="644.78" y="404.5" width="3.7" height="3.8" fill="#5cc65c" stroke="#3a8e3a" stroke-width="0.5"/>
<line x1="644.78" y1="406.4" x2="648.49" y2="406.4" stroke="#3a8e3a" stroke-width="0.45"/>
<path d="M645.93 405.85l1.4 1.1M647.34 405.85l-1.4 1.1" stroke="#e8e030" stroke-width="0.7"/>
<circle cx="646.63" cy="429" r="1.3" fill="#ff0c0c"/>
<path d="M651.26 399.2V411M649.76 399.2h3M649.76 411h3" stroke="#62626e" stroke-width="0.5" fill="none"/>
<rect x="649.41" y="403.1" width="3.7" height="5.4" fill="#5cc65c" stroke="#3a8e3a" stroke-width="0.5"/>
<line x1="649.41" y1="406.4" x2="653.11" y2="406.4" stroke="#3a8e3a" stroke-width="0.45"/>
<path d="M650.56 405.85l1.4 1.1M651.96 405.85l-1.4 1.1" stroke="#e8e030" stroke-width="0.7"/>
<circle cx="651.26" cy="405.1" r="1.25" fill="#1e0000"/><circle cx="651.26" cy="405.1" r="0.45" fill="#7a1010"/>
<path d="M655.88 400V412M654.38 400h3M654.38 412h3" stroke="#62626e" stroke-width="0.5" fill="none"/>
<rect x="654.03" y="402.2" width="3.7" height="8.8" fill="#5cc65c" stroke="#3a8e3a" stroke-width="0.5"/>
<line x1="654.03" y1="406.4" x2="657.73" y2="406.4" stroke="#3a8e3a" stroke-width="0.45"/>
<path d="M655.18 405.85l1.4 1.1M656.58 405.85l-1.4 1.1" stroke="#e8e030" stroke-width="0.7"/>
<circle cx="655.88" cy="405.8" r="1.25" fill="#1e0000"/><circle cx="655.88" cy="405.8" r="0.45" fill="#7a1010"/>
<path d="M660.5 400.2V414.4M659 400.2h3M659 414.4h3" stroke="#62626e" stroke-width="0.5" fill="none"/>
<rect x="658.65" y="402.2" width="3.7" height="8.3" fill="#5cc65c" stroke="#3a8e3a" stroke-width="0.5"/>
<line x1="658.65" y1="406.4" x2="662.35" y2="406.4" stroke="#3a8e3a" stroke-width="0.45"/>
<path d="M659.8 405.85l1.4 1.1M661.2 405.85l-1.4 1.1" stroke="#e8e030" stroke-width="0.7"/>
<circle cx="660.5" cy="407.4" r="1.25" fill="#1e0000"/><circle cx="660.5" cy="407.4" r="0.45" fill="#7a1010"/>
<path d="M665.12 401.2V411.5M663.62 401.2h3M663.62 411.5h3" stroke="#62626e" stroke-width="0.5" fill="none"/>
<rect x="663.27" y="403.6" width="3.7" height="5.4" fill="#5cc65c" stroke="#3a8e3a" stroke-width="0.5"/>
<line x1="663.27" y1="406.4" x2="666.97" y2="406.4" stroke="#3a8e3a" stroke-width="0.45"/>
<path d="M664.42 405.85l1.4 1.1M665.82 405.85l-1.4 1.1" stroke="#e8e030" stroke-width="0.7"/>
<circle cx="665.12" cy="406.4" r="1.25" fill="#1e0000"/><circle cx="665.12" cy="406.4" r="0.45" fill="#7a1010"/>
<path d="M669.74 397.2V409M668.24 397.2h3M668.24 409h3" stroke="#62626e" stroke-width="0.5" fill="none"/>
<rect x="667.89" y="404.1" width="3.7" height="4.4" fill="#5cc65c" stroke="#3a8e3a" stroke-width="0.5"/>
<line x1="667.89" y1="406.4" x2="671.59" y2="406.4" stroke="#3a8e3a" stroke-width="0.45"/>
<path d="M669.04 405.85l1.4 1.1M670.44 405.85l-1.4 1.1" stroke="#e8e030" stroke-width="0.7"/>
<circle cx="669.74" cy="403.1" r="1.25" fill="#1e0000"/><circle cx="669.74" cy="403.1" r="0.45" fill="#7a1010"/>
<path d="M674.36 426.5V433.5M672.86 426.5h3M672.86 433.5h3" stroke="#62626e" stroke-width="0.5" fill="none"/>
<rect x="672.51" y="404.1" width="3.7" height="4.4" fill="#5cc65c" stroke="#3a8e3a" stroke-width="0.5"/>
<line x1="672.51" y1="406.4" x2="676.21" y2="406.4" stroke="#3a8e3a" stroke-width="0.45"/>
<path d="M673.66 405.85l1.4 1.1M675.06 405.85l-1.4 1.1" stroke="#e8e030" stroke-width="0.7"/>
<circle cx="674.36" cy="430" r="1.3" fill="#ff0c0c"/>
<path d="M678.98 400V413M677.48 400h3M677.48 413h3" stroke="#62626e" stroke-width="0.5" fill="none"/>
<rect x="677.13" y="400.2" width="3.7" height="12.3" fill="#5cc65c" stroke="#3a8e3a" stroke-width="0.5"/>
<line x1="677.13" y1="406.4" x2="680.83" y2="406.4" stroke="#3a8e3a" stroke-width="0.45"/>
<path d="M678.28 405.85l1.4 1.1M679.68 405.85l-1.4 1.1" stroke="#e8e030" stroke-width="0.7"/>
<circle cx="678.98" cy="407.1" r="1.25" fill="#1e0000"/><circle cx="678.98" cy="407.1" r="0.45" fill="#7a1010"/>
<line x1="5" y1="194.3" x2="116" y2="194.3" stroke="#d8d8d8" stroke-width="0.5" stroke-dasharray="0.8 1.2"/>
<line x1="390" y1="182.4" x2="467" y2="182.4" stroke="#d8d8d8" stroke-width="0.5" stroke-dasharray="0.8 1.2"/>
<line x1="392" y1="253.8" x2="467" y2="253.8" stroke="#d8d8d8" stroke-width="0.5" stroke-dasharray="0.8 1.2"/>
<polyline points="4.2,64.9 4.5,63.1 4.9,58 5.2,53.3 5.5,52.5 5.9,55.9 6.2,59.6 6.5,60 6.8,58.1 7.2,57.4 7.5,59.2 7.8,61 8.2,60 8.5,56.9 8.8,55.5 9.2,58.8 9.5,65.3 9.8,70.9 10.1,74.7 10.5,77.3 10.8,79.3 11.1,80.1 11.5,78.2 11.8,73.2 12.1,64.4 12.4,55.5 12.8,53.2 13.1,59.4 13.4,69 13.8,76.1 14.1,79.4 14.4,80.4 14.8,80.5 15.1,80.5 18.4,80.5 18.7,80.4 19.1,80.3 19.4,80.2 19.7,80.1 20,80.1 20.4,80.2 20.7,80.3 21,80.4 21.4,80.5 22,80.5 22.4,80.5 22.7,80.3 23,80.2 23.3,80.1 24,80.1 24.3,80.2 24.7,80.1 25,78.1 25.3,72.3 25.6,60.9 26,47.8 26.3,42 26.6,48.5 27,61.7 27.3,72.8 27.6,78.3 28,80.1 28.3,80.5 28.9,80.5 29.3,78.4 29.6,75.1 29.9,70 30.3,62.8 30.6,56.2 30.9,53.6 31.3,57 31.6,62.2 31.9,65.5 32.2,66 32.6,64 32.9,60.3 33.2,57.2 33.6,57.3 33.9,60.4 34.2,64.1 34.6,66.2 34.9,66.1 35.2,63.6 35.6,58.9 35.9,54.4 36.2,55 36.5,60.7 36.9,67.8 37.2,73.4 37.5,77 37.9,79.6 38.2,80.1 38.5,80.1 38.9,80.1 39.2,80.1 39.5,80.2 39.8,80.3 40.8,80.4 41.2,80.4 41.5,80.5 42.2,80.5 42.5,80.4 42.8,80.3 43.1,79 43.5,74.7 43.8,66.5 44.1,53.9 44.5,41.4 44.8,36.8 45.1,43.1 45.5,54.3 45.8,61.7 46.1,62.9 46.4,59 46.8,53.3 47.1,50.6 47.4,53.3 47.8,59.1 48.1,63.4 48.4,63.5 48.8,59.1 49.1,52 49.4,47.2 49.7,48.7 50.1,54.9 50.4,60.2 50.7,60.3 51.1,55.6 51.4,50.2 51.7,49.4 52.1,54.1 52.4,60 52.7,62.6 53,60.3 53.4,54.9 53.7,50.8 54,51.9 54.4,57 54.7,61.4 55,61.4 55.4,57.2 55.7,52.4 56,51.5 56.3,55.4 56.7,60.4 57,61.9 57.3,58.8 57.7,53.4 58,50.6 58.3,53.2 58.7,59.1 59,64.1 59.3,66.6 59.6,66.8 60,64.8 60.3,60.5 60.6,54.9 61,51.7 61.3,53.7 61.6,59.9 62,66.9 62.3,71.6 62.6,74.7 62.9,77 63.3,79.1 63.6,80.3 63.9,80.2 64.3,79.4 64.6,76.9 64.9,72.4 65.2,67.9 65.6,66.7 65.9,69.9 66.2,74.8 66.6,78.3 66.9,80 67.2,80.5 67.6,80.5 70.2,80.3 70.5,80.4 70.9,80.4 71.2,80.5 72.2,80.5 72.5,80.4 72.8,80.3 73.2,80.3 73.8,80.3 74.2,79.9 74.5,78.2 74.8,74.9 75.2,70.7 75.5,68.6 75.8,70.3 76.1,74.4 76.5,77.9 76.8,79.8 77.1,80.4 77.5,80.6 77.8,80.5 78.1,80 78.5,77.9 78.8,72.2 79.1,62 79.4,51.5 79.8,48.5 80.1,55.5 80.4,66.6 80.8,74.6 81.1,76.4 81.4,72.2 81.8,63.3 82.1,54.7 82.4,53.1 82.7,60 83.1,69.7 83.4,76.5 83.7,79.5 84.1,80.3 84.4,80.4 84.7,80.4 85.1,80.5 85.7,80.5 86,80.2 86.4,79 86.7,75.5 87,69.6 87.4,63.8 87.7,62.4 88,66.7 88.4,73.1 88.7,77.7 89,79.8 89.3,80.4 90.7,80.4 91,80.5 92,80.6 92.3,79.4 92.6,78.1 93,76.6 93.3,74.2 93.6,69.3 94,61.2 94.3,53.2 94.6,49.9 95,54 95.3,61.9 95.6,68.2 95.9,70.3 96.3,68.1 96.6,62.5 96.9,56.4 97.3,54.4 97.6,58.3 97.9,64.8 98.3,69.6 98.6,71 98.9,68.8 99.2,63.2 99.6,56.5 99.9,53.4 100.2,56.5 100.6,63.2 100.9,68.6 101.2,70.3 101.6,67.8 101.9,61.5 102.2,54.4 102.5,51.7 102.9,55.8 103.2,62.9 103.5,67.3 103.9,66.1 104.2,59.6 104.5,51.9 104.9,49.2 105.2,54.7 105.5,64.3 105.8,72 106.2,76.3 106.5,78.5 106.8,79.9 107.2,80.5 107.5,80.5 107.8,80.4 108.2,80.3 108.8,80.3 109.1,80.4 109.5,80.4 110.1,80.4 110.5,80.3 110.8,80.2 111.1,80.1 111.8,80.2 112.1,80.2 112.4,80.3 112.8,80.3 113.1,80.3 113.4,80 113.8,78.4 114.1,75.1 114.4,70.8 114.8,68.3 115.1,69.7" fill="none" stroke="#3aa870" stroke-opacity="0.75" stroke-width="0.95" stroke-linejoin="round"/>
<polyline points="4.2,80.6 6.5,80.6 6.8,80.5 7.2,80.4 7.5,80.3 7.8,80.2 8.2,80.1 9.5,80 9.8,80 10.1,80 10.5,80 10.8,80.1 11.1,80.3 11.5,80.3 11.8,80.3 12.1,80.2 12.8,80.2 13.1,80.3 13.4,80.4 13.8,80.5 14.1,80.5 19.1,80.5 19.4,80.5 19.7,80.4 20,80.3 20.4,80.2 21,80.3 21.4,80.3 21.7,80.4 25.6,80.5 26,80.4 26.3,80.3 26.6,80.2 27,80.2 28.3,80.2 28.6,80.2 28.9,80.1 29.3,80 29.6,80 29.9,80.1 30.3,80.3 30.6,80.3 30.9,80.4 31.3,80.3 31.6,80.2 31.9,80.1 32.2,80 32.6,80.1 32.9,80.2 33.2,80.3 33.6,80.4 33.9,80.5 36.5,80.5 36.9,80.1 37.2,78.5 37.5,73.6 37.9,64.2 38.2,53.5 38.5,49 38.9,54.6 39.2,65.5 39.5,74.3 39.8,78.2 40.2,77.1 40.5,70 40.8,55.3 41.2,37.5 41.5,28.8 41.8,36.6 42.2,54.2 42.5,69.4 42.8,77.2 43.1,79.9 43.5,80.2 43.8,80.3 44.1,80.4 44.5,80.5 47.4,80.4 47.8,80.3 48.1,80.2 48.4,80.2 48.8,80.1 49.1,80.2 49.4,80.3 49.7,80.4 50.1,80.5 50.4,80.5 51.1,80.5 51.4,80.5 51.7,80.4 52.1,80.3 52.4,80.2 52.7,80.1 54.4,80.2 54.7,80.3 55,80.3 55.4,80.4 55.7,80.5 56.3,80.5 56.7,80.4 57,80.3 57.3,80.3 58,80.3 58.3,80.3 59,80.3 59.3,80.2 59.6,80.1 60,80 60.3,80 60.6,80.1 61,80.2 61.3,80.3 62.9,80.3 63.3,80.4 63.6,80.5 63.9,80.5 67.6,80.5 67.9,80.5 68.2,80.4 68.6,80.3 69.2,80.3 69.5,80.3 69.9,80.4 70.2,80.5 71.9,80.5 72.2,80 72.5,78.2 72.8,74.3 73.2,68.8 73.5,65 73.8,66.1 74.2,71 74.5,76.1 74.8,79.1 75.2,80.3 75.5,80.5 77.1,80.5 77.5,80.5 77.8,80.4 78.8,80.4 79.1,80.4 79.4,80.5 80.8,80.5 81.1,80.5 81.4,80.4 81.8,80.3 83.4,80.3 83.7,79.1 84.1,75.9 84.4,69.9 84.7,63.6 85.1,61.4 85.4,65.3 85.7,72 86,77.2 86.4,79.6 86.7,80.4 87,80.5 93.3,80.4 93.6,80.3 94,80.3 94.6,80.2 95,80.3 95.3,80.4 95.6,80.5 95.9,80.5 96.9,80.5 97.3,80.5 97.6,80.4 97.9,80.3 98.3,80.2 98.6,80.2 98.9,80.3 99.2,80.4 99.6,80.4 99.9,80.5 101.2,80.5 101.6,80.4 103.2,80.3 103.5,80.3 103.9,80.2 104.2,80.1 105.8,80 106.2,80.1 106.5,80.2 106.8,80.3 107.2,80.4 107.5,80.4 107.8,80.4 108.2,80.2 108.5,80.1 108.8,80.1 109.1,80.1 109.5,80.2 109.8,80.3 110.1,80.3 114.8,80.5 115.1,80.4" fill="none" stroke="#555555" stroke-opacity="0.75" stroke-width="0.95" stroke-linejoin="round"/>
<polyline points="4.2,80.6 11.1,80.4 11.5,80.4 11.8,80.3 12.1,80.3 13.1,80.2 13.4,79.3 13.8,75.5 14.1,66.4 14.4,53 14.8,42.5 15.1,43.5 15.4,55.1 15.8,68.2 16.1,76.3 16.4,79.6 16.7,80.4 17.1,80.5 19.1,80.4 19.4,79.8 19.7,77.4 20,71.1 20.4,60.9 20.7,51.7 21,50.6 21.4,58.6 21.7,69.2 22,76.2 22.4,78.3 22.7,75.6 23,67.5 23.3,55.3 23.7,46.1 24,47.4 24.3,58 24.7,69.7 25,76.9 25.3,79.7 25.6,80.2 26.3,80.2 26.6,80.3 27,80.4 27.3,79.4 27.6,76.1 28,68.9 28.3,59.2 28.6,52.9 28.9,55.3 29.3,64.2 29.6,73.1 29.9,78.2 30.3,80 30.6,80.4 33.6,80.5 33.9,80.5 34.2,80.4 34.6,80.2 34.9,80.2 35.2,80.1 35.6,80.2 35.9,80.3 36.2,80.4 36.5,80.5 38.9,80.4 39.2,80.3 39.5,80.3 40.2,80.3 40.5,80.4 40.8,80.4 41.5,80.4 41.8,80.3 42.8,80.3 43.1,80.4 43.5,80.4 44.1,80.4 44.5,80.3 44.8,80.2 45.1,80.1 45.5,80.1 45.8,80.1 46.1,80.2 46.4,80.3 46.8,80.4 49.7,80.4 50.1,80.3 51.1,80.3 51.4,80.4 51.7,80.5 52.1,80.5 52.7,80.5 53,80.5 53.4,80.4 53.7,80.3 54.4,80.3 54.7,80.3 55,80.4 55.4,80.5 58.3,80.5 58.7,80.4 59,80.3 59.3,80.2 60,80.3 60.3,80.3 60.6,80.4 61,80.5 61.6,80.4 62,79.9 62.3,78 62.6,73.5 62.9,66.8 63.3,61.8 63.6,62.5 63.9,68.3 64.3,74.7 64.6,78.6 64.9,80.1 65.2,80.3 65.6,80.2 65.9,80.2 66.2,80.3 66.6,80.4 66.9,80.5 67.2,80.5 70.5,80.5 70.9,80.5 71.2,80.4 71.5,80.3 71.9,80.3 72.5,80.3 72.8,80.4 73.2,80.4 73.5,80.5 76.8,80.5 77.1,80.4 79.4,80.4 79.8,80.4 80.1,80.3 80.8,80.3 81.1,80.4 81.4,80.4 85.4,80.5 85.7,80.5 86,80.4 86.4,80.3 86.7,80.2 87,80.2 87.4,80.3 87.7,80.4 89.7,80.3 90,80.3 90.3,80.2 90.7,80.1 91,80 91.7,80 92,80.1 93.3,80.1 93.6,80.1 94,80.2 94.3,80.4 94.6,80.4 95.3,80.4 95.6,80.3 96.3,80.3 96.6,80.3 96.9,80.4 97.3,80.5 103.5,80.5 103.9,80.4 104.2,80.3 104.5,80.2 104.9,80.1 105.2,80.1 105.5,80.2 105.8,79.5 106.2,76.8 106.5,71.2 106.8,64.1 107.2,60.2 107.5,62.7 107.8,69.5 108.2,75.7 108.5,79.1 108.8,80.3 109.1,80.5 109.8,80.5 110.1,80.4 110.5,80.3 110.8,80.1 111.1,80.1 111.5,80.1 111.8,80.2 112.1,80.3 112.4,80.4 112.8,80.5 114.1,80.5 114.4,80.5 114.8,80.4 115.1,80.4" fill="none" stroke="#ff4646" stroke-opacity="0.79" stroke-width="0.95" stroke-linejoin="round"/>
<polyline points="4.2,80.6 6.2,80.5 6.5,80.4 6.8,80.3 7.2,80.2 7.5,80.2 7.8,80.1 8.2,80.2 8.5,80.3 8.8,79.4 9.2,76 9.5,67.6 9.8,54.8 10.1,44.2 10.5,44.4 10.8,55.2 11.1,68 11.5,76.2 11.8,79.5 12.1,80.4 12.4,80.6 15.8,80.6 16.1,80.5 16.4,79.8 16.7,76.9 17.1,68.7 17.4,54.1 17.7,38.7 18.1,33.8 18.4,43.6 18.7,60 19.1,72.5 19.4,78.3 19.7,80.2 20,80.5 21.7,80.5 22,80.4 22.4,80.3 22.7,80.3 23.7,80.3 24,80.3 25.6,80.3 26,80.4 26.3,80.4 26.6,80.5 27.6,80.5 28,80.5 28.3,80.4 28.6,80.3 28.9,80.2 29.6,80.1 29.9,80.2 30.3,80.4 30.6,80.5 30.9,80.5 34.6,80.6 34.9,80.5 35.2,80.4 35.6,80.3 35.9,80.2 36.2,80.1 36.5,80.1 36.9,80.1 37.2,80.3 37.5,80.4 37.9,80.5 38.2,80.5 44.8,80.3 45.1,80.2 46.1,80.2 46.4,80.3 46.8,80.4 47.1,80.4 47.4,80.5 47.8,80.4 48.1,80.3 48.4,80.1 48.8,80 49.1,80 49.4,80.1 49.7,80.2 50.1,80.4 50.4,80.5 50.7,80.5 51.4,80.5 51.7,80.5 52.1,80.4 52.4,80.3 52.7,80.2 53.4,80.2 53.7,80.2 54.4,80.2 54.7,80.2 55,80.1 55.4,80.1 55.7,80.2 56,80.3 56.3,80.3 56.7,80.3 57,80.3 57.3,80.2 57.7,80.1 58,80.1 58.3,80.2 58.7,80.3 59,80.4 59.3,80.5 65.2,80.6 65.6,80.5 65.9,80.4 66.2,80.3 66.6,80.2 66.9,79.7 67.2,77.4 67.6,72.2 67.9,65.2 68.2,60.7 68.6,62.4 68.9,68.8 69.2,75 69.5,77.7 69.9,75.7 70.2,68.2 70.5,56.5 70.9,47.5 71.2,48.3 71.5,58.4 71.9,69.8 72.2,76.9 72.5,79.7 72.8,80.4 73.2,80.5 75.2,80.6 75.5,80.4 75.8,79.7 76.1,77.6 76.5,73.6 76.8,69.3 77.1,67.5 77.5,69.9 77.8,74.5 78.1,78.1 78.5,79.9 78.8,80.5 86.4,80.5 86.7,80.4 87,80.3 87.4,80.1 87.7,80.1 88,78.9 88.4,75.2 88.7,68.2 89,60.7 89.3,57.9 89.7,62.3 90,70.1 90.3,76 90.7,77.3 91,73.2 91.3,63.2 91.7,50.7 92,44.3 92.3,49.5 92.6,61.7 93,72.5 93.3,78.1 93.6,80.1 94,80.5 94.3,80.5 94.6,80.4 95,80.3 95.3,80.3 95.9,80.3 96.3,80.3 96.6,80.4 96.9,80.5 99.6,80.5 99.9,80.5 100.2,80.4 100.6,80.3 100.9,80.2 101.2,80.1 101.6,80.1 101.9,80.2 102.2,80.3 102.5,80.4 102.9,80.4 103.2,80.3 103.5,80.2 103.9,80.1 104.2,80 104.5,80.1 104.9,80.2 105.2,80.3 105.5,80.4 107.5,80.4 107.8,80.3 108.2,79.4 108.5,76.3 108.8,69.9 109.1,62.1 109.5,57.8 109.8,60.8 110.1,68.5 110.5,75.1 110.8,77.7 111.1,76.1 111.5,70.7 111.8,64.2 112.1,61.3 112.4,64.5 112.8,71.2 113.1,76.7 113.4,79.4 113.8,80.4 115.1,80.3" fill="none" stroke="#6060ff" stroke-opacity="0.75" stroke-width="0.95" stroke-linejoin="round"/>
<polyline points="4.9,138.1 5.2,138 5.6,138 5.9,137.9 6.2,137.7 6.6,137.6 6.9,137.6 8.5,137.6 8.9,137.6 9.2,137.7 9.5,137.8 12.5,137.9 12.8,137.7 13.2,136.3 13.5,131.7 13.8,121.8 14.1,108.7 14.5,100.7 14.8,104.4 15.1,116.7 15.5,128.4 15.8,134.8 16.1,136.3 16.5,134.1 16.8,128 17.1,119.8 17.4,114.6 17.8,116.7 18.1,124.1 18.4,130.3 18.8,130.5 19.1,123.6 19.4,113.4 19.8,107.5 20.1,111.3 20.4,121.5 20.7,130.8 21.1,135.8 21.4,137.6 21.7,137.9 30.3,138 30.6,137.9 31,137.8 31.3,137.8 32,137.8 32.3,137.9 32.6,137.9 33.3,137.9 33.6,137.8 33.9,137.7 34.3,137.7 34.6,137.7 34.9,137.7 35.3,137.8 35.6,137.9 35.9,138 36.9,137.9 37.2,137.6 37.6,135.8 37.9,130.3 38.2,119.7 38.6,107.3 38.9,101.6 39.2,107.6 39.6,120 39.9,130.2 40.2,134 40.5,131.6 40.9,124 41.2,114.8 41.5,110.9 41.9,115.7 42.2,124.9 42.5,132.2 42.9,134.4 43.2,131 43.5,122.4 43.8,112.6 44.2,108.7 44.5,114.1 44.8,124.2 45.2,131.9 45.5,133.8 45.8,129.1 46.2,118.2 46.5,106.2 46.8,101.7 47.1,108.8 47.5,121.4 47.8,131.4 48.1,136.2 48.5,137.7 48.8,137.7 49.1,137.8 49.5,137.9 49.8,137.9 50.1,137.9 50.4,137.2 50.8,134 51.1,125.2 51.4,109.3 51.8,92.9 52.1,88 52.4,98.8 52.8,116.2 53.1,129 53.4,133.2 53.7,129.8 54.1,120.9 54.4,111.5 54.7,108.9 55.1,115.5 55.4,125.7 55.7,133.3 56.1,136.8 56.4,137.8 56.7,138 58,137.9 58.4,137.8 58.7,136.7 59,132.9 59.4,124.8 59.7,114 60,107.2 60.3,110 60.7,120 61,129.6 61.3,133.7 61.7,131.1 62,121.8 62.3,109.1 62.7,101.3 63,105.2 63.3,117.3 63.6,128.8 64,135.1 64.3,137.4 64.6,138 65,138 65.3,137.9 65.6,137.8 66,137.7 66.6,137.7 66.9,137.8 67.3,137.9 67.9,137.8 68.3,137.8 68.6,137.7 69.3,137.7 69.6,137.8 69.9,137.9 70.2,138 73.5,138.1 73.9,137.9 74.2,136.9 74.5,133.6 74.9,125.5 75.2,113.2 75.5,103.3 75.9,103.7 76.2,114.1 76.5,126.2 76.8,134 77.2,137.1 77.5,137.9 77.8,138.1 78.8,138.1 79.2,137.9 79.5,137 79.8,134.1 80.1,127.2 80.5,117.1 80.8,109.4 81.1,110.5 81.5,119.3 81.8,129 82.1,135 82.5,137.3 82.8,138 83.1,138 85.4,138 85.8,138 86.1,137.9 86.4,137.8 86.7,137.7 87.1,137.6 88.7,137.7 89.1,137.7 89.4,137.8 89.7,137.9 90,138 90.4,137.5 90.7,135.5 91,129.9 91.4,119.7 91.7,108.9 92,105.3 92.4,112.1 92.7,123.5 93,132.3 93.3,136.5 93.7,137.8 94,137.8 94.3,137.9 94.7,138 97.6,137.9 98,137.9 98.3,137.8 98.6,137.7 99,137.6 99.3,137.6 99.6,137.7 99.9,137.8 100.3,137.9 100.6,138 101.6,137.9 101.9,137.9 103.6,137.9 103.9,137.4 104.2,135.2 104.6,129.4 104.9,119.3 105.2,109.5 105.6,107.3 105.9,114.7 106.2,125.5 106.5,133.3 106.9,136.8 107.2,137.8 107.5,138 107.9,137.9 108.2,137.9 110.2,137.9 110.5,137.8 110.8,137.8 112.8,137.8 113.1,137.7 113.8,137.7 114.1,137.8 114.5,137.5 114.8,135.7 115.1,131.2 115.5,124 115.8,117.7" fill="none" stroke="#3aa870" stroke-opacity="0.85" stroke-width="0.95" stroke-linejoin="round"/>
<polyline points="4.9,138.1 6.6,138 6.9,137.9 7.2,137.3 7.5,134.6 7.9,127.4 8.2,115.4 8.5,104 8.9,101.8 9.2,110.8 9.5,123.6 9.9,132.5 10.2,136.1 10.5,135.5 10.8,131 11.2,122.9 11.5,115.1 11.8,113.4 12.2,119.4 12.5,128.1 12.8,134.3 13.2,137.1 13.5,137.7 13.8,137.7 14.1,137.8 14.5,137.9 14.8,137.9 15.5,137.9 15.8,137.8 16.1,137.8 16.5,137.7 20.1,137.6 20.4,137.6 20.7,137.2 21.1,134.7 21.4,128.2 21.7,117.9 22.1,109 22.4,108.5 22.7,116.7 23.1,127.2 23.4,133.7 23.7,134.6 24,129.4 24.4,117.5 24.7,102.9 25,95.5 25.4,101.7 25.7,116.1 26,128.7 26.4,135.3 26.7,137.5 27,137.8 27.7,137.8 28,137.9 28.3,137.9 29.7,137.9 30,137.9 30.3,137.8 30.6,137.7 31,137.6 31.3,137.5 31.6,135.3 32,128.8 32.3,116.3 32.6,102.3 33,96.4 33.3,103.8 33.6,118.2 33.9,129.8 34.3,135.3 34.6,135.8 34.9,132.2 35.3,124.3 35.6,115.3 35.9,111.3 36.3,115.9 36.6,125.1 36.9,132.7 37.2,136.5 37.6,137.8 37.9,137.9 38.2,137.9 41.9,138 42.2,137.9 42.5,137.8 42.9,137.7 43.5,137.7 43.8,137.8 44.2,137.9 44.5,137.9 47.5,138 47.8,137.8 48.1,136.8 48.5,134.1 48.8,129 49.1,123.7 49.5,121.9 49.8,125.2 50.1,130.8 50.4,135.2 50.8,137.3 51.1,137.8 51.4,137.7 51.8,137.7 52.4,137.7 52.8,137.8 53.1,137.9 53.4,137.9 54.7,138 55.1,137.9 55.4,137.9 55.7,137.8 56.1,136.7 56.4,133.8 56.7,128.9 57,124 57.4,122.9 57.7,126.4 58,131.8 58.4,135.5 58.7,136.5 59,134.4 59.4,128.9 59.7,121.4 60,116.7 60.3,118.7 60.7,125.7 61,132.5 61.3,136.3 61.7,137.7 62,137.7 62.3,137.8 62.7,137.9 63.6,137.9 64,137.8 64.3,137.7 64.6,137.7 65,137.8 65.3,137.9 65.6,137.9 66,138 75.5,138 75.9,138 76.2,137.9 76.5,137.8 76.8,137.7 79.2,137.7 79.5,137.8 81.8,138 82.1,137.8 82.5,136.6 82.8,133.2 83.1,126.9 83.4,120 83.8,117.5 84.1,121.4 84.4,128.5 84.8,134 85.1,135.7 85.4,133 85.8,124.9 86.1,112.8 86.4,103.7 86.7,105.1 87.1,115.8 87.4,127.4 87.7,134.5 88.1,137.2 88.4,137.9 94,138 94.3,138 94.7,137.9 95,137.8 95.3,137.7 96,137.7 96.3,137.8 96.6,137.9 97,137.9 101.3,138 101.6,137.9 101.9,137.9 102.9,137.9 103.2,137.9 103.6,138 107.9,137.8 108.2,137.8 108.5,137.9 108.9,137.9 109.2,137.2 109.5,134.5 109.8,127.4 110.2,115.7 110.5,104.9 110.8,103.3 111.2,112.3 111.5,124.6 111.8,133.1 112.2,136.8 112.5,137.8 112.8,138 113.1,137.9 113.5,137.9 115.1,137.8 115.5,137.7 115.8,137.7" fill="none" stroke="#555555" stroke-opacity="0.85" stroke-width="0.95" stroke-linejoin="round"/>
<polyline points="4.9,135.7 5.2,130.9 5.6,122.5 5.9,114.4 6.2,112.5 6.6,118.6 6.9,127.6 7.2,134.1 7.5,137 7.9,137.9 8.2,137.9 10.5,138 10.8,137.9 11.2,137.8 11.5,137.7 12.2,137.7 12.5,137.8 12.8,137.9 13.2,138 13.5,138 14.5,138 14.8,138 15.1,137.9 15.5,137.8 18.4,137.9 18.8,137.9 19.1,138 22.4,137.9 22.7,137.9 23.1,137.8 23.4,137.7 24,137.7 24.4,137.8 24.7,137.9 25,138 28.3,138 28.7,137.7 29,136.1 29.3,131.6 29.7,122.7 30,112.4 30.3,107.8 30.6,112.8 31,123.2 31.3,131.9 31.6,136.3 32,137.7 32.3,137.9 33,137.9 33.3,137.8 33.6,137.8 34.3,137.8 34.6,137.8 34.9,137.9 35.3,138 45.8,138 46.2,137.9 46.5,137.8 46.8,137.7 47.1,137.6 47.5,137.6 47.8,137.7 48.1,137.8 48.5,137.9 48.8,137.9 52.1,138 52.4,137.9 52.8,137.9 53.1,137.8 55.1,137.7 55.4,137.7 55.7,137.8 58.4,137.8 58.7,137.8 59.4,137.7 59.7,137.8 60,137.9 60.3,137.9 61.3,137.9 61.7,137.9 62,137.8 62.7,137.8 63,137.9 63.3,138 63.6,137.3 64,134.9 64.3,128.8 64.6,118.8 65,109.7 65.3,108.5 65.6,116.3 66,126.3 66.3,131.6 66.6,128.9 66.9,118.3 67.3,104.6 67.6,97.6 67.9,103.5 68.3,117.2 68.6,129 68.9,134.4 69.3,133.4 69.6,126.1 69.9,113.9 70.2,103.4 70.6,103 70.9,112.9 71.2,125.2 71.6,132.6 71.9,133.1 72.2,127.1 72.6,116.4 72.9,107.4 73.2,107.4 73.5,116.4 73.9,127.2 74.2,134.2 74.5,137.1 74.9,137.9 75.2,137.8 75.5,137.7 75.9,137.7 76.5,137.7 76.8,137.1 77.2,134.4 77.5,127.8 77.8,118 78.2,110.4 78.5,111.1 78.8,119.5 79.2,129 79.5,135 79.8,137.3 80.1,137.9 80.5,137.9 80.8,137.9 81.1,137.8 84.8,138 85.1,138 85.4,137.9 85.8,137.8 86.4,137.8 86.7,137.9 87.1,137.9 87.4,138 87.7,137.7 88.1,136.1 88.4,131.8 88.7,123.7 89.1,114.9 89.4,111.7 89.7,116.9 90,126 90.4,133.2 90.7,136.7 91,137.8 91.4,138 92,138 92.4,137.9 93.7,137.8 94,137.7 94.3,137.7 95,137.7 95.3,137.8 95.7,137.4 96,135.2 96.3,129 96.6,118.1 97,107.2 97.3,104.3 97.6,111.9 98,123.8 98.3,132.6 98.6,136.6 99,137.8 99.9,137.7 100.3,137.8 100.6,137.9 100.9,137.9 101.3,137.8 101.6,136.9 101.9,133.5 102.3,126.1 102.6,115.9 102.9,109 103.2,111.2 103.6,120.5 103.9,129.9 104.2,135.4 104.6,137.5 104.9,137.7 105.2,137.8 105.6,137.8 105.9,137.9 106.2,138 106.5,137.4 106.9,135 107.2,128.8 107.5,118.4 107.9,108.5 108.2,106.6 108.5,114.5 108.9,125.5 109.2,133.4 109.5,136.8 109.8,137.8 110.2,138 110.5,138 110.8,138 111.2,137.9 111.5,137.8 111.8,137.7 113.8,137.6 114.1,137.6 114.5,137.7 114.8,137.9 115.1,138 115.5,138 115.8,138" fill="none" stroke="#ff4646" stroke-opacity="0.9" stroke-width="0.95" stroke-linejoin="round"/>
<polyline points="4.9,138.1 6.2,138 6.6,137.9 6.9,137.9 7.2,137.8 7.5,137.7 8.2,137.7 8.5,137.8 10.5,137.8 10.8,137.9 11.2,137.9 16.1,138 16.5,138 16.8,137.9 17.1,137.8 17.4,137.7 18.1,137.7 18.4,137.8 18.8,137.8 19.1,137.9 25.7,137.9 26,137.3 26.4,135.1 26.7,129.8 27,121.6 27.3,114.9 27.7,115 28,121.9 28.3,130.1 28.7,135.3 29,137.4 29.3,138 29.7,137.9 30,137.8 30.3,137.8 30.6,137.7 31,137.7 31.3,137.8 31.6,137.9 32,137.9 32.3,138 33.3,138 33.6,137.9 33.9,137.9 34.9,137.8 35.3,137.9 37.6,137.9 37.9,137.9 38.2,137.8 38.6,137.7 39.9,137.6 40.2,137.6 41.2,137.6 41.5,137.7 42.2,137.8 42.5,137.8 42.9,137.9 43.2,138 44.5,138 44.8,137.9 45.2,137.8 45.8,137.8 46.2,137.9 46.5,137.9 46.8,138 48.1,138 48.5,137.9 48.8,137.8 49.1,137.7 49.5,137.7 49.8,137.7 50.1,137.7 50.4,137.8 50.8,137.9 51.1,137.9 53.7,138 54.1,138 54.4,137.9 57.4,137.9 57.7,137.8 58,137.8 59,137.8 59.4,137.8 72.2,138 72.6,137.9 72.9,137.8 73.2,137.7 73.9,137.7 74.2,137.8 74.5,137.9 74.9,138 75.2,138 79.2,138 79.5,137.9 79.8,137.8 80.1,137.7 80.8,137.7 81.1,137.8 81.5,137.9 81.8,137.9 84.1,138 84.4,137.9 84.8,137.8 85.1,137.7 87.7,137.6 88.1,137.7 88.4,137.8 88.7,137.8 92.7,137.9 93,137.4 93.3,135.1 93.7,128.6 94,117 94.3,105 94.7,101.4 95,109.3 95.3,122.1 95.7,131.8 96,136.4 96.3,137.7 96.6,137.9 98,137.8 98.3,137.2 98.6,134.3 99,126.6 99.3,113.2 99.6,100 99.9,96.9 100.3,106.7 100.6,121.1 100.9,131.6 101.3,136.3 101.6,137.7 101.9,137.9 102.3,138 104.9,137.9 105.2,138 106.9,138 107.2,137.9 107.5,137.9 108.5,137.9 108.9,137.9 109.8,138 110.2,137.9 110.5,137.8 110.8,137.8 112.2,137.8 112.5,136.8 112.8,133.4 113.1,126.1 113.5,116.5 113.8,110.6 114.1,113.4 114.5,122.4 114.8,131 115.1,135.8 115.5,137.6 115.8,137.7" fill="none" stroke="#6060ff" stroke-opacity="0.85" stroke-width="0.95" stroke-linejoin="round"/>
<polyline points="350.1,74.9 350.4,70.7 350.8,65.7 351.1,62.8 351.4,63.5 351.8,66.3 352.1,67.7 352.4,66.5 352.7,64.6 353.1,65 353.4,68.5 353.7,72.9 354.1,76.2 354.4,77.7 354.7,77.1 355.1,76.7 355.4,76.4 355.7,76.5 356,76.8 356.4,76.5 356.7,73 357,67.8 357.4,62.8 357.7,61.2 358,64.3 358.4,69.7 358.7,74.5 359,77 359.3,76.7 359.7,76.8 360,77.1 360.3,77.5 360.7,78 361,78.3 361.3,78.5 361.7,78.6 362,78.5 362.3,78.4 362.6,78.2 363,78.1 363.3,77.9 363.6,77.7 364,77.5 364.3,77.1 364.6,76.6 365,76.1 365.3,75.9 365.6,76.1 365.9,76.6 366.3,77.3 366.6,77.9 366.9,78.3 367.3,78.4 367.6,78.4 367.9,78.3 368.3,78.1 368.6,78 368.9,77.9 369.2,78 369.6,78.2 369.9,78.4 370.2,78.5 370.6,78.6 371.2,78.6 371.6,78.4 371.9,77.6 372.2,75.1 372.5,70 372.9,62.9 373.2,57.1 373.5,56.4 373.9,61.4 374.2,68.6 374.5,74.2 374.9,77.2 375.2,77.9 375.5,78 375.8,78.1 376.2,78.3 376.5,78.2 376.8,76.9 377.2,74 377.5,69.4 377.8,64.8 378.2,62.9 378.5,65.1 378.8,69.5 379.1,72.8 379.5,72.7 379.8,69.6 380.1,65.9 380.5,64.7 380.8,67.1 381.1,71.3 381.5,74.8 381.8,75.8 382.1,74 382.4,70.3 382.8,66.7 383.1,65.6 383.4,68 383.8,72.1 384.1,75.6 384.4,77.6 384.8,78.4 385.1,78.3 385.4,78.1 385.7,77.9 386.1,77.6 386.4,77.2 386.7,76.7 387.1,76.3 387.4,76.1 387.7,76.3 388.1,76.8 388.4,77.5 388.7,78 389,78.4 389.4,78.6 389.7,78.6 391.4,78.6 391.7,78.4 392,77.5 392.3,74.9 392.7,69.5 393,61.6 393.3,54.3 393.7,52.6 394,57.1 394.3,64.1 394.7,69.2 395,70.4 395.3,68.6 395.6,64.6 396,61 396.3,60.6 396.6,63.6 397,67.9 397.3,70.9 397.6,71.3 398,69 398.3,65 398.6,61.8 398.9,61.5 399.3,64.4 399.6,68.4 399.9,71.1 400.3,71.1 400.6,68.5 400.9,64.3 401.3,60.9 401.6,60.7 401.9,63.9 402.2,68.2 402.6,71 402.9,71.2 403.2,68.7 403.6,64.7 403.9,61.6 404.2,61.6 404.6,64.7 404.9,68.7 405.2,71.2 405.5,71.1 405.9,68.4 406.2,64.2 406.5,61.1 406.9,61.2 407.2,64.5 407.5,68.6 407.9,71.2 408.2,71 408.5,68.2 408.8,64.1 409.2,61 409.5,61.3 409.8,64.6 410.2,68.8 410.5,71.2 410.8,71.1 411.2,68.3 411.5,64.3 411.8,61.4 412.1,61.8 412.5,65.2 412.8,69.6 413.1,73.3 413.5,75.4 413.8,76.5 414.1,76.3 414.5,76.4 414.8,76.8 415.1,77 415.4,77.1 415.8,76.7 416.1,76.3 416.4,76 416.8,76.1 417.1,76.5 417.4,77.2 417.8,77.8 418.1,78.2 418.4,78.5 418.7,78.6 421.4,78.6 421.7,78.5 422,78.3 422.4,78 422.7,77.6 423,77.4 423.4,77.3 423.7,77.5 424,77.8 424.4,78.1 424.7,78.3 425,78.4 425.3,78.4 425.7,78.2 426,78 426.3,77.7 426.7,77.6 427,77.6 427.3,77.7 427.7,77.9 428,78 428.3,76.8 428.6,74.4 429,70.9 429.3,67.9 429.6,67.4 430,69.3 430.3,72 430.6,73.9 431,74.7 431.3,75.1 431.6,74.9 431.9,74 432.3,71.7 432.6,67.5 432.9,62.9 433.3,60.3 433.6,61.7 433.9,66 434.3,70.4 434.6,72.9 434.9,73 435.2,70.9 435.6,67.5 435.9,64.5 436.2,64 436.6,66.4 436.9,69.9 437.2,72.3 437.6,72.4 437.9,70.1 438.2,66.1 438.5,62.7 438.9,62.3 439.2,65.2 439.5,69.4 439.9,72.7 440.2,74.4 440.5,75 440.9,75 441.2,74.1 441.5,71.9 441.8,67.8 442.2,62.8 442.5,59.6 442.8,60.5 443.2,64.8 443.5,69.5 443.8,72.2 444.2,72.3 444.5,70 444.8,66.8 445.1,64.8 445.5,65.5 445.8,68.4 446.1,71.6 446.5,73.7 446.8,74.3 447.1,73.4 447.5,71.3 447.8,68.7 448.1,67 448.4,67.5 448.8,69.6 449.1,71.4 449.4,71.4 449.8,69.1 450.1,65.8 450.4,63.8 450.8,64.8 451.1,68.1 451.4,71.3 451.7,72.9 452.1,72.3 452.4,69.7 452.7,66.5 453.1,64.7 453.4,65.7 453.7,68.7 454.1,71.7 454.4,73 454.7,72 455,69.1 455.4,65.6 455.7,63.8 456,65 456.4,68.3 456.7,71.5 457,72.8 457.4,71.7 457.7,68.5 458,64.8 458.3,62.9 458.7,64.4 459,68 459.3,71.6 459.7,73.8 460,74.2 460.3,73 460.7,70 461,65.6 461.3,61.9 461.6,61.4 462,64.5 462.3,69 462.6,72.5 463,74.4 463.3,75.4 463.6,76.1 464,76.7 464.3,77.3 464.6,77.8 464.9,78.4 465.3,78.6 466.3,78.6 466.6,78.5 466.9,78.4 467.3,78.2 467.6,77.9" fill="none" stroke="#3aa870" stroke-opacity="0.85" stroke-width="0.95" stroke-linejoin="round"/>
<polyline points="350.1,78.7 351.1,78.6 351.4,78.6 351.8,78.4 352.1,78.2 352.4,77.9 352.7,77.6 353.1,77.4 353.4,77.4 353.7,77.6 354.1,77.9 354.4,78.2 354.7,78.4 355.1,78.5 355.4,78.5 355.7,78.3 356,77.9 356.4,77.5 356.7,77 357,76.6 357.4,76.6 357.7,76.9 358,77.4 358.4,77.7 358.7,77.9 359,77.7 359.3,77.4 359.7,77.2 360,77.1 360.3,77.2 360.7,77.5 361,77.7 361.3,77.8 361.7,77.7 362,77.5 362.3,77.2 362.6,77.2 363,77.3 363.3,77.5 363.6,77.7 364,77.9 364.3,78.1 364.6,78.3 365,78.4 365.3,78.5 365.6,78.6 366.3,78.5 366.6,78.5 366.9,78.4 367.3,78.3 367.6,78 367.9,77.6 368.3,76.9 368.6,76.4 368.9,76 369.2,76.1 369.6,76.5 369.9,77.1 370.2,77.6 370.6,77.9 370.9,78.1 371.6,78.1 371.9,78 372.2,77.7 372.5,77.4 372.9,77 373.2,76.9 373.5,77 373.9,77.3 374.2,77.8 374.5,78.1 374.9,78.2 375.2,78.2 375.5,78 375.8,77.8 376.2,77.7 376.5,77.7 376.8,77.8 377.2,78 377.5,78.2 377.8,78.2 378.2,78.1 378.5,78 378.8,77.9 379.1,77.8 379.5,77.7 379.8,77.3 380.1,76.8 380.5,76.4 380.8,76.2 381.1,76.4 381.5,76.9 381.8,77.5 382.1,77.9 382.4,78.1 382.8,78.1 383.1,77.8 383.4,77.6 383.8,77.4 384.1,77.4 384.4,77.6 384.8,77.9 385.1,77 385.4,73.5 385.7,66.8 386.1,58.3 386.4,52.2 386.7,52.8 387.1,59.6 387.4,68.1 387.7,74.2 388.1,77.1 388.4,77.2 388.7,74.5 389,67.5 389.4,55.8 389.7,43.3 390,37.5 390.4,42.6 390.7,54.9 391,66.8 391.4,74.2 391.7,77.4 392,76.9 392.3,76.4 392.7,76 393,75.9 393.3,75.8 393.7,75.7 394,75.7 394.3,75.9 394.7,76.4 395,77.1 395.3,77.7 395.6,78.2 396,78.4 396.3,78.3 396.6,78.1 397,77.7 397.3,77.2 397.6,76.9 398,76.8 398.3,77 398.6,77.4 398.9,77.9 399.3,78.2 399.6,78.4 399.9,78.5 400.3,78.3 400.6,78.1 400.9,77.8 401.3,77.4 401.6,77.1 401.9,76.8 402.2,76.5 402.6,76.2 402.9,76.1 403.2,76.3 403.6,76.8 403.9,77.3 404.2,77.8 404.6,78 404.9,77.9 405.2,77.6 405.5,77.3 405.9,77.1 406.2,77 406.5,76.9 406.9,76.7 407.2,76.5 407.5,76.4 407.9,76.5 408.2,77 408.5,77.5 408.8,78 409.2,78.3 409.5,78.5 409.8,78.4 410.2,78.1 410.5,77.6 410.8,77.1 411.2,76.5 411.5,76.3 411.8,76.4 412.1,76.9 412.5,77.5 412.8,78 413.1,78.2 413.5,78.2 413.8,77.9 414.1,77.4 414.5,76.7 414.8,76.2 415.1,76.1 415.4,76.3 415.8,76.9 416.1,77.5 416.4,78.1 416.8,78.4 417.1,78.6 417.4,78.6 420.1,78.6 420.4,78.5 420.7,78.4 421.1,78.3 421.4,78.1 421.7,78 422,78 422.4,78.2 422.7,78.3 423,78.4 423.4,78.5 423.7,78.5 424,78.4 424.4,78.3 424.7,78.2 425,78.1 425.3,78.1 425.7,76.7 426,74 426.3,70.5 426.7,67.7 427,67.7 427.3,70.4 427.7,73.9 428,76.3 428.3,76.5 428.6,76.9 429,77.3 429.3,77.6 429.6,77.8 430,77.9 430.3,78.1 430.6,78.2 431,78.3 431.3,78.1 431.6,77.8 431.9,77.4 432.3,77 432.6,76.8 432.9,76.9 433.3,77.2 433.6,77.7 433.9,78.1 434.3,77.2 434.6,74.7 434.9,70.5 435.2,66 435.6,63.8 435.9,65.6 436.2,70 436.6,74.3 436.9,76.9 437.2,77.5 437.6,78 437.9,78.3 438.2,78.3 438.5,78 438.9,77.5 439.2,76.9 439.5,76.3 439.9,74.2 440.2,69.7 440.5,64.9 440.9,62.9 441.2,65.1 441.5,69.8 441.8,74.3 442.2,77.1 442.5,77 442.8,76.5 443.2,76.3 443.5,76.4 443.8,76.9 444.2,77.5 444.5,78 444.8,78.4 445.1,78.5 445.8,78.6 446.1,78.5 446.5,78.4 447.5,78.4 447.8,78.5 448.1,78.6 449.1,78.6 449.4,78.5 449.8,78.4 450.1,78.2 450.4,78.1 450.8,78 451.4,78 451.7,78 452.1,77.9 452.4,77.7 452.7,77.6 453.1,77.7 453.4,77.9 453.7,78 454.1,78 454.4,77.7 454.7,77.2 455,76.6 455.4,76.1 455.7,76.1 456,76.4 456.4,77 456.7,77.5 457,77.8 457.4,77.9 457.7,77.8 458,77.7 458.3,77.7 458.7,77.8 459,77.9 459.3,78 459.7,78 460,77.9 460.3,77.8 460.7,77.9 461,78 461.3,78.2 461.6,78.4 462,78.6 462.3,78.6 463.6,78.6 464,78.6 464.3,78.5 464.6,78.3 464.9,78.2 465.3,78 465.6,77.9 465.9,77.7 466.3,77.5 466.6,77.3 466.9,77.1 467.3,77.1 467.6,77.3" fill="none" stroke="#555555" stroke-opacity="0.85" stroke-width="0.95" stroke-linejoin="round"/>
<polyline points="350.1,78.7 351.8,78.6 352.1,78.6 352.4,78.4 352.7,78.1 353.1,77.7 353.4,77.2 353.7,76.8 354.1,76.7 354.4,76.9 354.7,77.1 355.1,77.3 355.4,77.2 355.7,76.9 356,76.4 356.4,76.2 356.7,76.4 357,76.8 357.4,77.4 357.7,78 358,78.3 358.4,78.3 358.7,77.6 359,74.9 359.3,69.1 359.7,60.3 360,52.2 360.3,50 360.7,55.2 361,64.2 361.3,72 361.7,76.3 362,77.9 362.3,78 362.6,78.2 363,78.3 363.3,78.4 363.6,78.5 364,78.4 364.3,78.1 364.6,77.7 365,77 365.3,73.6 365.6,67.2 365.9,59.2 366.3,53.8 366.6,54.7 366.9,61.3 367.3,69.2 367.6,74.7 367.9,77.2 368.3,77.2 368.6,75.9 368.9,71.3 369.2,63.7 369.6,55.8 369.9,52.4 370.2,56 370.6,63.9 370.9,71.4 371.2,76 371.6,77.9 371.9,77.8 372.2,77.8 372.5,77.9 372.9,78 373.2,77.8 373.5,77.3 373.9,76.8 374.2,76.3 374.5,75.2 374.9,70.4 375.2,64.1 375.5,59.3 375.8,59.2 376.2,64 376.5,70.3 376.8,75.1 377.2,77.5 377.5,78.4 377.8,78.6 380.5,78.5 380.8,78.4 381.1,78.2 381.5,77.9 381.8,77.3 382.1,76.8 382.4,76.4 382.8,76.3 383.1,76.6 383.4,76.9 383.8,77.2 384.1,77.3 384.8,77.3 385.1,77.4 385.4,77.7 385.7,78 386.1,78.3 386.4,78.5 386.7,78.6 387.4,78.6 387.7,78.5 389.7,78.6 390,78.5 390.4,78.3 390.7,77.9 391,77.4 391.4,77 391.7,76.7 392,76.8 392.3,77.2 392.7,77.6 393,78 393.3,78.3 393.7,78.3 394,78.1 394.3,77.6 394.7,77 395,76.4 395.3,76.1 395.6,76.1 396,76.6 396.3,77.2 396.6,77.8 397,78.3 397.3,78.5 397.6,78.6 399.9,78.6 400.3,78.5 400.6,78.4 400.9,78.1 401.3,77.8 401.6,77.6 401.9,77.6 402.2,77.7 402.6,77.9 402.9,78.2 403.2,78.4 403.6,78.5 404.2,78.6 404.6,78.5 404.9,78.4 405.2,78.3 406.5,78.4 406.9,78.2 407.2,78.1 407.5,77.8 407.9,77.7 408.2,77.8 408.5,77.9 408.8,78.2 409.2,78.4 409.5,78.5 409.8,78.5 410.2,78.4 410.5,78 410.8,77.5 411.2,76.8 411.5,76.3 411.8,76.1 412.1,76.2 412.5,76.6 412.8,77 413.1,77.1 413.5,77 413.8,76.8 414.1,74.6 414.5,70.5 414.8,66.3 415.1,64.7 415.4,66.7 415.8,70.8 416.1,74.1 416.4,74.9 416.8,72.8 417.1,69.2 417.4,66.7 417.8,67.1 418.1,70.2 418.4,74 418.7,76.8 419.1,78.1 419.4,78 419.7,77.8 420.1,77.6 420.4,77.4 420.7,77.4 421.4,77.4 421.7,77.5 422,77.6 422.4,77.9 422.7,78.1 423,78.3 423.4,78.4 423.7,78.2 424,77.8 424.4,77.2 424.7,76.5 425,76.1 425.3,76 425.7,76.3 426,76.8 426.3,77.3 426.7,77.6 427,77.7 427.3,77.7 427.7,77.8 428,78 428.3,78.2 428.6,78.4 429,78.5 429.3,78.4 429.6,78.1 430,77.7 430.3,77.1 430.6,76.6 431,76.4 431.3,76.5 431.6,76.8 431.9,77.1 432.3,77.4 432.6,77.7 432.9,77.9 433.3,78.1 433.6,78.3 433.9,78.4 434.9,78.4 435.2,78.3 435.6,78.2 435.9,78 436.2,77.6 436.6,77.4 436.9,77.3 437.2,77.3 437.6,77.5 437.9,77.6 438.2,77.6 438.5,77.4 438.9,77.1 439.2,76.9 439.5,77 439.9,77.3 440.2,77.8 440.5,78.1 440.9,78.4 441.2,78.4 441.5,78.3 441.8,77.9 442.2,77.3 442.5,76.7 442.8,76.3 443.2,76.2 443.5,76.6 443.8,77.1 444.2,77.7 444.5,78.2 444.8,78.4 445.1,78.5 445.5,78.5 445.8,78.4 446.1,78.3 446.5,78.2 446.8,78.2 447.1,78.2 447.5,78.3 447.8,78.2 448.1,77.9 448.4,77.4 448.8,76.8 449.1,76.3 449.4,76 449.8,76 450.1,76.1 450.4,76.3 450.8,76.5 451.1,76.8 451.4,77.2 451.7,77.7 452.1,78.1 452.4,78.4 452.7,78.5 453.4,78.5 453.7,78.5 454.1,78.4 454.7,78.4 455,78.5 455.4,78.6 455.7,78.6 456.4,78.6 456.7,78.6 457,78.4 457.4,78.2 457.7,78 458,77.8 458.3,77.8 458.7,77.9 459,78 459.3,78.2 459.7,78.2 460,78 460.3,77.6 460.7,77.2 461,76.8 461.3,76.7 461.6,77 462,77.4 462.3,77.8 462.6,78.1 463,78 463.3,76.4 463.6,73.2 464,68.6 464.3,64.7 464.6,64.1 464.9,67.2 465.3,71.9 465.6,75.7 465.9,77.7 466.3,78.4 466.6,78.2 466.9,77.9 467.3,77.4 467.6,77" fill="none" stroke="#ff4646" stroke-opacity="0.9" stroke-width="0.95" stroke-linejoin="round"/>
<polyline points="350.1,78.4 350.4,78.1 350.8,77.7 351.1,77.2 351.4,76.8 351.8,76.6 352.1,76.7 352.4,77 352.7,77.3 353.1,77.5 353.4,77.7 353.7,75.5 354.1,70.5 354.4,62.6 354.7,55 355.1,52.5 355.4,56.8 355.7,64.9 356,72.2 356.4,76.4 356.7,78.1 357,78.5 357.4,78.5 357.7,78.4 358,78.2 358.4,78 358.7,77.7 359,77.3 359.3,76.8 359.7,76.6 360,76.5 360.3,76.8 360.7,77.2 361,77.4 361.3,77.4 361.7,77.2 362,76.4 362.3,72 362.6,63.7 363,53.3 363.3,46.5 363.6,47.9 364,56.5 364.3,66.6 364.6,73.7 365,77.2 365.6,77.1 365.9,77.3 366.3,77.7 366.6,77.9 366.9,78 367.3,77.9 367.6,77.7 367.9,77.5 368.3,77.5 368.6,77.7 368.9,78 369.2,78.2 369.6,78.4 369.9,78.4 370.2,78.3 370.6,78 370.9,77.7 371.2,77.4 371.6,77.3 371.9,77.5 372.2,77.8 372.5,78.1 372.9,78.3 373.2,78.4 373.5,78.3 373.9,78.1 374.2,77.9 374.5,77.7 374.9,77.6 375.2,77.7 375.5,77.9 375.8,78.1 376.2,78.2 376.5,78.1 376.8,77.9 377.2,77.6 377.5,77.3 377.8,77.3 378.5,77.3 378.8,77.2 379.1,77 379.5,76.8 379.8,76.8 380.1,77 380.5,77.3 380.8,77.6 381.1,77.7 381.8,77.6 382.1,77.7 382.4,77.9 382.8,78.1 383.1,78.4 383.4,78.5 383.8,78.6 384.1,78.5 384.4,78.5 384.8,78.4 385.1,78.3 385.4,78.2 385.7,78.1 386.1,77.8 386.4,77.6 386.7,77.4 387.1,77.4 388.7,77.4 389,77.5 389.4,77.7 389.7,77.7 390,77.7 390.4,77.6 390.7,77.5 391,77.6 391.4,77.8 391.7,78.1 392,78.3 392.3,78.3 392.7,78.2 393,77.9 393.3,77.6 393.7,77.3 394,77.1 394.3,77.3 394.7,77.6 395,78 395.3,78.3 395.6,78.4 396,78.4 396.3,78.2 396.6,77.9 397,77.5 397.3,77.3 397.6,77.3 398,77.5 398.3,77.8 398.6,78.2 398.9,78.4 399.3,78.5 399.6,78.4 399.9,78.2 400.3,77.8 400.6,77.2 400.9,76.7 401.3,76.4 401.6,76.5 401.9,76.9 402.2,77.5 402.6,78 402.9,78.3 403.2,78.5 403.6,78.5 403.9,78.3 404.2,78.2 404.6,78.1 404.9,78 405.5,78 405.9,77.9 406.2,77.5 406.5,76.9 406.9,76.3 407.2,76 407.5,76 407.9,76.4 408.2,77 408.5,77.5 408.8,77.8 409.2,77.8 409.5,77.7 409.8,77.6 410.2,77.5 410.5,77.4 410.8,77.3 411.2,77 411.5,76.8 411.8,76.9 412.1,77.1 412.5,77.6 412.8,78 413.1,78.3 413.5,78.4 413.8,78.3 414.1,78 414.5,77.6 414.8,77.3 415.1,77.1 415.4,77.2 415.8,77.5 416.1,77.9 416.4,78.1 416.8,78.3 417.1,78.4 417.4,78.3 417.8,78.2 418.1,78 418.4,77.8 418.7,77.6 419.1,77.5 419.4,77.4 419.7,77.1 420.1,76.7 420.4,76.2 420.7,75.9 421.1,75.9 421.4,76.4 421.7,77.1 422,77.7 422.4,76 422.7,71.4 423,64.1 423.4,56.7 423.7,53.6 424,57.2 424.4,64.8 424.7,71.9 425,76.2 425.3,77.5 425.7,78 426,78.3 426.3,78.4 426.7,78.4 427,78.1 427.3,77.7 427.7,77.2 428,76.8 428.3,76.6 428.6,76.8 429,77.3 429.3,77.8 429.6,78.1 430,78.2 430.3,78.1 430.6,77.9 431,77.5 431.3,77.2 431.6,77 431.9,77.2 432.3,77.4 432.6,77.4 432.9,77.3 433.3,76.9 433.6,76.4 433.9,76.1 434.3,76.2 434.6,76.7 434.9,77.3 435.2,77.9 435.6,78.2 435.9,78.4 436.2,78.4 436.6,78.2 436.9,78 437.2,77.8 437.6,77.8 437.9,77.8 438.2,78 438.5,78.2 438.9,78.2 439.2,78.2 439.5,77.9 439.9,77.5 440.2,77.3 440.5,77.2 440.9,77.3 441.2,77.6 441.5,78 441.8,78.2 442.2,78.4 445.5,78.6 445.8,78.1 446.1,76.5 446.5,72.4 446.8,65.4 447.1,57.4 447.5,53 447.8,55.4 448.1,62.8 448.4,70.5 448.8,75.5 449.1,77.8 449.4,77.8 449.8,77.3 450.1,76.9 450.4,76.7 450.8,76.8 451.1,77.2 451.4,77.7 451.7,78.1 452.1,78.4 452.4,78.5 452.7,78.4 453.1,78.3 453.4,78.1 453.7,78 454.1,78 454.4,78 454.7,78.1 455,78.2 455.4,78.2 455.7,78 456,77.9 456.4,77.8 456.7,77.8 457,77.9 457.4,78 457.7,78 458,77.9 458.3,77.8 458.7,77.6 459,77.5 459.3,77.3 459.7,77 460,76.8 460.3,76.8 460.7,76.9 461,77.3 461.3,77.7 461.6,78 462,78.1 463.6,78.2 464,78.1 464.3,77.9 464.6,77.8 464.9,77.7 465.3,77.5 465.6,75.6 465.9,72.3 466.3,68.9 466.6,67.3 466.9,68.7 467.3,72.2 467.6,75.5" fill="none" stroke="#6060ff" stroke-opacity="0.85" stroke-width="0.95" stroke-linejoin="round"/>
<polyline points="350.1,78.9 350.5,78.9 350.9,78.9 351.3,78.9 351.7,78.9 352.1,78.9 352.5,78.9 352.9,78.8 353.3,78.6 353.7,78.3 354.1,77.6 354.5,76.9 354.9,76.3 355.3,76.2 355.7,76.7 356.1,77.4 356.5,78.1 356.9,78.6 357.3,78.5 357.7,78 358.1,77.2 358.5,76.3 358.9,75.6 359.3,75.6 359.7,76.3 360.1,77.2 360.5,78 360.9,78.5 361.3,78.8 361.7,78.7 362.1,78.5 362.5,78.1 362.9,77.6 363.3,77.2 363.7,77.2 364.1,77.4 364.5,77.9 364.9,78.3 365.3,78.6 365.7,78.8 366.1,78.7 366.5,78.5 366.9,78.1 367.3,77.7 367.7,77.4 368.1,77.5 368.5,77.8 368.9,78.2 369.3,78.5 369.7,78.7 370.1,78.8 370.5,78.9 370.9,78.8 371.3,78.6 371.7,78.3 372.1,77.7 372.5,77.2 372.9,76.8 373.3,76.9 373.7,77.4 374.1,77.9 374.5,78.4 374.9,78.7 375.3,78.8 375.7,78.9 376.1,78.8 376.5,78.7 376.9,78.4 377.3,78 377.7,77.4 378.1,76.9 378.5,76.8 378.9,77.2 379.3,77.7 379.7,78.3 380.1,77.9 380.5,77.3 380.9,76.8 381.3,76.8 381.7,77.2 382.1,77.8 382.5,78.3 382.9,78.6 383.3,78.8 383.7,78.9 384.1,78.8 384.5,78.7 384.9,78.3 385.3,77.8 385.7,77.3 386.1,77 386.5,77 386.9,77.4 387.3,78 387.7,78.4 388.1,78.7 388.5,78.7 388.9,78.5 389.3,78.2 389.7,77.9 390.1,77.8 390.5,77.9 390.9,78.2 391.3,78.5 391.7,78.7 392.1,78.6 392.5,78.3 392.9,77.9 393.3,77.5 393.7,77.4 394.1,77.5 394.5,77.9 394.9,78.3 395.3,78.6 395.7,78.8 396.1,78.8 396.5,78.8 396.9,78.7 397.3,78.5 397.7,78.4 398.1,78.3 398.5,78.3 398.9,78.5 399.3,78.7 399.7,78.8 400.1,78.8 400.5,78.8 400.9,78.8 401.3,78.6 401.7,78.4 402.1,78.3 402.5,78.2 402.9,78.3 403.3,78.4 403.7,78.6 404.1,78.4 404.5,78.2 404.9,78.1 405.3,78.1 405.7,78.2 406.1,78.5 406.5,78.7 406.9,78.8 407.3,78.9 407.7,78.9 408.1,78.9 408.5,78.8 408.9,78.8 409.3,78.6 409.7,78.5 410.1,78.3 410.5,78.2 410.9,78.3 411.3,78.5 411.7,78.6 412.1,78.8 412.5,78.8 412.9,78.9 413.3,78.9 413.7,78.9 414.1,78.8 414.5,78.6 414.9,78.3 415.3,78 415.7,77.6 416.1,77.5 416.5,77.7 416.9,78 417.3,78.4 417.7,78.7 418.1,78.8 418.5,78.9 418.9,78.8 419.3,78.8 419.7,78.6 420.1,78.5 420.5,78.3 420.9,78.3 421.3,78.4 421.7,78.5 422.1,78.5 422.5,78 422.9,77.2 423.3,76.3 423.7,75.7 424.1,75.7 424.5,76.4 424.9,77.3 425.3,78.1 425.7,77.8 426.1,76.8 426.5,75.8 426.9,75.3 427.3,75.5 427.7,76.3 428.1,77.3 428.5,78.1 428.9,78.6 429.3,78.8 429.7,78.9 430.1,78.9 430.5,78.9 430.9,78.8 431.3,78.8 431.7,78.6 432.1,78.5 432.5,78.5 432.9,78.5 433.3,78.6 433.7,78.7 434.1,78.8 434.5,78.7 434.9,78.4 435.3,77.9 435.7,77.3 436.1,77 436.5,77 436.9,77.4 437.3,78 437.7,78.4 438.1,78.7 438.5,78.8 438.9,78.9 439.3,78.8 439.7,78.8 440.1,78.6 440.5,78.3 440.9,78.1 441.3,77.9 441.7,78 442.1,78.2 442.5,78.5 442.9,78.7 443.3,78.8 443.7,78.9 444.1,78.9 444.5,78.9 444.9,78.8 445.3,78.8 445.7,78.6 446.1,78.4 446.5,78.1 446.9,77.9 447.3,77.9 447.7,78.1 448.1,78.4 448.5,78.6 448.9,78.8 449.3,78.9 449.7,78.9 450.1,78.9 450.5,78.9 450.9,78.8 451.3,78.6 451.7,78.3 452.1,77.7 452.5,77.2 452.9,76.9 453.3,77 453.7,77.4 454.1,78 454.5,78.5 454.9,78.7 455.3,78.8 455.7,78.7 456.1,78.5 456.5,78.3 456.9,78.2 457.3,78.2 457.7,78.4 458.1,78.6 458.5,78.7 458.9,78.7 459.3,78.5 459.7,78.3 460.1,78.2 460.5,78.3 460.9,78.4 461.3,78.6 461.7,78.8 462.1,78.8 462.5,78.5 462.9,78 463.3,77.2 463.7,76.3 464.1,75.7 464.5,75.7 464.9,76.4 465.3,77.3 465.7,78.1 466.1,77.9 466.5,77.5 466.9,77.3 467.3,77.4" fill="none" stroke="#2a9058" stroke-opacity="0.8" stroke-width="0.85"/>
<polyline points="350.1,78.9 350.5,78.9 350.9,78.9 351.3,78.9 351.7,78.8 352.1,78.7 352.5,78.3 352.9,77.8 353.3,77 353.7,76.4 354.1,76.2 354.5,76.6 354.9,77.3 355.3,78 355.7,78.5 356.1,78.5 356.5,78.1 356.9,77.8 357.3,77.6 357.7,77.7 358.1,78 358.5,78.4 358.9,78.7 359.3,78.7 359.7,78.6 360.1,78.4 360.5,78.3 360.9,78.3 361.3,78.4 361.7,78.5 362.1,78.7 362.5,78.8 362.9,78.9 363.3,78.9 363.7,78.9 364.1,78.8 364.5,78.8 364.9,78.6 365.3,78.3 365.7,78.1 366.1,77.9 366.5,78 366.9,78.2 367.3,78.4 367.7,78.7 368.1,78.7 368.5,78.3 368.9,77.7 369.3,77 369.7,76.3 370.1,76.2 370.5,76.6 370.9,77.3 371.3,78 371.7,78.3 372.1,77.8 372.5,77.4 372.9,77.2 373.3,77.4 373.7,77.8 374.1,78.2 374.5,78.6 374.9,78.8 375.3,78.9 375.7,78.9 376.1,78.9 376.5,78.8 376.9,78.7 377.3,78.5 377.7,78.1 378.1,77.6 378.5,77.1 378.9,77 379.3,77.3 379.7,77.8 380.1,78.3 380.5,78.6 380.9,78.5 381.3,78.1 381.7,77.5 382.1,77.1 382.5,76.9 382.9,77.1 383.3,77.6 383.7,78.2 384.1,78.6 384.5,78.8 384.9,78.9 385.3,78.9 385.7,78.9 386.1,78.8 386.5,78.7 386.9,78.3 387.3,77.8 387.7,77.2 388.1,76.7 388.5,76.6 388.9,77 389.3,77.7 389.7,78.2 390.1,78.6 390.5,78.8 390.9,78.7 391.3,78.5 391.7,78.1 392.1,77.5 392.5,77.1 392.9,77 393.3,77.3 393.7,77.8 394.1,78.3 394.5,78.1 394.9,77.3 395.3,76.5 395.7,76 396.1,76 396.5,76.6 396.9,77.5 397.3,78.2 397.7,78.2 398.1,77.8 398.5,77.5 398.9,77.5 399.3,77.7 399.7,78.1 400.1,78.5 400.5,78.7 400.9,78.8 401.3,78.6 401.7,78.1 402.1,77.2 402.5,76.3 402.9,75.5 403.3,75.5 403.7,76.1 404.1,77 404.5,77.9 404.9,78.1 405.3,77.2 405.7,76.2 406.1,75.4 406.5,75.3 406.9,75.9 407.3,76.9 407.7,77.9 408.1,78.4 408.5,78.7 408.9,78.4 409.3,77.9 409.7,77.3 410.1,76.9 410.5,76.9 410.9,77.3 411.3,77.8 411.7,77.5 412.1,76.6 412.5,75.8 412.9,75.6 413.3,76 413.7,76.9 414.1,77.8 414.5,78.4 414.9,78.7 415.3,78.8 415.7,78.7 416.1,78.5 416.5,78.4 416.9,78.4 417.3,78.5 417.7,78.6 418.1,78.8 418.5,78.8 418.9,78.8 419.3,78.7 419.7,78.5 420.1,78.3 420.5,78 420.9,77.9 421.3,78 421.7,78.2 422.1,78.5 422.5,78.7 422.9,78.5 423.3,78.1 423.7,77.8 424.1,77.6 424.5,77.7 424.9,78 425.3,78.4 425.7,78.7 426.1,78.7 426.5,78.5 426.9,78.3 427.3,78.1 427.7,78 428.1,78.1 428.5,78.3 428.9,78.6 429.3,78.7 429.7,78.8 430.1,78.9 430.5,78.9 430.9,78.9 431.3,78.8 431.7,78.6 432.1,78.2 432.5,77.5 432.9,76.7 433.3,76.2 433.7,76.2 434.1,76.8 434.5,77.5 434.9,78.2 435.3,78.2 435.7,77.9 436.1,77.8 436.5,77.9 436.9,78.1 437.3,78.4 437.7,78.7 438.1,78.8 438.5,78.5 438.9,78 439.3,77.2 439.7,76.3 440.1,75.8 440.5,75.9 440.9,76.6 441.3,77.5 441.7,78.2 442.1,78.5 442.5,78.1 442.9,77.5 443.3,77 443.7,76.8 444.1,77.1 444.5,77.6 444.9,78.2 445.3,78.6 445.7,78.4 446.1,78.2 446.5,78.1 446.9,78.2 447.3,78.4 447.7,78.6 448.1,78.6 448.5,78.4 448.9,78 449.3,77.8 449.7,77.8 450.1,78 450.5,78.3 450.9,78.6 451.3,78.7 451.7,78.8 452.1,78.8 452.5,78.7 452.9,78.4 453.3,77.9 453.7,77.3 454.1,76.9 454.5,76.9 454.9,77.3 455.3,77.9 455.7,78.4 456.1,78.1 456.5,77.4 456.9,76.6 457.3,76 457.7,76 458.1,76.6 458.5,77.4 458.9,78.1 459.3,78.5 459.7,78.3 460.1,78.2 460.5,78.3 460.9,78.4 461.3,78.6 461.7,78.7 462.1,78.8 462.5,78.8 462.9,78.6 463.3,78.2 463.7,77.6 464.1,76.8 464.5,76.2 464.9,76 465.3,76.5 465.7,77.3 466.1,78 466.5,78.4 466.9,77.8 467.3,76.9" fill="none" stroke="#4a4a4a" stroke-opacity="0.8" stroke-width="0.85"/>
<polyline points="350.1,78.9 350.5,78.9 350.9,78.9 351.3,78.9 351.7,78.8 352.1,78.7 352.5,78.3 352.9,77.6 353.3,76.6 353.7,75.7 354.1,75.3 354.5,75.6 354.9,76.5 355.3,77.5 355.7,78.2 356.1,78.6 356.5,78.8 356.9,78.9 357.3,78.8 357.7,78.8 358.1,78.6 358.5,78.3 358.9,78 359.3,77.8 359.7,77.8 360.1,78.1 360.5,78.4 360.9,78.6 361.3,78.1 361.7,77.5 362.1,76.9 362.5,76.6 362.9,76.7 363.3,77.2 363.7,77.9 364.1,77.6 364.5,76.7 364.9,75.9 365.3,75.6 365.7,76 366.1,76.8 366.5,77.7 366.9,78.3 367.3,78.7 367.7,78.6 368.1,78.3 368.5,78.1 368.9,78 369.3,78.1 369.7,78.3 370.1,78.5 370.5,78.7 370.9,78.8 371.3,78.9 371.7,78.9 372.1,78.9 372.5,78.8 372.9,78.7 373.3,78.5 373.7,78.3 374.1,78.2 374.5,78.3 374.9,78.5 375.3,78.6 375.7,78.8 376.1,78.8 376.5,78.9 376.9,78.9 377.3,78.9 377.7,78.8 378.1,78.8 378.5,78.6 378.9,78.2 379.3,77.7 379.7,77.3 380.1,77.2 380.5,77.4 380.9,77.9 381.3,78.3 381.7,78.6 382.1,78.8 382.5,78.8 382.9,78.8 383.3,78.5 383.7,78.2 384.1,77.7 384.5,77.3 384.9,77.1 385.3,77.4 385.7,77.8 386.1,78.3 386.5,78.6 386.9,78.8 387.3,78.8 387.7,78.7 388.1,78.4 388.5,77.7 388.9,76.8 389.3,76 389.7,75.6 390.1,75.9 390.5,76.8 390.9,77.7 391.3,78.3 391.7,78.7 392.1,78.5 392.5,78 392.9,77.3 393.3,76.5 393.7,76 394.1,76.1 394.5,76.8 394.9,77.6 395.3,78.2 395.7,78.6 396.1,78.8 396.5,78.8 396.9,78.6 397.3,78.5 397.7,78.3 398.1,78.3 398.5,78.4 398.9,78.5 399.3,78.7 399.7,78.8 400.1,78.9 400.5,78.9 400.9,78.8 401.3,78.6 401.7,78.3 402.1,77.6 402.5,76.8 402.9,76.1 403.3,75.9 403.7,76.3 404.1,77.1 404.5,77.9 404.9,78.4 405.3,77.7 405.7,76.8 406.1,76 406.5,75.6 406.9,76 407.3,76.8 407.7,77.7 408.1,78.3 408.5,78.4 408.9,78 409.3,77.5 409.7,77.1 410.1,77.1 410.5,77.4 410.9,77.9 411.3,78.4 411.7,78.7 412.1,78.6 412.5,78.1 412.9,77.4 413.3,76.4 413.7,75.7 414.1,75.5 414.5,76.1 414.9,77 415.3,77.9 415.7,78.4 416.1,78.7 416.5,78.9 416.9,78.8 417.3,78.8 417.7,78.6 418.1,78.2 418.5,77.8 418.9,77.5 419.3,77.5 419.7,77.7 420.1,78.1 420.5,78.5 420.9,78.7 421.3,78.8 421.7,78.9 422.1,78.9 422.5,78.8 422.9,78.7 423.3,78.4 423.7,78.1 424.1,77.8 424.5,77.8 424.9,77.9 425.3,78.2 425.7,78.5 426.1,78.7 426.5,78.7 426.9,78.6 427.3,78.5 427.7,78.5 428.1,78.5 428.5,78.6 428.9,78.4 429.3,78 429.7,77.5 430.1,77.1 430.5,77.1 430.9,77.4 431.3,77.9 431.7,78.4 432.1,78.7 432.5,78.8 432.9,78.9 433.3,78.9 433.7,78.8 434.1,78.7 434.5,78.6 434.9,78.4 435.3,78.2 435.7,78.2 436.1,78.3 436.5,78.5 436.9,78.7 437.3,78.8 437.7,78.6 438.1,78.2 438.5,77.5 438.9,76.5 439.3,75.6 439.7,75.3 440.1,75.8 440.5,76.7 440.9,77.7 441.3,77.9 441.7,77.1 442.1,76.4 442.5,76.2 442.9,76.5 443.3,77.2 443.7,77.9 444.1,78.4 444.5,78.7 444.9,78.8 445.3,78.9 445.7,78.9 446.1,78.8 446.5,78.7 446.9,78.5 447.3,78.3 447.7,78.2 448.1,78.2 448.5,78.4 448.9,78.5 449.3,78 449.7,77.3 450.1,76.6 450.5,76.3 450.9,76.5 451.3,77.1 451.7,77.8 452.1,78.4 452.5,78.2 452.9,77.8 453.3,77.4 453.7,77.2 454.1,77.4 454.5,77.8 454.9,78.3 455.3,78.6 455.7,78.8 456.1,78.9 456.5,78.8 456.9,78.6 457.3,78.3 457.7,77.7 458.1,77.1 458.5,76.7 458.9,76.8 459.3,77.2 459.7,77.8 460.1,78.1 460.5,77.4 460.9,76.6 461.3,76.1 461.7,76.2 462.1,76.8 462.5,77.6 462.9,78.2 463.3,78.6 463.7,78.8 464.1,78.8 464.5,78.6 464.9,78.3 465.3,77.8 465.7,77.3 466.1,77.1 466.5,77.2 466.9,77.6 467.3,78.1" fill="none" stroke="#ff1e1e" stroke-opacity="0.8" stroke-width="0.85"/>
<polyline points="350.1,78.9 350.5,78.9 350.9,78.9 351.3,78.9 351.7,78.9 352.1,78.8 352.5,78.6 352.9,78.1 353.3,77.3 353.7,76.3 354.1,75.4 354.5,75.2 354.9,75.8 355.3,76.8 355.7,77.7 356.1,78.4 356.5,78.7 356.9,78.8 357.3,78.9 357.7,78.9 358.1,78.8 358.5,78.7 358.9,78.4 359.3,77.9 359.7,77.3 360.1,76.9 360.5,76.9 360.9,77.3 361.3,77.9 361.7,77.7 362.1,76.8 362.5,75.8 362.9,75.3 363.3,75.5 363.7,76.4 364.1,77.4 364.5,78.2 364.9,77.9 365.3,77 365.7,76 366.1,75.4 366.5,75.5 366.9,76.3 367.3,77.2 367.7,78.1 368.1,78.6 368.5,78.6 368.9,78.1 369.3,77.4 369.7,76.5 370.1,75.8 370.5,75.7 370.9,76.3 371.3,77.2 371.7,78 372.1,78.5 372.5,78.8 372.9,78.6 373.3,78.1 373.7,77.3 374.1,76.3 374.5,75.4 374.9,75.2 375.3,75.7 375.7,76.7 376.1,77.7 376.5,78.4 376.9,78.7 377.3,78.4 377.7,78.1 378.1,77.8 378.5,77.7 378.9,77.8 379.3,78.1 379.7,78.4 380.1,78.2 380.5,77.7 380.9,77.2 381.3,76.8 381.7,76.9 382.1,77.4 382.5,78 382.9,78.4 383.3,78.6 383.7,78.3 384.1,77.7 384.5,77.1 384.9,76.6 385.3,76.7 385.7,77.1 386.1,77.8 386.5,78.3 386.9,78.2 387.3,77.5 387.7,76.6 388.1,75.9 388.5,75.7 388.9,76.2 389.3,77 389.7,77.9 390.1,78.4 390.5,78.5 390.9,78 391.3,77.3 391.7,76.7 392.1,76.4 392.5,76.7 392.9,77.3 393.3,78 393.7,78.5 394.1,78.7 394.5,78.7 394.9,78.5 395.3,78 395.7,77.4 396.1,76.9 396.5,76.7 396.9,77 397.3,77.6 397.7,78.1 398.1,77.4 398.5,76.8 398.9,76.4 399.3,76.6 399.7,77.1 400.1,77.8 400.5,78.4 400.9,78.7 401.3,78.8 401.7,78.7 402.1,78.4 402.5,77.8 402.9,76.9 403.3,76.1 403.7,75.7 404.1,76 404.5,76.8 404.9,77.7 405.3,77.2 405.7,76.3 406.1,75.7 406.5,75.7 406.9,76.4 407.3,77.3 407.7,78.1 408.1,78.6 408.5,78.6 408.9,78.1 409.3,77.3 409.7,76.3 410.1,75.4 410.5,75.2 410.9,75.7 411.3,76.7 411.7,77.7 412.1,78.3 412.5,78.7 412.9,78.8 413.3,78.9 413.7,78.9 414.1,78.7 414.5,78.5 414.9,77.9 415.3,77 415.7,75.9 416.1,75.3 416.5,75.3 416.9,76.1 417.3,77.1 417.7,78 418.1,78.5 418.5,78.8 418.9,78.9 419.3,78.8 419.7,78.6 420.1,78.3 420.5,77.8 420.9,77.5 421.3,77.4 421.7,77.6 422.1,78 422.5,78.4 422.9,78.7 423.3,78.8 423.7,78.7 424.1,78.3 424.5,77.8 424.9,77.2 425.3,76.7 425.7,76.6 426.1,77 426.5,77.7 426.9,78.3 427.3,78.6 427.7,78.7 428.1,78.6 428.5,78.2 428.9,77.9 429.3,77.6 429.7,77.7 430.1,77.9 430.5,78.3 430.9,77.9 431.3,77.2 431.7,76.7 432.1,76.6 432.5,76.9 432.9,77.6 433.3,78.2 433.7,78.6 434.1,78.6 434.5,78.2 434.9,77.7 435.3,77.1 435.7,76.8 436.1,77 436.5,77.4 436.9,78 437.3,78.5 437.7,78.7 438.1,78.8 438.5,78.7 438.9,78.3 439.3,77.7 439.7,76.9 440.1,76.4 440.5,76.2 440.9,76.7 441.3,77.4 441.7,78.1 442.1,78.5 442.5,78.8 442.9,78.9 443.3,78.9 443.7,78.9 444.1,78.8 444.5,78.7 444.9,78.5 445.3,78.3 445.7,78.2 446.1,78.1 446.5,78.2 446.9,78.5 447.3,78.7 447.7,78.8 448.1,78.5 448.5,78 448.9,77.2 449.3,76.3 449.7,75.6 450.1,75.6 450.5,76.2 450.9,77.2 451.3,78 451.7,78.5 452.1,78.7 452.5,78.5 452.9,78.2 453.3,77.8 453.7,77.6 454.1,77.6 454.5,77.9 454.9,78.2 455.3,78.6 455.7,78.8 456.1,78.8 456.5,78.9 456.9,78.8 457.3,78.6 457.7,78.1 458.1,77.4 458.5,76.4 458.9,75.6 459.3,75.5 459.7,76 460.1,77 460.5,77.9 460.9,78.4 461.3,78.7 461.7,78.7 462.1,78.4 462.5,77.9 462.9,77.2 463.3,76.5 463.7,76.3 464.1,76.6 464.5,77.2 464.9,78 465.3,78.5 465.7,78.7 466.1,78.8 466.5,78.9 466.9,78.9 467.3,78.8" fill="none" stroke="#2424ff" stroke-opacity="0.8" stroke-width="0.85"/>
<polyline points="350.1,137.6 351.8,137.5 352.1,137.4 352.4,137.2 352.7,137 353.1,136.8 353.4,136.3 353.7,135.1 354.1,133.2 354.4,130.3 354.7,126.5 355.1,121.8 355.4,116.9 355.7,112.4 356,109.1 356.4,107.8 356.7,108.6 357,111.5 357.4,115.8 357.7,120.7 358,125.4 358.4,129.3 358.7,132 359,133.6 359.3,133.9 359.7,132.9 360,130.8 360.3,127.6 360.7,123.6 361,119.3 361.3,115.3 361.7,112.4 362,111.3 362.3,112.1 362.6,114.6 363,118.4 363.3,122.7 363.6,126.7 364,129.9 364.3,131.9 364.6,132.6 365,131.9 365.3,129.8 365.6,126.5 365.9,122.2 366.3,117.7 366.6,113.5 366.9,110.6 367.3,109.5 367.6,110.5 367.9,113.4 368.3,117.5 368.6,122.1 368.9,126.6 369.2,130.3 369.6,133.1 369.9,135 370.2,136.2 370.6,136.9 370.9,137.3 371.2,137.3 371.6,137.3 371.9,137.1 372.2,136.9 372.5,136.8 372.9,136.6 373.2,136.4 373.5,135.9 373.9,135.2 374.2,134.4 374.5,133.9 374.9,133.7 375.2,133.8 375.5,134 375.8,134.1 376.2,134.2 376.5,134.4 376.8,134.9 377.2,135.5 377.5,136 377.8,136.1 378.2,135.8 378.5,135.1 378.8,134.5 379.1,134.2 379.5,134.3 379.8,133.3 380.1,130.5 380.5,126.7 380.8,122.2 381.1,117.3 381.5,112.8 381.8,109.6 382.1,108.1 382.4,108.9 382.8,111.7 383.1,115.9 383.4,120.8 383.8,125.5 384.1,129.5 384.4,132.6 384.8,134.7 385.1,136 385.4,136.8 385.7,136.8 386.1,136.5 386.4,136 386.7,135.8 387.1,135.7 387.4,136 387.7,134.7 388.1,132.9 388.4,130.5 388.7,127.6 389,124.6 389.4,121.8 389.7,119.8 390,119 390.4,119.5 390.7,120.9 391,122.9 391.4,124.6 391.7,125.5 392,125.1 392.3,123.3 392.7,120.3 393,116.8 393.3,113.5 393.7,111.4 394,110.8 394.3,111.9 394.7,114.1 395,116.8 395.3,118.9 395.6,119.7 396,119.2 396.3,117.3 396.6,114.9 397,112.7 397.3,111.5 397.6,111.7 398,113.3 398.3,115.6 398.6,117.9 398.9,119.3 399.3,119.3 399.6,117.8 399.9,115.3 400.3,112.6 400.6,110.6 400.9,110.1 401.3,111.4 401.6,114.3 401.9,118.4 402.2,123 402.6,127.2 402.9,130.8 403.2,133.4 403.6,135.2 403.9,136.3 404.2,135.9 404.6,135.2 404.9,134.5 405.2,134.1 405.5,134.2 405.9,134.8 406.2,135.7 406.5,136.4 406.9,136.9 407.2,137.1 407.5,137 407.9,136.5 408.2,135.7 408.5,134.8 408.8,134.2 409.2,133.9 409.5,134.2 409.8,134.6 410.2,135 410.5,135.1 410.8,135 411.2,135.1 411.5,135.4 411.8,135.9 412.1,136.5 412.5,137 412.8,137.3 413.1,137.4 414.5,137.3 414.8,137.2 415.1,136.8 415.4,136.2 415.8,135.2 416.1,133.7 416.4,131.7 416.8,129.4 417.1,126.9 417.4,124.7 417.8,123.2 418.1,122.7 418.4,123.2 418.7,124.8 419.1,127 419.4,129.5 419.7,131.8 420.1,133.8 420.4,135.3 420.7,136.3 421.1,136.9 421.4,137.2 421.7,137.2 422,136.9 422.4,136.5 422.7,136 423,135.7 423.4,135.6 423.7,135.8 424,136.3 424.4,136.7 424.7,137 425,137.2 425.3,137.4 425.7,137.4 426.7,137.5 427,137.4 427.3,137.2 427.7,136.9 428,136.4 428.3,136 428.6,135.7 429,135.7 429.3,136 429.6,136.5 430,136.9 430.3,137.1 430.6,137.1 431,136.7 431.3,136.1 431.6,135.2 431.9,134.4 432.3,134.1 432.6,134.2 432.9,134.9 433.3,135.7 433.6,136.4 433.9,136.8 434.3,136.7 434.6,136.3 434.9,135.5 435.2,134.7 435.6,134.1 435.9,134.1 436.2,134.7 436.6,135.5 436.9,136.3 437.2,136.9 437.6,137.2 437.9,137.3 438.2,137.1 438.5,136.8 438.9,136.3 439.2,135.8 439.5,135.4 439.9,135.4 440.2,135.7 440.5,136.2 440.9,136.6 441.2,136.7 441.5,136.6 441.8,136.2 442.2,136 442.5,135.9 442.8,136 443.2,136.3 443.5,136.6 443.8,136.7 444.2,136.5 444.5,135.9 444.8,135.1 445.1,134.6 445.5,134.4 445.8,134.7 446.1,135.4 446.5,136.2 446.8,135.1 447.1,133.4 447.5,131 447.8,128.1 448.1,124.8 448.4,121.5 448.8,119 449.1,117.6 449.4,117.6 449.8,119.1 450.1,121.8 450.4,125 450.8,128.3 451.1,131.2 451.4,133.5 451.7,135.2 452.1,136.3 452.4,136.9 452.7,137 453.1,137.1 453.4,137 453.7,136.7 454.1,136.2 454.4,135.5 454.7,134.9 455,134.6 455.4,134.7 455.7,135.2 456,135.7 456.4,136.1 456.7,136.2 457,136.1 457.4,136.1 457.7,136.2 458,136.5 458.3,136.8 458.7,137 459,137.1 460.7,137.3 461,137.2 461.3,137 461.6,136.9 462,136.7 462.3,136.7 462.6,136.9 463,137.1 463.3,137.2 463.6,137.2 464,136.8 464.3,136.1 464.6,135.1 464.9,133.7 465.3,131.9 465.6,129.9 465.9,128 466.3,126.4 466.6,125.4 466.9,125.4 467.3,126.2 467.6,127.8" fill="none" stroke="#3aa870" stroke-opacity="0.61" stroke-width="0.95" stroke-linejoin="round"/>
<polyline points="350.1,123 350.4,119.7 350.8,117.3 351.1,116.2 351.4,116.7 351.8,118.7 352.1,121.7 352.4,125.2 352.7,128.7 353.1,131.6 353.4,133.9 353.7,135.3 354.1,135.7 354.4,136.3 354.7,136.8 355.1,137.1 355.4,137.1 355.7,136.8 356,136.4 356.4,136 356.7,135.7 357,135.6 357.4,133.9 357.7,131.3 358,127.6 358.4,122.7 358.7,117.1 359,111.5 359.3,106.7 359.7,103.7 360,103.1 360.3,105.1 360.7,109.2 361,114.5 361.3,120.2 361.7,125.5 362,129.8 362.3,132.9 362.6,134.7 363,135.4 363.3,136.2 363.6,136.8 364,137.2 364.3,137.4 364.6,137.5 366.3,137.5 366.6,137.4 366.9,137.2 367.3,136.7 367.6,136.1 367.9,135.4 368.3,134.7 368.6,134.5 368.9,134.8 369.2,135.4 369.6,136.2 369.9,136.8 370.2,137.2 370.6,137.4 370.9,137.5 372.9,137.5 373.2,137.5 373.5,137.3 373.9,137.1 374.2,136.8 374.5,136.5 374.9,136.2 375.2,136.2 375.8,136.2 376.2,136 376.5,135.4 376.8,134.8 377.2,134.3 377.5,134.3 377.8,134.8 378.2,135.5 378.5,136.2 378.8,136.6 379.1,136.7 379.5,136.6 379.8,136.5 380.1,136.5 380.5,136.6 380.8,136.7 381.1,136.8 381.8,136.8 382.1,136.9 382.4,137 382.8,137.2 383.1,137.3 383.4,137.3 383.8,137.2 384.1,137.1 384.4,136.9 384.8,136.8 385.1,136.8 385.4,136.9 385.7,137.1 386.1,137.3 386.4,137.4 386.7,137.4 387.1,137.4 387.4,137.2 387.7,136.9 388.1,136.5 388.4,136.1 388.7,135.9 389,135.9 389.4,136.2 389.7,136.5 390,136.8 390.4,136.7 390.7,136.4 391,135.8 391.4,135.3 391.7,135 392,135.1 392.3,135.6 392.7,136.2 393,136.7 393.3,136.9 393.7,136.8 394,136.4 394.3,135.9 394.7,135.4 395,135 395.3,134.7 395.6,134.4 396,134 396.3,133.9 396.6,134.1 397,134.7 397.3,135.6 397.6,136.3 398,136.8 398.3,136.9 398.6,136.7 398.9,136.3 399.3,135.8 399.6,135.5 399.9,135.5 400.3,135.8 400.6,136.3 400.9,136.8 401.3,137.1 401.6,137.3 401.9,137.4 402.2,137.3 402.6,137.2 402.9,136.9 403.2,136.7 403.6,136.6 403.9,136.6 404.2,136.8 404.6,137 404.9,137.2 405.2,137.3 405.5,137.1 405.9,136.7 406.2,136.2 406.5,135.5 406.9,135 407.2,134.8 407.9,134.8 408.2,134.6 408.5,134.3 408.8,134.2 409.2,134.4 409.5,134.9 409.8,135.7 410.2,136.2 410.5,136.4 410.8,136 411.2,135.3 411.5,134.6 411.8,134.1 412.1,134.2 412.5,134.8 412.8,135.6 413.1,136.4 413.5,136.9 413.8,137.3 414.1,137.4 414.8,137.4 415.1,137.4 415.4,137.2 415.8,136.9 416.1,136.5 416.4,136.2 416.8,136 417.1,136.1 417.4,136.4 417.8,136.7 418.1,136.8 418.4,136.6 418.7,136 419.1,135.2 419.4,134.5 419.7,134.2 420.1,134.4 420.4,135 420.7,135.6 421.1,136 421.4,136 421.7,135.5 422,135 422.4,134.6 422.7,134.7 423,135.1 423.4,135.8 423.7,136.5 424,136.9 424.4,137.2 424.7,137.3 425.3,137.3 425.7,137.3 426,137.2 426.3,137 426.7,136.9 428,136.9 428.3,136.7 428.6,136.3 429,135.9 429.3,135.7 429.6,135.7 430,136.1 430.3,136.5 430.6,136.9 431,137.2 431.3,137.3 431.6,137.1 431.9,136.6 432.3,135.9 432.6,135 432.9,134.3 433.3,133.9 433.6,134.1 433.9,134.6 434.3,135.2 434.6,135.6 434.9,135.8 435.2,135.9 435.6,136.2 435.9,136.5 436.2,136.9 436.6,137.2 436.9,137.3 437.2,137.3 437.6,137.1 437.9,136.7 438.2,136.2 438.5,135.6 438.9,135.1 439.2,135.1 439.5,135.4 439.9,136 440.2,136.6 440.5,137 440.9,137.2 441.2,137.3 442.5,137.3 442.8,137.3 443.5,137.3 443.8,137.1 444.2,136.7 444.5,136 444.8,135.2 445.1,134.5 445.5,134.2 445.8,134.2 446.1,134.6 446.5,135 446.8,135.4 447.1,135.8 447.5,136.2 447.8,136.6 448.1,137 448.4,137.1 448.8,137.1 449.1,136.9 449.4,136.6 449.8,136.2 450.1,135 450.4,133 450.8,130 451.1,126 451.4,121.2 451.7,116.1 452.1,111.5 452.4,108.2 452.7,106.9 453.1,107.9 453.4,110.9 453.7,115.3 454.1,120.4 454.4,125.3 454.7,129.4 455,132.5 455.4,134.7 455.7,134.2 456,133.6 456.4,133.5 456.7,133.6 457,133.9 457.4,134.2 457.7,134.6 458,135.1 458.3,135.7 458.7,136.2 459,136.4 459.3,136.3 459.7,136.2 460,136.1 460.3,136.3 460.7,136.6 461,136.9 461.3,137.1 461.6,137.2 462,137.1 462.3,137.1 462.6,137 463,137 463.3,137.1 463.6,137.2 464,137.3 464.3,137.3 464.6,137.1 464.9,136.9 465.3,136.6 465.6,136.4 465.9,136.4 466.3,136.5 466.6,136.8 466.9,137 467.3,137.1 467.6,137" fill="none" stroke="#555555" stroke-opacity="0.61" stroke-width="0.95" stroke-linejoin="round"/>
<polyline points="350.1,137.6 351.4,137.5 351.8,137.4 352.1,137.1 352.4,136.7 352.7,136.1 353.1,135.3 353.4,134.8 353.7,134.6 354.1,134.9 354.4,135.5 354.7,136.1 355.1,136.4 355.4,136.2 355.7,135.8 356,135.2 356.4,134.8 356.7,134.8 357,135 357.4,135.3 357.7,135.6 358,135.9 358.4,136.2 358.7,136.5 359,136.8 359.3,136.8 359.7,136.5 360,136 360.3,135.5 360.7,135.1 361,135.1 361.3,135.5 361.7,133.9 362,131.4 362.3,127.9 362.6,123.6 363,118.7 363.3,113.9 363.6,110.1 364,108 364.3,108.1 364.6,110.3 365,114.2 365.3,119 365.6,123.9 365.9,128.2 366.3,131.6 366.6,134.1 366.9,135.7 367.3,136.2 367.6,135.6 367.9,135 368.3,134.8 368.6,135.1 368.9,135.7 369.2,136.3 369.6,136.9 369.9,137.2 370.2,137.4 372.2,137.3 372.5,137.2 372.9,136.9 373.2,136.4 373.5,135.7 373.9,135 374.2,134.7 374.5,134.8 374.9,135.3 375.2,135 375.5,133 375.8,130.2 376.2,126.5 376.5,122.2 376.8,117.7 377.2,113.8 377.5,111.2 377.8,110.4 378.2,111.7 378.5,114.7 378.8,118.8 379.1,123.3 379.5,127.5 379.8,131 380.1,133.6 380.5,135.3 380.8,135.4 381.1,134.8 381.5,134.6 381.8,134.8 382.1,135.1 382.4,135.5 382.8,135.8 383.1,135 383.4,133.2 383.8,130.6 384.1,127.2 384.4,123.2 384.8,119.2 385.1,115.8 385.4,113.6 385.7,113.1 386.1,114.4 386.4,117.3 386.7,121 387.1,125.1 387.4,128.9 387.7,131.9 388.1,134.2 388.4,135.4 388.7,135.6 389,136 389.4,136.6 389.7,137 390,137.2 390.4,137.2 390.7,136.9 391,136.3 391.4,135.5 391.7,134.7 392,134.1 392.3,133.8 393,133.7 393.3,133.6 393.7,133.6 394,133.8 394.3,134.4 394.7,135.1 395,135.7 395.3,136 395.6,136 396,135.8 396.3,135.7 396.6,135.5 397,135.4 397.3,135.3 397.6,135.4 398,135.6 398.3,136 398.6,136.5 398.9,136.9 399.3,137.2 399.6,137.3 399.9,137.1 400.3,136.8 400.6,136.4 400.9,135.4 401.3,133.7 401.6,131 401.9,127.3 402.2,122.6 402.6,117.4 402.9,112.4 403.2,108.4 403.6,106.3 403.9,106.4 404.2,108.8 404.6,112.9 404.9,118 405.2,123.2 405.5,127.7 405.9,131.4 406.2,133.9 406.5,135.6 406.9,136.6 407.2,137.1 407.5,137.1 407.9,136.9 408.2,136.4 408.5,135.8 408.8,135.1 409.2,134.6 409.5,134.5 409.8,134.9 410.2,135.6 410.5,136.3 410.8,136.9 411.2,137.2 411.5,137.3 411.8,137.2 412.1,136.8 412.5,136.1 412.8,134.8 413.1,132.6 413.5,129.5 413.8,125.3 414.1,120.4 414.5,115.2 414.8,110.5 415.1,107.2 415.4,106 415.8,107 416.1,110.1 416.4,114.3 416.8,118.7 417.1,122.2 417.4,124 417.8,123.5 418.1,120.7 418.4,115.9 418.7,110 419.1,104.1 419.4,99.5 419.7,97.3 420.1,98 420.4,101.5 420.7,107.1 421.1,113.7 421.4,120.2 421.7,125.9 422,130.2 422.4,133.3 422.7,135.3 423,136.4 423.4,137 423.7,137.2 424,137.2 424.4,137 424.7,136.4 425,135.4 425.3,133.7 425.7,131.1 426,127.7 426.3,123.5 426.7,119 427,114.8 427.3,111.7 427.7,110.3 428,110.8 428.3,112.9 428.6,116 429,118.9 429.3,120.8 429.6,120.8 430,118.5 430.3,114.1 430.6,108.3 431,102.2 431.3,97.2 431.6,94.6 431.9,94.8 432.3,97.8 432.6,102.7 432.9,108 433.3,112.4 433.6,114.7 433.9,114.4 434.3,111.6 434.6,107.3 434.9,102.6 435.2,99.1 435.6,97.7 435.9,98.9 436.2,102.4 436.6,107.2 436.9,112 437.2,115.6 437.6,117.1 437.9,116.2 438.2,113.3 438.5,109.2 438.9,105.4 439.2,102.8 439.5,102.4 439.9,104.5 440.2,108.7 440.5,114.1 440.9,119.9 441.2,125.3 441.5,129.6 441.8,132.8 442.2,134.9 442.5,136.2 442.8,136.9 443.2,137.3 443.5,137.1 443.8,136.8 444.2,136.5 444.5,136.3 444.8,136.3 445.1,136.4 445.5,136.5 445.8,136.6 446.5,136.6 446.8,136.7 447.1,136.8 447.5,136.9 447.8,136.8 448.1,136.4 448.4,135.7 448.8,135.1 449.1,134.6 449.4,134.5 449.8,134.9 450.1,135.4 450.4,135.7 450.8,135.9 451.7,135.8 452.1,135.7 452.4,135.3 452.7,134.8 453.1,134.3 453.4,134 453.7,133.9 454.1,133.9 454.4,133.9 454.7,133.7 455,133.8 455.4,134.2 455.7,135 456,135.8 456.4,136.6 456.7,137 457,137.1 457.4,137 457.7,136.8 458,136.6 458.3,136.5 458.7,136.5 459,136.7 459.3,136.9 459.7,136.9 460,136.7 460.3,136.4 460.7,136 461,135.8 461.3,135.9 461.6,135.9 462,134.5 462.3,132.3 462.6,129.2 463,125.2 463.3,120.6 463.6,116.1 464,112.3 464.3,110 464.6,109.7 464.9,111.4 465.3,114.8 465.6,119.2 465.9,123.9 466.3,128.1 466.6,131.5 466.9,133.9 467.3,135.5 467.6,135.9" fill="none" stroke="#ff4646" stroke-opacity="0.65" stroke-width="0.95" stroke-linejoin="round"/>
<polyline points="350.1,137.6 351.8,137.5 352.1,137.4 352.4,137.4 354.4,137.4 354.7,137.3 355.1,137.1 355.4,136.8 355.7,136.4 356,136 356.4,135.7 356.7,135.3 357,135 357.4,134.6 357.7,134.3 358,134.3 358.4,134.7 358.7,135.4 359,136.1 359.3,136.7 359.7,137 360,137.1 360.7,137 361,136.9 361.3,136.7 361.7,136.3 362,135.7 362.3,135.3 362.6,135.1 363,135.1 363.3,135.3 363.6,135.6 364,135.7 364.3,135.9 364.6,136.2 365,136.5 365.3,136.7 365.6,136.8 365.9,136.7 366.3,136.6 366.6,136.7 366.9,135.9 367.3,134.5 367.6,132.2 367.9,128.7 368.3,124.2 368.6,118.8 368.9,113.1 369.2,108 369.6,104.4 369.9,102.9 370.2,103.6 370.6,106.1 370.9,109.4 371.2,112.3 371.6,113.8 371.9,113.3 372.2,111 372.5,107.7 372.9,104.5 373.2,102.6 373.5,102.7 373.9,105.2 374.2,109.6 374.5,115.1 374.9,120.8 375.2,126 375.5,130.2 375.8,133.2 376.2,134.8 376.5,135.2 376.8,135.9 377.2,136.6 377.5,137 377.8,137.3 378.2,137.3 378.5,137.1 378.8,136.8 379.1,136.5 379.5,136.2 379.8,136.1 380.1,136.2 380.5,136.5 380.8,136.8 381.1,136.9 381.5,136.9 381.8,136.6 382.1,136.4 382.4,136.1 382.8,136.1 383.1,136.1 383.4,135.9 383.8,135.5 384.1,134.9 384.4,134.3 384.8,134 385.1,134.3 385.4,134.9 385.7,135.7 386.1,136.2 386.4,136.4 387.1,136.4 387.4,136.5 387.7,136.7 388.1,136.9 388.4,137 388.7,137 389,136.8 389.4,136.6 389.7,136.4 390,136.3 390.4,136.4 390.7,136.7 391,137 391.4,137.1 391.7,137.1 392,136.8 392.3,136.4 392.7,135.8 393,135.4 393.3,135.3 393.7,135.6 394,136.1 394.3,136.5 394.7,136.8 395,136.7 395.3,136.5 395.6,136.1 396,135.9 396.3,135.9 396.6,136 397,136.1 397.3,136.1 397.6,135.8 398,135.5 398.3,135.4 398.6,135.5 398.9,135.8 399.3,136 399.6,136.1 399.9,135.8 400.3,135.4 400.6,135.2 400.9,135.3 401.3,135.7 401.6,136.3 401.9,136.8 402.2,137.2 402.6,137.4 404.2,137.3 404.6,137.1 404.9,136.7 405.2,135.8 405.5,134.4 405.9,132.4 406.2,129.6 406.5,126.2 406.9,122.6 407.2,119.2 407.5,116.6 407.9,115.2 408.2,115.2 408.5,116.2 408.8,117.6 409.2,118.5 409.5,118 409.8,115.9 410.2,112.3 410.5,107.8 410.8,103.5 411.2,100.7 411.5,100.2 411.8,102.3 412.1,106.6 412.5,112.3 412.8,118.5 413.1,124.2 413.5,128.9 413.8,132.3 414.1,133.7 414.5,133.6 414.8,133.6 415.1,134 415.4,134.6 415.8,135.4 416.1,136 416.4,136.5 416.8,136.8 417.1,137 417.4,137.2 417.8,137.2 418.1,137.2 418.4,137 418.7,136.9 419.1,136.9 419.4,136.8 419.7,136.7 420.1,136.4 420.4,135.9 420.7,135.3 421.1,134 421.4,131.2 421.7,127.3 422,122 422.4,115.8 422.7,109.3 423,103.5 423.4,99.5 423.7,98.1 424,99.7 424.4,103.9 424.7,109.8 425,116.3 425.3,122.5 425.7,127.6 426,131.5 426.3,134.1 426.7,135.8 427,136.6 427.3,136.3 427.7,135.7 428,134.9 428.3,134.4 428.6,134.4 429,134.8 429.3,135.4 429.6,136 430,136.4 430.3,136.6 430.6,136.7 431,136.7 431.3,136.9 431.6,137.1 431.9,137.3 432.3,137.4 432.9,137.4 433.3,137.3 433.6,137.2 433.9,137 434.3,136.9 434.6,136.9 434.9,137 435.2,137.1 435.6,137.3 435.9,137.2 436.2,137 436.6,136.5 436.9,135.8 437.2,135 437.6,134.4 437.9,134.2 438.2,134.7 438.5,135.4 438.9,136.2 439.2,136.7 439.5,136.1 439.9,134.8 440.2,132.5 440.5,129.1 440.9,124.5 441.2,118.8 441.5,112.5 441.8,106.6 442.2,102 442.5,99.7 442.8,99.8 443.2,102.2 443.5,106 443.8,109.8 444.2,112.6 444.5,113.5 444.8,112.5 445.1,110 445.5,107.2 445.8,105.1 446.1,104.7 446.5,106.4 446.8,110 447.1,114.9 447.5,120.3 447.8,125.4 448.1,129.6 448.4,132.7 448.8,134.8 449.1,135.6 449.4,135.3 449.8,135.3 450.1,135.5 450.4,135.9 450.8,136.1 451.1,136.3 451.4,136.4 451.7,136.6 452.1,136.8 452.4,137.1 452.7,137.3 453.1,137.4 453.4,137.2 453.7,136.7 454.1,135.9 454.4,134.4 454.7,132.1 455,128.8 455.4,124.5 455.7,119.4 456,114.2 456.4,109.7 456.7,106.8 457,105.9 457.4,107.2 457.7,110.3 458,114.2 458.3,117.7 458.7,119.9 459,119.9 459.3,117.6 459.7,113.2 460,107.8 460.3,102.5 460.7,98.6 461,97.1 461.3,98.6 461.6,102.7 462,108.7 462.3,115.3 462.6,121.7 463,127.1 463.3,131.1 463.6,133.9 464,135.6 464.3,136.1 464.6,136.4 464.9,136.8 465.3,137.1 465.6,137.1 465.9,136.9 466.3,136.5 466.6,135.9 466.9,135.3 467.3,135 467.6,135.1" fill="none" stroke="#6060ff" stroke-opacity="0.61" stroke-width="0.95" stroke-linejoin="round"/>
<polyline points="350.1,137.8 350.5,137.8 350.9,137.8 351.3,137.8 351.7,137.8 352.1,137.8 352.5,137.7 352.9,137.6 353.3,137.4 353.7,137 354.1,136.4 354.5,135.8 354.9,135.5 355.3,135.6 355.7,136.2 356.1,136.8 356.5,137.3 356.9,137.6 357.3,137.7 357.7,137.7 358.1,137.7 358.5,137.7 358.9,137.6 359.3,137.5 359.7,137.3 360.1,137.3 360.5,137.3 360.9,137.4 361.3,137.6 361.7,137.7 362.1,137.7 362.5,137.7 362.9,137.8 363.3,137.7 363.7,137.5 364.1,137.2 364.5,136.5 364.9,135.6 365.3,134.8 365.7,134.6 366.1,135 366.5,135.8 366.9,136.7 367.3,137.3 367.7,137.6 368.1,137.7 368.5,137.6 368.9,137.4 369.3,137 369.7,136.3 370.1,135.5 370.5,135.1 370.9,135.2 371.3,135.8 371.7,136.5 372.1,137.1 372.5,137.5 372.9,137.6 373.3,137.4 373.7,137.2 374.1,137 374.5,136.9 374.9,137.1 375.3,137.3 375.7,137.5 376.1,137.6 376.5,137.7 376.9,137.7 377.3,137.8 377.7,137.8 378.1,137.7 378.5,137.5 378.9,137 379.3,136.3 379.7,135.4 380.1,134.8 380.5,134.7 380.9,135.3 381.3,136.1 381.7,136.9 382.1,137.3 382.5,137 382.9,136.6 383.3,136.4 383.7,136.5 384.1,136.8 384.5,137.2 384.9,137.5 385.3,137.6 385.7,137.6 386.1,137.4 386.5,137 386.9,136.5 387.3,136.1 387.7,136 388.1,136.3 388.5,136.8 388.9,137.2 389.3,137.5 389.7,137.7 390.1,137.8 390.5,137.8 390.9,137.7 391.3,137.6 391.7,137.4 392.1,136.9 392.5,136.2 392.9,135.5 393.3,135.2 393.7,135.4 394.1,136 394.5,136.7 394.9,137.3 395.3,137.6 395.7,137.7 396.1,137.8 396.5,137.7 396.9,137.5 397.3,137.1 397.7,136.5 398.1,135.8 398.5,135.3 398.9,135.3 399.3,135.8 399.7,136.5 400.1,137.1 400.5,137.5 400.9,137.7 401.3,137.7 401.7,137.7 402.1,137.5 402.5,137.4 402.9,137.3 403.3,137.3 403.7,137.3 404.1,137.5 404.5,137.6 404.9,137.7 405.3,137.7 405.7,137.7 406.1,137.6 406.5,137.3 406.9,136.9 407.3,136.4 407.7,136 408.1,136 408.5,136.3 408.9,136.8 409.3,137.3 409.7,137.5 410.1,137.7 410.5,137.7 410.9,137.6 411.3,137.4 411.7,137 412.1,136.5 412.5,136 412.9,135.9 413.3,136.2 413.7,136.7 414.1,137.2 414.5,136.7 414.9,136.1 415.3,135.6 415.7,135.5 416.1,135.9 416.5,136.5 416.9,137.1 417.3,137.5 417.7,137.7 418.1,137.6 418.5,137.4 418.9,137.3 419.3,137.3 419.7,137.3 420.1,137.4 420.5,137.6 420.9,137.7 421.3,137.7 421.7,137.7 422.1,137.7 422.5,137.6 422.9,137.5 423.3,137.3 423.7,137.1 424.1,137.1 424.5,137.1 424.9,137.3 425.3,137.4 425.7,137.1 426.1,136.5 426.5,135.9 426.9,135.7 427.3,135.8 427.7,136.3 428.1,136.9 428.5,137.3 428.9,137.6 429.3,137.6 429.7,137.5 430.1,137.3 430.5,137.1 430.9,137 431.3,137.1 431.7,137.3 432.1,137.5 432.5,137.4 432.9,136.9 433.3,136.2 433.7,135.6 434.1,135.2 434.5,135.4 434.9,136 435.3,136.7 435.7,137.3 436.1,137.6 436.5,137.4 436.9,137.2 437.3,137 437.7,136.9 438.1,137 438.5,137.2 438.9,137.4 439.3,137.6 439.7,137.5 440.1,137.3 440.5,136.9 440.9,136.6 441.3,136.4 441.7,136.6 442.1,136.9 442.5,137.3 442.9,137.5 443.3,137.7 443.7,137.7 444.1,137.7 444.5,137.6 444.9,137.5 445.3,137.4 445.7,137.3 446.1,137.3 446.5,137.4 446.9,137.5 447.3,137.6 447.7,137.7 448.1,137.7 448.5,137.6 448.9,137.4 449.3,136.9 449.7,136.3 450.1,135.7 450.5,135.4 450.9,135.6 451.3,136.2 451.7,136.8 452.1,137.3 452.5,137.2 452.9,137 453.3,137 453.7,137 454.1,137.2 454.5,137.5 454.9,137.3 455.3,137 455.7,136.6 456.1,136.4 456.5,136.5 456.9,136.8 457.3,137.2 457.7,137.5 458.1,137.6 458.5,137.7 458.9,137.6 459.3,137.3 459.7,136.7 460.1,136 460.5,135.2 460.9,134.9 461.3,135.1 461.7,135.8 462.1,136.6 462.5,137.2 462.9,137.6 463.3,137.7 463.7,137.6 464.1,137.3 464.5,136.8 464.9,136.1 465.3,135.7 465.7,135.6 466.1,136 466.5,136.6 466.9,137.1 467.3,137.5" fill="none" stroke="#2a9058" stroke-opacity="0.8" stroke-width="0.85"/>
<polyline points="350.1,137.8 350.5,137.8 350.9,137.8 351.3,137.8 351.7,137.8 352.1,137.8 352.5,137.7 352.9,137.7 353.3,137.6 353.7,137.4 354.1,137.2 354.5,137 354.9,136.9 355.3,137.1 355.7,137.3 356.1,137.5 356.5,137.6 356.9,137.7 357.3,137.6 357.7,137.4 358.1,137.1 358.5,136.6 358.9,136.3 359.3,136.2 359.7,136.4 360.1,136.9 360.5,137.3 360.9,137.5 361.3,137.7 361.7,137.7 362.1,137.6 362.5,137.5 362.9,137.2 363.3,136.8 363.7,136.5 364.1,136.4 364.5,136.6 364.9,137 365.3,137.3 365.7,137.6 366.1,137.7 366.5,137.7 366.9,137.6 367.3,137.4 367.7,137.1 368.1,136.7 368.5,136.5 368.9,136.5 369.3,136.7 369.7,137.1 370.1,137.1 370.5,136.4 370.9,135.5 371.3,134.9 371.7,134.7 372.1,135.2 372.5,136 372.9,136.8 373.3,136.4 373.7,135.6 374.1,134.9 374.5,134.8 374.9,135.3 375.3,136.1 375.7,136.9 376.1,137.4 376.5,137.6 376.9,137.6 377.3,137.4 377.7,137.1 378.1,136.5 378.5,136 378.9,135.8 379.3,136 379.7,136.5 380.1,137 380.5,137.4 380.9,137.3 381.3,137.1 381.7,137.1 382.1,137.1 382.5,137.3 382.9,137.5 383.3,137.6 383.7,137.7 384.1,137.7 384.5,137.8 384.9,137.7 385.3,137.6 385.7,137.4 386.1,136.9 386.5,136.2 386.9,135.4 387.3,135 387.7,135.2 388.1,135.9 388.5,136.6 388.9,137.2 389.3,137.5 389.7,137.4 390.1,137.1 390.5,136.9 390.9,136.8 391.3,137 391.7,137.2 392.1,137.5 392.5,137.6 392.9,137.4 393.3,137 393.7,136.2 394.1,135.3 394.5,134.7 394.9,134.7 395.3,135.3 395.7,136.2 396.1,136.9 396.5,137.4 396.9,137.6 397.3,137.7 397.7,137.7 398.1,137.5 398.5,137.1 398.9,136.6 399.3,136.1 399.7,135.8 400.1,136 400.5,136.4 400.9,136.9 401.3,137.3 401.7,136.9 402.1,136.4 402.5,136.1 402.9,136.2 403.3,136.5 403.7,136.9 404.1,137.3 404.5,137.6 404.9,137.7 405.3,137.6 405.7,137.4 406.1,137 406.5,136.5 406.9,136.1 407.3,136 407.7,136.3 408.1,136.8 408.5,137.2 408.9,137.5 409.3,137.7 409.7,137.7 410.1,137.6 410.5,137.3 410.9,136.7 411.3,136.1 411.7,135.5 412.1,135.3 412.5,135.7 412.9,136.3 413.3,137 413.7,137.4 414.1,137.6 414.5,137.4 414.9,136.8 415.3,136.1 415.7,135.3 416.1,134.9 416.5,135.1 416.9,135.7 417.3,136.5 417.7,137.2 418.1,137.5 418.5,137.7 418.9,137.8 419.3,137.8 419.7,137.7 420.1,137.6 420.5,137.3 420.9,136.7 421.3,135.9 421.7,135.1 422.1,134.7 422.5,135 422.9,135.7 423.3,136.5 423.7,137.2 424.1,137.5 424.5,137.4 424.9,137.1 425.3,136.8 425.7,136.6 426.1,136.7 426.5,137 426.9,137.3 427.3,137.5 427.7,137.3 428.1,137.1 428.5,137.1 428.9,137.1 429.3,137.3 429.7,137.2 430.1,136.7 430.5,136.1 430.9,135.7 431.3,135.6 431.7,136 432.1,136.6 432.5,137.1 432.9,137.5 433.3,137.7 433.7,137.8 434.1,137.7 434.5,137.6 434.9,137.4 435.3,137 435.7,136.4 436.1,135.9 436.5,135.6 436.9,135.7 437.3,136.2 437.7,136.9 438.1,137 438.5,136.2 438.9,135.4 439.3,134.9 439.7,134.9 440.1,135.5 440.5,136.3 440.9,137 441.3,137.5 441.7,137.7 442.1,137.8 442.5,137.8 442.9,137.7 443.3,137.7 443.7,137.5 444.1,137.3 444.5,136.9 444.9,136.4 445.3,136.2 445.7,136.3 446.1,136.6 446.5,137.1 446.9,137.4 447.3,137.6 447.7,137.7 448.1,137.6 448.5,137.4 448.9,137 449.3,136.4 449.7,135.8 450.1,135.6 450.5,135.8 450.9,136.3 451.3,136.9 451.7,137.4 452.1,137.4 452.5,137 452.9,136.5 453.3,136.3 453.7,136.3 454.1,136.6 454.5,137 454.9,137.4 455.3,137.6 455.7,137.7 456.1,137.5 456.5,137.2 456.9,136.7 457.3,136.3 457.7,136.2 458.1,136.4 458.5,136.8 458.9,137.2 459.3,137.3 459.7,136.9 460.1,136.3 460.5,135.8 460.9,135.7 461.3,136 461.7,136.5 462.1,137.1 462.5,137.5 462.9,137.4 463.3,137 463.7,136.4 464.1,135.9 464.5,135.7 464.9,135.9 465.3,136.4 465.7,137 466.1,137.4 466.5,137.6 466.9,137.7 467.3,137.8" fill="none" stroke="#4a4a4a" stroke-opacity="0.8" stroke-width="0.85"/>
<polyline points="350.1,137.8 350.5,137.8 350.9,137.8 351.3,137.7 351.7,137.6 352.1,137.3 352.5,136.9 352.9,136.3 353.3,135.7 353.7,135.5 354.1,135.8 354.5,136.3 354.9,137 355.3,137.4 355.7,137.6 356.1,137.6 356.5,137.3 356.9,137 357.3,136.6 357.7,136.3 358.1,136.4 358.5,136.7 358.9,137.1 359.3,137.4 359.7,137.2 360.1,136.9 360.5,136.7 360.9,136.7 361.3,137 361.7,137.3 362.1,137.5 362.5,137.6 362.9,137.5 363.3,137.3 363.7,137.2 364.1,137.2 364.5,137.4 364.9,137.5 365.3,137.6 365.7,137.3 366.1,136.8 366.5,136.3 366.9,135.8 367.3,135.8 367.7,136.1 368.1,136.7 368.5,137.2 368.9,137.5 369.3,137.7 369.7,137.8 370.1,137.8 370.5,137.7 370.9,137.7 371.3,137.6 371.7,137.5 372.1,137.2 372.5,137 372.9,136.9 373.3,137 373.7,137.2 374.1,137.4 374.5,137.6 374.9,137.7 375.3,137.5 375.7,137.2 376.1,136.7 376.5,136.2 376.9,135.9 377.3,136 377.7,136.4 378.1,136.9 378.5,137.4 378.9,137.6 379.3,137.7 379.7,137.5 380.1,137.1 380.5,136.5 380.9,135.8 381.3,135.3 381.7,135.3 382.1,135.7 382.5,136.5 382.9,137.1 383.3,137.5 383.7,137.7 384.1,137.5 384.5,137.1 384.9,136.6 385.3,135.9 385.7,135.5 386.1,135.5 386.5,136 386.9,136.6 387.3,137.1 387.7,136.7 388.1,136.4 388.5,136.3 388.9,136.5 389.3,136.9 389.7,137.3 390.1,137.4 390.5,137 390.9,136.7 391.3,136.4 391.7,136.4 392.1,136.7 392.5,137.1 392.9,137.4 393.3,137.6 393.7,137.7 394.1,137.8 394.5,137.7 394.9,137.7 395.3,137.7 395.7,137.6 396.1,137.5 396.5,137.3 396.9,137.3 397.3,137.4 397.7,137.5 398.1,137.6 398.5,137.7 398.9,137.7 399.3,137.7 399.7,137.8 400.1,137.6 400.5,137.4 400.9,136.9 401.3,136.1 401.7,135.2 402.1,134.6 402.5,134.7 402.9,135.3 403.3,136.2 403.7,137 404.1,137.4 404.5,137.7 404.9,137.7 405.3,137.5 405.7,137.3 406.1,136.9 406.5,136.6 406.9,136.5 407.3,136.7 407.7,137 408.1,137.3 408.5,137.6 408.9,137.6 409.3,137.3 409.7,136.9 410.1,136.5 410.5,136.2 410.9,136.2 411.3,136.5 411.7,136.9 412.1,137.3 412.5,137.6 412.9,137.4 413.3,136.9 413.7,136.4 414.1,135.9 414.5,135.7 414.9,136 415.3,136.5 415.7,137.1 416.1,137.4 416.5,137.6 416.9,137.7 417.3,137.6 417.7,137.4 418.1,137.3 418.5,137.2 418.9,137.2 419.3,137.3 419.7,137.5 420.1,137.6 420.5,137.6 420.9,137.4 421.3,137.1 421.7,136.8 422.1,136.7 422.5,136.7 422.9,137 423.3,137.3 423.7,137.5 424.1,137.7 424.5,137.7 424.9,137.8 425.3,137.8 425.7,137.7 426.1,137.7 426.5,137.5 426.9,137.3 427.3,137 427.7,136.7 428.1,136.7 428.5,136.8 428.9,137.1 429.3,137.4 429.7,137.6 430.1,137.7 430.5,137.7 430.9,137.5 431.3,137.1 431.7,136.4 432.1,135.6 432.5,135 432.9,134.9 433.3,135.4 433.7,136.2 434.1,136.9 434.5,137.4 434.9,137.5 435.3,137 435.7,136.3 436.1,135.4 436.5,134.7 436.9,134.7 437.3,135.2 437.7,136.1 438.1,136.9 438.5,136.5 438.9,136 439.3,135.7 439.7,135.9 440.1,136.4 440.5,136.9 440.9,137.4 441.3,137.6 441.7,137.7 442.1,137.7 442.5,137.7 442.9,137.5 443.3,137.3 443.7,137.1 444.1,137 444.5,137 444.9,137.2 445.3,137.4 445.7,137.6 446.1,137.7 446.5,137.5 446.9,137.3 447.3,136.9 447.7,136.6 448.1,136.4 448.5,136.6 448.9,136.9 449.3,137.2 449.7,137.5 450.1,137.7 450.5,137.7 450.9,137.7 451.3,137.7 451.7,137.5 452.1,137.3 452.5,137 452.9,136.8 453.3,136.7 453.7,136.9 454.1,137.2 454.5,137.4 454.9,137.6 455.3,137.5 455.7,137.2 456.1,136.9 456.5,136.7 456.9,136.7 457.3,136.8 457.7,137.2 458.1,137 458.5,136.3 458.9,135.5 459.3,135 459.7,135 460.1,135.5 460.5,136.3 460.9,137 461.3,137.4 461.7,137.7 462.1,137.5 462.5,137.2 462.9,136.8 463.3,136.3 463.7,135.9 464.1,136 464.5,136.4 464.9,136.9 465.3,137.3 465.7,137.5 466.1,137.2 466.5,136.6 466.9,135.8 467.3,135.2" fill="none" stroke="#ff1e1e" stroke-opacity="0.8" stroke-width="0.85"/>
<polyline points="350.1,137.8 350.5,137.8 350.9,137.8 351.3,137.7 351.7,137.6 352.1,137.3 352.5,136.8 352.9,136.3 353.3,135.9 353.7,135.8 354.1,136.1 354.5,136.7 354.9,137.2 355.3,137.5 355.7,137.7 356.1,137.8 356.5,137.7 356.9,137.6 357.3,137.3 357.7,136.8 358.1,136.2 358.5,135.6 358.9,135.4 359.3,135.7 359.7,136.3 360.1,136.9 360.5,137.4 360.9,137.6 361.3,137.7 361.7,137.8 362.1,137.7 362.5,137.5 362.9,137.2 363.3,136.6 363.7,135.8 364.1,135.2 364.5,135 364.9,135.4 365.3,136.1 365.7,136.9 366.1,137.2 366.5,136.6 366.9,136 367.3,135.5 367.7,135.6 368.1,136 368.5,136.6 368.9,137.2 369.3,137.5 369.7,137.7 370.1,137.7 370.5,137.5 370.9,137 371.3,136.3 371.7,135.5 372.1,134.9 372.5,134.8 372.9,135.4 373.3,136.2 373.7,136.9 374.1,137.4 374.5,137.6 374.9,137.3 375.3,136.8 375.7,136.2 376.1,135.7 376.5,135.5 376.9,135.8 377.3,136.4 377.7,137 378.1,137.1 378.5,136.7 378.9,136.5 379.3,136.5 379.7,136.8 380.1,137.2 380.5,137.4 380.9,137.1 381.3,136.6 381.7,136.2 382.1,136.1 382.5,136.4 382.9,136.8 383.3,137.2 383.7,137.5 384.1,137.7 384.5,137.6 384.9,137.5 385.3,137.4 385.7,137.3 386.1,137.3 386.5,137.4 386.9,137.5 387.3,137.6 387.7,137.5 388.1,137.1 388.5,136.6 388.9,136.1 389.3,135.8 389.7,136 390.1,136.4 390.5,137 390.9,137.4 391.3,137.4 391.7,137.2 392.1,137.1 392.5,137.1 392.9,137.3 393.3,137.4 393.7,137.6 394.1,137.7 394.5,137.6 394.9,137.5 395.3,137.2 395.7,137 396.1,136.9 396.5,136.9 396.9,137.2 397.3,137.4 397.7,137.6 398.1,137.7 398.5,137.7 398.9,137.6 399.3,137.3 399.7,136.9 400.1,136.4 400.5,136.1 400.9,136.1 401.3,136.4 401.7,136.9 402.1,137.2 402.5,136.6 402.9,135.8 403.3,135.2 403.7,135.1 404.1,135.5 404.5,136.2 404.9,136.9 405.3,137.4 405.7,137.6 406.1,137.8 406.5,137.7 406.9,137.6 407.3,137.4 407.7,137 408.1,136.4 408.5,135.8 408.9,135.5 409.3,135.7 409.7,136.2 410.1,136.8 410.5,137.3 410.9,137.6 411.3,137.7 411.7,137.7 412.1,137.5 412.5,137.1 412.9,136.6 413.3,136 413.7,135.6 414.1,135.7 414.5,136.1 414.9,136.7 415.3,137.2 415.7,137.6 416.1,137.7 416.5,137.8 416.9,137.7 417.3,137.7 417.7,137.7 418.1,137.6 418.5,137.4 418.9,137.3 419.3,137.2 419.7,137.3 420.1,137.4 420.5,137.6 420.9,137.7 421.3,137.7 421.7,137.7 422.1,137.7 422.5,137.5 422.9,137.3 423.3,137 423.7,136.7 424.1,136.6 424.5,136.8 424.9,137.1 425.3,137.4 425.7,137.6 426.1,137.7 426.5,137.6 426.9,137.5 427.3,137.3 427.7,137.3 428.1,137.3 428.5,137.4 428.9,137.6 429.3,137.7 429.7,137.7 430.1,137.7 430.5,137.7 430.9,137.7 431.3,137.5 431.7,137.2 432.1,136.9 432.5,136.6 432.9,136.5 433.3,136.7 433.7,137 434.1,137.4 434.5,137.6 434.9,137.7 435.3,137.7 435.7,137.6 436.1,137.4 436.5,137 436.9,136.5 437.3,135.9 437.7,135.7 438.1,135.9 438.5,136.4 438.9,137 439.3,137.4 439.7,136.8 440.1,136.1 440.5,135.3 440.9,134.8 441.3,135 441.7,135.7 442.1,136.5 442.5,137.1 442.9,137.5 443.3,137.5 443.7,137.1 444.1,136.6 444.5,136.1 444.9,135.8 445.3,136 445.7,136.4 446.1,137 446.5,137.4 446.9,137.5 447.3,137.1 447.7,136.5 448.1,135.7 448.5,135.1 448.9,134.9 449.3,135.4 449.7,136.1 450.1,136.9 450.5,137.4 450.9,137.6 451.3,137.7 451.7,137.7 452.1,137.6 452.5,137.4 452.9,137 453.3,136.7 453.7,136.5 454.1,136.5 454.5,136.8 454.9,137.2 455.3,137.5 455.7,137.6 456.1,137.7 456.5,137.8 456.9,137.7 457.3,137.5 457.7,137.2 458.1,136.5 458.5,135.6 458.9,134.9 459.3,134.6 459.7,135 460.1,135.9 460.5,136.7 460.9,137.3 461.3,137.6 461.7,137.7 462.1,137.7 462.5,137.6 462.9,137.3 463.3,137.1 463.7,136.8 464.1,136.8 464.5,136.9 464.9,137.2 465.3,137.4 465.7,137.6 466.1,137.7 466.5,137.7 466.9,137.5 467.3,137.2" fill="none" stroke="#2424ff" stroke-opacity="0.8" stroke-width="0.85"/>
<polyline points="4.9,213 5.2,206.7 5.6,210.3 5.9,219.8 6.2,226.7 6.6,226.8 6.9,221.7 7.2,216.8 7.5,217.3 7.9,222.9 8.2,228.8 8.5,230.6 8.9,227 9.2,220.1 9.5,214.9 9.9,216.1 10.2,223.2 10.5,231.2 10.8,236.4 11.2,239 11.5,240.4 11.8,241.5 12.2,242 12.8,241.9 13.2,241.8 13.5,240.9 13.8,237.8 14.1,231 14.5,221.8 14.8,215.7 15.1,217.8 15.5,226.3 15.8,234.8 16.1,239.7 16.5,241.5 16.8,241.7 17.1,241.6 17.4,241.5 17.8,241.5 18.1,241.5 18.4,241.7 18.8,241.8 19.1,241.9 19.4,241.9 22.4,241.9 22.7,241.9 23.1,241.8 24,241.9 24.4,241.9 25.4,241.9 25.7,241.9 26,241.8 26.4,241.5 26.7,239.7 27,233.8 27.3,221.9 27.7,207.3 28,199.7 28.3,205.5 28.7,219.8 29,232.5 29.3,239.1 29.7,241.4 30,241.7 30.3,241.2 30.6,240.3 31,239.3 31.3,237.7 31.6,234.4 32,228 32.3,219.7 32.6,213.4 33,214.2 33.3,221.1 33.6,228.3 33.9,230.8 34.3,227.3 34.6,220.3 34.9,215.2 35.3,216.6 35.6,223.3 35.9,230.2 36.3,233.5 36.6,232.5 36.9,227.1 37.2,219.2 37.6,213.9 37.9,215.7 38.2,222.9 38.6,230.2 38.9,234.5 39.2,236 39.6,236.4 39.9,236.5 43.8,236.5 44.2,236.2 44.5,235 44.8,230.9 45.2,222.1 45.5,210.3 45.8,202.9 46.2,206 46.5,216.7 46.8,226.5 47.1,229.5 47.5,225.4 47.8,218 48.1,213.7 48.5,216.5 48.8,223.8 49.1,229.4 49.5,229 49.8,222.1 50.1,212.6 50.4,207.9 50.8,212.2 51.1,221.8 51.4,229.5 51.8,231.2 52.1,226.6 52.4,217.6 52.8,210.2 53.1,210.6 53.4,218.5 53.7,227.2 54.1,231.4 54.4,229.3 54.7,221.5 55.1,212.4 55.4,209 55.7,214.2 56.1,223.6 56.4,230.5 56.7,231.6 57,227 57.4,219.2 57.7,213.5 58,214.9 58.4,222.2 58.7,229.6 59,233.3 59.4,232.4 59.7,227 60,218.9 60.3,213.4 60.7,215.1 61,222.5 61.3,229.8 61.7,233.4 62,232.3 62.3,226.9 62.7,219 63,213.9 63.3,215.8 63.6,223.7 64,231.9 64.3,236.9 64.6,239.4 65,240.6 65.3,241.6 65.6,241.8 66,241.5 66.3,239.8 66.6,235.8 66.9,229.4 67.3,224.1 67.6,224 67.9,229.2 68.3,235.6 68.6,239.8 68.9,241.5 69.3,241.7 69.6,241.8 69.9,241.9 70.2,242 74.2,242 74.5,241.9 74.9,241.8 75.2,241.7 75.5,241.5 75.9,241.4 76.2,240.7 76.5,240 76.8,238.9 77.2,236.8 77.5,232.8 77.8,227.6 78.2,223.7 78.5,224.1 78.8,228.2 79.2,232.2 79.5,232.3 79.8,226.9 80.1,217.8 80.5,211.2 80.8,212.7 81.1,221.1 81.5,229.8 81.8,234.3 82.1,233.7 82.5,228.5 82.8,220.6 83.1,215.2 83.4,216.8 83.8,224 84.1,231.4 84.4,235.7 84.8,237.3 85.1,237.7 85.4,237.8 85.8,237.8 86.1,237.7 86.4,237.3 86.7,235.7 87.1,231.6 87.4,224.8 87.7,218.5 88.1,217.6 88.4,222.9 88.7,230 89.1,234.8 89.4,236.2 89.7,234.7 90,230.3 90.4,224.7 90.7,221.6 91,223.6 91.4,229 91.7,234 92,236.6 92.4,237.6 92.7,237.8 95.7,237.8 96,237.5 96.3,236.4 96.6,233.3 97,227.7 97.3,221.8 97.6,219.9 98,223.6 98.3,229.8 98.6,234.3 99,235.3 99.3,232.5 99.6,226.4 99.9,220 100.3,218.2 100.6,222.5 100.9,229.4 101.3,234.4 101.6,236.1 101.9,234.6 102.3,229.9 102.6,223.2 102.9,218.6 103.2,220 103.6,226.1 103.9,232 104.2,234 104.6,231.2 104.9,224.3 105.2,217.3 105.6,215.7 105.9,221 106.2,228.8 106.5,234.8 106.9,238 107.2,239.4 107.5,240.3 107.9,241 108.2,241.7 108.5,241.8 108.9,241.9 109.8,241.9 110.2,241.8 110.5,241.7 110.8,241.6 111.2,241.4 113.1,241.4 113.5,241.2 113.8,239.4 114.1,236 114.5,232.4 114.8,231.2 115.1,233.4 115.5,237.2 115.8,240.1" fill="none" stroke="#3aa870" stroke-opacity="0.85" stroke-width="0.95" stroke-linejoin="round"/>
<polyline points="4.9,242 6.9,242 7.2,241.9 7.5,241.8 7.9,241.7 8.2,241.6 8.9,241.6 9.2,241.7 9.5,241.8 9.9,241.9 10.2,242 11.5,241.9 11.8,241.8 12.8,241.9 13.2,241.9 14.8,241.9 15.1,241.9 15.5,241.8 16.5,241.8 16.8,241.9 17.1,241.9 18.1,242 18.4,241.9 18.8,241.8 19.1,241.7 19.4,241.7 20.1,241.7 20.4,241.8 20.7,241.8 23.7,241.9 24,241.8 24.4,241.7 24.7,241.6 25,241.5 25.4,241.4 25.7,241.5 26,241.7 26.4,241.8 26.7,241.9 27,242 27.7,242 28,241.9 28.3,241.8 28.7,241.8 30.3,241.8 30.6,241.7 31,241.6 31.3,241.6 31.6,241.6 32,241.6 32.3,241.7 32.6,241.8 33,241.8 33.3,241.7 33.6,241.6 33.9,241.5 34.3,241.6 34.6,241.6 34.9,241.8 35.3,241.9 35.6,241.9 38.2,242 38.6,241.8 38.9,240.8 39.2,237.4 39.6,230.1 39.9,220.2 40.2,213.9 40.5,216.4 40.9,225.5 41.2,234.1 41.5,237.4 41.9,233.6 42.2,221.8 42.5,205.8 42.9,195.9 43.2,200.5 43.5,215.6 43.8,230.2 44.2,238.3 44.5,241.2 44.8,241.9 46.8,241.9 47.1,241.8 47.5,241.8 47.8,241.7 49.1,241.7 49.5,241.6 49.8,241.6 52.4,241.5 52.8,241.6 53.1,241.8 53.4,241.9 53.7,241.9 54.7,242 55.1,241.9 55.4,241.8 55.7,241.7 56.1,241.7 56.4,241.7 56.7,241.7 57,241.8 57.4,241.9 57.7,242 58.4,242 58.7,241.9 59,241.8 59.4,241.7 59.7,241.6 65.6,241.7 66,241.8 66.3,241.8 66.9,241.8 67.3,241.7 67.6,241.6 67.9,241.5 68.3,241.4 68.6,241.5 68.9,241.6 69.3,241.8 69.6,241.9 69.9,241.9 70.2,241.9 70.6,241.8 70.9,241.7 71.2,241.6 71.6,241.6 73.9,241.6 74.2,241.7 74.5,241.7 74.9,241.8 75.5,241.8 75.9,241.2 76.2,239.5 76.5,236.6 76.8,233.7 77.2,233 77.5,235.2 77.8,238.4 78.2,240.6 78.5,241.7 78.8,242 79.5,242 79.8,241.9 80.1,241.8 80.5,241.7 80.8,241.7 81.5,241.7 81.8,241.8 82.1,241.8 83.4,241.9 83.8,241.8 84.1,241.8 84.4,241.5 84.8,239.9 85.1,236.6 85.4,232 85.8,229 86.1,230.1 86.4,234.3 86.7,238.5 87.1,240.9 87.4,241.7 87.7,241.8 88.1,241.9 88.4,241.9 89.1,241.9 89.4,241.9 89.7,241.8 90,241.7 90.4,241.6 90.7,241.5 91,241.6 91.4,241.7 91.7,241.8 92,241.9 92.7,241.9 93,241.8 94,241.8 94.3,241.8 94.7,241.9 95.7,241.9 96,241.8 96.3,241.7 96.6,241.6 97,241.5 97.3,241.5 97.6,241.6 98,241.7 98.3,241.9 98.6,241.9 99.3,242 99.6,241.9 99.9,241.8 100.3,241.7 100.6,241.6 100.9,241.5 101.3,241.5 101.6,241.6 101.9,241.8 102.3,241.9 102.6,241.9 103.2,241.9 103.6,241.8 103.9,241.8 104.6,241.7 104.9,241.8 105.2,241.9 105.6,241.9 106.5,242 106.9,241.9 107.2,241.8 107.5,241.7 107.9,241.6 108.5,241.6 108.9,241.7 109.2,241.7 110.5,241.7 110.8,241.8 111.2,241.8 111.5,241.9 111.8,242 115.1,241.8 115.5,241.7 115.8,241.7" fill="none" stroke="#555555" stroke-opacity="0.85" stroke-width="0.95" stroke-linejoin="round"/>
<polyline points="4.9,242 6.9,242 7.2,241.9 7.5,241.9 7.9,241.8 8.2,241.7 8.9,241.6 9.2,241.7 9.5,241.8 9.9,241.9 10.2,241.9 10.5,241.9 10.8,241.9 11.2,241.8 11.5,241.7 11.8,241.5 12.2,241.5 12.5,241.5 12.8,241.6 13.2,241.7 13.5,241.8 13.8,241.8 14.1,241.8 14.5,241.7 14.8,241.6 15.1,241.5 15.5,241.4 15.8,239.5 16.1,234.5 16.5,226.3 16.8,218.8 17.1,217.7 17.4,224.1 17.8,232.7 18.1,238.6 18.4,241.1 18.8,241.9 20.4,241.8 20.7,241.7 21.1,240.8 21.4,237.8 21.7,231.7 22.1,224.2 22.4,220.2 22.7,223.1 23.1,230.4 23.4,237 23.7,240.2 24,240.1 24.4,236.3 24.7,227.9 25,217.3 25.4,211.4 25.7,215.3 26,225.5 26.4,234.8 26.7,239.8 27,241.5 27.3,242 27.7,242 28.3,242 28.7,241.8 29,240.8 29.3,238.1 29.7,232.7 30,226.4 30.3,223.6 30.6,226.7 31,233 31.3,238.3 31.6,240.9 32,241.8 32.3,242 32.6,241.9 33,241.8 33.3,241.7 33.6,241.6 34.3,241.6 34.6,241.6 34.9,241.7 35.6,241.7 35.9,241.6 36.3,241.5 41.5,241.4 41.9,241.5 42.2,241.6 42.5,241.7 42.9,241.8 43.2,241.9 48.8,241.9 49.1,241.9 49.5,241.8 50.4,241.8 50.8,241.9 51.1,241.9 55.1,242 55.4,241.9 55.7,241.8 56.1,241.8 63,242 63.3,241.7 63.6,240.7 64,238.2 64.3,234.3 64.6,230.9 65,230.7 65.3,233.9 65.6,237.9 66,240.5 66.3,241.7 66.6,241.8 67.3,241.8 67.6,241.9 71.2,241.9 71.6,241.8 71.9,241.7 72.2,241.6 72.6,241.6 72.9,241.6 73.2,241.7 73.5,241.8 73.9,241.9 74.5,241.9 74.9,241.8 75.2,241.7 75.5,241.6 75.9,241.5 76.2,241.5 76.5,241.6 76.8,241.7 77.2,241.9 77.5,241.9 78.2,241.9 78.5,241.9 78.8,241.8 79.2,241.8 79.8,241.7 80.1,241.8 80.5,241.9 80.8,241.9 82.5,242 82.8,241.9 83.1,241.8 83.4,241.7 83.8,241.6 84.1,241.6 84.4,241.6 84.8,241.7 85.1,241.8 85.4,241.8 86.1,241.8 86.4,241.8 86.7,241.7 87.4,241.7 87.7,241.8 88.1,241.9 88.4,242 99.3,242 99.6,241.9 99.9,241.8 100.3,241.6 100.6,241.5 100.9,241.5 101.3,241.6 101.6,241.7 101.9,241.8 102.3,241.9 102.9,241.9 103.2,241.9 103.6,241.8 103.9,241.7 104.2,241.6 105.9,241.5 106.2,240.7 106.5,238.2 106.9,234.3 107.2,230.9 107.5,230.7 107.9,233.9 108.2,237.9 108.5,240.5 108.9,241.7 109.2,242 109.8,242 110.2,241.9 110.5,241.8 110.8,241.6 111.2,241.5 111.5,241.4 111.8,241.5 112.2,241.6 112.5,241.7 112.8,241.7 113.1,241.7 113.5,241.6 113.8,241.5 114.1,241.5 114.5,241.5 114.8,241.6 115.1,241.7 115.5,241.7 115.8,241.7" fill="none" stroke="#ff4646" stroke-opacity="0.9" stroke-width="0.95" stroke-linejoin="round"/>
<polyline points="4.9,242 5.2,242 5.6,241.9 5.9,241.8 6.2,241.7 6.6,241.5 6.9,241.5 7.2,241.5 7.5,241.6 7.9,241.7 8.2,241.8 8.5,241.9 10.2,241.9 10.5,241.8 10.8,240.6 11.2,236.5 11.5,227.5 11.8,214.9 12.2,206.3 12.5,208.8 12.8,220.1 13.2,231.8 13.5,238.7 13.8,241.3 14.1,241.6 15.1,241.7 15.5,241.6 15.8,241.5 16.1,241.5 16.5,241.5 16.8,241.6 17.1,241.7 17.4,241.8 17.8,241.8 18.1,241.6 18.4,239.7 18.8,233.8 19.1,221.6 19.4,206.1 19.8,197.5 20.1,202.9 20.4,217.8 20.7,231.4 21.1,238.7 21.4,241.3 21.7,241.9 32.6,241.8 33,241.9 34.3,241.9 34.6,241.8 37.2,241.7 37.6,241.7 37.9,241.8 38.2,241.9 38.6,242 47.5,241.9 47.8,241.9 48.1,241.8 48.5,241.8 50.1,241.7 50.4,241.6 52.8,241.7 53.1,241.7 53.4,241.8 53.7,241.9 54.1,242 55.1,241.9 55.4,241.9 55.7,241.8 56.1,241.7 56.7,241.7 57,241.8 57.4,241.8 58,241.8 58.4,241.8 58.7,241.7 59.4,241.7 59.7,241.8 60,241.9 60.3,241.9 61.3,241.9 61.7,241.8 62,241.8 62.3,241.7 64,241.7 64.3,241.6 64.6,241.5 65,241.5 65.3,241.6 65.6,241.7 66,241.8 66.3,241.9 67.3,242 67.6,241.9 67.9,241.8 68.3,241.3 68.6,239.4 68.9,234.7 69.3,227.8 69.6,222.5 69.9,223 70.2,228.9 70.6,235.2 70.9,237.4 71.2,233.7 71.6,224.3 71.9,213.9 72.2,210.3 72.6,216.7 72.9,227.7 73.2,236.2 73.5,239.9 73.9,239.6 74.2,236.2 74.5,231.1 74.9,227.4 75.2,228.2 75.5,232.8 75.9,237.7 76.2,240.6 76.5,241.7 76.8,242 79.8,242 80.1,241.9 80.5,241.8 80.8,241.7 81.1,241.5 81.5,241.4 81.8,241.5 82.1,241.6 82.5,241.7 82.8,241.8 83.1,241.9 83.8,241.9 84.1,241.9 84.4,241.8 84.8,241.6 85.1,241.5 85.4,241.5 85.8,241.5 86.1,241.6 86.4,241.8 86.7,241.9 87.1,241.9 88.4,241.9 88.7,241.5 89.1,240.1 89.4,236.4 89.7,230.7 90,225.8 90.4,225.7 90.7,230.4 91,236 91.4,239.1 91.7,238 92,232 92.4,222.1 92.7,214 93,214.1 93.3,222.3 93.7,232.2 94,238.2 94.3,239.5 94.7,237.1 95,232.7 95.3,229 95.7,229.2 96,233.1 96.3,237.7 96.6,240.5 97,241.7 97.3,242 99.3,241.9 99.6,241.9 99.9,241.8 100.3,241.7 101.9,241.6 102.3,241.5 102.9,241.6 103.2,241.7 103.6,241.8 103.9,241.9 104.2,242 105.2,242 105.6,241.9 105.9,241.8 106.2,241.6 106.5,241.6 106.9,241.5 107.2,241.6 107.5,241.7 107.9,241.8 108.2,241.8 108.5,241.4 108.9,239.5 109.2,234.9 109.5,227.7 109.8,221.6 110.2,221.5 110.5,227.4 110.8,234.5 111.2,238.3 111.5,237.6 111.8,233.1 112.2,227.5 112.5,225 112.8,228 113.1,233.9 113.5,238.7 113.8,241.1 114.1,241.8 115.5,241.8 115.8,241.7" fill="none" stroke="#6060ff" stroke-opacity="0.85" stroke-width="0.95" stroke-linejoin="round"/>
<polyline points="3.2,284.3 3.5,279.2 3.8,283.3 4.1,293 4.5,301.6 4.8,306.1 5.1,307.6 5.5,307.9 5.8,307.9 6.5,307.9 6.8,307.9 7.1,307.8 7.4,307.7 7.8,307.6 8.1,307.6 8.4,307.7 8.8,307.8 9.1,307.8 12.4,308 12.7,307.6 13.1,305.8 13.4,300.3 13.7,289.8 14,277.6 14.4,272.2 14.7,278.1 15,290.4 15.4,300.3 15.7,303.7 16,300.4 16.4,291.1 16.7,280.2 17,275.7 17.3,281.4 17.7,292.5 18,301.3 18.3,304.2 18.7,301 19,292.6 19.3,283 19.7,279.2 20,284.6 20.3,294.6 20.6,302.6 21,306.5 21.3,307.7 21.6,308 25.6,308 25.9,307.9 26.3,307.8 26.6,307.8 26.9,307.7 27.2,307.7 27.6,307.8 27.9,307.9 28.2,307.9 31.2,307.8 31.5,307.7 31.9,307.7 32.5,307.7 32.9,307.8 33.2,307.9 33.5,307.9 33.8,307.9 34.2,307.9 34.5,307.8 34.8,307.7 35.2,307.6 35.5,307.6 35.8,307.6 36.2,307.8 36.5,307.9 36.8,307.9 37.5,308 37.8,307.6 38.1,305.7 38.5,300.4 38.8,290.6 39.1,279.8 39.5,275.7 39.8,281.9 40.1,293.1 40.4,301.6 40.8,304.2 41.1,300.9 41.4,292.5 41.8,283.3 42.1,280.1 42.4,285.8 42.8,295.4 43.1,302.6 43.4,304.6 43.7,301.4 44.1,293.7 44.4,285.4 44.7,282.8 45.1,288.2 45.4,296.9 45.7,303.1 46.1,304.2 46.4,299.6 46.7,289.8 47,279.7 47.4,276.8 47.7,283.8 48,294.7 48.4,302.9 48.7,306.6 49,307.8 49.4,307.9 49.7,308 50.3,307.9 50.7,307.9 51,307.8 51.3,307.3 51.7,304.8 52,297.8 52.3,285.6 52.7,273.2 53,269.9 53.3,278.5 53.6,291.9 54,301.6 54.3,305.2 54.6,303.4 55,296.8 55.3,287.4 55.6,281.2 56,283.4 56.3,292 56.6,300.7 56.9,305.7 57.3,307.5 57.6,308 57.9,308 58.3,307.9 58.6,307.8 58.9,307.7 59.3,307.7 59.6,307 59.9,304.3 60.2,298.5 60.6,290.9 60.9,286.3 61.2,288.6 61.6,295.7 61.9,302.4 62.2,305.6 62.6,304.7 62.9,299.2 63.2,289.2 63.5,279.7 63.9,278 64.2,285.5 64.5,296.1 64.9,303.6 65.2,306.9 65.5,307.7 67.5,307.8 67.8,307.8 68.2,307.7 68.5,307.6 68.8,307.6 69.2,307.7 69.5,307.8 69.8,307.8 71.5,307.8 71.8,307.9 72.1,308 72.5,308 74.8,308 75.1,307.5 75.4,305.4 75.8,299.3 76.1,287.4 76.4,273.7 76.7,267.8 77.1,274.7 77.4,288.5 77.7,300 78.1,305.7 78.4,307.6 78.7,308 79.4,308 79.7,307.9 80,307.8 80.4,306.9 80.7,303.6 81,296 81.4,285.1 81.7,277.2 82,278.7 82.4,288.4 82.7,298.7 83,304.9 83.3,307.3 83.7,307.9 84,308.1 89,307.7 89.3,307.8 89.6,307.9 89.9,308 90.3,308 90.9,308.1 91.3,308 91.6,307.4 91.9,305.2 92.3,298.8 92.6,286.9 92.9,274.2 93.2,269.7 93.6,277.3 93.9,290.7 94.2,301.1 94.6,306.1 94.9,307.7 95.2,307.8 95.6,307.8 95.9,307.9 96.2,308 99.8,308 100.2,307.9 100.5,307.9 101.5,307.8 101.8,307.9 104.1,307.9 104.5,307.8 104.8,307.7 105.1,307.6 105.5,306.5 105.8,302.2 106.1,292.6 106.4,279.6 106.8,270.9 107.1,273.8 107.4,285.7 107.8,297.8 108.1,304.7 108.4,307.3 108.8,307.9 109.4,308 109.7,307.9 110.1,307.8 110.4,307.7 110.7,307.7 111.1,307.7 111.4,307.7 111.7,307.8 112.4,307.8 112.7,307.7 113,307.7 113.7,307.7 114,307.8 114.4,307.8 114.7,307.9 115,307.9 115.4,307.8 115.7,307.8" fill="none" stroke="#2a9058" stroke-opacity="0.95" stroke-width="0.95" stroke-linejoin="round"/>
<polyline points="3.2,308.1 4.8,308 5.1,307.9 5.5,307.9 5.8,307.8 6.5,307.8 6.8,306.7 7.1,302.6 7.4,293.2 7.8,279.3 8.1,268.8 8.4,270.3 8.8,282.3 9.1,295.7 9.4,303.8 9.8,306.7 10.1,306.4 10.4,303.1 10.7,296.5 11.1,288.9 11.4,285.7 11.7,289.5 12.1,297.3 12.4,303.6 12.7,306.8 13.1,307.8 13.4,308 20.3,308 20.6,307.6 21,306.2 21.3,301.9 21.6,294.2 22,285.7 22.3,282.7 22.6,287.8 23,296.5 23.3,303.1 23.6,305 23.9,301 24.3,289.7 24.6,273.1 24.9,260.9 25.3,263.2 25.6,277.9 25.9,293.7 26.3,303.3 26.6,306.9 26.9,307.7 27.2,307.7 27.6,307.8 27.9,307.9 28.2,308 28.9,308 29.2,307.9 29.6,307.9 29.9,307.8 30.2,307.7 31.2,307.7 31.5,306.3 31.9,301.6 32.2,291.3 32.5,277.3 32.9,268.2 33.2,271.6 33.5,284.5 33.8,297.2 34.2,304.4 34.5,306.3 34.8,304.5 35.2,299.1 35.5,291.5 35.8,286.4 36.2,288.1 36.5,295 36.8,302.1 37.1,306.1 37.5,307.6 37.8,307.6 38.5,307.5 38.8,307.6 39.1,307.7 39.5,307.9 39.8,307.9 40.4,307.9 40.8,307.9 41.1,307.8 41.4,307.7 42.1,307.8 42.4,307.8 42.8,307.9 43.1,308 48.4,307.6 48.7,306.9 49,304.5 49.4,300.3 49.7,296.1 50,295.1 50.3,298.1 50.7,302.7 51,306 51.3,307.5 51.7,308 52,308 52.3,308 52.7,307.9 53,307.8 53.3,307.7 53.6,307.7 56.3,307.6 56.6,307.7 56.9,306.9 57.3,304.6 57.6,300.6 57.9,296.8 58.3,296 58.6,299 58.9,303.2 59.3,306.2 59.6,307.6 59.9,308 60.2,308 61.2,308 61.6,307.9 62.9,307.9 63.2,308 66.2,307.9 66.5,307.9 66.8,307.7 67.2,307.7 67.8,307.6 68.2,307.7 68.5,307.8 68.8,307.9 69.2,308 73.1,307.9 73.4,307.9 73.8,307.7 74.1,307.6 74.4,307.6 74.8,307.6 75.1,307.7 75.4,307.8 77.1,307.7 77.4,307.8 77.7,307.9 78.1,307.9 78.4,308 83,307.9 83.3,307.8 83.7,306.7 84,303.6 84.3,297.8 84.7,291.4 85,288.8 85.3,292.4 85.7,298.9 86,303.7 86.3,303.8 86.6,297.6 87,284.7 87.3,270.5 87.6,265.3 88,273.6 88.3,288.5 88.6,300.2 89,305.8 89.3,307.6 89.6,308 89.9,307.9 90.3,307.8 90.6,307.7 90.9,307.6 91.3,307.6 91.6,307.7 91.9,307.8 92.3,307.9 92.6,308 92.9,308 101.2,307.8 101.5,307.8 101.8,307.7 102.2,307.6 102.8,307.6 103.1,307.7 103.5,307.8 104.1,307.8 104.5,307.7 105.1,307.7 105.5,307.7 105.8,307.8 106.4,307.8 106.8,307.7 107.1,307.7 107.8,307.7 108.1,307.7 108.4,307.8 110.4,308 110.7,307.7 111.1,306.3 111.4,301.5 111.7,291 112.1,276.7 112.4,267.4 112.7,270.7 113,283.8 113.4,296.9 113.7,304.5 114,307.2 114.4,307.8 115,307.8 115.4,307.9 115.7,307.9" fill="none" stroke="#4a4a4a" stroke-opacity="0.95" stroke-width="0.95" stroke-linejoin="round"/>
<polyline points="3.2,308 3.5,307.9 3.8,307.3 4.1,305 4.5,299.8 4.8,292.3 5.1,286.7 5.5,287.6 5.8,294.3 6.1,301.5 6.5,305.8 6.8,307.5 7.1,307.8 7.4,307.9 7.8,307.9 8.8,307.9 9.1,307.9 9.4,307.8 10.1,307.8 10.4,307.9 10.7,307.9 11.4,307.9 11.7,307.9 12.1,307.8 12.4,307.8 13.1,307.8 13.4,307.8 14,307.9 14.4,307.8 14.7,307.7 15,307.6 15.4,307.6 15.7,307.7 16,307.8 16.4,307.9 16.7,308 20,307.9 20.3,307.8 21.3,307.8 21.6,307.9 22,307.9 22.6,307.9 23,307.8 23.3,307.7 23.6,307.6 23.9,307.6 24.3,307.7 24.6,307.8 24.9,307.9 25.3,308 26.3,308 26.6,307.9 26.9,307.9 28.6,307.9 28.9,307 29.2,304.2 29.6,298 29.9,289.4 30.2,283.5 30.5,285.3 30.9,293.2 31.2,301.2 31.5,305.8 31.9,307.5 32.2,308 32.5,308.1 33.8,308 34.2,307.9 34.5,307.9 34.8,307.8 35.2,307.7 37.8,307.7 38.1,307.8 38.5,307.9 38.8,308 44.7,308 45.1,307.9 45.4,307.8 45.7,307.7 46.1,307.7 46.4,307.7 46.7,307.7 47,307.8 47.4,307.9 47.7,308 48.4,308 48.7,307.9 49,307.8 49.4,307.7 49.7,307.6 50.3,307.7 50.7,307.7 51,307.8 51.3,307.9 54.3,308 54.6,307.9 55,307.8 55.3,307.7 56,307.8 56.3,307.8 56.6,307.9 57.3,307.8 57.6,307.7 57.9,307.7 58.6,307.7 58.9,307.8 59.3,307.9 59.6,307.9 62.2,308 62.6,307.9 62.9,307.8 63.2,307.8 63.5,307.8 63.9,307.2 64.2,304.6 64.5,298.5 64.9,289.3 65.2,281.9 65.5,282.3 65.9,290.1 66.2,299.2 66.5,304.8 66.8,306 67.2,302.8 67.5,293.6 67.8,279.3 68.2,267.7 68.5,268 68.8,279.9 69.2,294.1 69.5,302.7 69.8,304.5 70.1,299.9 70.5,289.3 70.8,276.8 71.1,271.3 71.5,277.4 71.8,290 72.1,300.4 72.5,304.9 72.8,303.8 73.1,297.3 73.4,286.9 73.8,278.5 74.1,278.9 74.4,287.7 74.8,298 75.1,304.6 75.4,307.2 75.8,307.9 76.1,307.9 76.4,307.8 76.7,307.8 77.4,307.8 77.7,307.3 78.1,305.2 78.4,300.3 78.7,293 79.1,287.6 79.4,288.4 79.7,294.7 80,301.6 80.4,305.9 80.7,307.5 81,307.6 81.4,307.6 81.7,307.7 82,307.8 82.4,307.9 82.7,307.9 86,308 86.3,307.9 86.6,307.9 87,307.8 88.3,307.9 88.6,307.5 89,305.7 89.3,300.5 89.6,291 89.9,280.9 90.3,277.6 90.6,283.8 90.9,294.5 91.3,302.7 91.6,306.6 91.9,307.7 93.9,307.6 94.2,307.6 94.6,307.7 94.9,307.8 95.2,307.9 95.6,308 96.2,308 96.5,308 96.9,307.5 97.2,305.7 97.5,300.6 97.9,291.4 98.2,282.1 98.5,279.4 98.9,285.7 99.2,295.7 99.5,303.3 99.8,306.7 100.2,307.6 100.8,307.6 101.2,307.7 101.5,307.8 102.5,307.7 102.8,307 103.1,304.2 103.5,298 103.8,289.2 104.1,283.1 104.5,284.7 104.8,292.7 105.1,300.9 105.5,305.7 105.8,307.5 106.1,307.8 106.8,307.8 107.1,307.9 107.4,307.9 107.8,307.8 108.1,306.8 108.4,303.3 108.8,295.9 109.1,285.8 109.4,279.4 109.7,282 110.1,291.3 110.4,300.4 110.7,305.6 111.1,307.5 111.4,308 111.7,307.9 113,307.9 113.4,308 114.4,308 114.7,307.9 115,307.8 115.4,307.7 115.7,307.6" fill="none" stroke="#ff1e1e" stroke-opacity="0.95" stroke-width="0.95" stroke-linejoin="round"/>
<polyline points="3.2,308.1 3.8,308 4.1,308 4.5,307.9 4.8,307.8 5.1,307.7 5.5,307.6 5.8,307.6 6.1,307.7 6.5,307.8 6.8,307.8 7.1,307.9 8.4,307.9 8.8,307.9 9.1,307.8 9.4,307.7 10.1,307.7 10.4,307.8 10.7,307.9 11.1,308 14.7,307.9 15,307.8 15.4,307.8 16,307.7 16.4,307.8 16.7,307.9 17,308 17.3,308 22.6,307.9 23,307.9 25.6,308 25.9,307.5 26.3,305.7 26.6,300.8 26.9,292 27.2,282.9 27.6,280.3 27.9,286.3 28.2,296.1 28.6,303.4 28.9,306.8 29.2,307.8 29.6,308 30.5,308 30.9,307.9 31.2,307.8 31.5,307.7 31.9,307.7 32.2,307.7 32.5,307.8 32.9,307.8 33.2,307.9 34.2,307.9 34.5,307.9 36.2,307.8 36.5,307.8 36.8,307.7 37.5,307.7 37.8,307.7 38.1,307.8 38.5,307.9 38.8,308 39.8,308 40.1,307.9 40.4,307.8 40.8,307.7 41.4,307.8 41.8,307.8 42.1,307.9 44.7,308 45.1,307.9 45.4,307.8 45.7,307.8 47.7,307.8 48,307.7 48.4,307.7 48.7,307.7 49,307.7 49.4,307.8 49.7,307.9 50,308 58.3,307.9 58.6,307.9 63.2,308 63.5,308 63.9,307.9 64.2,307.8 65.2,307.8 65.5,307.9 65.9,308 66.2,308 67.5,308 67.8,307.9 68.2,307.8 69.2,307.9 69.5,307.9 69.8,308 74.8,308 75.1,307.9 75.4,307.8 75.8,307.7 76.4,307.7 76.7,307.8 77.1,307.9 77.4,308 77.7,308 81.4,307.9 81.7,307.8 82,307.7 82.7,307.7 83,307.8 83.3,307.9 83.7,307.9 84,308 84.7,308 85,307.9 85.3,307.8 85.7,307.8 86.6,307.8 87,307.8 87.3,307.9 88.6,307.9 89,307.8 89.3,307.7 89.9,307.7 90.3,307.7 90.6,307.8 90.9,307.9 91.3,308 93.6,308.1 93.9,308 94.2,307.4 94.6,305.3 94.9,299.3 95.2,288.4 95.6,276.9 95.9,273.2 96.2,280.5 96.5,292.7 96.9,302 97.2,306.4 97.5,307.7 97.9,308 98.9,308 99.2,307.9 99.5,307.7 99.8,306.4 100.2,301.7 100.5,291.4 100.8,277.1 101.2,267.5 101.5,270.4 101.8,283.4 102.2,296.7 102.5,304.3 102.8,307.2 103.1,307.7 103.5,307.6 105.8,307.7 106.1,307.7 106.4,307.8 106.8,307.9 110.4,307.9 110.7,307.8 111.1,307.7 111.4,307.6 112.1,307.6 112.4,307.7 112.7,307.8 113,307.9 113.4,307.9 113.7,307.5 114,305.5 114.4,300.3 114.7,291.1 115,281.8 115.4,279.5 115.7,286" fill="none" stroke="#2424ff" stroke-opacity="0.95" stroke-width="0.95" stroke-linejoin="round"/>
<polyline points="351.2,241.2 351.5,241.2 351.8,241.1 352.1,241 352.5,240.9 352.8,240.3 353.1,238.6 353.5,236.9 353.8,234.7 354.1,231.3 354.5,224.9 354.8,215.7 355.1,207.5 355.4,205.4 355.8,211.3 356.1,219.8 356.4,224.6 356.8,223.1 357.1,216.6 357.4,209.8 357.8,208.8 358.1,214.4 358.4,221.9 358.7,226.2 359.1,225.6 359.4,221.6 359.7,217.7 360.1,217.5 360.4,221.3 360.7,226.5 361.1,231.3 361.4,234.3 361.7,236.4 362,238.2 362.4,239.9 362.7,240.9 363,241 363.4,241 363.7,240.3 364,237.5 364.4,230.7 364.7,220.4 365,212 365.3,212.4 365.7,221.1 366,231.3 366.3,237.7 366.7,240.4 367,240.7 367.3,240.8 367.7,240.9 368,241 368.3,241.1 368.6,241.1 369,241 369.3,240.9 369.6,240.8 370,240.7 370.3,240.8 370.6,240.8 371,241 371.3,241.1 371.6,241.1 373.3,241.1 373.6,241 373.9,241 374.3,240.9 374.6,240.7 374.9,240.6 375.6,240.7 375.9,240.7 376.2,240.8 377.2,240.8 377.6,239.9 377.9,236.1 378.2,227.2 378.5,214.1 378.9,204.1 379.2,205.3 379.5,216.7 379.9,229.3 380.2,237.2 380.5,240.2 380.9,240.6 381.8,240.6 382.2,240.7 382.5,240 382.8,236.8 383.2,229.5 383.5,219.6 383.8,213 384.2,215.2 384.5,224.2 384.8,233.2 385.1,237.6 385.5,236.7 385.8,231 386.1,222.6 386.5,217.3 386.8,219.4 387.1,227.1 387.5,234.6 387.8,237.8 388.1,235.8 388.4,228.4 388.8,218.2 389.1,212 389.4,214.9 389.8,224.5 390.1,233.7 390.4,238.8 390.8,240.7 391.1,241.1 391.7,241 392.1,241 392.4,240.9 394.1,241 394.4,240.9 394.7,240.8 395,240.7 395.4,240.7 395.7,239.9 396,236.4 396.4,229.8 396.7,218.3 397,204.1 397.4,195.1 397.7,197.8 398,209 398.3,218.8 398.7,222.1 399,218.9 399.3,213.1 399.7,210 400,212.7 400.3,218.9 400.7,224 401,225.5 401.3,222.7 401.6,215.3 402,206.4 402.3,202.2 402.6,206.2 403,215.1 403.3,222.5 403.6,225.4 404,223.7 404.3,218.1 404.6,211.3 404.9,208.3 405.3,211.6 405.6,218.5 405.9,224 406.3,225.7 406.6,223.4 406.9,217.4 407.3,210.4 407.6,207.4 407.9,211 408.2,217.5 408.6,220.9 408.9,218.4 409.2,211.6 409.6,206.5 409.9,208 410.2,214.9 410.6,221.9 410.9,225.4 411.2,224.7 411.5,220.1 411.9,213.2 412.2,208.5 412.5,210 412.9,216.2 413.2,221.9 413.5,223.2 413.9,219.5 414.2,213.2 414.5,209.2 414.8,211.3 415.2,219.1 415.5,227.2 415.8,232.6 416.2,235.9 416.5,238.3 416.8,240.4 417.2,240.7 417.5,240.8 417.8,241 418.1,241.1 418.5,241.1 421.4,241 421.8,241 422.1,240.9 423.8,241 424.1,240.9 424.4,240.8 424.7,240.7 425.1,240.7 425.4,240.8 425.7,240.9 426.1,241 426.4,241.1 426.7,241.1 428.7,241.1 429,240.5 429.4,239.1 429.7,237.6 430,235.1 430.4,230.9 430.7,224.7 431,219.7 431.3,219.1 431.7,222.7 432,226.5 432.3,226.1 432.7,220 433,211.7 433.3,207.9 433.7,212.2 434,220.7 434.3,227 434.6,227.7 435,223.3 435.3,217.5 435.6,215.3 436,218.9 436.3,225.3 436.6,230.2 437,232.6 437.3,233.4 437.6,233.6 438.6,233.6 438.9,233.5 439.3,233.1 439.6,231.4 439.9,226.7 440.3,218.4 440.6,209.7 440.9,207.1 441.2,212.8 441.6,222 441.9,228.7 442.2,230.7 442.6,228.2 442.9,222.4 443.2,216.2 443.6,214.6 443.9,218.9 444.2,225.6 444.5,230.5 444.9,232.8 445.2,233.4 445.5,233.6 445.9,233.6 446.2,233.4 446.5,232.7 446.9,230.4 447.2,225.9 447.5,220.6 447.8,217.9 448.2,220.3 448.5,225.6 448.8,230.2 449.2,232.3 449.5,232.1 449.8,229.2 450.2,223 450.5,215.3 450.8,211.4 451.1,214.6 451.5,221.8 451.8,227.2 452.1,227.3 452.5,222.1 452.8,215 453.1,211.8 453.5,215.5 453.8,223 454.1,228.9 454.4,230.8 454.8,228.4 455.1,222.1 455.4,214.8 455.8,211.8 456.1,215.8 456.4,223.2 456.8,229 457.1,230.6 457.4,227.6 457.7,220.4 458.1,212.3 458.4,209.2 458.7,213.9 459.1,222.4 459.4,229.1 459.7,232.7 460.1,235 460.4,236.5 460.7,237.8 461,239 461.4,240.3 461.7,240.7 462,240.6 462.4,240.7 462.7,240.8 463,240.9 463.4,241 463.7,241 464.7,241 465,240.9 465.3,240.9 466,240.9 466.3,240.9 466.7,241 467,241.1 467.6,241.1" fill="none" stroke="#3aa870" stroke-opacity="0.59" stroke-width="0.9" stroke-linejoin="round"/>
<polyline points="351.2,237.7 351.5,230.4 351.8,217.8 352.1,205.5 352.5,202.7 352.8,211.9 353.1,225.4 353.5,235.2 353.8,239.6 354.1,240.9 354.5,241.1 361.1,241.1 361.4,241.1 361.7,241 362,240.9 362.4,240.8 362.7,240.8 363,240.9 363.4,241 363.7,241.1 364.4,241 364.7,241 365,240.9 365.7,240.9 366,241 366.3,241.1 369.6,241.1 370,241.1 370.3,241 370.6,241 371,240.9 371.3,240.8 371.6,240.7 371.9,240.6 372.6,240.6 372.9,240.7 373.3,240.9 373.6,241 373.9,241.1 379.9,241.1 380.2,241 380.5,241 381.2,240.9 381.5,241 381.8,241 382.2,241.1 383.2,241.1 383.5,241.1 383.8,241 384.2,240.9 384.5,240.8 384.8,240.8 388.1,240.8 388.4,240.9 388.8,241 389.1,241.1 389.4,241.1 389.8,240.8 390.1,239.4 390.4,234.8 390.8,225.5 391.1,213.8 391.4,207.5 391.7,211.9 392.1,223.2 392.4,233.3 392.7,238.2 393.1,237.7 393.4,230.6 393.7,214.9 394.1,195 394.4,183.9 394.7,191 395,210.1 395.4,227.6 395.7,237 396,240.3 396.4,241.1 396.7,241.2 404,241.2 404.3,241.1 404.6,241 404.9,240.9 405.3,240.8 407.6,240.8 407.9,240.9 408.2,241 408.6,241.1 414.2,240.9 414.5,240.9 414.8,240.8 415.5,240.8 415.8,240.9 416.2,241 416.5,241.1 416.8,241.2 419.1,241.1 419.5,241 419.8,241 420.1,240.9 420.8,240.9 421.1,240.9 421.4,241 421.8,241.1 422.4,241 422.8,241 423.1,240.9 423.4,240.8 424.1,240.7 424.4,240.7 425.1,240.6 425.4,240.7 425.7,240.8 426.1,241 426.4,241.1 426.7,241.1 427.7,241.1 428,240.6 428.4,238.9 428.7,235 429,229.7 429.4,226 429.7,227.1 430,231.9 430.4,236.9 430.7,239.8 431,240.9 431.3,241.1 434.3,241.1 434.6,241 435,241 436.3,241.1 436.6,240.8 437,239.5 437.3,235.9 437.6,229.2 437.9,222.1 438.3,219.8 438.6,224.2 438.9,231.7 439.3,237.4 439.6,240.2 439.9,241 441.2,241 441.6,241 441.9,241.1 442.9,241.1 443.2,241.1 443.6,240.9 443.9,240.8 444.2,240.7 444.9,240.7 445.2,240.8 445.5,240.9 445.9,241.1 446.2,241.1 447.2,241.1 447.5,241.1 447.8,241 451.5,241.2 451.8,241.1 452.1,241 452.5,240.9 452.8,240.7 453.1,240.6 453.5,240.7 453.8,240.7 454.1,240.9 454.4,241 454.8,241.1 455.1,241.1 455.4,241 455.8,240.9 456.1,240.8 456.4,240.7 456.8,240.6 458.4,240.6 458.7,240.6 459.1,240.7 459.4,240.8 459.7,240.9 461,240.9 461.4,240.9 461.7,241 462,241.1 465.3,241.1 465.7,241 466,240.9 466.3,240.9 466.7,240.9 467,240.9 467.3,241 467.6,241.1" fill="none" stroke="#555555" stroke-opacity="0.59" stroke-width="0.9" stroke-linejoin="round"/>
<polyline points="351.2,241.2 352.5,241.1 352.8,241.1 353.1,241 353.5,240.8 353.8,240.8 355.4,240.8 355.8,240.9 356.1,240.9 358.1,240.9 358.4,241 358.7,241 359.4,241 359.7,240.9 360.1,240.8 360.4,240.7 360.7,240.7 361.1,240.7 361.4,240.9 361.7,241 362,241.1 362.4,241.2 365.7,241.1 366,240.6 366.3,238.2 366.7,231.3 367,218.5 367.3,204.2 367.7,198.7 368,206.7 368.3,221.4 368.6,233.2 369,238.9 369.3,240.8 369.6,240.9 371.6,240.9 371.9,240.1 372.3,236.8 372.6,229 372.9,217.4 373.3,208.4 373.6,209.3 373.9,219.3 374.3,230.6 374.6,237.4 374.9,239.1 375.2,236.2 375.6,227.8 375.9,214.9 376.2,204.6 376.6,205.4 376.9,216.4 377.2,229.1 377.6,237 377.9,240.2 378.2,241 378.5,241.1 379.2,241.1 379.5,241 379.9,239.9 380.2,236.4 380.5,228.5 380.9,217.4 381.2,209.7 381.5,211.7 381.8,221.7 382.2,232.1 382.5,238.2 382.8,240.5 383.2,241 384.8,241.1 385.1,241 385.5,240.9 385.8,240.8 386.5,240.8 386.8,240.8 388.4,240.8 388.8,240.9 389.1,241 389.4,241 391.4,241 391.7,241 392.1,240.9 392.4,240.7 392.7,240.6 393.4,240.6 393.7,240.7 394.1,240.8 394.4,240.8 394.7,240.9 395,241 395.4,241.1 395.7,241.1 397,241.1 397.4,241.1 397.7,241 399,240.9 399.3,240.9 399.7,240.8 400.3,240.8 400.7,240.9 401,241 401.3,241.1 401.6,241.1 406.9,241.1 407.3,241.1 408.6,241.1 408.9,241.1 409.9,241.1 410.2,241 410.6,240.9 410.9,240.8 411.2,240.7 411.5,240.7 411.9,240.7 412.2,240.8 412.5,241 412.9,241.1 414.8,241.1 415.2,240.6 415.5,238.8 415.8,234.4 416.2,227.3 416.5,221.2 416.8,220.9 417.2,226.6 417.5,233.3 417.8,236.2 418.1,233.8 418.5,227.9 418.8,222.9 419.1,223.3 419.5,228.8 419.8,235.1 420.1,239.1 420.5,240.7 420.8,241 426.1,241.2 426.4,241.1 426.7,241 427.1,241 432,240.9 432.3,241 432.7,241.1 433,241.1 437.9,241.2 438.3,241.1 438.6,241 438.9,241 439.9,241 440.3,241 440.6,241.1 452.1,241.2 452.5,241.1 452.8,241 453.1,240.9 453.5,240.9 454.1,240.9 454.4,241 454.8,241.1 455.1,241.1 459.1,241.1 459.4,240.8 459.7,239.5 460.1,235.7 460.4,228.8 460.7,221.4 461,218.9 461.4,223.4 461.7,231.2 462,237.2 462.4,240.1 462.7,241 463,241.2 463.4,241.1 463.7,241.1 464,241 465,241 465.3,241.1 465.7,241.1 467.6,241.1" fill="none" stroke="#ff4646" stroke-opacity="0.63" stroke-width="0.9" stroke-linejoin="round"/>
<polyline points="351.2,241.2 353.8,241.1 354.1,241.1 354.5,241 355.4,241 355.8,241 356.1,241.1 357.1,241.1 357.4,241 358.4,241 358.7,241.1 359.1,241.1 360.7,241.2 361.1,241 361.4,240.1 361.7,236.7 362,228.2 362.4,214.6 362.7,202.6 363,201.7 363.4,212.6 363.7,226.6 364,235.9 364.4,239.9 364.7,240.8 365,240.8 365.3,241 365.7,241.1 366,241.1 368.3,241.2 368.6,240.9 369,239.6 369.3,235 369.6,224.2 370,208.3 370.3,196.4 370.6,198 371,211.8 371.3,227 371.6,236.4 371.9,240.1 372.3,241 372.6,241.2 376.9,241.1 377.2,241.1 377.6,241 377.9,240.8 378.2,240.8 378.5,240.7 378.9,240.8 379.2,240.9 379.5,241 379.9,241.1 380.9,241.1 381.2,241.1 381.5,241 381.8,240.9 382.5,241 382.8,241 383.8,241 384.2,241 385.1,241 385.5,241 385.8,241.1 386.1,241.2 389.8,241.1 390.1,241.1 390.4,241 390.8,240.9 391.1,240.8 391.4,240.7 391.7,240.7 392.1,240.6 392.7,240.6 393.1,240.7 393.4,240.8 393.7,240.9 394.1,241 394.4,241 394.7,241 395,240.9 395.7,240.9 396,240.9 396.4,241 397.4,241 397.7,240.9 398.7,240.9 399,241 399.3,241.1 407.3,241.1 407.6,241 407.9,240.9 408.2,240.8 408.6,240.7 408.9,240.6 409.2,240.7 409.6,240.8 409.9,240.9 410.2,241 410.6,241 410.9,240.9 411.2,240.8 411.5,240.7 412.2,240.7 412.5,240.8 412.9,240.9 413.2,241 413.9,241.1 414.2,241 414.5,240.9 414.8,240.8 415.2,240.8 417.2,240.7 417.5,240.8 417.8,240.9 418.1,241 418.5,241.1 419.8,241 420.1,240.4 420.5,238.2 420.8,233 421.1,225.3 421.4,219.4 421.8,220.1 422.1,226.8 422.4,234 422.8,237.5 423.1,235.4 423.4,227 423.8,214.2 424.1,204.8 424.4,206.4 424.7,217.7 425.1,229.9 425.4,236.8 425.7,237.9 426.1,234.7 426.4,229.2 426.7,225.2 427.1,226.1 427.4,231.2 427.7,236.5 428,239.6 428.4,240.8 429,240.8 429.4,240.9 429.7,240.9 430.4,240.9 430.7,240.9 431,240.8 431.7,240.8 432,240.9 432.3,241 433,240.9 433.3,240.9 433.7,240.8 434,240.8 434.3,240.9 434.6,241 435,241.1 435.3,241.1 438.9,241.1 439.3,241 439.6,240.9 439.9,240.8 440.3,240.8 440.6,240.8 440.9,240.9 441.2,241 441.6,240.3 441.9,237.8 442.2,232.5 442.6,225.6 442.9,221.5 443.2,223.7 443.6,230.1 443.9,236.2 444.2,238.8 444.5,237.1 444.9,229.9 445.2,217.4 445.5,205.5 445.9,203.4 446.2,213 446.5,226.3 446.9,235.6 447.2,239.7 447.5,240.9 447.8,241.1 448.2,241.2 449.2,241.2 449.5,241.1 449.8,241 450.2,240.9 450.5,240.9 451.1,240.9 451.5,241 452.5,241 452.8,240.9 453.1,240.8 455.4,240.8 455.8,240.9 456.1,240.9 456.4,241 456.8,241 457.1,241 457.4,240.9 458.1,240.8 458.4,240.9 458.7,241 459.1,241.1 461.4,241 461.7,240.8 462,239.2 462.4,234.9 462.7,227.5 463,220.1 463.4,218.1 463.7,223.3 464,230.6 464.3,234 464.7,231.5 465,225.8 465.3,222.3 465.7,224.6 466,230.5 466.3,234.9 466.7,234.6 467,230.4 467.3,226.4 467.6,226.5" fill="none" stroke="#6060ff" stroke-opacity="0.59" stroke-width="0.9" stroke-linejoin="round"/>
<polyline points="350.6,306.9 351,305.6 351.3,301.3 351.6,291.6 351.9,277.9 352.3,268.4 352.6,270.9 352.9,283.2 353.3,296 353.6,303.5 353.9,306.3 354.3,307 361.8,307.2 362.2,307.1 362.5,306.6 362.8,304.3 363.2,297.8 363.5,285.8 363.8,272.7 364.2,267.9 364.5,275.5 364.8,289.2 365.1,299.8 365.5,304.1 365.8,302.9 366.1,296.6 366.5,286.9 366.8,279.8 367.1,281 367.5,289.4 367.8,298.1 368.1,301.5 368.4,297.7 368.8,287.4 369.1,276.3 369.4,272.9 369.8,280.3 370.1,292.3 370.4,301.3 370.8,305.6 371.1,306.9 371.4,307 372.4,307 372.7,307 373.1,307.1 377,307 377.4,306.9 377.7,306.8 378,306.7 378.7,306.7 379,306.8 379.3,306.9 381,306.9 381.3,306.9 381.6,306.8 382.3,306.8 382.6,306.8 383,306.9 383.3,307 383.6,307.1 384.3,307.1 384.6,307 384.9,306.9 385.3,306.9 385.9,306.9 386.3,307 386.6,307.1 386.9,307.1 387.6,307.2 387.9,307 388.2,305.9 388.6,302.2 388.9,293.6 389.2,281.1 389.6,271.8 389.9,273.3 390.2,284.2 390.6,296 390.9,302.3 391.2,302 391.5,295.6 391.9,285.4 392.2,278 392.5,279.6 392.9,288.7 393.2,298.2 393.5,303 393.9,301.6 394.2,294.2 394.5,283.1 394.8,275.3 395.2,277.4 395.5,287.5 395.8,298 396.2,303.9 396.5,305 396.8,301.4 397.2,292 397.5,278.5 397.8,268.9 398.1,271 398.5,283.1 398.8,295.8 399.1,303.4 399.5,306.3 399.8,307 400.1,307.1 401.4,307.2 401.8,307.1 402.1,306.3 402.4,303.2 402.8,294.4 403.1,278.2 403.4,260.8 403.8,254.8 404.1,265.4 404.4,283.4 404.7,296.6 405.1,300 405.4,294.6 405.7,284.7 406.1,277.8 406.4,280 406.7,289.4 407.1,298.9 407.4,304.5 407.7,306.6 408,307 412,307.1 412.3,307.1 412.7,306.4 413,303.6 413.3,296.3 413.7,283.9 414,271.8 414.3,269.2 414.6,278.4 415,291.8 415.3,301.4 415.6,305.6 416,306.9 416.3,307.1 417.9,307.1 418.3,307 418.6,306.9 418.9,306.8 419.6,306.8 419.9,306.9 420.3,307 420.6,307 420.9,307 421.2,307 421.6,306.9 421.9,306.8 422.6,306.9 422.9,306.9 423.2,307 423.6,307.1 424.5,307.1 424.9,307 425.2,307 425.9,306.9 426.2,306.2 426.5,303.3 426.9,295.8 427.2,283.9 427.5,273.3 427.8,272.4 428.2,281.9 428.5,294.2 428.8,302.5 429.2,306 429.5,306.8 429.8,306.9 430.2,307 430.8,307 431.1,306.9 431.5,306.3 431.8,303.6 432.1,297.1 432.5,287.1 432.8,278.7 433.1,278.7 433.5,287 433.8,297.1 434.1,303.6 434.4,306.3 434.8,307 438.4,306.8 438.7,306.9 439.1,307 439.4,307.1 439.7,307.1 442.4,307 442.7,306.7 443,305 443.4,299.9 443.7,289.8 444,277.8 444.3,272.2 444.7,277.7 445,289.6 445.3,299.8 445.7,305 446,306.7 446.3,306.9 447,307 447.3,307 447.6,307.1 452.9,306.9 453.3,306.8 453.6,306.8 454.2,306.8 454.6,306.8 454.9,306.9 455.2,307 455.6,307 455.9,307 456.2,306.9 456.6,306.8 456.9,306.2 457.2,303.2 457.5,296 457.9,285 458.2,276 458.5,276.3 458.9,285.5 459.2,296.5 459.5,303.4 459.9,306.3 460.2,306.8 462.2,306.8 462.5,306.9 462.8,306.9 464.5,306.9 464.8,306.9 465.1,307 465.5,307.1 466.8,307.1 467.1,307.1 467.4,307" fill="none" stroke="#3aa870" stroke-opacity="0.64" stroke-width="0.9" stroke-linejoin="round"/>
<polyline points="350.6,307.2 351.3,307.1 351.6,307 351.9,307 352.3,306.9 352.6,306.8 352.9,306.8 353.3,306.9 353.6,307 353.9,307 354.6,307 354.9,306.9 355.2,306.8 355.6,306.7 355.9,306.7 356.2,306.8 356.6,306.5 356.9,304.2 357.2,297.8 357.6,286.1 357.9,273.7 358.2,269.7 358.5,277.5 358.9,290.6 359.2,300.6 359.5,304.9 359.9,304.8 360.2,300.7 360.5,292.7 360.9,284 361.2,281 361.5,286.3 361.8,295.4 362.2,302.5 362.5,305.9 362.8,306.9 363.2,307 363.5,307 363.8,306.9 364.2,306.8 364.5,306.8 365.1,306.8 365.5,306.9 365.8,307 366.1,307.1 370.1,307.1 370.4,307 370.8,305.9 371.1,302.5 371.4,294.9 371.7,284.3 372.1,277 372.4,279.1 372.7,288.7 373.1,298.5 373.4,304 373.7,304.7 374.1,300.4 374.4,289.3 374.7,273.5 375,262.4 375.4,265.2 375.7,279.3 376,294.1 376.4,302.9 376.7,306.2 377,307 377.4,307.1 379.7,307.1 380,307 380.3,306.9 380.7,306.8 381,306.8 381.3,306.7 381.6,306.8 382,306.4 382.3,303.6 382.6,296 383,282.3 383.3,268 383.6,263.7 384,273.1 384.3,288.2 384.6,299.2 384.9,302.7 385.3,299.1 385.6,290.3 385.9,281.1 386.3,278.6 386.6,285 386.9,295.1 387.3,302.5 387.6,305.9 387.9,306.9 388.2,307.2 393.2,307.1 393.5,307 398.5,307.2 398.8,307.1 399.1,306.5 399.5,304.7 399.8,300.7 400.1,295 400.5,291.1 400.8,292.2 401.1,297.4 401.4,302.6 401.8,305.7 402.1,306.8 402.4,307 402.8,306.9 403.1,306.8 403.8,306.8 404.1,306.9 404.4,307 404.7,307.1 405.1,307.1 406.4,307.1 406.7,307 407.1,306.4 407.4,304.5 407.7,300.3 408,294.8 408.4,291.5 408.7,293.2 409,298.3 409.4,303.2 409.7,305.7 410,305.9 410.4,303.4 410.7,297.6 411,289.9 411.3,285.1 411.7,287.2 412,294.5 412.3,301.4 412.7,305.4 413,306.8 413.3,307.1 416.6,307 417,307 417.3,307.1 421.9,307.1 422.2,307.1 422.6,307 422.9,306.9 423.6,307 423.9,307 424.2,307.1 425.5,307.1 425.9,307 426.2,306.9 429.8,307 430.2,306.9 430.5,306.8 430.8,306.8 431.1,306.8 431.5,306.9 431.8,307 432.1,307 432.5,307.1 433.1,307.1 433.5,307 433.8,307 434.1,306.9 434.4,306.6 434.8,305 435.1,300.8 435.4,294.3 435.8,288.8 436.1,288.7 436.4,294 436.8,300.5 437.1,304.4 437.4,304.5 437.7,299.9 438.1,289.9 438.4,277.9 438.7,272.2 439.1,277.5 439.4,289.4 439.7,299.7 440.1,304.9 440.4,306.7 440.7,306.8 441,306.9 441.4,307 441.7,307.1 442.7,307.1 443,307 443.4,306.9 444,306.9 444.3,307 444.7,307 445,307.1 454.6,307.1 454.9,307 457.5,307.1 457.9,307 458.2,307 459.2,307 459.5,307 459.9,307.1 460.8,307.1 461.2,307 462.2,307 462.5,306.1 462.8,302.9 463.2,295.3 463.5,283.6 463.8,274.3 464.1,274.7 464.5,284.5 464.8,296 465.1,303.3 465.5,306.2 465.8,306.9 466.1,307 466.5,307.1 467.4,307.2" fill="none" stroke="#555555" stroke-opacity="0.64" stroke-width="0.9" stroke-linejoin="round"/>
<polyline points="350.6,307.2 351.9,307.1 352.3,307 353.6,307 353.9,306.1 354.3,303.1 354.6,296.3 354.9,286.6 355.2,279.7 355.6,281.2 355.9,289.9 356.2,299 356.6,304.5 356.9,306.6 357.2,306.8 357.9,306.9 358.2,307 358.5,307 358.9,307.1 361.5,307 361.8,307 362.2,306.9 363.2,306.9 363.5,307 363.8,307.1 364.2,307.1 367.8,306.9 368.1,307 368.4,307 372.7,307.1 373.1,307 373.4,307 373.7,306.9 375,306.8 375.4,306.8 376,306.7 376.4,306.8 376.7,306.9 377,307 377.4,307.1 377.7,307.1 378.3,307.2 378.7,307.1 379,306.6 379.3,304.4 379.7,298.5 380,287.9 380.3,277.2 380.7,274.2 381,281.5 381.3,293.1 381.6,301.7 382,305.7 382.3,306.9 382.6,307.1 383.3,307.1 383.6,307 384,306.9 384.3,306.9 384.9,306.9 385.3,306.9 385.6,307 385.9,307.1 388.9,307.1 389.2,307.1 389.6,307 389.9,306.9 390.2,306.8 390.6,306.7 390.9,306.7 391.2,306.8 391.5,306.9 391.9,307 392.2,307.1 392.9,307.1 393.2,307 393.5,306.9 394.5,306.9 394.8,307 395.2,307.1 409.7,307.1 410,307.1 410.4,307 410.7,306.9 411,306.8 413,306.9 413.3,306.9 413.7,307 414,307.1 414.3,307.1 414.6,307.1 415,306.8 415.3,305.5 415.6,301.1 416,292.1 416.3,280.6 416.6,274 417,278 417.3,289 417.6,299 417.9,303.7 418.3,302.6 418.6,295.1 418.9,282.1 419.3,270 419.6,268.4 419.9,278.5 420.3,292.2 420.6,301.5 420.9,304.9 421.2,303.3 421.6,296.5 421.9,284.6 422.2,273.5 422.6,271.7 422.9,280.7 423.2,293.1 423.6,301.2 423.9,302.6 424.2,297.3 424.5,287.1 424.9,277.7 425.2,276.5 425.5,284.6 425.9,295.5 426.2,302.9 426.5,306.1 426.9,307 427.2,307.1 427.5,307 427.8,306.9 428.2,306.9 428.5,306.9 428.8,306.4 429.2,303.8 429.5,297.5 429.8,287.5 430.2,278.9 430.5,278.5 430.8,286.6 431.1,296.8 431.5,303.5 431.8,306.2 432.1,307 432.5,307.1 432.8,307.1 433.1,307.1 433.5,307 433.8,306.9 434.1,306.8 436.4,306.7 436.8,306.8 437.1,306.8 437.7,306.8 438.1,306.7 438.7,306.7 439.1,306.8 439.4,306.9 439.7,306.9 440.1,306.9 440.4,305.7 440.7,302.1 441,294.9 441.4,286.2 441.7,281.8 442,285.5 442.4,294.1 442.7,301.6 443,305.5 443.4,306.7 443.7,306.7 445.3,306.7 445.7,306.7 446,306.8 446.3,306.9 446.7,307 448,307 448.3,306.7 448.6,305 449,299.8 449.3,289.6 449.6,277.7 450,272.2 450.3,277.8 450.6,289.8 450.9,299.9 451.3,305 451.6,306.7 451.9,307.1 452.3,307.2 452.9,307.1 453.3,307.1 453.6,307 453.9,306.2 454.2,303.3 454.6,296.4 454.9,285.9 455.2,277.6 455.6,278.1 455.9,287 456.2,297.3 456.6,303.7 456.9,306.3 457.2,307 459.2,306.9 459.5,306.1 459.9,302.9 460.2,295.2 460.5,283.6 460.8,274.5 461.2,275.2 461.5,285 461.8,296.4 462.2,303.4 462.5,306.3 462.8,307 463.2,307.1 463.5,307.1 463.8,307 464.1,306.9 465.1,306.9 465.5,307 465.8,307.1 466.8,307.1 467.1,307 467.4,306.9" fill="none" stroke="#ff4646" stroke-opacity="0.68" stroke-width="0.9" stroke-linejoin="round"/>
<polyline points="350.6,307.2 351.9,307.1 352.3,307 354.6,306.9 354.9,307 355.2,307 355.6,307.1 358.2,307.1 358.5,307 358.9,306.9 359.2,306.8 359.5,306.7 363.2,306.7 363.5,306.8 363.8,306.9 364.2,306.9 366.5,307.1 366.8,307 367.1,307 368.1,307 368.4,307.1 368.8,307.1 372.7,307.1 373.1,307.1 373.4,307 373.7,306.9 374.1,306.8 374.7,306.8 375,306.9 375.4,307 375.7,307 376,307 376.4,306.2 376.7,303.4 377,297.3 377.4,288.8 377.7,283 378,284.8 378.3,292.5 378.7,300.4 379,305 379.3,306.7 379.7,307 380,306.9 380.3,306.8 382.6,306.8 383,306.9 383.3,307 383.6,307 384.3,307 384.6,306.9 384.9,306.8 385.3,306.7 387.6,306.9 387.9,306.9 388.2,307 388.9,307 389.2,307 389.6,306.9 389.9,306.8 392.5,306.8 392.9,306.8 393.2,306.9 393.9,306.9 394.2,306.8 394.5,306.8 395.2,306.8 395.5,306.8 396.2,306.9 396.5,306.8 396.8,306.8 397.5,306.8 397.8,306.9 398.1,307 400.8,307.1 401.1,307 401.4,306.9 401.8,306.9 402.1,306.8 402.4,306.8 402.8,306.9 403.1,306.9 403.4,307 405.1,306.9 405.4,307 405.7,307 408.4,307 408.7,307.1 413.3,306.9 413.7,307 414,307 414.3,307.1 416,307.1 416.3,307 416.6,307 420.9,306.8 421.2,306.9 421.6,307 421.9,307.1 425.9,307 426.2,307 428.2,307 428.5,306.9 428.8,306.9 432.5,306.7 432.8,306.8 433.1,306.9 433.5,307 433.8,307.1 434.1,307.1 437.7,307.1 438.1,307 438.4,306.9 438.7,306.8 439.4,306.8 439.7,306.9 440.1,307 440.4,307.1 440.7,307.1 441.4,307.1 441.7,307.1 442,307 442.4,306.9 442.7,306.8 443.4,306.7 443.7,306.8 444,306.9 444.3,307 445,307.1 445.3,306.6 445.7,304.6 446,298.6 446.3,286.9 446.7,273.4 447,267.4 447.3,274.1 447.6,287.7 448,299.1 448.3,304.8 448.6,306.7 449,306.9 449.6,307 450,306.9 450.3,306.8 450.6,306.7 450.9,306.7 451.3,305.8 451.6,301.8 451.9,292.1 452.3,277 452.6,264.7 452.9,264.8 453.3,277.4 453.6,292.4 453.9,302 454.2,305.9 454.6,307 454.9,307.1 457.2,307 457.5,307.1 459.5,307.1 459.9,307.1 460.2,307 460.5,306.9 460.8,306.8 461.5,306.8 461.8,306.9 462.2,307 462.5,307.1 464.8,307.1 465.1,306.8 465.5,305.3 465.8,301.1 466.1,292.8 466.5,283.3 466.8,279.2 467.1,284 467.4,293.6" fill="none" stroke="#6060ff" stroke-opacity="0.64" stroke-width="0.9" stroke-linejoin="round"/>
<polyline points="1.1,398.1 1.4,398 1.7,398 2,397.9 2.4,396.9 2.7,393.5 3,385.1 3.4,372.2 3.7,361.5 4,361.6 4.4,372.3 4.7,385.2 5,393.6 5.3,397 5.7,397.9 6,397.9 6.3,397.9 9,397.8 9.3,397.9 9.6,397.8 10,396.7 10.3,392.8 10.6,384.1 11,371.8 11.3,363.1 11.6,365.3 11.9,376.3 12.3,387.6 12.6,393.5 12.9,392.9 13.3,386.4 13.6,376.6 13.9,369.9 14.3,371.9 14.6,380.7 14.9,389 15.2,391.3 15.6,386.9 15.9,379 16.2,374 16.6,376.5 16.9,384.4 17.2,392 17.6,396.2 17.9,397.6 18.2,397.9 18.9,397.9 19.2,397.3 19.5,395.2 19.9,390 20.2,382.2 20.5,375.9 20.9,376.3 21.2,382.9 21.5,390.6 21.8,395.5 22.2,397.4 22.5,398 22.8,398 23.2,397.9 23.5,397.8 23.8,397.7 24.2,397.7 24.5,397.7 24.8,397.8 25.1,397.8 25.5,397.9 26.1,397.9 26.5,397.9 26.8,397.8 27.1,397.7 27.8,397.7 28.1,397.8 28.4,397.9 28.8,398 31.1,398.1 31.4,397.9 31.7,397.3 32.1,394.7 32.4,387.8 32.7,376.3 33.1,365.2 33.4,363.2 33.7,371.8 34.1,384.1 34.4,392.8 34.7,396.7 35,397.8 35.4,397.9 35.7,397.5 36,396.9 36.4,395.5 36.7,392 37,385.7 37.4,378.6 37.7,375.7 38,379.2 38.3,386 38.7,391.4 39,393.1 39.3,390.8 39.7,384.8 40,377.9 40.3,375.2 40.7,378.9 41,385.7 41.3,390.2 41.6,389.6 42,384.4 42.3,378.3 42.6,376.3 43,380.4 43.3,387.2 43.6,392.8 44,395.6 44.3,396.7 44.6,397.2 44.9,397.6 47.3,397.7 47.6,397.8 47.9,397.9 48.2,398 48.6,397.6 48.9,396.1 49.2,392.8 49.6,385.3 49.9,373 50.2,361 50.6,358.1 50.9,366.4 51.2,377.7 51.5,383.5 51.9,381.3 52.2,374.9 52.5,371.3 52.9,374.3 53.2,381.6 53.5,387.9 53.9,390.1 54.2,387.7 54.5,380.9 54.8,372.4 55.2,368.1 55.5,371.8 55.8,380 56.2,386 56.5,386.1 56.8,380.3 57.2,372.5 57.5,369.2 57.8,373.4 58.1,381.5 58.5,387.6 58.8,388.6 59.1,384.4 59.5,377 59.8,371.4 60.1,372.4 60.5,379 60.8,385.5 61.1,387.4 61.4,383.6 61.8,376.5 62.1,371.5 62.4,373.2 62.8,380.1 63.1,386.9 63.4,390.2 63.8,389.2 64.1,384.2 64.4,377 64.7,372.3 65.1,374.2 65.4,380.7 65.7,386.5 66.1,387.7 66.4,383.6 66.7,377 67.1,373.1 67.4,375.5 67.7,382.1 68,388.8 68.4,393 68.7,395 69,396.1 69.4,396.9 69.7,397.6 70,397.2 70.4,394.5 70.7,388.3 71,379 71.3,372 71.7,372.9 72,380.9 72.3,389.8 72.7,395.2 73,397.4 73.3,397.8 74.6,397.7 75,397.7 75.6,397.7 76,397.7 76.3,397.8 76.6,397.9 77.3,397.9 77.6,397.8 77.9,397.7 78.3,397.6 78.6,397.6 78.9,397.7 79.3,397.7 79.6,397.8 79.9,397.5 80.3,395.5 80.6,390.3 80.9,381.5 81.2,373.2 81.6,371.8 81.9,378.4 82.2,387.6 82.6,393.5 82.9,394.2 83.2,389.4 83.6,380.2 83.9,371.7 84.2,370.5 84.5,377.7 84.9,387.1 85.2,392.6 85.5,392.6 85.9,388.8 86.2,385 86.5,384.9 86.9,388.7 87.2,393.4 87.5,396.4 87.8,397.7 88.2,397.8 88.5,397.7 88.8,397.6 89.2,397.6 89.5,397.3 89.8,394.4 90.2,386.3 90.5,371.4 90.8,355.2 91.1,349.5 91.5,359.2 91.8,376.1 92.1,389.3 92.5,395.6 92.8,397.6 93.1,397.7 93.8,397.8 94.1,397.9 94.4,397.9 94.8,398 95.8,398 96.1,397.7 96.4,397.3 96.8,396.1 97.1,393.2 97.4,387.4 97.7,380.3 98.1,376.6 98.4,379.2 98.7,385.8 99.1,391.6 99.4,393.8 99.7,392.2 100.1,386.8 100.4,380 100.7,376.5 101,379.3 101.4,385.8 101.7,390.6 102,390.6 102.4,385.7 102.7,379.1 103,376.2 103.4,379.6 103.7,386.4 104,391.6 104.3,392.3 104.7,388.3 105,381.2 105.3,375.7 105.7,376.4 106,382.7 106.3,388.9 106.7,390.7 107,386.6 107.3,379.1 107.6,373.7 108,375.3 108.3,382.5 108.6,389.9 109,394.3 109.3,396.1 109.6,396.8 110,397.2 110.3,397.5 110.6,397.7 110.9,397.7 111.3,397.8 111.6,397.8" fill="none" stroke="#3aa870" stroke-opacity="0.42" stroke-width="0.85" stroke-linejoin="round"/>
<polyline points="1.1,363.8 1.4,356.4 1.7,362.3 2,376.4 2.4,388.8 2.7,395.3 3,397.5 3.4,397.8 6.7,398 7,397.9 7.3,397 7.7,394.1 8,387.3 8.3,377.6 8.6,370.5 9,371.8 9.3,380.4 9.6,389.7 10,395.3 10.3,397.4 10.6,398 11,398.1 14.6,398 14.9,398 15.2,397.9 15.6,397.8 15.9,397.7 18.9,397.7 19.2,397.7 19.9,397.7 20.2,397.7 20.5,397.8 20.9,397.9 21.2,398 24.5,398 24.8,397.9 25.1,397.8 25.5,397.7 25.8,397.6 26.1,397.6 26.5,397.7 26.8,397.8 27.1,397.9 27.5,398 27.8,398 33.7,398 34.1,398 34.4,397.9 34.7,397.8 35,397.7 35.7,397.7 36,397.8 36.4,397.9 36.7,397.9 37,398 38,398 38.3,397.9 38.7,397.8 39,397.7 39.3,397.6 39.7,397.5 41.3,397.5 41.6,397.6 42,397.7 42.3,397.8 43.3,397.9 43.6,397.6 44,395.9 44.3,391.3 44.6,383.1 44.9,374.7 45.3,372.4 45.6,378.1 45.9,387 46.3,393.1 46.6,393.6 46.9,387.6 47.3,375.8 47.6,363.8 47.9,360.9 48.2,369.5 48.6,382.6 48.9,392.1 49.2,396.5 49.6,397.6 49.9,397.7 50.2,397.8 50.6,397.9 50.9,398 52.9,398 53.2,397.9 53.5,397.8 53.9,397.8 54.5,397.8 54.8,397.9 55.2,397.9 58.8,398 59.1,398 59.5,397.9 59.8,397.8 60.8,397.8 61.1,397.9 61.4,398 62.4,398 62.8,397.9 63.1,397.8 63.4,397.7 64.1,397.8 64.4,397.8 64.7,397.9 65.4,397.9 65.7,397.8 66.1,397.7 66.4,397.6 67.1,397.7 67.4,397.8 67.7,397.9 68,397.9 68.7,397.9 69,397.9 69.4,397.8 69.7,397.7 70.4,397.7 70.7,397.8 71,397.9 71.7,397.8 72,397.8 72.3,397.7 73,397.8 73.3,397.9 73.7,397.9 74,398 77,398 77.3,397.7 77.6,396.4 77.9,393 78.3,387.2 78.6,381.5 78.9,380.3 79.3,384.6 79.6,390.9 79.9,395.4 80.3,397.4 80.6,397.9 80.9,398 84.9,398 85.2,397.9 85.5,397.9 85.9,397.8 86.5,397.7 86.9,397.8 87.2,397.9 87.5,397.3 87.8,395 88.2,389.2 88.5,380.4 88.8,373.2 89.2,373.3 89.5,380.6 89.8,389.4 90.2,395 90.5,397.3 90.8,397.9 91.1,398 96.4,398 96.8,397.9 106.7,398 107,397.9 107.3,397.9 107.6,397.8 108.3,397.8 108.6,397.9 109,397.9 110,397.9 110.3,397.9 110.6,397.8 111.6,397.8" fill="none" stroke="#555555" stroke-opacity="0.42" stroke-width="0.85" stroke-linejoin="round"/>
<polyline points="1.1,398.1 4,398.1 4.4,397.9 4.7,397.3 5,395.2 5.3,390.1 5.7,382.7 6,377.1 6.3,377.9 6.7,384.3 7,391.4 7.3,395.8 7.7,397.5 8,397.9 8.3,398 17.6,398 17.9,397.9 18.2,397.8 18.5,397.7 18.9,397.7 19.2,397.7 19.5,397.7 19.9,397.8 20.2,397.9 20.5,398 21.2,398 21.5,397.7 21.8,396.2 22.2,392 22.5,384.1 22.8,375.5 23.2,372.2 23.5,377.2 23.8,386.1 24.2,393.3 24.5,396.7 24.8,397.8 25.1,398 25.5,397.9 25.8,397.9 26.1,397.8 26.5,397.7 26.8,397.7 27.1,396.2 27.5,392.2 27.8,384.9 28.1,377.3 28.4,374.9 28.8,379.8 29.1,387.9 29.4,393.8 29.8,395.5 30.1,393.4 30.4,388.1 30.8,382.6 31.1,381.1 31.4,384.8 31.7,390.8 32.1,395.3 32.4,397.3 32.7,397.9 33.1,398 33.7,398 34.1,397.6 34.4,396 34.7,392 35,385.5 35.4,379.7 35.7,379.2 36,384.4 36.4,391.1 36.7,395.5 37,397.4 37.4,397.8 37.7,397.9 38,398 42,398 42.3,397.9 42.6,397.8 43.6,397.8 44,397.9 44.3,398 45.6,398 45.9,397.9 46.3,397.9 50.2,397.9 50.6,397.9 50.9,397.8 51.2,397.7 51.5,397.6 51.9,397.6 52.2,397.7 52.5,397.8 52.9,397.9 53.2,397.9 53.5,397.8 53.9,397.8 54.2,397.7 54.8,397.7 55.2,397.8 55.5,397.8 58.5,398 58.8,397.9 59.1,397.8 59.5,397.7 59.8,397.6 60.5,397.7 60.8,397.8 61.1,397.8 61.8,397.8 62.1,397.8 62.4,397.7 62.8,397.6 63.1,397.6 63.4,397.7 63.8,397.8 64.1,397.9 64.4,397.9 65.4,397.9 65.7,397.9 66.1,397.8 67.1,397.8 67.4,397.9 67.7,397.4 68,395.5 68.4,390.7 68.7,383.3 69,377.1 69.4,377.1 69.7,383.2 70,390.7 70.4,395.5 70.7,397.4 71,398 77.3,398 77.6,397.9 77.9,397.8 78.3,397.7 78.9,397.7 79.3,397.8 79.6,397.9 79.9,398 80.3,398 83.9,398 84.2,398 84.5,397.9 84.9,397.8 85.2,397.7 85.5,397.6 86.2,397.7 86.5,397.7 86.9,397.8 87.2,397.8 87.5,397.9 87.8,397.9 88.2,398 89.5,398 89.8,398 90.2,397.9 90.5,397.8 90.8,397.7 92.8,397.7 93.1,397.8 93.5,397.9 93.8,397.9 94.1,398 107.3,398 107.6,397.9 108,397.8 108.3,397.7 108.6,397 109,394.1 109.3,388 109.6,379.9 110,374.9 110.3,377.3 110.6,384.9 110.9,392.2 111.3,396.2 111.6,397.7" fill="none" stroke="#ff4646" stroke-opacity="0.45" stroke-width="0.85" stroke-linejoin="round"/>
<polyline points="1.1,398.1 2.4,398 2.7,397.9 3,397.9 3.4,397.7 3.7,397.7 5.7,397.7 6,397.7 6.3,397.8 6.7,397.9 7,397.9 16.6,398 16.9,397.3 17.2,395.1 17.6,389.3 17.9,380.2 18.2,372.3 18.5,371.8 18.9,379.2 19.2,388.5 19.5,394.6 19.9,397.2 20.2,397.7 20.5,397.8 20.9,397.9 21.2,398 21.5,398 21.8,397.9 22.2,397.8 22.5,397.7 22.8,397.6 23.2,397.6 23.5,397.6 23.8,397.7 24.2,397.6 24.5,395.8 24.8,390.7 25.1,381.4 25.5,371.4 25.8,367.9 26.1,374 26.5,384.5 26.8,392.7 27.1,396.6 27.5,397.8 27.8,398 28.1,397.9 28.4,397.9 29.4,397.9 29.8,397.9 30.1,398 32.4,398 32.7,397.9 33.1,397.8 33.4,397.7 33.7,397.6 34.4,397.7 34.7,397.7 35,397.8 36.7,397.8 37,397.9 37.4,397.9 44.6,398 44.9,397.9 45.3,397.8 45.6,397.7 45.9,397.6 46.3,397.6 46.6,397.7 46.9,397.8 47.3,397.9 47.6,398 56.8,397.9 57.2,397.8 57.5,397.8 59.1,397.8 59.5,397.7 59.8,397.6 60.1,397.5 62.1,397.6 62.4,397.6 62.8,397.7 64.4,397.7 64.7,397.6 65.1,397.6 65.4,397.6 65.7,397.7 66.1,397.8 66.4,397.9 66.7,397.9 69.7,397.9 70,397.9 71,397.8 71.3,397.9 71.7,398 72,397.6 72.3,396 72.7,391.6 73,383.8 73.3,375.8 73.7,373.6 74,379 74.3,387.1 74.6,391.9 75,390.6 75.3,384.4 75.6,377.8 76,376.6 76.3,381.9 76.6,389.5 77,394.9 77.3,397.2 77.6,397.9 77.9,398.1 79.6,398 79.9,397.9 84.9,397.9 85.2,398 86.2,398 86.5,397.9 86.9,397.9 87.2,397.8 87.8,397.8 88.2,397.8 88.5,397.9 91.5,398 91.8,397.6 92.1,396.1 92.5,391.9 92.8,384.5 93.1,377 93.5,375 93.8,380.1 94.1,387.8 94.4,391.9 94.8,389.8 95.1,382.6 95.4,375.2 95.8,373.9 96.1,380 96.4,388.5 96.8,394.5 97.1,397.1 97.4,397.7 98.4,397.6 98.7,397.7 99.1,397.8 99.4,397.9 99.7,397.9 100.1,397.8 100.4,397.7 100.7,397.7 101,397.6 101.4,397.7 101.7,397.8 102,397.9 102.4,398 110.6,397.9 110.9,397.9 111.3,397.8 111.6,397.7" fill="none" stroke="#6060ff" stroke-opacity="0.42" stroke-width="0.85" stroke-linejoin="round"/>
<polyline points="0,435.7 0.3,425.5 0.7,424.5 1,433.5 1.3,445.2 1.7,453.1 2,456.5 2.3,457.5 2.6,457.7 9.2,457.6 9.6,457.5 9.9,456.7 10.2,453.6 10.6,446.2 10.9,434.6 11.2,425 11.6,424.9 11.9,434.5 12.2,446 12.5,453.1 12.9,454.7 13.2,452 13.5,446.8 13.9,442.5 14.2,442.7 14.5,447.2 14.9,452.3 15.2,454.9 15.5,453.5 15.8,447.3 16.2,437.4 16.5,429.7 16.8,430.4 17.2,438.8 17.5,448.5 17.8,454.5 18.2,456.9 18.5,457.6 27.7,457.6 28.1,457.5 28.4,457.4 28.7,457.3 29.4,457.3 29.7,457.4 30,457.5 30.4,457.6 31.4,457.6 31.7,457.5 32,457.4 32.3,457.3 32.7,457.2 33,457.2 33.3,457.3 33.7,457.4 34,457.5 34.3,457.6 34.6,457.6 35,457.5 35.3,456.7 35.6,453.7 36,446.5 36.3,435.5 36.6,426.5 37,426.8 37.3,436 37.6,446.8 38,453.1 38.3,453.7 38.6,449.1 38.9,441.2 39.3,434.8 39.6,435.3 39.9,442.1 40.3,449.9 40.6,454.2 40.9,453.5 41.2,448 41.6,439 41.9,432.1 42.2,433 42.6,440.8 42.9,449.5 43.2,454.7 43.6,455.9 43.9,453.4 44.2,446 44.6,435 44.9,426.3 45.2,427.1 45.5,436.6 45.9,447.4 46.2,454.1 46.5,456.8 46.9,457.5 47.9,457.5 48.2,457.5 48.5,457.6 48.8,457.6 49.2,457.1 49.5,454.7 49.8,447.9 50.2,434.8 50.5,419.8 50.8,413.4 51.2,421.1 51.5,436.3 51.8,448.5 52.1,453.3 52.5,451.1 52.8,443.7 53.1,434.9 53.5,431.4 53.8,436.3 54.1,445.4 54.5,452.7 54.8,456.2 55.1,457.4 55.4,457.6 59.7,457.5 60.1,457 60.4,454.6 60.7,447.8 61.1,435.1 61.4,421.5 61.7,416.7 62,424.8 62.4,439.1 62.7,450.2 63,455.6 63.4,457.3 63.7,457.6 64,457.5 64.4,457.4 64.7,457.3 65.3,457.3 65.7,457.4 66,457.4 66.3,457.5 72.9,457.6 73.3,457.4 73.6,456.3 73.9,452.5 74.2,444.5 74.6,433.9 74.9,427.3 75.2,430.2 75.6,440.1 75.9,449.8 76.2,455.2 76.6,457.1 76.9,457.6 78.5,457.6 78.9,457.5 79.2,456.6 79.5,453.7 79.9,447.4 80.2,439.2 80.5,434.2 80.9,436.6 81.2,444.3 81.5,451.7 81.8,455.8 82.2,457.3 82.5,457.6 90.1,457.4 90.4,457.1 90.8,455.1 91.1,449.8 91.4,440.7 91.7,431.9 92.1,430.1 92.4,436.8 92.7,446.5 93.1,453.5 93.4,456.6 93.7,457.4 94.1,457.3 94.4,457.2 95,457.2 95.4,457.3 95.7,457.4 96,457.5 99.7,457.5 100,457.5 101.3,457.6 101.6,457.5 102,457.4 102.3,457.3 103,457.3 103.3,457.4 103.6,457.5 104,457.6 104.3,457.4 104.6,456.5 104.9,453.4 105.3,446.8 105.6,438.3 105.9,433.3 106.3,435.9 106.6,444 106.9,451.6 107.2,455.8 107.6,457.3 107.9,457.2 108.2,457.2 109.6,457.2 109.9,457.3 110.2,457.4 110.6,457.5 110.9,457.5 111.2,457.6 114.8,457.6 115.2,457.5 115.5,457.5" fill="none" stroke="#3aa870" stroke-opacity="0.64" stroke-width="0.95" stroke-linejoin="round"/>
<polyline points="0,457.7 1,457.6 1.3,457.6 1.7,457.5 2,457.4 2.3,457.3 3,457.3 3.3,457.4 3.6,457.4 4,457.3 4.3,455.8 4.6,451.3 5,442.4 5.3,432.1 5.6,427.4 5.9,432.3 6.3,442.7 6.6,451.3 6.9,455.1 7.3,454.5 7.6,449.8 7.9,442.1 8.2,435.8 8.6,436 8.9,442.4 9.2,450.1 9.6,455 9.9,457 10.2,457.6 14.2,457.5 14.5,457.5 14.9,457.4 15.2,457.3 15.8,457.3 16.2,457.3 16.5,457.4 17.2,457.4 17.5,457.3 17.8,457.3 18.2,456.8 18.5,454.4 18.8,448.5 19.1,439.5 19.5,432.3 19.8,432.7 20.1,440.3 20.5,449.1 20.8,454.1 21.1,454.2 21.4,448.3 21.8,435.9 22.1,421.7 22.4,415.7 22.8,423 23.1,437.4 23.4,449.3 23.8,455.3 24.1,457.2 24.4,457.3 27.1,457.3 27.4,457.3 27.7,457.4 28.1,457.5 28.7,457.5 29,457.1 29.4,455 29.7,448.9 30,437.6 30.4,425 30.7,420.1 31,427.2 31.4,440.1 31.7,450.2 32,453.7 32.3,451.2 32.7,443.7 33,435.4 33.3,432.4 33.7,437.4 34,446.2 34.3,453.1 34.6,456.4 35,457.4 35.3,457.6 36.3,457.6 36.6,457.6 37,457.5 37.3,457.4 38,457.4 38.3,457.5 38.6,457.6 38.9,457.6 39.9,457.6 40.3,457.6 40.6,457.5 40.9,457.4 41.2,457.4 43.2,457.4 43.6,457.5 43.9,457.6 44.9,457.6 45.2,457.5 45.5,457.5 45.9,457.4 46.2,457.2 46.5,455.8 46.9,452.5 47.2,447.7 47.5,444 47.9,444.5 48.2,448.7 48.5,453.4 48.8,456.2 49.2,457.3 49.8,457.3 50.2,457.4 50.5,457.5 53.8,457.6 54.1,457.5 54.5,457.4 54.8,456.6 55.1,454.1 55.4,449.6 55.8,444.6 56.1,442.8 56.4,445.7 56.8,450.9 57.1,454.7 57.4,455.5 57.8,452 58.1,442.8 58.4,429.2 58.7,419.2 59.1,420.9 59.4,432.9 59.7,445.9 60.1,453.7 60.4,456.7 60.7,457.5 61.1,457.7 63.4,457.6 63.7,457.5 64,457.5 64.4,457.4 65,457.3 65.3,457.4 65.7,457.5 66,457.5 68.3,457.6 68.6,457.5 69,457.4 69.3,457.4 70,457.4 70.3,457.5 70.6,457.6 71,457.6 81.5,457.7 81.8,457.5 82.2,456.9 82.5,454.9 82.8,450.6 83.2,444.8 83.5,441.2 83.8,442.7 84.2,448.1 84.5,453.2 84.8,455.6 85.1,454.5 85.5,448.8 85.8,438.7 86.1,428.8 86.5,426.6 86.8,434 87.1,445 87.5,452.9 87.8,456.4 88.1,457.4 88.4,457.5 88.8,457.5 89.1,457.4 89.4,457.3 90.1,457.2 90.4,457.3 90.8,457.4 91.1,457.5 93.7,457.6 94.1,457.6 94.4,457.5 94.7,457.4 95,457.3 95.7,457.3 96,457.4 96.4,457.5 96.7,457.6 97.7,457.6 98,457.5 98.3,457.5 98.7,457.4 99,457.3 99.7,457.3 100,457.4 100.3,457.5 100.7,457.6 101,457.6 103.6,457.6 104,457.5 104.3,457.4 104.6,457.4 105.3,457.3 105.6,457.4 105.9,457.5 106.3,457.6 108.9,457.6 109.2,457.5 109.6,457.4 109.9,457.3 110.2,456.2 110.6,452.4 110.9,444.4 111.2,434.1 111.5,428 111.9,431.4 112.2,441.2 112.5,450.4 112.9,455.4 113.2,457.2 113.5,457.4 113.9,457.3 114.2,457.3 114.8,457.3 115.2,457.3 115.5,457.4" fill="none" stroke="#555555" stroke-opacity="0.64" stroke-width="0.95" stroke-linejoin="round"/>
<polyline points="0,457.7 0.7,457.6 1,457.4 1.3,456.1 1.7,452.5 2,445.6 2.3,437.6 2.6,434 3,438.1 3.3,446.2 3.6,452.9 4,456.3 4.3,457.4 4.6,457.6 15.5,457.6 15.8,457.5 16.2,457.5 16.5,457.4 17.2,457.4 17.5,457.4 17.8,457.5 18.2,457.6 21.4,457.5 21.8,457.4 22.1,457.4 22.4,457.3 22.8,457.3 23.1,457.4 23.4,457.4 23.8,457.5 24.1,457.6 25.1,457.6 25.4,457.5 25.7,457.4 26.1,457.2 26.4,455.7 26.7,451.1 27.1,442.8 27.4,433.6 27.7,430.3 28.1,435.6 28.4,445.1 28.7,452.6 29,456.3 29.4,457.3 32,457.4 32.3,457.5 32.7,457.5 33,457.6 37,457.6 37.3,457.5 37.6,457.4 38,457.3 38.3,457.3 38.9,457.3 39.3,457.4 41.9,457.4 42.2,457.3 42.6,457.3 43.2,457.3 43.6,457.4 43.9,457.5 44.2,457.6 44.6,457.6 50.5,457.6 50.8,457.5 51.2,457.5 51.5,457.3 51.8,457.2 52.5,457.3 52.8,457.3 53.1,457.4 53.5,457.5 53.8,457.5 54.1,457.4 54.5,457.3 55.1,457.3 55.4,457.4 55.8,457.5 56.1,457.5 56.8,457.6 57.1,457.5 57.4,457.5 57.8,457.4 58.4,457.3 58.7,457.4 59.1,457.5 59.7,457.4 60.1,457.4 60.4,457.3 61.1,457.2 61.4,457.3 61.7,457.4 62,457.5 62.4,457.2 62.7,455.4 63,450.5 63.4,441.9 63.7,433.1 64,430.8 64.4,436.9 64.7,446.3 65,453.2 65.3,455.9 65.7,454.8 66,449.5 66.3,439.6 66.7,429.4 67,426.4 67.3,433.3 67.7,444.1 68,451.8 68.3,453.4 68.6,448.8 69,438.8 69.3,428.6 69.6,426 70,433.2 70.3,444.3 70.6,452.3 71,455.1 71.3,453 71.6,446.2 71.9,436.7 72.3,430.5 72.6,432.8 72.9,441.6 73.3,450.3 73.6,455.3 73.9,457.1 74.2,457.4 74.9,457.4 75.2,457.5 75.6,457.5 75.9,457.4 76.2,456.4 76.6,453.1 76.9,446.1 77.2,437 77.5,431.5 77.9,434.4 78.2,443 78.5,451.1 78.9,455.6 79.2,457.2 79.5,457.6 81.8,457.6 82.2,457.6 82.5,457.5 82.8,457.4 83.5,457.4 83.8,457.5 84.2,457.6 86.8,457.5 87.1,457.6 87.5,457.6 87.8,457.2 88.1,455.7 88.4,451.5 88.8,444.2 89.1,437 89.4,435.2 89.8,440.4 90.1,448.3 90.4,454.1 90.8,456.7 91.1,457.5 95.4,457.6 95.7,457.4 96,456.5 96.4,453.3 96.7,446.7 97,438.2 97.4,433.3 97.7,436 98,444.1 98.3,451.7 98.7,455.8 99,457.3 99.3,457.4 99.7,457.5 100,457.6 101,457.6 101.3,457.5 101.6,457.4 102,456.4 102.3,453.2 102.6,446.2 103,436.9 103.3,431.1 103.6,433.7 104,442.4 104.3,450.8 104.6,455.5 104.9,457.2 105.6,457.2 105.9,457.3 106.9,457.4 107.2,456.2 107.6,452.4 107.9,444.5 108.2,434.5 108.6,428.9 108.9,432.3 109.2,441.9 109.6,450.8 109.9,455.5 110.2,457.2 110.6,457.3 110.9,457.3 111.2,457.4 111.5,457.5 111.9,457.6 115.5,457.7" fill="none" stroke="#ff4646" stroke-opacity="0.68" stroke-width="0.95" stroke-linejoin="round"/>
<polyline points="0,457.7 2,457.6 2.3,457.5 2.6,457.4 3,457.3 3.3,457.2 3.6,457.2 4,457.2 4.3,457.3 4.6,457.4 6.6,457.5 6.9,457.4 7.3,457.3 7.6,457.2 7.9,457.2 9.9,457.2 10.2,457.3 10.6,457.4 12.2,457.4 12.5,457.5 12.9,457.5 13.5,457.6 13.9,457.5 14.2,457.4 14.5,457.3 14.9,457.3 15.2,457.3 15.5,457.3 15.8,457.5 16.2,457.6 16.5,457.6 20.5,457.6 20.8,457.5 21.1,457.4 21.4,457.4 22.1,457.4 22.4,457.5 22.8,457.6 23.1,457.6 23.4,457.4 23.8,456.2 24.1,452.7 24.4,446.1 24.8,438.7 25.1,435.8 25.4,439.9 25.7,447.4 26.1,453.5 26.4,456.5 26.7,457.4 27.1,457.6 30,457.6 30.4,457.5 30.7,457.4 31,457.3 31.4,457.2 31.7,457.2 32,457.3 32.3,457.4 32.7,457.5 33.3,457.5 33.7,457.4 34,457.3 34.3,457.2 34.6,457.2 35,457.3 35.3,457.4 35.6,457.5 36,457.6 45.9,457.6 46.2,457.6 46.5,457.5 46.9,457.4 47.9,457.5 48.2,457.5 48.8,457.5 49.2,457.5 49.5,457.4 49.8,457.3 50.5,457.4 50.8,457.4 52.8,457.4 53.1,457.4 53.5,457.5 54.1,457.5 54.5,457.4 54.8,457.4 56.4,457.3 56.8,457.4 57.1,457.5 57.4,457.5 57.8,457.6 58.7,457.6 59.1,457.5 59.4,457.4 59.7,457.3 60.1,457.2 60.4,457.2 60.7,457.2 61.1,457.3 61.4,457.5 61.7,457.6 62,457.6 65.3,457.6 65.7,457.5 66,457.5 66.3,457.4 67,457.4 67.3,457.4 67.7,457.5 68.3,457.6 68.6,457.5 69,457.4 69.3,457.3 70,457.3 70.3,457.4 70.6,457.5 71,457.6 71.3,457.6 77.5,457.6 77.9,457.5 78.2,457.5 79.2,457.5 79.5,457.5 79.9,457.6 80.5,457.6 80.9,457.5 81.2,457.4 81.5,457.3 81.8,457.2 82.2,457.3 82.5,457.3 82.8,457.4 83.2,457.5 83.5,457.5 83.8,457.4 84.2,457.3 84.5,457.2 85.1,457.3 85.5,457.3 85.8,457.4 87.1,457.5 87.5,457.6 90.4,457.6 90.8,457.6 91.1,457.5 91.4,457.4 92.4,457.4 92.7,457.5 93.1,456.9 93.4,454.5 93.7,448.1 94.1,437.4 94.4,427.3 94.7,425.6 95,433.7 95.4,445 95.7,453 96,456.4 96.4,457.5 96.7,457.6 98,457.7 98.3,457.5 98.7,456.8 99,454 99.3,446.7 99.7,434.4 100,423 100.3,421.2 100.7,430.5 101,443.4 101.3,452.4 101.6,456.3 102,457.4 102.3,457.6 104.6,457.6 104.9,457.6 105.3,457.5 105.6,457.4 105.9,457.3 108.6,457.4 108.9,457.5 109.2,457.5 109.6,457.6 112.5,457.6 112.9,457.1 113.2,455.3 113.5,450.6 113.9,442.7 114.2,435.4 114.5,434.2 114.8,440.2 115.2,448.5 115.5,454.3" fill="none" stroke="#6060ff" stroke-opacity="0.64" stroke-width="0.95" stroke-linejoin="round"/>
<polyline points="350.1,371.4 350.4,359.8 350.8,358.6 351.1,368.8 351.4,382.2 351.8,391.2 352.1,395.1 352.4,396.2 352.7,396.4 354.7,396.3 355.1,396.3 355.4,396.2 355.7,396.1 356,396 356.4,396 356.7,396 357,396.1 357.4,395.4 357.7,392.4 358,384.8 358.4,372.8 358.7,362.5 359,361.9 359.3,371.7 359.7,383.7 360,391.1 360.3,391.9 360.7,386.7 361,377.2 361.3,369.3 361.7,369.2 362,377 362.3,386 362.6,389.8 363,386.8 363.3,379.2 363.6,373.1 364,373.8 364.3,381 364.6,388.9 365,393.9 365.3,395.8 365.6,396.1 366.9,396.2 367.3,395.4 367.6,392.6 367.9,386.4 368.3,377.9 368.6,372.2 368.9,374 369.2,381.8 369.6,389.7 369.9,394.2 370.2,395.9 370.6,396.3 371.6,396.2 371.9,396.2 372.2,396.1 372.5,396 372.9,396 373.2,396.1 373.5,396.2 373.9,396.3 374.2,396.3 374.9,396.3 375.2,396.2 375.5,396.2 375.8,396.1 376.5,396.1 376.8,396.2 377.2,396.3 377.5,396.3 378.8,396.3 379.1,396.2 379.5,396.1 379.8,396 380.1,395.4 380.5,392.3 380.8,384.4 381.1,372 381.5,361.2 381.8,360.5 382.1,370.6 382.4,383.3 382.8,391.7 383.1,395.2 383.4,396.1 384.1,396.1 384.4,396 384.8,395.3 385.1,394.2 385.4,391.7 385.7,386.3 386.1,378.7 386.4,373 386.7,373.6 387.1,379.6 387.4,385.9 387.7,388.1 388.1,385.2 388.4,379 388.7,374.5 389,375.6 389.4,381.4 389.7,386.9 390,388.3 390.4,384.9 390.7,378.8 391,374.8 391.4,376.6 391.7,383.1 392,389.5 392.3,393.3 392.7,395 393,395.9 393.3,396.1 393.7,396.1 394,396.2 394.3,396.3 394.7,396.3 395.6,396.3 396,396.2 396.3,396.2 396.6,396.1 397.3,396.1 397.6,395.6 398,393.7 398.3,388.6 398.6,378.3 398.9,365 399.3,356.9 399.6,360.8 399.9,372.8 400.3,383.9 400.6,388.5 400.9,386.4 401.3,379.9 401.6,373.7 401.9,373 402.2,378.5 402.6,385.7 402.9,390.1 403.2,390 403.6,385.2 403.9,376.6 404.2,369.1 404.6,368.5 404.9,375.3 405.2,383.6 405.5,387.3 405.9,384.3 406.2,376.8 406.5,370.3 406.9,370.6 407.2,377.4 407.5,384.8 407.9,387.6 408.2,384.3 408.5,376.9 408.8,371.2 409.2,372.2 409.5,379.1 409.8,386.3 410.2,389.4 410.5,387 410.8,380.1 411.2,372.6 411.5,370.3 411.8,375.2 412.1,383 412.5,387.5 412.8,386 413.1,379.5 413.5,372.5 413.8,371 414.1,376.4 414.5,383.9 414.8,387.8 415.1,385.9 415.4,379.3 415.8,372.9 416.1,372.1 416.4,377.9 416.8,385.6 417.1,391.2 417.4,393.9 417.8,394.9 418.1,395.5 418.4,396 418.7,396.2 419.1,396.3 419.4,396.3 419.7,395.5 420.1,392.9 420.4,386.4 420.7,376.1 421.1,367.4 421.4,367.1 421.7,375.5 422,385.9 422.4,392.7 422.7,395.5 423,396.2 423.4,396.3 423.7,396.3 424,396.2 425.3,396.2 425.7,396.3 429.6,396.4 430,396.2 430.3,395.4 430.6,392.5 431,385.9 431.3,376.3 431.6,369.1 431.9,370.1 432.3,378.1 432.6,385.5 432.9,386 433.3,379.2 433.6,370.9 433.9,368.7 434.3,375 434.6,384.7 434.9,391.6 435.2,393.6 435.6,391.4 435.9,386.2 436.2,380.8 436.6,379.7 436.9,383.7 437.2,389.6 437.6,393.8 437.9,395.7 438.2,396.2 438.5,396.1 439.2,396 439.5,396.1 439.9,396.2 440.2,395.9 440.5,393.9 440.9,387.6 441.2,374.2 441.5,356.7 441.8,346.4 442.2,351.8 442.5,368.3 442.8,383.9 443.2,392.5 443.5,395.5 443.8,396 444.2,396 444.5,396.1 444.8,396.1 446.5,396 446.8,396 447.1,395.6 447.5,395.1 447.8,393.7 448.1,390.3 448.4,384.1 448.8,377.5 449.1,374.7 449.4,378.2 449.8,384.7 450.1,389.1 450.4,388.5 450.8,383.4 451.1,377.2 451.4,375.1 451.7,379.1 452.1,385.8 452.4,390.7 452.7,391.9 453.1,389.1 453.4,382.9 453.7,376.3 454.1,374.3 454.4,378.7 454.7,385.7 455,390.6 455.4,391.6 455.7,388.4 456,381.6 456.4,374.5 456.7,372.6 457,377.5 457.4,384.7 457.7,388.6 458,386.7 458.3,379.9 458.7,372.9 459,371.6 459.3,377.4 459.7,385.5 460,391.5 460.3,394.3 460.7,395.3 461,395.8 461.3,396.1 461.6,396.2 462,396.3 464.3,396.3 464.6,396.1 464.9,394.9 465.3,391.3 465.6,384.5 465.9,376.7 466.3,373.3 466.6,377.3 466.9,385.2 467.3,391.8 467.6,395.1" fill="none" stroke="#3aa870" stroke-opacity="0.75" stroke-width="0.95" stroke-linejoin="round"/>
<polyline points="350.1,396.4 350.4,396.4 350.8,396.3 351.1,396.2 351.4,396.1 351.8,396 354.1,396 354.4,395.5 354.7,392.9 355.1,386.3 355.4,376 355.7,367.3 356,367.1 356.4,375.6 356.7,385.9 357,392.7 357.4,395.5 357.7,396.2 358,396.2 358.4,396.3 360.3,396.3 360.7,396.2 361,396.2 361.3,396.1 362,396.1 362.3,396.2 362.6,396.3 363,396.3 364.3,396.3 364.6,396.2 365,396.2 365.9,396.2 366.3,396.3 369.2,396.3 369.6,396.3 369.9,396.2 370.2,396.1 370.9,396.1 371.2,396.2 371.6,396.3 371.9,396.3 375.5,396.4 375.8,396.3 376.2,396.2 376.5,396.1 376.8,396 379.1,396.1 379.5,396.1 379.8,396.2 380.1,396.3 381.5,396.3 381.8,396.2 382.1,396.1 382.4,396 382.8,395.9 383.1,395.9 383.4,396 383.8,396.1 384.1,396.2 384.4,396.3 392,396.3 392.3,395.8 392.7,394 393,389 393.3,380.4 393.7,372 394,370.2 394.3,376.4 394.7,385.6 395,392 395.3,393.6 395.6,389.9 396,380.3 396.3,367.3 396.6,359.2 397,362.8 397.3,374.9 397.6,386.7 398,393.3 398.3,395.7 398.6,396.2 398.9,396.3 404.9,396.2 405.2,396.2 405.5,396.1 406.2,396.1 406.5,396.2 406.9,396.2 407.2,396.3 407.9,396.3 408.2,396.2 408.5,396.1 408.8,396 409.2,396 409.5,396 409.8,396.1 410.2,396.2 410.5,396.2 411.2,396.3 411.5,396.2 411.8,396.1 412.1,396.1 414.8,396.2 415.1,396.2 418.7,396.1 419.1,396.2 419.4,396.3 422,396.2 422.4,396.3 426.7,396.3 427,396.2 427.3,396.1 427.7,395 428,391.9 428.3,386 428.6,379.6 429,377.2 429.3,380.9 429.6,387.5 430,392.8 430.3,395.4 430.6,396 431,396.1 431.3,396.1 431.6,396.2 431.9,396.3 435.9,396.3 436.2,396.2 436.6,396.1 436.9,396 437.2,396 437.6,395.8 437.9,393.9 438.2,388.7 438.5,380 438.9,371.8 439.2,370.3 439.5,376.8 439.9,386 440.2,392.5 440.5,395.4 440.9,396.2 441.2,396.4 444.2,396.2 444.5,396.2 444.8,396.1 445.1,396 445.5,395.9 447.1,396 447.5,396.1 447.8,396.2 448.1,396.2 450.4,396.2 450.8,396.3 451.1,396.3 454.7,396.2 455,396.2 455.4,396.1 456,396.1 456.4,396.1 456.7,396.2 457,396.2 462.3,396.3 462.6,396.2 463,396.1 463.3,396 463.6,396 464,396 464.3,396.1 464.6,396.2 464.9,396.3 465.3,396.3 465.6,396.3 465.9,396.2 466.3,396.1 466.6,396 466.9,395.9 467.3,395.9 467.6,396" fill="none" stroke="#555555" stroke-opacity="0.75" stroke-width="0.95" stroke-linejoin="round"/>
<polyline points="350.1,396.4 351.4,396.3 351.8,395.9 352.1,394.1 352.4,389.8 352.7,382.9 353.1,377 353.4,376.6 353.7,382.1 354.1,389.1 354.4,393.8 354.7,395.7 355.1,396.2 355.4,396.2 356.4,396.2 356.7,396.3 357,396.3 358,396.4 358.4,396.3 358.7,396.2 359,396.1 359.3,396 360,396 360.3,396 360.7,396.1 361,396.2 362.6,396.2 363,396.3 363.3,396.3 366.6,396.3 366.9,396.3 367.3,396.2 369.2,396.2 369.6,395.9 369.9,394 370.2,389.2 370.6,380.8 370.9,372.8 371.2,371 371.6,377.2 371.9,386.1 372.2,392.5 372.5,395.4 372.9,396.2 373.2,396.2 373.5,396.2 373.9,396.1 374.2,396 374.5,396 374.9,395.9 375.2,394.1 375.5,389.5 375.8,382 376.2,375.1 376.5,374.2 376.8,380 377.2,387.8 377.5,393 377.8,394.6 378.2,392.7 378.5,387.6 378.8,380.9 379.1,377.2 379.5,379.6 379.8,386 380.1,391.8 380.5,395 380.8,396.1 381.1,396.4 381.8,396.4 382.1,396.3 382.4,395.8 382.8,394.1 383.1,390 383.4,383.8 383.8,378.8 384.1,379.1 384.4,384.4 384.8,390.5 385.1,394.4 385.4,395.9 385.7,396.3 390.4,396.3 390.7,396.3 391,396.2 393.7,396.1 394,396.1 394.3,396.2 401.9,396.3 402.2,396.2 402.6,396.1 402.9,396.1 403.6,396.1 403.9,396.2 404.2,396.3 404.6,396.3 405.2,396.3 405.5,396.3 405.9,396.2 406.2,396.1 406.5,396 407.2,396 407.5,396.1 407.9,396.2 408.2,396.3 416.4,396.3 416.8,396.1 417.1,395.1 417.4,391.9 417.8,385.6 418.1,377.9 418.4,374.2 418.7,377.5 419.1,385 419.4,391.6 419.7,395 420.1,396.1 420.4,396.2 420.7,396.2 423,396.2 423.4,396.3 423.7,396.3 425,396.3 425.3,396.3 425.7,396.2 426,396.1 428,396 428.3,396.1 428.6,396.1 430.6,396.1 431,396.2 431.3,396.3 431.6,396.3 436.6,396.4 436.9,396.3 437.2,396.2 437.6,396.1 437.9,396 438.2,396 440.5,396.1 440.9,396.2 444.8,396.3 445.1,396.2 445.5,396.2 445.8,396 446.1,396 446.5,396 446.8,396 447.1,396.1 447.5,396.2 447.8,396.3 452.4,396.3 452.7,396.3 453.1,396.2 453.4,396 453.7,395.9 454.4,395.9 454.7,396 455,396.1 455.4,396.2 459.3,396.3 459.7,396.2 460,395.2 460.3,392.2 460.7,386 461,378.3 461.3,374.2 461.6,377.1 462,384.6 462.3,391.3 462.6,394.8 463,396.1 463.3,396.3 467.6,396.4" fill="none" stroke="#ff4646" stroke-opacity="0.79" stroke-width="0.95" stroke-linejoin="round"/>
<polyline points="350.1,396.4 351.8,396.4 352.1,396.3 352.4,396.2 352.7,396.1 353.1,396 354.7,396 355.1,396 355.7,395.9 356,396 356.4,396.1 356.7,396.2 357,396.3 358.7,396.3 359,396.2 359.3,396.1 359.7,396 360.3,396.1 360.7,396.2 361,396.2 361.3,396.3 364,396.3 364.3,396.2 364.6,395.3 365,392.3 365.3,385.5 365.6,376 365.9,369.4 366.3,371.1 366.6,379.7 366.9,388.6 367.3,393.8 367.6,395.8 367.9,396 368.3,396.1 368.6,396.2 368.9,396.3 369.2,396.3 371.6,396.4 371.9,396.3 372.2,395.7 372.5,393.3 372.9,387 373.2,376.5 373.5,366.6 373.9,364.8 374.2,372.7 374.5,383.9 374.9,391.7 375.2,395.2 375.5,396.2 375.8,396.3 377.5,396.2 377.8,396.2 378.2,396.1 378.5,396 379.1,396 379.5,396.1 379.8,396.2 380.1,396.3 381.1,396.3 381.5,396.2 381.8,396.2 382.8,396.2 383.1,396.2 388.7,396.3 389,396.3 389.4,396.2 389.7,396.2 390.4,396.2 390.7,396.2 391,396.3 391.4,396.3 397,396.3 397.3,396.3 397.6,396.2 398,396.1 399.6,396.1 399.9,396 400.3,396 400.6,396 400.9,396 401.3,396.1 401.6,396.2 401.9,396.2 411.5,396.2 411.8,396.1 412.1,396.1 412.8,396 413.1,396.1 413.5,396.2 413.8,396.3 414.1,396.3 417.8,396.3 418.1,396.3 418.4,396.2 418.7,396.1 419.1,396 421.1,396.1 421.4,396.2 421.7,396.3 422,396.1 422.4,394.8 422.7,391 423,383.6 423.4,375.2 423.7,371.5 424,375.8 424.4,384.3 424.7,391.1 425,393.4 425.3,391.2 425.7,384.9 426,377.7 426.3,374.7 426.7,378.7 427,386.1 427.3,392.2 427.7,395.2 428,396.2 428.3,396.2 428.6,396.2 429.3,396.2 429.6,396.2 430,396.3 430.6,396.3 431,396.2 431.3,396.1 431.6,396 432.3,396 432.6,396.1 432.9,396.2 433.3,396.3 433.6,396.3 434.3,396.3 434.6,396.3 434.9,396.2 435.2,396.1 441.8,396.4 442.2,396.3 442.5,395.8 442.8,393.8 443.2,388.9 443.5,381.1 443.8,374.4 444.2,374.1 444.5,380.4 444.8,388.2 445.1,392.8 445.5,392.8 445.8,388 446.1,379.8 446.5,372.9 446.8,372.9 447.1,379.8 447.5,388.1 447.8,393.5 448.1,395.7 448.4,396.1 448.8,396.1 449.1,396.1 449.4,396.2 449.8,396.3 450.4,396.3 450.8,396.3 451.1,396.2 451.4,396.1 451.7,396 454.4,396.1 454.7,396.2 455,396.3 455.4,396.3 459,396.4 459.3,396.3 459.7,396.2 460,396.1 460.3,395.9 460.7,395.9 461.3,395.9 461.6,396 462,396.1 462.3,396.1 462.6,395 463,391.4 463.3,384.3 463.6,375.6 464,371.2 464.3,374.8 464.6,383.3 464.9,390.8 465.3,394.7 465.6,396 466.9,396.1 467.3,396.1 467.6,396" fill="none" stroke="#6060ff" stroke-opacity="0.75" stroke-width="0.95" stroke-linejoin="round"/>
<polyline points="352.9,456.8 355.2,456.7 355.5,456.6 355.9,456.6 356.9,456.6 357.2,456.7 357.5,456.7 361.2,456.5 361.5,455.4 361.8,451.5 362.1,443.1 362.5,431.5 362.8,423.9 363.1,426.6 363.5,437.1 363.8,447.6 364.1,452.9 364.5,452.5 364.8,447.4 365.1,439.9 365.4,435.1 365.8,437.1 366.1,444.1 366.4,450.8 366.8,453.7 367.1,451.6 367.4,444.7 367.8,435.1 368.1,429.3 368.4,432.2 368.7,441.2 369.1,449.8 369.4,454.6 369.7,456.3 370.1,456.4 370.4,456.4 371.1,456.4 371.4,456.5 371.7,456.5 372,456.6 377.3,456.7 377.7,456.6 378,456.6 379,456.6 379.3,456.6 379.6,456.7 381.3,456.7 381.6,456.7 381.9,456.6 382.3,456.5 382.6,456.3 383.3,456.3 383.6,456.4 383.9,456.5 385.2,456.6 385.6,456.7 385.9,456.7 386.2,456.8 386.6,456.5 386.9,455.4 387.2,451.7 387.6,443.5 387.9,432.6 388.2,425.6 388.5,428.3 388.9,438.4 389.2,448.2 389.5,453 389.9,452 390.2,445.9 390.5,437.4 390.9,432.1 391.2,434.6 391.5,442.6 391.8,450.2 392.2,453.5 392.5,451.6 392.8,444.9 393.2,435.7 393.5,430.3 393.8,433.3 394.2,442 394.5,449.9 394.8,453.1 395.1,450.5 395.5,442.3 395.8,431.5 396.1,425.4 396.5,429.2 396.8,439.7 397.1,449.3 397.5,454.5 397.8,456.3 398.1,456.7 398.4,456.8 399.1,456.7 399.4,456.7 399.8,456.6 400.1,456.3 400.4,454.5 400.8,448.6 401.1,436.6 401.4,421.4 401.7,413.1 402.1,418.7 402.4,433.2 402.7,446.3 403.1,452.2 403.4,451.2 403.7,444.6 404.1,436 404.4,431.4 404.7,434.9 405,443.5 405.4,451.1 405.7,455.1 406,456.4 407,456.4 407.4,456.5 407.7,456.6 410.7,456.6 411,456.6 411.3,455.7 411.6,452.4 412,444.1 412.3,430.9 412.6,419.4 413,418.7 413.3,429.4 413.6,442.9 414,451.8 414.3,455.5 414.6,456.6 419.9,456.8 420.2,456.7 420.6,456.6 420.9,456.5 421.2,456.4 421.5,456.3 423.5,456.4 423.9,456.5 424.2,456.5 424.5,456.6 424.8,455.8 425.2,452.8 425.5,445.6 425.8,434.9 426.2,426.6 426.5,427.3 426.8,436.5 427.2,446.9 427.5,453.4 427.8,456 428.1,456.7 428.5,456.8 429.8,456.7 430.1,456.4 430.5,455 430.8,450.8 431.1,443.1 431.4,434.6 431.8,431.5 432.1,436.3 432.4,445.1 432.8,452.1 433.1,455.5 433.4,456.5 433.8,456.8 437.4,456.7 437.7,456.6 438,456.5 438.4,456.4 438.7,456.3 440.4,456.3 440.7,456.4 441,456.4 441.3,456.5 441.7,455.8 442,452.9 442.3,446.1 442.7,436.2 443,428.7 443.3,429.7 443.7,438.4 444,447.9 444.3,453.8 444.6,456.1 445,456.4 445.3,456.4 445.6,456.5 446,456.6 446.3,456.6 447.9,456.5 448.3,456.6 448.6,456.7 448.9,456.7 452.9,456.8 453.2,456.7 453.6,456.6 453.9,456.5 454.2,456.4 454.5,456.3 454.9,456.3 455.2,456.4 455.5,456.5 455.9,456.4 456.2,454.9 456.5,450.6 456.9,442.5 457.2,433.4 457.5,429.7 457.8,434.6 458.2,444 458.5,451.6 458.8,455.3 459.2,456.5 459.5,456.7 459.8,456.7 460.2,456.7 460.5,456.6 460.8,456.5 461.1,456.4 464.4,456.4 464.8,456.4 465.1,456.5 465.4,456.6 465.8,456.7 466.8,456.7 467.1,456.7" fill="none" stroke="#3aa870" stroke-opacity="0.81" stroke-width="0.95" stroke-linejoin="round"/>
<polyline points="352.9,456.8 354.6,456.8 354.9,456.7 355.2,456.1 355.5,453.7 355.9,447.5 356.2,436.9 356.5,426.9 356.9,425 357.2,432.9 357.5,444.1 357.9,452 358.2,455.1 358.5,454.6 358.8,450.9 359.2,444.1 359.5,437.5 359.8,436.1 360.2,441.1 360.5,448.4 360.8,453.6 361.2,456 361.5,456.6 361.8,456.7 364.5,456.7 364.8,456.6 365.1,456.5 365.4,456.5 366.1,456.5 366.4,456.6 366.8,456.6 367.1,456.7 367.8,456.7 368.1,456.6 368.4,456.5 368.7,456.5 369.4,456.5 369.7,455.6 370.1,452.4 370.4,445.4 370.7,436.2 371.1,430.4 371.4,432.9 371.7,441.5 372,449.8 372.4,453.8 372.7,452.9 373,446.4 373.4,434.6 373.7,423 374,420.6 374.4,429.3 374.7,442.1 375,451.2 375.3,455.3 375.7,456.5 376,456.5 376.3,456.5 378.3,456.6 378.6,456.6 379,456.7 380,456.8 380.3,456.7 380.6,455.9 381,453.1 381.3,445.7 381.6,433.4 381.9,421.8 382.3,419.9 382.6,429.3 382.9,442.3 383.3,451.3 383.6,454.9 383.9,454.3 384.3,450.1 384.6,442.6 384.9,435.5 385.2,434.1 385.6,439.7 385.9,447.7 386.2,453.4 386.6,455.9 386.9,456.3 387.2,456.4 387.6,456.5 387.9,456.6 388.2,456.6 388.5,456.7 393.8,456.7 394.2,456.6 394.5,456.5 394.8,456.4 395.5,456.4 395.8,456.5 396.1,456.6 396.5,456.7 396.8,456.7 397.1,456.7 397.5,456 397.8,454.1 398.1,450.2 398.4,445.4 398.8,442.8 399.1,444.7 399.4,449.4 399.8,453.6 400.1,455.8 400.4,456.5 400.8,456.4 401.1,456.4 401.7,456.4 402.1,456.5 402.4,456.5 402.7,456.6 405.4,456.7 405.7,456.4 406,455.1 406.4,451.9 406.7,446.7 407,442.2 407.4,441.9 407.7,446 408,451.1 408.3,453.8 408.7,452 409,444.5 409.3,432 409.7,421.4 410,421.1 410.3,431.3 410.7,444 411,452.2 411.3,455.7 411.6,456.3 412,456.3 412.3,456.4 412.6,456.5 413,456.6 413.3,456.7 422.9,456.6 423.2,456.7 423.5,456.7 425.2,456.7 425.5,456.6 426.5,456.6 426.8,456.7 427.2,456.7 431.8,456.7 432.1,456.7 432.4,456.6 432.8,456.5 433.1,456.4 433.4,455.6 433.8,452.9 434.1,447.7 434.4,441.9 434.7,439.7 435.1,442.8 435.4,448.8 435.7,453.5 436.1,455.4 436.4,454.6 436.7,450 437.1,441.1 437.4,430.9 437.7,426.7 438,432.1 438.4,442.4 438.7,450.9 439,455.1 439.4,456.5 439.7,456.7 447.3,456.6 447.6,456.7 452.9,456.7 453.2,456.6 453.6,456.5 453.9,456.4 454.2,456.4 454.5,456.4 454.9,456.4 455.2,456.5 456.9,456.5 457.2,456.5 457.5,456.6 457.8,456.7 458.2,456.8 460.8,456.7 461.1,456.3 461.5,454.5 461.8,449.3 462.1,439.9 462.5,429.7 462.8,426.3 463.1,432.5 463.5,443.1 463.8,451.4 464.1,455.3 464.4,456.5 464.8,456.7 465.4,456.7 465.8,456.6 466.1,456.6 466.4,456.5 467.1,456.4" fill="none" stroke="#555555" stroke-opacity="0.81" stroke-width="0.95" stroke-linejoin="round"/>
<polyline points="352.9,446.4 353.2,438.5 353.6,434.1 353.9,436.9 354.2,444.5 354.6,451.4 354.9,455.1 355.2,456.4 355.5,456.6 355.9,456.7 360.2,456.7 360.5,456.7 360.8,456.6 361.8,456.6 362.1,456.6 362.5,456.7 363.5,456.7 363.8,456.6 364.1,456.5 364.8,456.5 365.1,456.6 365.4,456.7 365.8,456.7 369.7,456.6 370.1,456.6 370.4,456.5 370.7,456.4 371.1,456.3 371.4,456.4 371.7,456.4 372,456.6 372.4,456.7 372.7,456.7 375,456.6 375.3,456.7 375.7,456.7 377,456.8 377.3,456.7 377.7,456.2 378,454.1 378.3,448.8 378.6,440 379,431.9 379.3,430.8 379.6,437.6 380,446.8 380.3,453.1 380.6,455.8 381,456.6 381.3,456.6 381.6,456.7 382.3,456.6 382.6,456.5 382.9,456.4 383.3,456.4 383.6,456.4 383.9,456.4 384.3,456.5 384.6,456.6 386.6,456.6 386.9,456.6 387.2,456.7 393.2,456.5 393.5,456.6 393.8,456.6 394.5,456.6 394.8,456.5 395.1,456.4 395.5,456.3 395.8,456.3 396.1,456.4 396.5,456.5 396.8,456.6 397.1,456.7 402.4,456.7 402.7,456.7 403.1,456.6 403.4,456.5 404.1,456.5 404.4,456.5 404.7,456.6 405,456.7 410.3,456.6 410.7,456.5 411.6,456.5 412,456.6 413.3,456.7 413.6,456 414,453.5 414.3,447.5 414.6,438.4 414.9,431.1 415.3,431.5 415.6,439.2 415.9,448.1 416.3,453.6 416.6,455.1 416.9,452.8 417.3,445.8 417.6,435 417.9,426.2 418.2,426.4 418.6,435.5 418.9,446.1 419.2,452.1 419.6,451.8 419.9,445.3 420.2,434.6 420.6,426 420.9,426.6 421.2,435.9 421.5,446.4 421.9,452.3 422.2,452.2 422.5,446.4 422.9,436.9 423.2,429.6 423.5,430.5 423.9,438.8 424.2,448.1 424.5,453.8 424.8,456.1 425.2,456.7 426.8,456.8 427.2,456.6 427.5,455.9 427.8,453.4 428.1,447.4 428.5,438.7 428.8,432.1 429.1,433 429.5,440.6 429.8,449 430.1,454.2 430.5,456.2 430.8,456.7 431.1,456.7 431.4,456.6 431.8,456.5 432.1,456.4 432.4,456.4 432.8,456.5 433.1,456.6 433.4,456.7 433.8,456.7 434.7,456.7 435.1,456.7 435.4,456.6 435.7,456.5 436.7,456.5 437.1,456.6 437.4,456.7 438.7,456.7 439,456.1 439.4,454 439.7,448.9 440,441.4 440.4,435.6 440.7,436.1 441,442.6 441.3,449.9 441.7,454.4 442,456.2 442.3,456.7 444.3,456.6 444.6,456.5 445,456.4 445.6,456.4 446,456.5 447,456.5 447.3,455.7 447.6,452.6 447.9,445.3 448.3,434.8 448.6,426.9 448.9,428.1 449.3,437.4 449.6,447.5 449.9,453.7 450.3,456.1 450.6,456.7 452.6,456.7 452.9,456.4 453.2,454.9 453.6,450.6 453.9,442.6 454.2,433.7 454.5,430.2 454.9,435.3 455.2,444.5 455.5,451.8 455.9,455.4 456.2,456.5 456.5,456.7 457.2,456.7 457.5,456.6 457.8,456.5 458.2,456.4 458.5,456.4 458.8,454.7 459.2,450.1 459.5,441.5 459.8,432 460.2,428.5 460.5,434 460.8,443.8 461.1,451.6 461.5,455.3 461.8,456.5 462.1,456.6 464.1,456.6 464.4,456.7 465.4,456.7 465.8,456.7 466.1,456.6 466.4,456.5 467.1,456.5" fill="none" stroke="#ff4646" stroke-opacity="0.85" stroke-width="0.95" stroke-linejoin="round"/>
<polyline points="352.9,456.8 353.6,456.7 353.9,456.7 354.2,456.5 354.6,456.4 354.9,456.4 358.5,456.4 358.8,456.4 359.2,456.5 359.5,456.6 359.8,456.6 361.2,456.7 361.5,456.6 361.8,456.5 362.1,456.4 362.8,456.4 363.1,456.5 363.5,456.6 363.8,456.7 364.1,456.8 368.4,456.7 368.7,456.6 369.1,456.6 369.4,456.5 370.1,456.5 370.4,456.6 370.7,456.7 371.1,456.7 374.4,456.7 374.7,456.6 375,455.7 375.3,453 375.7,447.3 376,440 376.3,435.9 376.7,438.4 377,445.3 377.3,451.8 377.7,455.2 378,456.5 378.3,456.8 384.6,456.7 384.9,456.6 385.2,456.5 385.6,456.4 386.2,456.4 386.6,456.4 386.9,456.5 388.2,456.6 388.5,456.6 388.9,456.7 389.2,456.7 394.5,456.6 394.8,456.5 395.1,456.5 395.8,456.5 396.1,456.5 396.5,456.6 396.8,456.7 407.4,456.7 407.7,456.7 408,456.6 408.3,456.5 409,456.5 409.3,456.6 409.7,456.6 410,456.7 410.7,456.7 411,456.6 411.3,456.5 411.6,456.4 412.3,456.4 412.6,456.5 413,456.6 413.3,456.7 426.8,456.7 427.2,456.7 427.5,456.6 427.8,456.5 430.8,456.6 431.1,456.5 431.4,456.4 431.8,456.3 432.4,456.4 432.8,456.4 433.1,456.5 434.7,456.6 435.1,456.6 435.4,456.7 435.7,456.7 437.1,456.7 437.4,456.7 437.7,456.6 438,456.6 438.7,456.5 439,456.4 439.4,456.4 440,456.4 440.4,456.5 440.7,456.6 441,456.6 441.3,456.6 441.7,456.6 442,456.5 442.3,456.4 443,456.3 443.3,456.4 443.7,456.5 444,456.6 444.3,455.6 444.6,452.2 445,444.4 445.3,433.2 445.6,425.1 446,426.7 446.3,436.6 446.6,447.2 447,453.6 447.3,456 447.6,456.4 447.9,456.5 448.3,456.5 448.6,456.6 448.9,456.6 449.6,456.7 449.9,456.6 450.3,455.5 450.6,451.9 450.9,443.3 451.2,430.7 451.6,421 451.9,422.2 452.2,433.2 452.6,445.4 452.9,452.9 453.2,455.9 453.6,456.6 453.9,456.5 454.5,456.5 454.9,456.5 455.2,456.6 455.5,456.7 455.9,456.8 459.5,456.7 459.8,456.7 460.2,456.6 460.5,456.4 460.8,456.3 461.5,456.4 461.8,456.5 462.1,456.6 462.5,456.7 462.8,456.7 463.8,456.7 464.1,456.4 464.4,455 464.8,451 465.1,443.6 465.4,435.6 465.8,432.7 466.1,437.4 466.4,445.8 466.8,452.4 467.1,455.6" fill="none" stroke="#6060ff" stroke-opacity="0.81" stroke-width="0.95" stroke-linejoin="round"/>
<text transform="translate(4.5,11.7) scale(1,1.045)" font-size="15.7" font-weight="bold" fill="#000">a Blood</text>
<text transform="translate(352.8,11.7) scale(1,1.045)" font-size="15.7" font-weight="bold" fill="#000">b Primary right IDC</text>
<text transform="translate(4.7,165.9) scale(1,1.045)" font-size="15.7" font-weight="bold" fill="#000">c Primary left DCIS</text>
<text transform="translate(352.8,165.6) scale(1,1.045)" font-size="15.7" font-weight="bold" fill="#000">d Primary CRC</text>
<text transform="translate(4.3,336.5) scale(1,1.045)" font-size="15.7" font-weight="bold" fill="#000">e Metastatic hilar node</text>
<text transform="translate(352.5,336) scale(1,1.045)" font-size="15.7" font-weight="bold" fill="#000">f PDX from hilar node</text>
<text x="4.7" y="29" font-size="10.4" fill="#111">exon 10</text>
<text x="4.9" y="93.7" font-size="10.4" fill="#111">exon 16</text>
<text x="354.7" y="30.9" font-size="10.4" fill="#111">exon 10</text>
<text x="354.7" y="95.5" font-size="10.4" fill="#111">exon 16</text>
<text x="5" y="188.7" font-size="10.4" fill="#111">exon 10</text>
<text x="4.9" y="258.1" font-size="10.4" fill="#111">exon 16</text>
<text x="352.9" y="189.9" font-size="10.4" fill="#111">exon 10</text>
<text x="352.9" y="258.1" font-size="10.4" fill="#111">exon 16</text>
<text x="4.9" y="352.4" font-size="10.4" fill="#111">exon 10</text>
<text x="4.9" y="412.1" font-size="10.4" fill="#111">exon 16</text>
<text x="355.9" y="354" font-size="10.4" fill="#111">exon 10</text>
<text x="355.9" y="413" font-size="10.4" fill="#111">exon 16</text>
<path d="M63 35.4L63 38.4M61.7 36.15L64.3 37.65M61.7 37.65L64.3 36.15" stroke="#000" stroke-width="0.95" stroke-linecap="round"/>
<path d="M59.5 94.7L59.5 97.7M58.2 95.45L60.8 96.95M58.2 96.95L60.8 95.45" stroke="#000" stroke-width="0.95" stroke-linecap="round"/>
<path d="M415.7 42.5L415.7 45.5M414.4 43.25L417 44.75M414.4 44.75L417 43.25" stroke="#000" stroke-width="0.95" stroke-linecap="round"/>
<path d="M406.5 94.7L406.5 97.7M405.2 95.45L407.8 96.95M405.2 96.95L407.8 95.45" stroke="#000" stroke-width="0.95" stroke-linecap="round"/>
<path d="M65.1 197.2L65.1 200.2M63.8 197.95L66.4 199.45M63.8 199.45L66.4 197.95" stroke="#000" stroke-width="0.95" stroke-linecap="round"/>
<path d="M59.5 264.5L59.5 267.5M58.2 265.25L60.8 266.75M58.2 266.75L60.8 265.25" stroke="#000" stroke-width="0.95" stroke-linecap="round"/>
<path d="M416.3 196.2L416.3 199.2M415 196.95L417.6 198.45M415 198.45L417.6 196.95" stroke="#000" stroke-width="0.95" stroke-linecap="round"/>
<path d="M411 263.1L411 266.1M409.7 263.85L412.3 265.35M409.7 265.35L412.3 263.85" stroke="#000" stroke-width="0.95" stroke-linecap="round"/>
<path d="M67.4 360.8L67.4 363.8M66.1 361.55L68.7 363.05M66.1 363.05L68.7 361.55" stroke="#000" stroke-width="0.95" stroke-linecap="round"/>
<path d="M58.1 408.7L58.1 411.7M56.8 409.45L59.4 410.95M56.8 410.95L59.4 409.45" stroke="#000" stroke-width="0.95" stroke-linecap="round"/>
<path d="M418.4 359.5L418.4 362.5M417.1 360.25L419.7 361.75M417.1 361.75L419.7 360.25" stroke="#000" stroke-width="0.95" stroke-linecap="round"/>
<path d="M410 414.4L410 417.4M408.7 415.15L411.3 416.65M408.7 416.65L411.3 415.15" stroke="#000" stroke-width="0.95" stroke-linecap="round"/>
</svg></body></html>
